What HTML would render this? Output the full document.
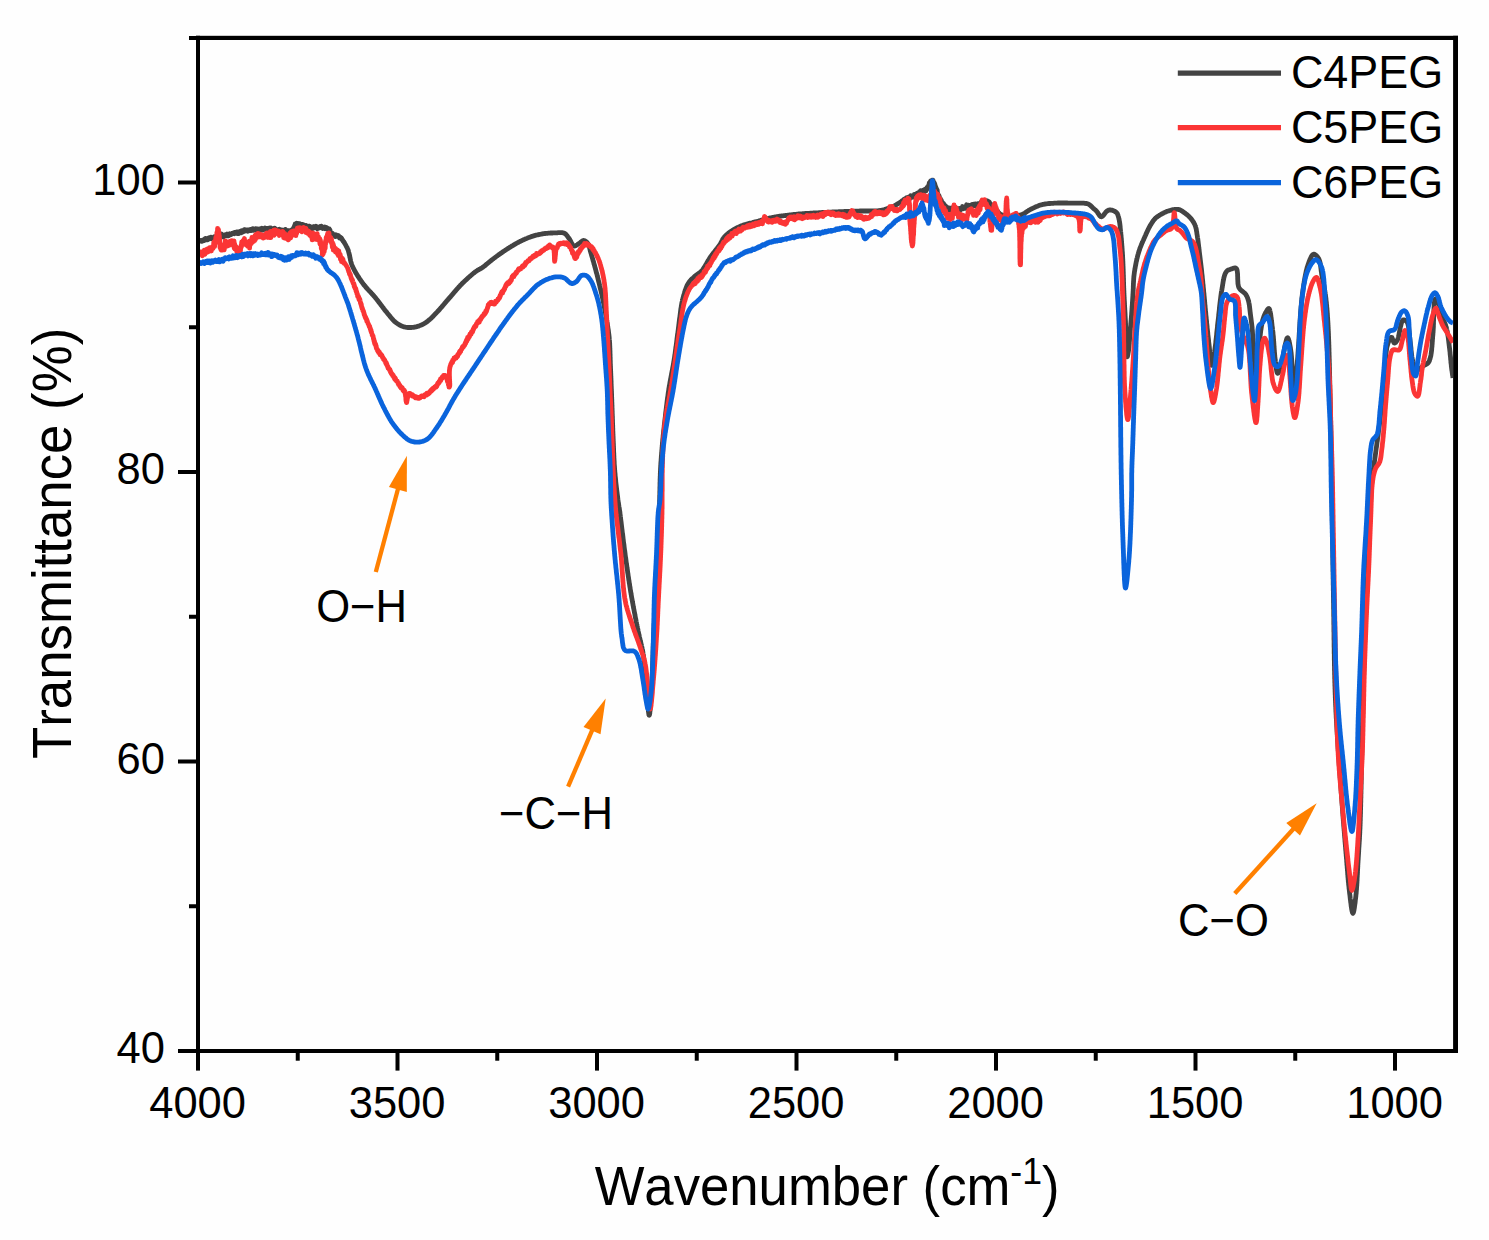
<!DOCTYPE html>
<html lang="en">
<head>
<meta charset="utf-8">
<title>FTIR spectra of C4PEG, C5PEG and C6PEG</title>
<style>
html,body{margin:0;padding:0;background:#fefefe;}
body{width:1489px;height:1240px;overflow:hidden;font-family:"Liberation Sans",sans-serif;}
svg{display:block;position:absolute;left:0;top:0;}
.t{font-family:"Liberation Sans",sans-serif;font-size:42.6px;fill:#000;font-kerning:none;}
</style>
</head>
<body>
<svg width="1489" height="1240" viewBox="0 0 1489 1240">
<rect x="0" y="0" width="1489" height="1240" fill="#fefefe"/>
<rect x="200.0" y="40.0" width="1253.1" height="1009.0" fill="#fefefe"/>
<g shape-rendering="auto">
<rect x="178.00" y="1049.00" width="19.00" height="4.00" fill="#000"/>
<rect x="178.00" y="759.50" width="19.00" height="4.00" fill="#000"/>
<rect x="178.00" y="470.00" width="19.00" height="4.00" fill="#000"/>
<rect x="178.00" y="180.50" width="19.00" height="4.00" fill="#000"/>
<rect x="189.00" y="904.25" width="8.00" height="4.00" fill="#000"/>
<rect x="189.00" y="614.75" width="8.00" height="4.00" fill="#000"/>
<rect x="189.00" y="325.25" width="8.00" height="4.00" fill="#000"/>
<rect x="189.00" y="36.00" width="8.00" height="4.00" fill="#000"/>
<rect x="196.00" y="1052.00" width="4.00" height="18.60" fill="#000"/>
<rect x="395.50" y="1052.00" width="4.00" height="18.60" fill="#000"/>
<rect x="595.00" y="1052.00" width="4.00" height="18.60" fill="#000"/>
<rect x="794.50" y="1052.00" width="4.00" height="18.60" fill="#000"/>
<rect x="994.00" y="1052.00" width="4.00" height="18.60" fill="#000"/>
<rect x="1193.50" y="1052.00" width="4.00" height="18.60" fill="#000"/>
<rect x="1393.00" y="1052.00" width="4.00" height="18.60" fill="#000"/>
<rect x="295.75" y="1052.00" width="4.00" height="8.70" fill="#000"/>
<rect x="495.25" y="1052.00" width="4.00" height="8.70" fill="#000"/>
<rect x="694.75" y="1052.00" width="4.00" height="8.70" fill="#000"/>
<rect x="894.25" y="1052.00" width="4.00" height="8.70" fill="#000"/>
<rect x="1093.75" y="1052.00" width="4.00" height="8.70" fill="#000"/>
<rect x="1293.25" y="1052.00" width="4.00" height="8.70" fill="#000"/>
</g>
<clipPath id="pc"><rect x="200.0" y="40.0" width="1253.1" height="1009.0"/></clipPath>
<g clip-path="url(#pc)">
<path d="M198.0 241.4L198.8 241.1L199.1 241.0L199.4 240.9L199.6 241.0L199.9 241.0L200.2 240.8L200.4 240.6L200.7 240.9L201.0 240.9L201.2 241.1L201.5 240.5L201.8 240.5L202.0 240.8L202.3 241.2L202.6 240.5L202.8 240.4L203.1 240.0L203.4 240.1L203.7 240.7L203.9 240.5L204.2 240.6L204.5 239.1L204.7 240.2L205.0 239.2L205.3 239.9L205.5 238.3L205.8 239.4L206.1 238.9L206.3 239.9L206.6 239.2L206.9 239.7L207.2 238.8L207.4 239.9L207.7 238.6L208.0 239.7L208.2 238.4L208.5 238.1L208.8 239.0L209.0 238.4L209.3 238.5L209.6 237.8L209.8 238.3L210.1 238.5L210.4 238.1L210.7 238.6L210.9 237.2L211.2 238.7L211.5 238.0L211.7 238.9L212.0 238.0L212.3 237.8L212.5 237.8L212.8 238.1L213.1 238.2L213.3 237.7L213.6 237.5L213.9 238.0L214.1 238.2L214.4 236.8L214.7 237.1L214.9 237.3L215.2 238.4L215.5 238.2L215.7 237.9L216.0 237.6L216.3 236.7L216.5 237.7L216.8 236.8L217.1 236.5L217.3 237.7L217.6 235.9L217.9 237.2L218.1 236.5L218.4 235.8L218.7 236.3L218.9 235.7L219.2 236.2L219.5 235.7L219.7 235.4L220.0 237.3L220.3 235.6L220.5 236.3L220.8 235.7L221.1 236.1L221.3 235.1L221.6 235.2L221.8 234.0L222.1 236.2L222.4 235.9L222.6 235.1L222.9 236.1L223.2 236.0L223.4 237.1L223.7 235.7L223.9 236.0L224.2 235.8L224.5 235.8L224.7 235.3L225.0 235.1L225.2 235.6L225.5 235.8L225.8 234.5L226.1 234.5L226.3 235.0L226.6 235.9L226.9 234.8L227.2 234.1L227.5 235.3L227.7 235.2L228.0 235.8L228.3 234.9L228.6 235.7L228.8 234.3L229.1 235.0L229.4 234.6L229.7 233.8L229.9 234.2L230.2 234.9L230.5 234.8L230.8 233.9L231.0 234.6L231.3 234.4L231.6 234.3L231.9 233.9L232.1 233.8L232.4 233.2L232.7 233.5L233.0 233.5L233.3 232.9L233.5 233.1L233.8 233.2L234.1 233.2L234.4 233.6L234.6 232.4L234.9 232.7L235.2 233.0L235.4 232.6L235.7 232.9L236.0 232.4L236.3 233.2L236.5 232.6L236.8 232.1L237.1 233.1L237.4 233.6L237.6 231.8L237.9 232.7L238.2 232.8L238.4 233.3L238.7 233.5L239.0 232.5L239.3 231.7L239.5 232.7L239.8 232.7L240.1 232.3L240.3 232.0L240.6 231.4L240.9 232.9L241.1 231.0L241.4 230.8L241.7 231.9L241.9 231.5L242.2 231.7L242.5 231.4L242.7 232.0L243.0 231.9L243.3 230.8L243.5 231.5L243.8 230.4L244.0 230.0L244.3 231.4L244.6 230.6L244.8 229.6L245.1 230.7L245.3 230.3L245.6 230.8L245.9 230.5L246.1 230.1L246.4 230.1L246.6 230.8L246.9 229.9L247.2 230.5L247.4 229.9L247.7 230.6L247.9 231.3L248.2 230.7L248.4 230.9L248.7 230.6L248.9 229.9L249.2 230.2L249.4 230.3L249.7 230.5L250.0 229.9L250.3 230.5L250.6 229.8L250.9 230.1L251.2 230.1L251.4 229.4L251.7 230.5L252.0 230.0L252.3 229.9L252.6 229.8L252.8 228.7L253.1 229.0L253.4 229.3L253.7 230.2L253.9 229.3L254.2 229.9L254.5 229.1L254.8 229.1L255.0 229.3L255.3 230.1L255.6 228.7L255.8 229.4L256.1 229.7L256.4 229.5L256.6 229.5L256.9 229.8L257.2 229.6L257.4 228.9L257.7 229.7L258.0 229.0L258.2 229.2L258.5 230.1L258.8 230.6L259.0 230.1L259.3 229.6L259.6 229.0L259.8 229.0L260.1 230.2L260.4 229.5L260.6 228.6L260.9 230.1L261.2 229.6L261.4 230.0L261.7 229.5L262.0 228.3L262.2 229.0L262.5 229.3L262.8 229.3L263.1 230.1L263.3 229.0L263.6 229.3L263.9 229.3L264.2 229.3L264.4 228.8L264.7 228.7L265.0 228.0L265.3 229.4L265.6 229.1L265.8 229.3L266.1 228.6L266.4 229.1L266.7 228.6L267.0 228.6L267.3 229.2L267.6 229.3L267.8 229.2L268.1 228.9L268.3 228.6L268.6 229.5L268.9 229.4L269.1 228.4L269.4 228.1L269.7 228.9L270.0 228.9L270.2 228.4L270.5 230.1L270.8 228.0L271.1 228.7L271.4 229.3L271.7 229.8L272.0 228.5L272.3 229.2L272.6 230.2L272.9 230.1L273.2 229.3L273.5 229.4L273.8 228.9L274.1 229.5L274.4 228.8L274.7 228.2L275.0 228.5L275.3 229.4L275.6 228.8L275.9 230.1L276.2 230.3L276.5 230.2L276.8 230.1L277.2 230.4L277.5 230.0L277.8 230.3L278.1 230.2L278.4 230.3L278.7 229.4L279.0 229.6L279.3 229.4L279.6 230.3L280.0 230.2L280.3 229.6L280.6 229.6L280.9 229.9L281.2 230.7L281.5 230.3L281.8 230.3L282.1 230.2L282.4 230.5L282.7 231.4L283.0 230.3L283.3 230.5L283.6 231.5L283.8 231.0L284.1 230.1L284.4 231.2L284.7 230.0L285.0 230.9L285.3 229.4L285.5 230.2L285.8 231.2L286.1 230.5L286.3 230.5L286.6 230.9L286.9 230.9L287.1 230.7L287.4 230.6L287.6 231.9L287.8 231.8L288.1 231.3L288.3 230.6L288.6 231.0L288.8 231.2L289.0 231.6L289.2 232.2L289.4 231.2L289.7 231.6L289.9 231.3L290.1 231.6L290.3 231.2L290.4 231.6L290.6 231.9L290.8 231.0L291.0 231.0L291.1 231.1L291.3 230.2L291.5 231.7L291.6 230.0L291.8 230.4L292.0 229.8L292.3 230.8L292.5 229.5L292.7 229.3L292.9 230.3L293.1 229.0L293.2 228.5L293.3 228.6L293.5 228.5L293.6 227.8L293.7 227.8L293.8 227.6L293.9 227.7L294.0 227.4L294.2 227.1L294.3 226.3L294.4 226.5L294.5 225.7L294.6 226.1L294.8 225.4L294.9 224.8L295.1 225.4L295.2 223.9L295.4 224.0L295.6 224.0L295.9 224.3L296.1 223.6L296.3 223.6L296.6 223.2L296.8 224.2L297.1 223.7L297.4 225.2L297.6 224.5L297.9 223.5L298.2 224.8L298.5 224.2L298.7 224.7L299.0 223.6L299.3 224.8L299.6 224.8L299.9 224.1L300.2 223.9L300.5 224.2L300.7 224.5L300.9 225.6L301.2 225.3L301.4 225.2L301.6 224.4L301.9 224.4L302.1 224.8L302.4 224.5L302.6 224.5L302.9 224.7L303.1 225.4L303.4 225.0L303.6 225.3L303.9 225.1L304.1 225.3L304.4 225.3L304.7 226.2L304.9 225.9L305.2 226.6L305.5 225.8L305.8 226.6L306.0 225.4L306.3 226.0L306.6 226.3L306.9 226.1L307.2 226.5L307.5 226.1L307.8 226.6L308.1 226.4L308.4 226.8L308.7 226.7L309.0 226.4L309.3 226.7L309.6 226.9L309.9 226.3L310.2 227.1L310.4 227.7L310.6 227.1L310.9 227.5L311.1 227.6L311.4 227.0L311.7 228.1L311.9 228.8L312.2 227.1L312.5 228.7L312.8 227.2L313.1 228.3L313.4 226.6L313.6 228.1L313.9 227.5L314.2 226.8L314.5 227.0L314.8 226.8L315.2 226.9L315.5 227.6L315.8 227.4L316.1 226.3L316.4 227.5L316.7 227.9L317.0 227.8L317.3 228.7L317.7 227.0L318.0 228.0L318.3 227.8L318.6 228.1L318.9 226.9L319.2 226.9L319.6 227.4L319.9 227.4L320.2 226.4L320.5 227.5L320.8 227.3L321.1 227.7L321.4 226.1L321.7 227.7L322.0 227.0L322.3 227.3L322.6 227.9L322.9 228.4L323.2 227.7L323.5 227.5L323.8 228.2L324.0 227.1L324.3 227.5L324.6 227.3L324.8 227.1L325.1 227.7L325.3 228.7L325.6 227.8L325.8 228.0L326.1 227.8L326.3 228.4L326.5 228.0L326.7 227.6L327.0 228.2L327.2 228.9L327.3 228.2L327.5 229.0L327.7 228.4L327.9 229.6L328.1 228.8L328.3 229.1L328.5 228.8L328.8 229.5L328.9 229.1L329.1 228.7L329.3 229.7L329.4 229.2L329.6 230.7L329.7 230.6L329.8 230.5L329.9 231.2L330.0 229.8L330.1 232.2L330.2 231.4L330.3 232.4L330.5 233.6L330.6 231.8L330.7 232.7L330.8 233.3L331.0 233.5L331.1 232.6L331.3 233.2L331.5 234.5L331.7 233.7L331.9 234.3L332.1 233.5L332.3 233.8L332.6 233.4L332.8 234.6L333.1 235.2L333.4 234.7L333.6 234.7L333.9 235.0L334.2 235.2L334.4 234.9L334.7 235.4L335.0 236.2L335.3 236.4L335.6 235.1L335.9 234.7L336.2 236.4L336.5 236.0L336.8 236.1L337.0 235.9L337.3 235.5L337.6 236.2L337.9 236.4L338.2 236.5L338.4 235.5L338.7 236.8L338.9 236.2L339.1 236.3L339.3 236.8L339.5 236.6L339.6 238.1L339.8 237.3L340.0 237.3L340.2 237.2L340.3 237.6L340.5 237.5L340.7 238.1L340.9 238.3L341.0 238.5L341.2 237.8L341.4 238.4L341.5 238.7L341.7 238.5L341.9 239.3L342.1 239.4L342.2 239.7L342.4 240.0L342.6 240.0L342.7 240.7L342.9 240.8L343.1 240.7L343.2 241.2L343.4 241.4L343.5 241.4L343.7 241.7L343.9 242.1L344.0 242.0L344.2 242.4L344.3 242.8L344.5 243.0L344.6 243.2L344.8 243.5L344.9 243.7L345.4 244.5L345.8 245.3L346.2 246.1L346.7 246.8L347.0 247.6L347.4 248.4L347.7 249.1L348.0 249.8L348.3 250.5L348.5 251.3L348.7 252.1L348.9 252.8L349.1 253.6L349.3 254.4L349.5 255.2L349.7 256.0L349.8 256.9L350.0 257.7L350.2 258.5L350.3 259.3L350.5 260.1L350.7 261.0L350.9 261.8L351.1 262.6L351.4 263.4L351.6 264.2L351.9 265.0L352.2 265.7L352.6 266.5L352.9 267.2L353.2 267.9L353.6 268.6L354.0 269.4L354.3 270.1L354.7 270.8L355.1 271.5L355.5 272.2L355.9 273.0L356.4 273.7L356.8 274.4L357.2 275.1L357.7 275.8L358.1 276.5L358.6 277.2L359.0 277.9L359.5 278.6L359.9 279.3L360.4 279.9L360.9 280.6L361.3 281.3L361.8 281.9L362.3 282.6L362.7 283.2L363.2 283.9L363.7 284.6L364.2 285.2L364.8 285.8L365.3 286.4L365.8 287.1L366.3 287.7L366.9 288.3L367.4 288.9L367.9 289.5L368.5 290.0L369.0 290.6L369.6 291.2L370.1 291.8L370.7 292.4L371.2 293.0L371.8 293.6L372.3 294.2L372.9 294.8L373.4 295.4L373.9 296.0L374.5 296.6L375.0 297.2L375.5 297.9L376.0 298.5L376.6 299.2L377.1 299.8L377.6 300.5L378.1 301.2L378.6 301.9L379.2 302.6L379.7 303.2L380.2 303.9L380.7 304.6L381.2 305.3L381.8 306.0L382.3 306.7L382.8 307.3L383.3 308.0L383.8 308.7L384.3 309.3L384.8 310.0L385.3 310.6L385.8 311.2L386.3 311.8L386.8 312.4L387.2 313.0L387.8 313.7L388.4 314.4L388.9 315.0L389.5 315.7L390.0 316.4L390.5 317.0L391.1 317.7L391.6 318.3L392.1 318.9L392.7 319.5L393.2 320.1L393.7 320.6L394.3 321.2L394.8 321.7L395.4 322.2L396.0 322.6L396.7 323.1L397.4 323.6L398.1 324.1L398.8 324.5L399.5 324.9L400.2 325.3L400.9 325.7L401.7 326.0L402.4 326.3L403.2 326.6L404.0 326.8L404.7 327.0L405.5 327.2L406.3 327.3L407.1 327.4L407.9 327.5L408.7 327.5L409.5 327.5L410.3 327.5L411.2 327.5L412.0 327.4L412.8 327.4L413.6 327.3L414.4 327.1L415.2 327.0L416.0 326.8L416.8 326.6L417.5 326.4L418.3 326.2L419.1 325.9L419.8 325.6L420.6 325.3L421.3 325.0L422.1 324.7L422.8 324.3L423.6 323.9L424.3 323.5L425.0 323.1L425.7 322.6L426.4 322.2L427.0 321.7L427.7 321.2L428.3 320.7L428.9 320.2L429.5 319.7L430.1 319.1L430.8 318.6L431.4 318.0L432.0 317.4L432.6 316.8L433.2 316.2L433.8 315.5L434.4 314.9L435.0 314.3L435.6 313.6L436.2 313.0L436.8 312.4L437.3 311.9L437.8 311.3L438.3 310.8L438.9 310.2L439.4 309.6L439.9 309.0L440.4 308.4L441.0 307.8L441.5 307.2L442.0 306.6L442.6 305.9L443.1 305.3L443.6 304.7L444.2 304.0L444.7 303.4L445.2 302.8L445.8 302.1L446.3 301.5L446.8 300.9L447.4 300.3L447.9 299.6L448.5 299.0L449.0 298.4L449.5 297.8L450.1 297.2L450.6 296.6L451.1 296.0L451.6 295.4L452.2 294.7L452.7 294.1L453.2 293.5L453.8 292.9L454.3 292.2L454.8 291.6L455.4 291.0L455.9 290.4L456.4 289.8L457.0 289.1L457.5 288.5L458.1 287.9L458.6 287.3L459.2 286.7L459.7 286.1L460.3 285.5L460.8 284.9L461.4 284.4L461.9 283.8L462.5 283.2L463.1 282.7L463.7 282.1L464.3 281.5L464.9 280.9L465.6 280.3L466.2 279.7L466.9 279.1L467.5 278.5L468.2 277.9L468.8 277.3L469.5 276.7L470.1 276.2L470.7 275.6L471.4 275.1L472.0 274.5L472.6 274.0L473.2 273.5L473.8 273.1L474.4 272.6L474.9 272.2L475.5 271.7L476.0 271.4L476.5 271.0L477.3 270.5L478.0 270.0L478.7 269.7L479.3 269.3L480.0 269.0L480.6 268.7L481.3 268.2L482.1 267.7L482.6 267.4L483.2 267.0L483.8 266.5L484.4 266.1L485.0 265.6L485.6 265.1L486.2 264.5L486.9 264.0L487.5 263.5L488.2 262.9L488.9 262.4L489.5 261.8L490.2 261.2L490.9 260.7L491.6 260.1L492.2 259.6L492.9 259.1L493.5 258.6L494.2 258.1L494.9 257.6L495.5 257.1L496.2 256.6L496.9 256.1L497.5 255.6L498.2 255.1L498.9 254.7L499.5 254.2L500.2 253.7L500.9 253.2L501.6 252.8L502.2 252.3L502.9 251.8L503.6 251.4L504.3 250.9L504.9 250.5L505.6 250.0L506.3 249.6L507.0 249.1L507.7 248.7L508.4 248.2L509.1 247.8L509.8 247.3L510.5 246.9L511.2 246.5L511.9 246.0L512.7 245.6L513.4 245.2L514.1 244.7L514.8 244.3L515.5 243.9L516.2 243.5L516.9 243.1L517.7 242.7L518.4 242.3L519.1 241.9L519.9 241.6L520.6 241.2L521.4 240.8L522.1 240.4L522.9 240.1L523.6 239.7L524.4 239.4L525.1 239.0L525.9 238.7L526.7 238.4L527.4 238.1L528.2 237.7L528.9 237.5L529.7 237.2L530.5 236.9L531.3 236.6L532.1 236.4L532.9 236.1L533.7 235.9L534.5 235.6L535.3 235.4L536.1 235.2L536.9 235.0L537.7 234.8L538.5 234.6L539.3 234.5L540.1 234.3L541.0 234.2L541.8 234.0L542.6 233.9L543.4 233.7L544.2 233.6L545.0 233.5L545.8 233.4L546.6 233.3L547.5 233.3L548.3 233.2L549.1 233.1L549.9 233.1L550.7 233.0L551.5 233.0L552.3 233.0L553.1 232.9L553.9 232.9L554.7 232.9L555.5 232.9L556.4 232.8L557.3 232.8L558.1 232.7L559.0 232.7L559.9 232.6L560.7 232.6L561.5 232.6L562.3 232.7L563.0 232.8L563.7 233.0L564.4 233.3L565.0 233.7L565.7 234.1L566.2 234.7L566.7 235.3L567.2 235.9L567.7 236.6L568.2 237.3L568.7 238.0L569.2 238.7L569.7 239.4L570.2 240.3L570.6 241.1L571.1 242.1L571.5 243.0L572.0 243.8L572.5 244.6L573.0 245.2L573.5 245.7L574.0 246.0L574.8 246.0L575.6 245.7L576.4 245.2L577.2 244.7L578.1 244.1L578.9 243.5L579.6 243.1L580.3 242.5L581.0 242.0L581.7 241.4L582.4 240.9L583.0 240.6L583.7 240.5L584.5 240.7L585.2 241.0L586.0 241.5L586.7 242.1L587.3 242.8L587.9 243.5L588.3 244.1L588.6 244.8L588.9 245.5L589.2 246.2L589.4 247.0L589.6 247.8L589.8 248.7L590.0 249.6L590.2 250.5L590.5 251.4L590.7 252.3L591.0 253.2L591.2 253.9L591.4 254.6L591.6 255.3L591.8 256.0L592.0 256.7L592.2 257.5L592.5 258.3L592.7 259.0L592.9 259.8L593.1 260.6L593.4 261.4L593.6 262.2L593.8 263.0L594.0 263.8L594.3 264.6L594.5 265.4L594.7 266.2L594.9 267.0L595.2 267.8L595.4 268.6L595.6 269.4L595.8 270.2L596.0 271.0L596.2 271.8L596.4 272.6L596.7 273.4L596.9 274.2L597.1 275.0L597.3 275.9L597.5 276.7L597.7 277.5L597.9 278.3L598.1 279.2L598.3 280.0L598.5 280.8L598.7 281.6L598.9 282.4L599.1 283.2L599.3 284.0L599.5 284.8L599.7 285.6L599.9 286.3L600.0 287.1L600.2 287.9L600.4 288.7L600.6 289.5L600.8 290.2L601.0 291.0L601.1 291.7L601.3 292.5L601.5 293.2L601.7 294.0L601.8 294.7L602.0 295.5L602.2 296.2L602.3 297.0L602.5 297.8L602.7 298.7L602.9 299.5L603.1 300.4L603.2 301.1L603.3 301.8L603.5 302.5L603.6 303.2L603.8 304.0L603.9 304.8L604.1 305.6L604.2 306.4L604.4 307.2L604.5 308.0L604.7 308.8L604.9 309.6L605.0 310.5L605.2 311.3L605.3 312.2L605.5 313.0L605.6 313.9L605.8 314.7L605.9 315.6L606.1 316.4L606.2 317.2L606.4 318.1L606.5 318.9L606.6 319.7L606.8 320.5L606.9 321.3L607.0 322.1L607.2 322.8L607.3 323.6L607.4 324.3L607.5 325.0L607.6 325.9L607.8 326.8L607.9 327.7L608.0 328.5L608.2 329.3L608.3 330.1L608.4 330.9L608.5 331.7L608.6 332.5L608.7 333.3L608.8 334.1L608.9 334.8L609.0 335.7L609.1 336.5L609.2 337.3L609.2 338.2L609.3 339.1L609.4 340.0L609.5 340.7L609.5 341.4L609.6 342.2L609.6 342.9L609.7 343.7L609.7 344.4L609.7 345.2L609.8 346.0L609.8 346.8L609.8 347.6L609.9 348.4L609.9 349.2L609.9 350.0L610.0 350.9L610.0 351.7L610.0 352.5L610.0 353.4L610.1 354.2L610.1 355.0L610.1 355.9L610.1 356.7L610.2 357.5L610.2 358.4L610.2 359.2L610.2 360.1L610.3 360.9L610.3 361.7L610.3 362.6L610.3 363.4L610.4 364.2L610.4 365.0L610.4 365.8L610.5 366.6L610.5 367.4L610.5 368.2L610.6 369.0L610.6 369.8L610.6 370.6L610.7 371.5L610.7 372.3L610.7 373.1L610.8 373.9L610.8 374.7L610.8 375.5L610.9 376.3L610.9 377.1L610.9 377.9L611.0 378.7L611.0 379.5L611.0 380.3L611.1 381.1L611.1 381.9L611.1 382.7L611.1 383.5L611.2 384.4L611.2 385.2L611.2 386.0L611.3 386.8L611.3 387.6L611.3 388.4L611.4 389.2L611.4 390.0L611.4 390.8L611.5 391.6L611.5 392.4L611.5 393.2L611.6 394.0L611.6 394.8L611.6 395.6L611.6 396.5L611.7 397.3L611.7 398.1L611.7 398.9L611.8 399.7L611.8 400.5L611.8 401.3L611.8 402.1L611.9 402.9L611.9 403.7L611.9 404.5L612.0 405.3L612.0 406.1L612.0 406.9L612.0 407.7L612.1 408.5L612.1 409.4L612.1 410.2L612.2 411.0L612.2 411.8L612.2 412.6L612.2 413.4L612.3 414.2L612.3 415.0L612.3 415.8L612.4 416.6L612.4 417.4L612.4 418.2L612.4 419.0L612.5 419.8L612.5 420.6L612.5 421.4L612.5 422.2L612.6 423.0L612.6 423.8L612.6 424.6L612.7 425.4L612.7 426.2L612.7 427.0L612.7 427.8L612.8 428.6L612.8 429.4L612.8 430.2L612.8 431.0L612.9 431.8L612.9 432.6L612.9 433.4L613.0 434.2L613.0 435.0L613.0 435.8L613.1 436.7L613.1 437.5L613.1 438.3L613.2 439.2L613.2 440.0L613.2 440.8L613.3 441.6L613.3 442.3L613.3 443.1L613.4 443.9L613.4 444.7L613.4 445.5L613.5 446.3L613.5 447.1L613.5 447.9L613.6 448.7L613.6 449.5L613.6 450.3L613.6 451.2L613.7 452.0L613.7 452.8L613.8 453.6L613.8 454.4L613.8 455.2L613.9 456.1L613.9 456.9L613.9 457.7L614.0 458.5L614.0 459.4L614.1 460.2L614.1 461.0L614.2 461.8L614.2 462.6L614.2 463.5L614.3 464.3L614.3 465.1L614.4 465.9L614.5 466.7L614.5 467.6L614.6 468.4L614.6 469.2L614.7 470.0L614.8 470.8L614.8 471.6L614.9 472.5L615.0 473.3L615.1 474.2L615.1 475.0L615.2 475.9L615.3 476.7L615.4 477.6L615.5 478.5L615.6 479.3L615.7 480.2L615.7 481.1L615.8 482.0L615.9 482.8L616.0 483.7L616.1 484.6L616.2 485.4L616.3 486.3L616.4 487.1L616.5 488.0L616.6 488.8L616.7 489.7L616.8 490.5L616.9 491.3L617.0 492.1L617.1 492.9L617.2 493.7L617.3 494.4L617.4 495.2L617.5 495.9L617.6 496.6L617.7 497.3L617.7 498.0L617.8 498.7L617.9 499.4L618.0 500.0L618.1 500.9L618.2 501.8L618.4 502.6L618.5 503.4L618.6 504.1L618.7 504.8L618.8 505.5L618.9 506.2L619.0 506.9L619.2 507.6L619.3 508.3L619.4 509.1L619.5 510.0L619.7 510.9L619.8 511.9L619.9 512.5L620.0 513.1L620.0 513.7L620.1 514.3L620.2 514.9L620.3 515.6L620.4 516.3L620.5 516.9L620.6 517.7L620.6 518.4L620.7 519.1L620.8 519.8L620.9 520.6L621.0 521.4L621.1 522.1L621.2 522.9L621.3 523.7L621.4 524.5L621.5 525.4L621.6 526.2L621.7 527.0L621.8 527.9L621.9 528.7L622.0 529.6L622.1 530.4L622.2 531.3L622.3 532.2L622.4 533.1L622.6 533.9L622.7 534.8L622.8 535.7L622.9 536.6L623.0 537.5L623.1 538.4L623.2 539.3L623.3 540.1L623.4 541.0L623.5 541.9L623.6 542.8L623.8 543.7L623.9 544.6L624.0 545.4L624.1 546.3L624.2 547.2L624.3 548.1L624.4 548.9L624.5 549.8L624.7 550.6L624.8 551.4L624.9 552.3L625.0 553.1L625.1 553.9L625.2 554.7L625.3 555.5L625.4 556.3L625.5 557.1L625.7 557.9L625.8 558.8L625.9 559.6L626.0 560.4L626.1 561.2L626.2 562.0L626.3 562.8L626.5 563.6L626.6 564.4L626.7 565.3L626.8 566.1L626.9 566.9L627.0 567.7L627.2 568.5L627.3 569.3L627.4 570.1L627.5 570.9L627.6 571.8L627.7 572.6L627.9 573.4L628.0 574.2L628.1 575.0L628.2 575.8L628.3 576.6L628.5 577.4L628.6 578.2L628.7 579.0L628.8 579.9L629.0 580.7L629.1 581.5L629.2 582.3L629.3 583.1L629.5 583.9L629.6 584.7L629.7 585.5L629.8 586.3L630.0 587.1L630.1 587.9L630.2 588.7L630.3 589.5L630.5 590.3L630.6 591.1L630.7 591.9L630.9 592.7L631.0 593.4L631.1 594.2L631.3 595.0L631.4 595.8L631.5 596.6L631.7 597.4L631.8 598.2L632.0 599.1L632.1 599.9L632.3 600.7L632.4 601.5L632.6 602.4L632.7 603.2L632.9 604.0L633.0 604.9L633.2 605.7L633.3 606.5L633.5 607.4L633.6 608.2L633.8 609.0L634.0 609.9L634.1 610.7L634.3 611.5L634.4 612.4L634.6 613.2L634.8 614.0L634.9 614.8L635.1 615.7L635.2 616.5L635.4 617.3L635.5 618.1L635.7 618.9L635.9 619.7L636.0 620.5L636.2 621.3L636.3 622.1L636.5 622.8L636.6 623.6L636.8 624.4L637.0 625.1L637.1 625.9L637.3 626.6L637.4 627.4L637.6 628.1L637.7 628.8L637.9 629.5L638.0 630.2L638.1 630.9L638.3 631.6L638.4 632.3L638.6 632.9L638.7 633.6L638.9 634.5L639.1 635.4L639.3 636.2L639.5 637.1L639.7 637.9L639.8 638.7L640.0 639.5L640.2 640.2L640.4 641.0L640.6 641.7L640.8 642.4L640.9 643.2L641.1 643.9L641.3 644.6L641.5 645.4L641.6 646.1L641.8 646.8L642.0 647.6L642.1 648.4L642.3 649.1L642.5 649.9L642.6 650.7L642.8 651.6L642.9 652.4L643.0 653.1L643.1 653.9L643.3 654.6L643.4 655.3L643.5 656.1L643.6 656.9L643.7 657.6L643.8 658.4L643.9 659.2L644.0 659.9L644.1 660.7L644.2 661.5L644.2 662.3L644.3 663.1L644.4 663.9L644.5 664.7L644.6 665.5L644.7 666.3L644.8 667.1L644.8 667.9L644.9 668.8L645.0 669.6L645.1 670.4L645.2 671.2L645.3 672.1L645.3 672.9L645.4 673.8L645.5 674.6L645.6 675.4L645.7 676.3L645.7 677.1L645.8 678.0L645.9 678.8L646.0 679.7L646.1 680.5L646.2 681.3L646.2 682.1L646.3 683.0L646.4 683.9L646.5 684.9L646.5 685.9L646.6 686.8L646.7 687.9L646.8 688.9L646.8 689.9L646.9 691.0L647.0 692.1L647.1 693.1L647.1 694.2L647.2 695.3L647.3 696.4L647.4 697.4L647.4 698.5L647.5 699.6L647.6 700.6L647.7 701.7L647.7 702.7L647.8 703.7L647.9 704.6L647.9 705.6L648.0 706.5L648.1 707.4L648.2 708.3L648.2 709.1L648.3 709.9L648.4 710.6L648.4 711.3L648.5 711.9L648.6 712.5L648.7 713.1L648.7 713.6L648.8 714.0L648.9 714.4L648.9 714.7L649.0 715.0L649.1 715.2L649.1 715.3L649.2 715.3L649.3 715.3L649.4 715.1L649.4 714.9L649.5 714.6L649.6 714.2L649.7 713.7L649.8 713.2L649.8 712.6L649.9 711.9L650.0 711.2L650.1 710.4L650.2 709.6L650.2 708.7L650.3 707.8L650.4 706.8L650.5 705.9L650.5 704.8L650.6 703.8L650.7 702.7L650.8 701.7L650.8 700.6L650.9 699.5L651.0 698.4L651.0 697.3L651.1 696.2L651.2 695.1L651.2 694.1L651.3 693.0L651.4 692.0L651.4 691.0L651.5 690.0L651.5 689.3L651.6 688.6L651.6 687.9L651.7 687.2L651.7 686.5L651.7 685.8L651.8 685.1L651.8 684.4L651.9 683.6L651.9 682.9L651.9 682.1L652.0 681.3L652.0 680.6L652.0 679.8L652.1 679.0L652.1 678.2L652.1 677.4L652.2 676.6L652.2 675.8L652.2 675.0L652.3 674.2L652.3 673.4L652.3 672.6L652.4 671.7L652.4 670.9L652.4 670.1L652.5 669.2L652.5 668.4L652.5 667.5L652.6 666.7L652.6 665.9L652.6 665.0L652.6 664.2L652.7 663.3L652.7 662.5L652.7 661.6L652.8 660.8L652.8 659.9L652.8 659.0L652.8 658.2L652.9 657.3L652.9 656.5L652.9 655.6L653.0 654.8L653.0 653.9L653.0 653.1L653.0 652.2L653.1 651.4L653.1 650.6L653.1 649.7L653.2 648.9L653.2 648.1L653.2 647.2L653.2 646.4L653.3 645.6L653.3 644.8L653.3 644.0L653.4 643.2L653.4 642.4L653.4 641.6L653.5 640.8L653.5 640.0L653.5 639.2L653.6 638.4L653.6 637.5L653.6 636.7L653.7 635.9L653.7 635.1L653.7 634.3L653.8 633.4L653.8 632.6L653.9 631.8L653.9 631.0L653.9 630.2L654.0 629.4L654.0 628.6L654.0 627.8L654.1 627.0L654.1 626.2L654.1 625.4L654.2 624.6L654.2 623.7L654.3 622.9L654.3 622.1L654.3 621.3L654.4 620.5L654.4 619.8L654.4 619.0L654.5 618.2L654.5 617.4L654.5 616.6L654.6 615.8L654.6 615.0L654.7 614.2L654.7 613.4L654.7 612.6L654.8 611.8L654.8 611.0L654.8 610.2L654.9 609.4L654.9 608.6L654.9 607.8L655.0 607.1L655.0 606.3L655.1 605.5L655.1 604.7L655.1 603.9L655.2 603.1L655.2 602.3L655.2 601.5L655.3 600.7L655.3 600.0L655.4 599.2L655.4 598.4L655.4 597.6L655.5 596.8L655.5 596.0L655.5 595.2L655.6 594.4L655.6 593.6L655.7 592.7L655.7 591.9L655.7 591.1L655.8 590.3L655.8 589.5L655.8 588.7L655.9 587.9L655.9 587.1L656.0 586.2L656.0 585.4L656.0 584.6L656.1 583.8L656.1 583.0L656.2 582.2L656.2 581.4L656.2 580.6L656.3 579.8L656.3 579.0L656.4 578.2L656.4 577.4L656.4 576.6L656.5 575.7L656.5 574.9L656.5 574.1L656.6 573.3L656.6 572.5L656.7 571.7L656.7 570.9L656.7 570.1L656.8 569.3L656.8 568.5L656.9 567.7L656.9 566.9L656.9 566.1L657.0 565.3L657.0 564.5L657.1 563.7L657.1 562.9L657.1 562.1L657.2 561.3L657.2 560.5L657.2 559.6L657.3 558.8L657.3 558.0L657.4 557.2L657.4 556.4L657.4 555.6L657.5 554.8L657.5 554.0L657.5 553.2L657.6 552.4L657.6 551.6L657.6 550.8L657.7 550.0L657.7 549.2L657.8 548.3L657.8 547.5L657.8 546.7L657.9 545.9L657.9 545.1L657.9 544.3L658.0 543.5L658.0 542.7L658.1 541.9L658.1 541.1L658.1 540.3L658.2 539.5L658.2 538.7L658.2 537.8L658.3 537.0L658.3 536.2L658.3 535.4L658.4 534.6L658.4 533.8L658.4 533.0L658.5 532.2L658.5 531.4L658.6 530.6L658.6 529.8L658.6 529.0L658.7 528.2L658.7 527.3L658.7 526.5L658.8 525.7L658.8 524.9L658.8 524.1L658.9 523.3L658.9 522.5L658.9 521.7L659.0 520.9L659.0 520.1L659.0 519.3L659.1 518.5L659.1 517.7L659.1 516.8L659.2 516.0L659.2 515.2L659.2 514.4L659.2 513.6L659.3 512.8L659.3 512.0L659.3 511.2L659.4 510.4L659.4 509.6L659.4 508.7L659.4 507.9L659.5 507.1L659.5 506.3L659.5 505.4L659.5 504.6L659.5 503.8L659.6 502.9L659.6 502.1L659.6 501.2L659.6 500.4L659.7 499.6L659.7 498.7L659.7 497.9L659.7 497.0L659.7 496.2L659.7 495.4L659.8 494.5L659.8 493.7L659.8 492.8L659.8 492.0L659.8 491.2L659.9 490.3L659.9 489.5L659.9 488.7L659.9 487.8L659.9 487.0L660.0 486.2L660.0 485.4L660.0 484.5L660.0 483.7L660.0 482.9L660.1 482.1L660.1 481.3L660.1 480.5L660.1 479.7L660.1 479.0L660.2 478.2L660.2 477.4L660.2 476.6L660.3 475.9L660.3 475.1L660.3 474.4L660.3 473.6L660.4 472.9L660.4 472.1L660.4 471.4L660.5 470.7L660.5 470.0L660.5 469.1L660.6 468.2L660.6 467.3L660.7 466.5L660.7 465.6L660.8 464.8L660.8 463.9L660.9 463.1L660.9 462.3L661.0 461.5L661.1 460.6L661.1 459.8L661.2 459.1L661.2 458.3L661.3 457.5L661.3 456.7L661.4 455.9L661.5 455.2L661.5 454.4L661.6 453.6L661.6 452.8L661.7 452.1L661.8 451.3L661.8 450.5L661.9 449.7L662.0 449.0L662.0 448.2L662.1 447.4L662.2 446.6L662.2 445.8L662.3 445.0L662.4 444.2L662.4 443.4L662.5 442.6L662.6 441.8L662.7 441.0L662.7 440.2L662.8 439.4L662.9 438.6L663.0 437.8L663.1 437.0L663.1 436.2L663.2 435.4L663.3 434.6L663.4 433.8L663.5 433.0L663.5 432.2L663.6 431.4L663.7 430.6L663.8 429.8L663.9 429.0L664.0 428.2L664.1 427.4L664.2 426.6L664.2 425.8L664.3 425.0L664.4 424.2L664.5 423.3L664.6 422.5L664.7 421.7L664.8 420.8L664.9 420.0L665.0 419.2L665.1 418.4L665.2 417.7L665.3 416.9L665.4 416.1L665.4 415.3L665.5 414.5L665.6 413.7L665.7 412.9L665.8 412.1L665.9 411.3L666.0 410.5L666.1 409.7L666.2 408.8L666.3 408.0L666.4 407.2L666.5 406.4L666.6 405.6L666.7 404.8L666.8 403.9L666.9 403.1L667.0 402.3L667.1 401.5L667.2 400.6L667.3 399.8L667.4 399.0L667.5 398.2L667.6 397.3L667.8 396.5L667.9 395.7L668.0 394.9L668.1 394.1L668.2 393.3L668.3 392.4L668.5 391.6L668.6 390.8L668.7 390.0L668.8 389.2L668.9 388.4L669.1 387.6L669.2 386.8L669.3 386.0L669.5 385.3L669.6 384.5L669.8 383.7L669.9 382.9L670.0 382.1L670.2 381.3L670.3 380.5L670.5 379.7L670.6 378.9L670.8 378.2L670.9 377.4L671.1 376.6L671.2 375.8L671.4 375.0L671.5 374.2L671.7 373.4L671.8 372.6L672.0 371.8L672.1 371.1L672.3 370.3L672.4 369.5L672.6 368.7L672.7 367.9L672.9 367.1L673.0 366.3L673.2 365.5L673.3 364.7L673.4 364.0L673.6 363.2L673.7 362.4L673.8 361.6L674.0 360.8L674.1 360.0L674.2 359.2L674.4 358.4L674.5 357.6L674.6 356.8L674.7 356.0L674.8 355.1L675.0 354.3L675.1 353.5L675.2 352.7L675.3 351.9L675.4 351.1L675.5 350.3L675.6 349.5L675.7 348.7L675.8 347.9L675.9 347.0L676.1 346.2L676.2 345.4L676.3 344.6L676.4 343.8L676.5 343.0L676.6 342.2L676.7 341.4L676.8 340.6L676.9 339.7L677.0 338.9L677.1 338.1L677.2 337.3L677.3 336.5L677.4 335.7L677.5 334.9L677.6 334.1L677.8 333.2L677.9 332.4L678.0 331.6L678.1 330.8L678.2 330.0L678.3 329.2L678.4 328.4L678.5 327.6L678.6 326.8L678.7 325.9L678.8 325.1L678.9 324.3L679.0 323.5L679.1 322.6L679.2 321.8L679.3 320.9L679.4 320.1L679.5 319.3L679.6 318.4L679.8 317.6L679.9 316.7L680.0 315.9L680.1 315.1L680.2 314.2L680.3 313.4L680.4 312.6L680.5 311.8L680.6 311.0L680.7 310.1L680.8 309.3L680.9 308.5L681.1 307.8L681.2 307.0L681.3 306.2L681.4 305.4L681.6 304.7L681.7 303.9L681.8 303.2L682.0 302.5L682.1 301.8L682.3 301.1L682.4 300.4L682.6 299.7L682.8 298.8L683.0 297.9L683.3 297.0L683.5 296.1L683.7 295.3L684.0 294.4L684.2 293.6L684.5 292.7L684.7 291.9L685.0 291.1L685.2 290.3L685.5 289.6L685.8 288.8L686.0 288.1L686.3 287.4L686.6 286.7L686.9 286.0L687.2 285.3L687.5 284.7L687.9 284.1L688.2 283.5L688.7 282.7L689.2 281.9L689.8 281.3L690.3 280.6L690.9 280.0L691.4 279.4L692.0 278.9L692.6 278.3L693.3 277.7L693.9 277.1L694.5 276.6L695.1 276.0L695.8 275.5L696.5 275.0L697.2 274.5L697.9 274.0L698.6 273.5L699.3 273.0L699.9 272.5L700.6 271.9L701.3 271.3L701.9 270.6L702.4 270.1L702.8 269.5L703.3 268.9L703.7 268.2L704.1 267.6L704.5 266.9L705.0 266.2L705.4 265.5L705.8 264.8L706.2 264.1L706.6 263.4L707.0 262.7L707.4 261.9L707.8 261.2L708.2 260.5L708.7 259.8L709.1 259.1L709.5 258.4L710.0 257.7L710.5 257.0L710.9 256.4L711.4 255.7L711.9 255.1L712.4 254.4L712.9 253.7L713.4 253.0L714.0 252.4L714.5 251.7L715.0 251.1L715.5 250.4L716.0 249.7L716.5 249.1L717.0 248.5L717.5 247.8L718.0 247.2L718.4 246.6L718.9 246.0L719.3 245.4L719.7 244.8L720.2 244.0L720.7 243.2L721.1 242.5L721.5 241.7L721.9 241.0L722.3 240.2L722.6 239.5L723.0 238.8L723.5 238.1L724.0 237.5L724.5 236.8L725.1 236.2L725.7 235.6L726.3 235.0L726.9 234.4L727.6 233.9L728.3 233.3L729.0 232.8L729.7 232.3L730.4 231.8L731.1 231.3L731.9 230.8L732.6 230.3L733.3 229.9L734.0 229.4L734.7 229.0L735.4 228.6L736.1 228.3L736.8 227.9L737.6 227.5L738.3 227.2L739.1 226.8L739.9 226.5L740.7 226.1L741.5 225.8L742.3 225.5L743.0 225.2L743.8 225.0L744.5 224.7L745.3 224.5L746.1 224.3L746.9 224.0L747.7 223.8L748.5 223.6L749.3 223.4L750.1 223.2L750.9 223.0L751.8 222.8L752.6 222.6L753.5 222.3L754.3 222.1L755.1 221.9L756.0 221.7L756.8 221.5L757.6 221.3L758.4 221.1L759.1 220.9L759.9 220.7L760.7 220.4L761.5 220.2L762.2 220.0L763.0 219.8L763.8 219.6L764.6 219.4L765.4 219.1L766.2 218.9L767.0 218.7L767.8 218.5L768.6 218.3L769.4 218.1L770.3 217.9L771.1 217.8L772.0 217.6L772.9 217.4L773.6 217.3L774.4 217.1L775.1 217.0L775.9 216.9L776.6 216.7L777.4 216.6L778.2 216.5L779.0 216.4L779.8 216.2L780.6 216.1L781.4 216.0L782.2 215.9L783.0 215.8L783.8 215.7L784.7 215.6L785.5 215.5L786.3 215.4L787.2 215.3L788.0 215.2L788.8 215.1L789.7 215.0L790.5 214.9L791.3 214.8L792.2 214.7L793.0 214.6L793.8 214.5L794.7 214.4L795.5 214.4L796.3 214.3L797.1 214.2L797.9 214.1L798.7 214.0L799.5 214.0L800.4 213.9L801.2 213.8L802.0 213.8L802.8 213.7L803.7 213.6L804.5 213.6L805.3 213.5L806.2 213.5L807.0 213.4L807.8 213.4L808.7 213.3L809.5 213.3L810.3 213.2L811.2 213.2L812.0 213.1L812.8 213.1L813.6 213.0L814.4 213.0L815.2 212.9L816.0 212.9L816.8 212.9L817.5 212.8L818.3 212.8L819.1 212.7L819.8 212.7L820.6 212.6L821.3 212.6L822.2 212.5L823.0 212.5L823.9 212.5L824.7 212.4L825.5 212.4L826.3 212.3L827.0 212.3L827.8 212.2L828.6 212.2L829.3 212.2L830.1 212.1L830.9 212.1L831.7 212.1L832.4 212.0L833.2 212.0L834.0 211.9L834.8 211.9L835.7 211.9L836.5 211.8L837.4 211.8L838.1 211.8L838.9 211.7L839.6 211.7L840.4 211.7L841.2 211.7L842.0 211.6L842.8 211.6L843.6 211.6L844.4 211.5L845.2 211.5L846.1 211.5L846.9 211.5L847.7 211.4L848.6 211.4L849.4 211.4L850.2 211.3L851.1 211.3L851.9 211.3L852.8 211.3L853.6 211.2L854.4 211.2L855.3 211.2L856.1 211.2L856.9 211.1L857.7 211.1L858.5 211.1L859.3 211.1L860.1 211.0L860.8 211.0L861.6 211.0L862.5 211.0L863.3 211.0L864.2 211.0L865.0 211.0L865.8 211.0L866.7 211.0L867.5 211.0L868.3 211.0L869.2 211.0L870.0 211.0L870.8 211.0L871.6 211.0L872.4 211.0L873.2 211.0L874.0 211.0L874.7 211.0L875.5 210.9L876.3 210.9L877.0 210.9L877.8 210.8L878.5 210.7L879.3 210.6L880.0 210.5L880.9 210.3L881.7 210.2L882.6 210.0L883.4 209.8L884.3 209.6L885.1 209.4L885.9 209.1L886.7 208.9L887.5 208.6L888.3 208.3L889.1 208.1L889.8 207.8L890.6 207.5L891.4 207.1L892.1 206.8L892.9 206.5L893.6 206.2L894.4 205.8L895.1 205.4L895.8 205.0L896.5 204.6L897.2 204.2L897.9 203.7L898.6 203.3L899.3 202.9L900.0 202.4L900.7 201.9L900.9 201.9L901.2 201.9L901.4 201.5L901.6 201.3L901.8 201.2L902.1 200.8L902.3 201.1L902.5 200.9L902.8 200.9L903.0 201.1L903.3 200.5L903.5 200.4L903.7 200.4L904.0 201.0L904.2 199.2L904.4 199.8L904.7 199.3L904.9 199.6L905.2 199.9L905.4 199.3L905.7 199.6L905.9 199.1L906.2 198.4L906.4 198.4L906.7 197.8L906.9 198.7L907.2 198.2L907.5 198.9L907.7 198.8L908.0 197.6L908.2 197.4L908.5 198.3L908.7 197.4L909.0 197.9L909.2 198.1L909.5 197.5L909.7 198.7L910.0 197.1L910.2 197.7L910.5 197.2L910.7 195.6L911.0 197.2L911.2 197.1L911.5 197.4L911.7 196.9L912.0 196.4L912.2 196.5L912.5 196.5L912.8 197.0L913.0 196.3L913.3 197.1L913.5 196.7L913.8 195.6L914.0 196.5L914.3 194.4L914.5 195.6L914.8 194.8L915.0 195.2L915.3 195.8L915.5 195.0L915.7 194.7L916.0 195.4L916.2 194.1L916.5 193.9L916.7 194.8L917.0 194.4L917.2 193.1L917.5 193.9L917.7 194.1L918.0 193.4L918.2 193.1L918.5 193.3L918.7 193.2L919.0 192.5L919.2 193.3L919.5 191.7L919.7 192.4L920.0 193.6L920.2 191.5L920.5 192.1L920.7 190.6L921.0 191.4L921.2 191.2L921.5 191.8L921.7 191.4L922.0 192.8L922.2 191.0L922.5 191.5L922.7 191.6L923.0 191.7L923.2 191.8L923.4 190.2L923.7 192.4L923.9 190.8L924.1 190.5L924.3 189.8L924.6 190.5L924.8 189.5L925.0 190.5L925.2 189.9L925.4 190.2L925.6 189.4L925.8 189.7L926.0 190.8L926.2 190.0L926.4 189.2L926.6 188.3L926.8 189.6L927.0 187.4L927.2 187.3L927.4 188.6L927.6 187.1L927.8 188.0L928.0 187.2L928.1 187.7L928.3 187.1L928.5 186.1L928.6 185.2L928.8 185.7L929.0 185.9L929.1 184.9L929.3 182.8L929.4 184.1L929.6 183.8L929.7 183.8L929.9 183.3L930.0 184.0L930.1 182.3L930.3 183.1L930.4 181.4L930.6 181.1L930.7 181.6L930.8 181.6L931.0 181.3L931.1 181.3L931.3 181.9L931.4 181.8L931.5 181.3L931.7 181.3L931.8 180.7L932.0 180.5L932.1 180.2L932.3 180.8L932.4 180.4L932.5 180.9L932.6 181.6L932.7 181.5L932.8 182.1L932.9 180.8L933.0 180.1L933.1 180.8L933.2 182.8L933.3 182.1L933.4 181.6L933.5 182.8L933.6 181.9L933.7 183.3L933.8 182.2L933.9 182.3L934.0 183.2L934.1 182.3L934.2 183.1L934.3 184.5L934.4 183.8L934.5 183.1L934.6 183.9L934.7 184.2L934.8 184.0L934.9 185.0L935.0 185.7L935.1 185.2L935.2 186.0L935.2 185.9L935.3 186.1L935.4 185.9L935.5 187.2L935.6 187.7L935.7 187.0L935.8 187.0L935.9 188.1L936.0 188.2L936.1 189.0L936.2 188.9L936.3 188.8L936.4 188.4L936.5 189.8L936.6 189.8L936.7 189.3L936.8 189.5L936.9 189.7L937.0 191.5L937.1 191.2L937.2 189.8L937.3 191.6L937.4 192.1L937.5 192.8L937.6 193.2L937.7 193.3L937.8 194.2L937.9 194.7L938.0 194.3L938.1 195.7L938.2 194.9L938.3 194.8L938.4 195.7L938.5 195.0L938.7 195.9L938.8 195.7L938.9 196.3L939.0 196.9L939.1 195.6L939.2 197.5L939.3 197.7L939.5 197.7L939.6 198.5L939.7 198.5L939.9 198.3L940.0 198.2L940.2 199.6L940.3 199.9L940.5 198.8L940.6 199.5L940.8 199.5L941.0 201.0L941.1 200.4L941.3 200.2L941.5 202.1L941.6 201.7L941.8 201.8L941.9 202.0L942.1 202.1L942.3 202.4L942.4 203.2L942.6 203.2L942.8 203.0L943.0 203.5L943.1 204.9L943.3 203.7L943.5 203.5L943.6 204.6L943.8 204.1L944.0 206.6L944.2 205.6L944.4 205.9L944.5 206.0L944.7 207.2L944.9 205.6L945.1 206.4L945.3 205.6L945.5 207.5L945.7 206.9L945.9 208.2L946.1 207.1L946.3 206.8L946.5 207.1L946.7 208.2L946.9 207.3L947.1 208.1L947.3 207.6L947.5 207.7L947.7 208.0L947.9 209.4L948.2 207.9L948.4 208.8L948.7 209.2L948.9 208.4L949.2 208.0L949.4 209.9L949.7 210.1L950.0 209.0L950.2 208.5L950.5 209.8L950.8 209.3L951.0 208.8L951.3 209.2L951.6 208.0L951.9 209.0L952.1 208.7L952.4 208.7L952.7 209.8L953.0 209.6L953.2 210.5L953.5 207.8L953.8 209.0L954.1 208.9L954.4 210.1L954.6 210.0L954.9 209.5L955.2 209.5L955.5 209.0L955.8 209.2L956.0 209.3L956.3 208.1L956.6 210.8L956.9 210.1L957.1 210.9L957.4 210.4L957.7 210.0L957.9 210.2L958.2 208.6L958.5 209.0L958.8 210.1L959.0 209.3L959.3 208.5L959.6 209.4L959.8 208.6L960.1 209.2L960.4 210.0L960.6 208.2L960.9 208.5L961.2 208.9L961.4 208.4L961.7 208.4L962.0 207.6L962.3 207.8L962.5 206.5L962.8 207.8L963.1 208.7L963.3 207.2L963.6 207.7L963.9 208.2L964.1 208.5L964.4 208.4L964.7 207.1L964.9 207.2L965.2 208.4L965.5 206.9L965.7 207.2L966.0 206.4L966.3 206.4L966.6 204.8L966.8 206.2L967.1 205.1L967.4 205.7L967.6 205.7L967.9 207.1L968.2 206.7L968.4 206.5L968.7 205.9L969.0 205.3L969.2 206.4L969.5 205.6L969.8 206.0L970.1 206.6L970.3 205.8L970.6 205.8L970.9 205.2L971.1 206.4L971.4 206.0L971.7 206.0L972.0 206.5L972.2 204.5L972.5 205.4L972.8 205.7L973.0 205.5L973.3 205.4L973.6 205.4L973.8 204.1L974.1 205.0L974.4 205.6L974.7 204.8L974.9 204.8L975.2 205.5L975.5 203.9L975.7 205.3L976.0 206.0L976.3 205.0L976.5 204.7L976.8 205.6L977.1 205.0L977.3 204.7L977.6 205.1L977.9 203.8L978.2 205.0L978.5 203.6L978.7 203.8L979.0 204.3L979.3 203.6L979.6 203.6L979.9 204.2L980.1 204.2L980.4 204.5L980.7 202.8L981.0 203.7L981.3 202.0L981.5 203.5L981.8 203.7L982.1 202.4L982.4 202.9L982.7 203.0L982.9 202.2L983.2 201.8L983.5 202.9L983.7 201.1L984.0 201.9L984.3 202.2L984.5 201.7L984.8 202.5L985.0 202.4L985.3 201.8L985.5 202.6L985.8 202.0L986.0 200.8L986.3 201.4L986.5 201.8L986.7 201.8L987.0 200.8L987.2 203.2L987.5 200.9L987.7 201.3L987.9 202.3L988.1 202.3L988.3 203.2L988.6 202.5L988.8 202.7L989.0 203.0L989.2 202.3L989.4 202.1L989.6 202.8L989.8 203.9L990.0 203.3L990.2 204.4L990.4 203.5L990.6 204.6L990.8 204.3L991.0 205.0L991.2 204.8L991.4 205.1L991.6 205.0L991.8 206.3L992.0 205.7L992.3 206.3L992.5 206.7L992.7 206.0L992.9 206.2L993.1 206.9L993.3 207.9L993.5 206.7L993.6 206.9L993.8 207.2L994.0 207.8L994.2 207.6L994.4 208.0L994.5 209.0L994.7 208.3L994.9 209.1L995.1 208.5L995.3 209.2L995.4 209.8L995.6 208.5L995.8 209.8L996.0 210.0L996.2 210.0L996.4 210.3L996.5 210.5L996.7 210.1L996.9 210.8L997.1 211.3L997.3 211.7L997.5 211.1L997.7 211.6L997.9 211.6L998.0 212.2L998.2 212.2L998.4 212.4L998.6 212.9L998.8 213.3L999.0 212.9L999.3 213.5L999.5 213.5L999.7 213.7L1000.3 214.1L1001.0 214.5L1001.7 214.8L1002.5 215.1L1003.2 215.3L1004.0 215.5L1004.8 215.7L1005.7 215.8L1006.5 215.9L1007.4 216.0L1008.2 216.0L1009.0 216.1L1009.9 216.1L1010.7 216.1L1011.5 216.1L1012.3 216.1L1013.1 216.1L1014.0 216.0L1014.8 216.0L1015.6 215.9L1016.4 215.8L1017.2 215.7L1018.0 215.6L1018.8 215.4L1019.6 215.2L1020.4 215.0L1021.2 214.8L1021.9 214.5L1022.7 214.2L1023.4 213.8L1024.2 213.4L1024.9 213.0L1025.6 212.5L1026.3 212.0L1027.0 211.5L1027.7 211.1L1028.4 210.6L1029.2 210.1L1030.0 209.7L1030.7 209.3L1031.4 209.0L1032.1 208.6L1032.8 208.3L1033.6 207.9L1034.3 207.5L1035.1 207.2L1035.8 206.8L1036.6 206.5L1037.4 206.2L1038.1 205.9L1038.9 205.6L1039.7 205.3L1040.5 205.0L1041.3 204.8L1042.1 204.6L1042.8 204.4L1043.6 204.3L1044.4 204.1L1045.1 204.0L1045.9 203.9L1046.7 203.8L1047.5 203.7L1048.3 203.6L1049.1 203.5L1049.9 203.5L1050.8 203.4L1051.6 203.4L1052.5 203.3L1053.3 203.3L1054.2 203.2L1054.9 203.2L1055.7 203.1L1056.4 203.1L1057.2 203.1L1058.0 203.0L1058.8 203.0L1059.6 203.0L1060.4 203.0L1061.3 203.0L1062.1 203.0L1062.9 203.0L1063.8 203.0L1064.6 203.0L1065.5 203.0L1066.3 203.0L1067.1 203.0L1067.9 203.1L1068.8 203.1L1069.6 203.1L1070.4 203.1L1071.2 203.1L1072.0 203.2L1072.7 203.2L1073.5 203.2L1074.4 203.2L1075.3 203.2L1076.2 203.2L1077.0 203.2L1077.9 203.2L1078.8 203.2L1079.7 203.2L1080.6 203.2L1081.5 203.2L1082.3 203.2L1083.1 203.2L1083.9 203.2L1084.7 203.3L1085.5 203.4L1086.2 203.5L1086.9 203.6L1087.5 203.8L1088.1 204.0L1089.0 204.4L1089.8 205.0L1090.5 205.5L1091.2 206.2L1091.8 206.8L1092.4 207.4L1093.0 208.0L1093.7 208.6L1094.4 209.2L1095.1 209.8L1095.8 210.4L1096.5 211.1L1097.0 211.7L1097.5 212.4L1098.0 213.3L1098.6 214.1L1099.1 214.9L1099.6 215.6L1100.2 216.2L1100.7 216.6L1101.3 216.8L1101.9 216.7L1102.5 216.2L1103.1 215.6L1103.8 214.8L1104.4 214.0L1105.1 213.1L1105.7 212.3L1106.3 211.6L1106.9 211.1L1107.7 210.6L1108.5 210.2L1109.3 210.0L1110.2 209.9L1110.9 210.0L1111.8 210.1L1112.6 210.4L1113.5 210.7L1114.4 211.1L1115.2 211.6L1116.0 212.1L1116.6 212.7L1117.1 213.3L1117.5 214.0L1117.8 214.8L1118.1 215.6L1118.3 216.4L1118.6 217.3L1118.8 218.3L1119.0 219.2L1119.2 219.9L1119.3 220.6L1119.4 221.3L1119.6 222.1L1119.7 222.8L1119.8 223.6L1119.9 224.4L1120.0 225.2L1120.1 226.0L1120.2 226.9L1120.2 227.7L1120.3 228.6L1120.4 229.5L1120.5 230.4L1120.6 231.3L1120.7 232.0L1120.8 232.7L1120.8 233.5L1120.9 234.3L1121.0 235.0L1121.1 235.8L1121.1 236.6L1121.2 237.5L1121.3 238.3L1121.4 239.1L1121.4 240.0L1121.5 240.8L1121.6 241.6L1121.6 242.5L1121.7 243.3L1121.8 244.2L1121.8 245.0L1121.9 245.9L1122.0 246.7L1122.0 247.5L1122.1 248.3L1122.1 249.1L1122.2 249.9L1122.2 250.7L1122.3 251.5L1122.4 252.3L1122.4 253.2L1122.5 254.0L1122.5 254.8L1122.6 255.6L1122.6 256.4L1122.6 257.1L1122.7 257.9L1122.7 258.7L1122.8 259.5L1122.8 260.2L1122.8 261.0L1122.9 261.8L1122.9 262.6L1122.9 263.4L1123.0 264.2L1123.0 265.0L1123.0 265.9L1123.1 266.7L1123.1 267.6L1123.1 268.3L1123.2 269.1L1123.2 269.8L1123.2 270.6L1123.2 271.3L1123.3 272.1L1123.3 272.9L1123.3 273.7L1123.3 274.5L1123.4 275.3L1123.4 276.1L1123.4 276.9L1123.4 277.7L1123.5 278.5L1123.5 279.3L1123.5 280.1L1123.5 281.0L1123.5 281.8L1123.6 282.6L1123.6 283.5L1123.6 284.3L1123.6 285.2L1123.7 286.0L1123.7 286.9L1123.7 287.7L1123.8 288.6L1123.8 289.4L1123.8 290.3L1123.9 291.1L1123.9 292.0L1123.9 292.8L1124.0 293.6L1124.0 294.3L1124.0 295.1L1124.1 295.9L1124.1 296.7L1124.2 297.5L1124.2 298.3L1124.2 299.1L1124.3 299.9L1124.3 300.7L1124.4 301.5L1124.4 302.3L1124.5 303.1L1124.5 304.0L1124.5 304.8L1124.6 305.6L1124.6 306.4L1124.7 307.2L1124.7 308.1L1124.8 308.9L1124.8 309.7L1124.9 310.5L1124.9 311.4L1125.0 312.2L1125.0 313.0L1125.1 313.9L1125.1 314.7L1125.1 315.6L1125.2 316.4L1125.2 317.2L1125.3 318.1L1125.3 318.9L1125.4 319.8L1125.4 320.6L1125.5 321.5L1125.5 322.3L1125.5 323.1L1125.6 323.9L1125.6 324.8L1125.6 325.7L1125.7 326.6L1125.7 327.6L1125.7 328.6L1125.8 329.6L1125.8 330.6L1125.8 331.6L1125.9 332.7L1125.9 333.7L1125.9 334.8L1125.9 335.8L1126.0 336.9L1126.0 338.0L1126.0 339.1L1126.1 340.1L1126.1 341.2L1126.1 342.2L1126.2 343.2L1126.2 344.3L1126.2 345.2L1126.2 346.2L1126.3 347.2L1126.3 348.1L1126.3 349.0L1126.4 349.8L1126.4 350.6L1126.5 351.4L1126.5 352.2L1126.5 352.9L1126.6 353.5L1126.6 354.1L1126.7 354.7L1126.7 355.2L1126.8 355.6L1126.8 356.0L1126.9 356.3L1126.9 356.6L1127.0 356.7L1127.0 356.9L1127.1 356.9L1127.3 356.7L1127.5 356.1L1127.7 355.3L1127.9 354.3L1128.1 353.1L1128.3 352.0L1128.4 351.5L1128.5 350.9L1128.6 350.3L1128.6 349.6L1128.7 348.9L1128.8 348.2L1128.9 347.5L1129.0 346.7L1129.0 345.9L1129.1 345.1L1129.2 344.2L1129.3 343.4L1129.3 342.5L1129.4 341.6L1129.5 340.7L1129.5 339.8L1129.6 338.9L1129.7 338.0L1129.8 337.1L1129.8 336.3L1129.9 335.4L1130.0 334.5L1130.0 333.6L1130.1 332.8L1130.2 331.9L1130.2 331.1L1130.3 330.3L1130.4 329.5L1130.4 328.7L1130.5 327.8L1130.6 327.0L1130.6 326.2L1130.7 325.4L1130.8 324.6L1130.8 323.7L1130.9 322.9L1131.0 322.1L1131.0 321.3L1131.1 320.5L1131.2 319.7L1131.2 318.9L1131.3 318.0L1131.4 317.2L1131.4 316.4L1131.5 315.6L1131.6 314.9L1131.6 314.1L1131.7 313.3L1131.7 312.5L1131.8 311.7L1131.8 311.0L1131.9 310.2L1132.0 309.4L1132.0 308.5L1132.1 307.7L1132.1 306.9L1132.2 306.1L1132.3 305.2L1132.3 304.4L1132.4 303.6L1132.4 302.8L1132.5 302.1L1132.5 301.3L1132.6 300.5L1132.6 299.7L1132.7 298.9L1132.7 298.1L1132.8 297.3L1132.8 296.5L1132.9 295.7L1132.9 294.8L1133.0 294.0L1133.0 293.2L1133.1 292.4L1133.1 291.6L1133.2 290.9L1133.2 290.1L1133.2 289.3L1133.3 288.4L1133.3 287.6L1133.3 286.8L1133.3 286.0L1133.4 285.2L1133.4 284.4L1133.4 283.6L1133.5 282.8L1133.5 281.9L1133.6 281.1L1133.6 280.3L1133.7 279.5L1133.7 278.7L1133.8 277.9L1133.8 277.2L1133.9 276.4L1134.0 275.6L1134.1 274.8L1134.2 273.9L1134.3 273.1L1134.4 272.3L1134.5 271.4L1134.7 270.6L1134.8 269.8L1134.9 268.9L1135.1 268.1L1135.2 267.3L1135.4 266.5L1135.5 265.7L1135.7 264.9L1135.8 264.1L1136.0 263.3L1136.1 262.5L1136.3 261.7L1136.5 261.0L1136.6 260.2L1136.8 259.5L1137.0 258.6L1137.2 257.8L1137.4 256.9L1137.6 256.1L1137.8 255.3L1138.0 254.5L1138.3 253.7L1138.5 252.9L1138.7 252.1L1139.0 251.3L1139.2 250.6L1139.5 249.8L1139.7 249.0L1140.0 248.2L1140.3 247.4L1140.6 246.7L1140.9 245.9L1141.2 245.2L1141.5 244.4L1141.8 243.6L1142.1 242.9L1142.5 242.1L1142.8 241.4L1143.1 240.6L1143.5 239.9L1143.8 239.1L1144.1 238.4L1144.5 237.6L1144.8 236.9L1145.1 236.1L1145.5 235.4L1145.8 234.6L1146.1 233.8L1146.5 233.1L1146.8 232.3L1147.2 231.6L1147.5 230.8L1147.9 230.1L1148.2 229.3L1148.6 228.6L1148.9 227.9L1149.3 227.2L1149.7 226.5L1150.1 225.8L1150.5 225.0L1151.0 224.3L1151.4 223.6L1151.9 222.9L1152.3 222.2L1152.8 221.5L1153.2 220.8L1153.7 220.2L1154.2 219.6L1154.8 219.0L1155.3 218.4L1155.9 217.8L1156.6 217.2L1157.3 216.7L1158.0 216.2L1158.8 215.7L1159.5 215.2L1160.3 214.8L1161.1 214.3L1161.8 213.9L1162.6 213.5L1163.4 213.1L1164.1 212.7L1164.9 212.3L1165.7 212.0L1166.5 211.6L1167.3 211.3L1168.2 211.0L1169.0 210.8L1169.8 210.5L1170.6 210.3L1171.4 210.1L1172.2 209.9L1173.1 209.7L1173.9 209.6L1174.7 209.5L1175.6 209.4L1176.4 209.3L1177.2 209.3L1178.0 209.4L1178.7 209.5L1179.5 209.7L1180.2 210.0L1180.9 210.4L1181.6 210.8L1182.3 211.2L1183.0 211.7L1183.7 212.2L1184.4 212.7L1185.1 213.2L1185.7 213.7L1186.4 214.2L1187.1 214.7L1187.7 215.3L1188.4 215.9L1189.0 216.5L1189.6 217.1L1190.2 217.8L1190.8 218.4L1191.3 219.0L1191.8 219.7L1192.3 220.4L1192.8 221.1L1193.3 221.8L1193.7 222.5L1194.1 223.2L1194.5 224.0L1194.9 224.8L1195.2 225.6L1195.5 226.3L1195.7 227.1L1195.9 227.8L1196.1 228.6L1196.3 229.4L1196.4 230.2L1196.5 231.0L1196.7 231.8L1196.8 232.7L1196.9 233.5L1197.0 234.3L1197.2 235.2L1197.3 236.0L1197.4 236.8L1197.5 237.6L1197.7 238.3L1197.8 239.1L1197.9 239.9L1198.0 240.7L1198.1 241.4L1198.2 242.2L1198.3 243.0L1198.4 243.9L1198.5 244.7L1198.6 245.6L1198.7 246.5L1198.8 247.4L1198.9 248.1L1199.0 248.8L1199.1 249.5L1199.2 250.2L1199.2 251.0L1199.3 251.7L1199.4 252.5L1199.5 253.2L1199.6 254.0L1199.7 254.8L1199.8 255.6L1199.9 256.4L1200.0 257.3L1200.1 258.1L1200.2 258.9L1200.3 259.7L1200.4 260.6L1200.5 261.4L1200.6 262.2L1200.7 263.1L1200.8 263.9L1200.9 264.8L1201.0 265.6L1201.1 266.4L1201.2 267.3L1201.3 268.1L1201.4 268.9L1201.5 269.7L1201.6 270.5L1201.7 271.3L1201.7 272.1L1201.8 272.9L1201.9 273.7L1202.0 274.5L1202.1 275.3L1202.2 276.1L1202.3 277.0L1202.3 277.8L1202.4 278.6L1202.5 279.4L1202.6 280.2L1202.7 281.0L1202.8 281.9L1202.8 282.7L1202.9 283.5L1203.0 284.3L1203.1 285.1L1203.2 286.0L1203.2 286.8L1203.3 287.6L1203.4 288.4L1203.5 289.2L1203.6 290.1L1203.6 290.9L1203.7 291.7L1203.8 292.5L1203.9 293.3L1204.0 294.1L1204.0 294.9L1204.1 295.7L1204.2 296.5L1204.3 297.3L1204.3 298.1L1204.4 298.9L1204.5 299.7L1204.6 300.5L1204.6 301.3L1204.7 302.1L1204.8 302.9L1204.8 303.7L1204.9 304.5L1205.0 305.3L1205.1 306.1L1205.1 306.9L1205.2 307.7L1205.3 308.5L1205.4 309.4L1205.4 310.2L1205.5 311.0L1205.6 311.8L1205.7 312.6L1205.8 313.5L1205.8 314.3L1205.9 315.2L1206.0 316.0L1206.1 316.8L1206.2 317.6L1206.2 318.3L1206.3 319.1L1206.4 319.9L1206.5 320.7L1206.6 321.6L1206.6 322.4L1206.7 323.2L1206.8 324.0L1206.9 324.8L1207.0 325.7L1207.1 326.5L1207.1 327.3L1207.2 328.2L1207.3 329.0L1207.4 329.8L1207.5 330.7L1207.6 331.5L1207.7 332.3L1207.8 333.2L1207.8 334.0L1207.9 334.8L1208.0 335.6L1208.1 336.4L1208.2 337.3L1208.3 338.1L1208.4 338.9L1208.5 339.7L1208.6 340.5L1208.6 341.2L1208.7 342.0L1208.8 342.8L1208.9 343.5L1209.0 344.3L1209.1 345.2L1209.2 346.1L1209.3 347.1L1209.4 348.1L1209.5 349.2L1209.6 350.2L1209.7 351.3L1209.8 352.4L1209.9 353.4L1210.0 354.5L1210.1 355.6L1210.2 356.6L1210.3 357.6L1210.4 358.6L1210.5 359.5L1210.6 360.4L1210.7 361.2L1210.8 362.0L1210.9 362.7L1211.0 363.4L1211.1 363.9L1211.2 364.4L1211.3 364.8L1211.5 365.1L1211.6 365.2L1211.7 365.3L1211.9 365.2L1212.0 365.0L1212.2 364.5L1212.4 364.0L1212.5 363.3L1212.7 362.5L1212.9 361.6L1213.1 360.7L1213.3 359.7L1213.5 358.6L1213.6 357.5L1213.8 356.4L1214.0 355.2L1214.2 354.1L1214.3 353.0L1214.5 352.0L1214.6 351.4L1214.7 350.7L1214.8 350.0L1214.9 349.3L1215.0 348.6L1215.1 347.9L1215.2 347.2L1215.3 346.4L1215.4 345.7L1215.5 344.9L1215.6 344.1L1215.7 343.3L1215.8 342.5L1215.8 341.7L1215.9 340.9L1216.0 340.1L1216.1 339.3L1216.2 338.4L1216.3 337.6L1216.4 336.7L1216.5 335.9L1216.6 335.0L1216.7 334.2L1216.7 333.3L1216.8 332.5L1216.9 331.6L1217.0 330.7L1217.1 329.9L1217.2 329.0L1217.3 328.2L1217.4 327.3L1217.5 326.5L1217.5 325.6L1217.6 324.8L1217.7 324.0L1217.8 323.1L1217.9 322.3L1218.0 321.5L1218.1 320.7L1218.2 319.9L1218.3 319.1L1218.4 318.2L1218.5 317.4L1218.6 316.6L1218.7 315.7L1218.7 314.9L1218.8 314.1L1218.9 313.2L1219.0 312.4L1219.1 311.5L1219.2 310.7L1219.3 309.8L1219.4 309.0L1219.4 308.1L1219.5 307.3L1219.6 306.4L1219.7 305.6L1219.8 304.8L1219.9 303.9L1220.0 303.1L1220.1 302.3L1220.2 301.4L1220.3 300.6L1220.4 299.8L1220.5 299.0L1220.6 298.2L1220.7 297.4L1220.8 296.6L1220.9 295.8L1221.0 295.1L1221.1 294.3L1221.2 293.5L1221.3 292.8L1221.4 292.1L1221.5 291.3L1221.7 290.6L1221.8 289.9L1222.0 289.0L1222.1 288.1L1222.3 287.2L1222.4 286.2L1222.6 285.3L1222.7 284.4L1222.9 283.4L1223.0 282.5L1223.2 281.6L1223.3 280.7L1223.5 279.9L1223.7 279.0L1223.8 278.2L1224.0 277.4L1224.2 276.6L1224.4 275.8L1224.7 275.1L1224.9 274.4L1225.1 273.8L1225.4 273.2L1225.7 272.7L1226.0 272.2L1226.3 271.7L1226.9 271.0L1227.6 270.4L1228.4 270.0L1229.2 269.7L1230.0 269.4L1230.7 269.1L1231.5 268.9L1232.5 268.6L1233.5 268.2L1234.5 268.0L1235.4 268.0L1236.2 268.4L1236.5 268.7L1236.7 269.1L1236.9 269.6L1237.1 270.2L1237.2 270.8L1237.3 271.6L1237.4 272.4L1237.5 273.2L1237.6 274.2L1237.6 275.1L1237.6 276.1L1237.7 277.1L1237.7 278.1L1237.7 279.1L1237.8 280.1L1237.8 281.1L1237.9 282.1L1237.9 283.0L1238.0 284.0L1238.2 284.8L1238.3 285.7L1238.5 286.4L1238.7 287.1L1239.0 287.7L1239.5 288.5L1240.0 289.2L1240.6 289.9L1241.3 290.5L1242.0 291.0L1242.7 291.5L1243.4 292.1L1244.0 292.6L1244.7 293.1L1245.2 293.7L1245.7 294.3L1246.1 295.0L1246.5 295.7L1246.9 296.4L1247.2 297.1L1247.5 297.8L1247.8 298.5L1248.0 299.3L1248.3 300.1L1248.5 301.0L1248.7 301.7L1248.8 302.4L1249.0 303.1L1249.1 303.9L1249.3 304.7L1249.4 305.5L1249.5 306.3L1249.6 307.1L1249.7 308.0L1249.8 308.8L1249.9 309.7L1250.0 310.5L1250.1 311.4L1250.2 312.3L1250.3 313.1L1250.4 314.0L1250.5 314.8L1250.6 315.5L1250.7 316.3L1250.8 317.1L1250.9 317.8L1251.0 318.6L1251.1 319.4L1251.2 320.2L1251.3 320.9L1251.4 321.7L1251.5 322.5L1251.6 323.3L1251.7 324.1L1251.8 325.0L1251.9 325.8L1252.0 326.6L1252.1 327.4L1252.1 328.3L1252.2 329.1L1252.3 330.0L1252.4 330.8L1252.4 331.5L1252.5 332.3L1252.5 333.1L1252.6 333.8L1252.6 334.6L1252.7 335.4L1252.7 336.2L1252.8 337.0L1252.8 337.8L1252.8 338.6L1252.9 339.4L1252.9 340.3L1252.9 341.1L1253.0 341.9L1253.0 342.7L1253.1 343.6L1253.1 344.4L1253.1 345.2L1253.2 346.1L1253.2 346.9L1253.3 347.8L1253.3 348.6L1253.3 349.5L1253.4 350.3L1253.4 351.2L1253.5 352.0L1253.6 352.8L1253.6 353.7L1253.7 354.6L1253.7 355.5L1253.8 356.5L1253.8 357.5L1253.9 358.5L1253.9 359.6L1254.0 360.6L1254.0 361.7L1254.1 362.8L1254.2 363.9L1254.2 365.0L1254.3 366.0L1254.4 367.1L1254.4 368.1L1254.5 369.1L1254.5 370.1L1254.6 371.1L1254.7 372.0L1254.7 372.8L1254.8 373.6L1254.9 374.4L1254.9 375.1L1255.0 375.7L1255.1 376.3L1255.1 376.8L1255.2 377.2L1255.3 377.6L1255.4 377.8L1255.4 377.9L1255.5 378.0L1255.6 377.9L1255.7 377.8L1255.7 377.5L1255.8 377.2L1255.9 376.7L1256.0 376.2L1256.1 375.6L1256.1 374.9L1256.2 374.2L1256.3 373.4L1256.4 372.5L1256.5 371.6L1256.6 370.7L1256.6 369.7L1256.7 368.6L1256.8 367.6L1256.9 366.5L1257.0 365.4L1257.1 364.3L1257.2 363.2L1257.3 362.1L1257.4 361.1L1257.5 360.0L1257.6 358.9L1257.7 357.9L1257.8 356.9L1257.9 355.9L1258.0 355.0L1258.1 354.3L1258.2 353.5L1258.3 352.8L1258.4 352.0L1258.4 351.2L1258.5 350.4L1258.6 349.6L1258.7 348.7L1258.8 347.9L1258.9 347.0L1259.0 346.2L1259.1 345.3L1259.2 344.4L1259.3 343.5L1259.4 342.6L1259.5 341.8L1259.6 340.9L1259.7 340.0L1259.8 339.1L1259.9 338.2L1260.0 337.3L1260.1 336.4L1260.2 335.5L1260.3 334.7L1260.4 333.8L1260.5 332.9L1260.6 332.1L1260.7 331.3L1260.8 330.4L1260.9 329.6L1261.1 328.8L1261.2 328.0L1261.3 327.3L1261.4 326.5L1261.5 325.8L1261.7 325.1L1261.8 324.4L1261.9 323.7L1262.1 323.1L1262.2 322.4L1262.3 321.8L1262.5 321.2L1262.6 320.7L1262.9 319.7L1263.1 318.8L1263.4 317.9L1263.7 317.0L1264.0 316.2L1264.3 315.5L1264.6 314.8L1264.9 314.1L1265.2 313.5L1265.6 312.8L1265.9 312.3L1266.2 311.7L1266.7 310.8L1267.3 309.9L1267.8 309.1L1268.3 308.6L1268.8 308.5L1269.0 308.6L1269.2 308.8L1269.4 309.1L1269.5 309.5L1269.7 309.9L1269.9 310.5L1270.0 311.1L1270.2 311.8L1270.3 312.5L1270.5 313.3L1270.6 314.1L1270.8 315.0L1270.9 315.9L1271.0 316.9L1271.2 317.9L1271.3 318.9L1271.4 319.9L1271.5 320.9L1271.7 322.0L1271.8 323.0L1271.9 324.0L1272.0 325.0L1272.1 326.1L1272.3 327.0L1272.4 328.0L1272.5 328.9L1272.6 329.8L1272.7 330.5L1272.8 331.3L1272.9 332.1L1273.0 332.9L1273.0 333.7L1273.1 334.5L1273.2 335.3L1273.3 336.1L1273.4 337.0L1273.4 337.8L1273.5 338.7L1273.6 339.6L1273.6 340.4L1273.7 341.3L1273.8 342.2L1273.8 343.1L1273.9 343.9L1273.9 344.8L1274.0 345.7L1274.1 346.6L1274.1 347.4L1274.2 348.3L1274.2 349.1L1274.3 350.0L1274.4 350.8L1274.4 351.7L1274.5 352.5L1274.6 353.3L1274.6 354.1L1274.7 354.9L1274.8 355.7L1274.8 356.4L1274.9 357.2L1275.0 357.9L1275.1 358.6L1275.1 359.3L1275.2 360.0L1275.3 360.6L1275.4 361.6L1275.6 362.6L1275.7 363.7L1275.8 364.8L1275.9 365.8L1276.1 366.9L1276.2 367.9L1276.3 368.8L1276.5 369.8L1276.6 370.6L1276.8 371.3L1276.9 372.0L1277.1 372.5L1277.3 372.9L1277.5 373.2L1277.7 373.3L1278.0 373.2L1278.3 372.9L1278.6 372.5L1278.9 371.8L1279.3 371.1L1279.6 370.2L1280.0 369.3L1280.3 368.3L1280.7 367.3L1281.0 366.2L1281.3 365.2L1281.6 364.3L1281.8 363.6L1282.0 362.9L1282.1 362.2L1282.3 361.5L1282.5 360.7L1282.6 359.8L1282.8 359.0L1282.9 358.1L1283.1 357.3L1283.2 356.4L1283.4 355.5L1283.5 354.6L1283.6 353.7L1283.8 352.8L1283.9 351.9L1284.0 351.0L1284.2 350.2L1284.3 349.3L1284.4 348.5L1284.6 347.7L1284.7 347.0L1284.9 346.2L1285.0 345.6L1285.1 344.9L1285.3 344.3L1285.6 343.2L1285.9 342.1L1286.2 341.0L1286.4 339.9L1286.7 339.0L1287.0 338.3L1287.3 337.9L1287.6 337.7L1287.8 337.8L1288.0 338.1L1288.2 338.5L1288.5 339.1L1288.7 339.8L1288.9 340.6L1289.1 341.5L1289.4 342.5L1289.6 343.5L1289.8 344.6L1290.0 345.7L1290.2 346.7L1290.4 347.8L1290.5 348.8L1290.7 349.8L1290.8 350.5L1290.9 351.2L1291.0 352.0L1291.1 352.7L1291.2 353.5L1291.3 354.3L1291.3 355.1L1291.4 355.9L1291.5 356.7L1291.5 357.6L1291.6 358.4L1291.7 359.3L1291.7 360.1L1291.8 361.0L1291.8 361.8L1291.9 362.7L1291.9 363.6L1292.0 364.4L1292.0 365.3L1292.1 366.2L1292.1 367.0L1292.2 367.9L1292.2 368.7L1292.3 369.5L1292.4 370.4L1292.4 371.2L1292.5 372.0L1292.6 372.9L1292.6 373.8L1292.7 374.7L1292.8 375.7L1292.9 376.7L1293.0 377.7L1293.0 378.8L1293.1 379.9L1293.2 380.9L1293.3 382.0L1293.3 383.0L1293.4 384.1L1293.5 385.1L1293.6 386.0L1293.7 386.9L1293.7 387.8L1293.8 388.6L1293.9 389.3L1294.0 390.0L1294.1 390.6L1294.2 391.1L1294.2 391.5L1294.3 391.8L1294.4 391.9L1294.5 392.0L1294.6 392.0L1294.6 391.9L1294.7 391.7L1294.8 391.4L1294.8 391.1L1294.9 390.8L1295.0 390.4L1295.1 389.9L1295.1 389.4L1295.2 388.8L1295.3 388.1L1295.3 387.5L1295.4 386.8L1295.5 386.0L1295.6 385.2L1295.6 384.4L1295.7 383.5L1295.8 382.6L1295.9 381.7L1295.9 380.7L1296.0 379.7L1296.1 378.8L1296.2 377.7L1296.2 376.7L1296.3 375.7L1296.4 374.6L1296.5 373.5L1296.6 372.5L1296.6 371.4L1296.7 370.3L1296.8 369.2L1296.9 368.2L1296.9 367.1L1297.0 366.0L1297.1 365.0L1297.2 364.0L1297.3 362.9L1297.3 361.9L1297.4 361.0L1297.5 360.0L1297.6 359.3L1297.6 358.7L1297.7 358.0L1297.7 357.3L1297.8 356.6L1297.8 355.9L1297.9 355.2L1297.9 354.4L1298.0 353.7L1298.0 352.9L1298.1 352.2L1298.1 351.4L1298.2 350.6L1298.2 349.9L1298.3 349.1L1298.3 348.3L1298.4 347.5L1298.5 346.7L1298.5 345.9L1298.6 345.1L1298.6 344.2L1298.7 343.4L1298.7 342.6L1298.8 341.7L1298.8 340.9L1298.9 340.0L1298.9 339.2L1299.0 338.3L1299.0 337.5L1299.1 336.6L1299.1 335.7L1299.2 334.9L1299.2 334.0L1299.3 333.1L1299.3 332.3L1299.4 331.4L1299.4 330.5L1299.5 329.6L1299.5 328.8L1299.6 327.9L1299.7 327.0L1299.7 326.1L1299.8 325.3L1299.8 324.4L1299.9 323.5L1299.9 322.6L1300.0 321.7L1300.0 320.9L1300.1 320.0L1300.2 319.1L1300.2 318.3L1300.3 317.4L1300.3 316.6L1300.4 315.7L1300.5 314.8L1300.5 314.0L1300.6 313.1L1300.6 312.3L1300.7 311.5L1300.8 310.6L1300.8 309.8L1300.9 309.0L1301.0 308.2L1301.0 307.4L1301.1 306.6L1301.2 305.8L1301.3 305.0L1301.3 304.2L1301.4 303.4L1301.5 302.7L1301.5 301.9L1301.6 301.2L1301.7 300.4L1301.8 299.7L1301.8 298.9L1301.9 298.2L1302.0 297.5L1302.1 296.8L1302.2 296.1L1302.2 295.5L1302.3 294.8L1302.4 294.1L1302.5 293.5L1302.6 292.5L1302.8 291.6L1302.9 290.6L1303.0 289.7L1303.2 288.8L1303.3 287.8L1303.4 286.9L1303.6 286.0L1303.7 285.1L1303.8 284.2L1304.0 283.3L1304.1 282.4L1304.2 281.6L1304.4 280.7L1304.5 279.9L1304.7 279.0L1304.8 278.2L1305.0 277.4L1305.1 276.5L1305.3 275.7L1305.4 275.0L1305.6 274.2L1305.8 273.4L1305.9 272.6L1306.1 271.9L1306.2 271.2L1306.4 270.4L1306.6 269.7L1306.8 269.0L1306.9 268.4L1307.1 267.7L1307.3 267.0L1307.5 266.4L1307.7 265.8L1307.9 265.2L1308.1 264.6L1308.3 264.0L1308.7 263.0L1309.0 262.0L1309.4 261.0L1309.8 260.0L1310.2 259.0L1310.6 258.1L1311.0 257.2L1311.4 256.4L1311.8 255.7L1312.3 255.1L1312.7 254.7L1313.1 254.4L1313.6 254.2L1314.2 254.2L1314.8 254.5L1315.5 254.9L1316.2 255.4L1316.9 256.1L1317.5 256.9L1318.1 257.8L1318.6 258.6L1318.9 259.1L1319.1 259.7L1319.4 260.3L1319.6 261.0L1319.8 261.7L1320.0 262.4L1320.1 263.2L1320.3 264.0L1320.4 264.8L1320.6 265.6L1320.7 266.5L1320.8 267.4L1320.9 268.2L1321.0 269.1L1321.1 270.0L1321.2 270.9L1321.4 271.8L1321.5 272.6L1321.6 273.5L1321.7 274.4L1321.9 275.2L1322.0 276.0L1322.2 276.8L1322.3 277.6L1322.5 278.4L1322.6 279.2L1322.8 280.0L1322.9 280.8L1323.1 281.6L1323.3 282.4L1323.4 283.2L1323.6 284.0L1323.7 284.8L1323.9 285.6L1324.0 286.4L1324.2 287.2L1324.3 288.0L1324.5 288.8L1324.6 289.7L1324.8 290.5L1324.9 291.4L1325.0 292.2L1325.2 293.1L1325.3 294.0L1325.4 294.7L1325.5 295.4L1325.6 296.2L1325.7 296.9L1325.8 297.6L1325.9 298.3L1326.0 299.1L1326.0 299.8L1326.1 300.5L1326.2 301.2L1326.3 302.0L1326.4 302.7L1326.4 303.5L1326.5 304.2L1326.6 305.0L1326.7 305.7L1326.7 306.5L1326.8 307.3L1326.9 308.1L1327.0 308.9L1327.0 309.7L1327.1 310.5L1327.2 311.4L1327.2 312.2L1327.3 313.1L1327.4 314.0L1327.4 314.9L1327.5 315.8L1327.5 316.8L1327.6 317.7L1327.7 318.7L1327.7 319.7L1327.8 320.7L1327.8 321.3L1327.9 321.9L1327.9 322.5L1327.9 323.1L1328.0 323.7L1328.0 324.4L1328.0 325.0L1328.1 325.6L1328.1 326.3L1328.1 326.9L1328.2 327.6L1328.2 328.3L1328.2 329.0L1328.3 329.6L1328.3 330.3L1328.3 331.0L1328.4 331.7L1328.4 332.4L1328.4 333.1L1328.5 333.9L1328.5 334.6L1328.5 335.3L1328.5 336.0L1328.6 336.8L1328.6 337.5L1328.6 338.3L1328.6 339.0L1328.7 339.8L1328.7 340.6L1328.7 341.3L1328.8 342.1L1328.8 342.9L1328.8 343.7L1328.8 344.5L1328.9 345.2L1328.9 346.0L1328.9 346.8L1328.9 347.6L1329.0 348.5L1329.0 349.3L1329.0 350.1L1329.0 350.9L1329.0 351.7L1329.1 352.5L1329.1 353.4L1329.1 354.2L1329.1 355.0L1329.2 355.9L1329.2 356.7L1329.2 357.6L1329.2 358.4L1329.3 359.3L1329.3 360.1L1329.3 361.0L1329.3 361.8L1329.3 362.7L1329.4 363.5L1329.4 364.4L1329.4 365.2L1329.4 366.1L1329.4 367.0L1329.5 367.8L1329.5 368.7L1329.5 369.6L1329.5 370.5L1329.5 371.3L1329.6 372.2L1329.6 373.1L1329.6 373.9L1329.6 374.8L1329.6 375.7L1329.7 376.6L1329.7 377.4L1329.7 378.3L1329.7 379.2L1329.7 380.1L1329.8 380.9L1329.8 381.8L1329.8 382.7L1329.8 383.6L1329.8 384.5L1329.9 385.3L1329.9 386.2L1329.9 387.1L1329.9 387.9L1329.9 388.8L1330.0 389.7L1330.0 390.6L1330.0 391.4L1330.0 392.3L1330.0 393.2L1330.1 394.0L1330.1 394.9L1330.1 395.7L1330.1 396.6L1330.1 397.4L1330.2 398.3L1330.2 399.2L1330.2 400.0L1330.2 400.8L1330.2 401.5L1330.3 402.3L1330.3 403.0L1330.3 403.8L1330.3 404.5L1330.3 405.3L1330.3 406.1L1330.4 406.8L1330.4 407.6L1330.4 408.4L1330.4 409.1L1330.4 409.9L1330.4 410.7L1330.5 411.5L1330.5 412.2L1330.5 413.0L1330.5 413.8L1330.5 414.6L1330.5 415.3L1330.6 416.1L1330.6 416.9L1330.6 417.7L1330.6 418.5L1330.6 419.3L1330.6 420.0L1330.7 420.8L1330.7 421.6L1330.7 422.4L1330.7 423.2L1330.7 424.0L1330.7 424.8L1330.8 425.6L1330.8 426.4L1330.8 427.2L1330.8 428.0L1330.8 428.7L1330.8 429.5L1330.8 430.3L1330.9 431.1L1330.9 431.9L1330.9 432.7L1330.9 433.5L1330.9 434.3L1330.9 435.1L1330.9 435.9L1331.0 436.8L1331.0 437.6L1331.0 438.4L1331.0 439.2L1331.0 440.0L1331.0 440.8L1331.0 441.6L1331.1 442.4L1331.1 443.2L1331.1 444.0L1331.1 444.8L1331.1 445.6L1331.1 446.4L1331.1 447.2L1331.2 448.1L1331.2 448.9L1331.2 449.7L1331.2 450.5L1331.2 451.3L1331.2 452.1L1331.2 452.9L1331.3 453.7L1331.3 454.6L1331.3 455.4L1331.3 456.2L1331.3 457.0L1331.3 457.8L1331.3 458.6L1331.3 459.4L1331.4 460.3L1331.4 461.1L1331.4 461.9L1331.4 462.7L1331.4 463.5L1331.4 464.3L1331.4 465.1L1331.5 466.0L1331.5 466.8L1331.5 467.6L1331.5 468.4L1331.5 469.2L1331.5 470.0L1331.5 470.9L1331.5 471.7L1331.6 472.5L1331.6 473.3L1331.6 474.1L1331.6 474.9L1331.6 475.7L1331.6 476.6L1331.6 477.4L1331.6 478.2L1331.7 479.0L1331.7 479.8L1331.7 480.6L1331.7 481.4L1331.7 482.3L1331.7 483.1L1331.7 483.9L1331.8 484.7L1331.8 485.5L1331.8 486.3L1331.8 487.1L1331.8 487.9L1331.8 488.7L1331.8 489.5L1331.8 490.4L1331.9 491.2L1331.9 492.0L1331.9 492.8L1331.9 493.6L1331.9 494.4L1331.9 495.2L1331.9 496.0L1331.9 496.8L1332.0 497.6L1332.0 498.4L1332.0 499.2L1332.0 500.0L1332.0 500.8L1332.0 501.6L1332.0 502.4L1332.1 503.2L1332.1 504.0L1332.1 504.8L1332.1 505.6L1332.1 506.4L1332.1 507.2L1332.1 508.0L1332.1 508.8L1332.2 509.6L1332.2 510.4L1332.2 511.2L1332.2 512.0L1332.2 512.8L1332.2 513.6L1332.2 514.4L1332.2 515.2L1332.3 516.0L1332.3 516.8L1332.3 517.6L1332.3 518.4L1332.3 519.2L1332.3 520.0L1332.3 520.8L1332.3 521.6L1332.3 522.4L1332.4 523.2L1332.4 524.0L1332.4 524.8L1332.4 525.6L1332.4 526.4L1332.4 527.2L1332.4 528.0L1332.4 528.8L1332.5 529.6L1332.5 530.4L1332.5 531.2L1332.5 532.0L1332.5 532.8L1332.5 533.6L1332.5 534.4L1332.5 535.2L1332.5 536.0L1332.6 536.8L1332.6 537.6L1332.6 538.4L1332.6 539.2L1332.6 540.0L1332.6 540.8L1332.6 541.6L1332.6 542.4L1332.6 543.2L1332.7 544.0L1332.7 544.8L1332.7 545.6L1332.7 546.4L1332.7 547.2L1332.7 548.0L1332.7 548.8L1332.7 549.6L1332.7 550.4L1332.8 551.2L1332.8 552.0L1332.8 552.8L1332.8 553.6L1332.8 554.3L1332.8 555.1L1332.8 555.9L1332.8 556.7L1332.8 557.5L1332.9 558.3L1332.9 559.1L1332.9 559.9L1332.9 560.7L1332.9 561.5L1332.9 562.3L1332.9 563.1L1332.9 563.9L1332.9 564.7L1333.0 565.5L1333.0 566.3L1333.0 567.1L1333.0 567.9L1333.0 568.7L1333.0 569.5L1333.0 570.3L1333.0 571.1L1333.1 571.9L1333.1 572.7L1333.1 573.5L1333.1 574.3L1333.1 575.1L1333.1 575.9L1333.1 576.7L1333.1 577.6L1333.1 578.4L1333.2 579.2L1333.2 580.0L1333.2 580.8L1333.2 581.6L1333.2 582.4L1333.2 583.2L1333.2 584.0L1333.2 584.8L1333.3 585.6L1333.3 586.4L1333.3 587.2L1333.3 588.0L1333.3 588.8L1333.3 589.6L1333.3 590.4L1333.4 591.2L1333.4 592.0L1333.4 592.8L1333.4 593.6L1333.4 594.4L1333.4 595.2L1333.4 596.0L1333.4 596.8L1333.5 597.6L1333.5 598.4L1333.5 599.2L1333.5 600.0L1333.5 600.8L1333.5 601.6L1333.5 602.4L1333.6 603.2L1333.6 604.0L1333.6 604.8L1333.6 605.6L1333.6 606.4L1333.6 607.2L1333.6 608.0L1333.6 608.8L1333.7 609.7L1333.7 610.5L1333.7 611.3L1333.7 612.1L1333.7 612.9L1333.7 613.7L1333.7 614.5L1333.7 615.3L1333.7 616.1L1333.8 616.9L1333.8 617.7L1333.8 618.5L1333.8 619.3L1333.8 620.2L1333.8 621.0L1333.8 621.8L1333.8 622.6L1333.8 623.4L1333.8 624.2L1333.9 625.0L1333.9 625.8L1333.9 626.6L1333.9 627.4L1333.9 628.2L1333.9 629.1L1333.9 629.9L1333.9 630.7L1333.9 631.5L1334.0 632.3L1334.0 633.1L1334.0 633.9L1334.0 634.7L1334.0 635.5L1334.0 636.4L1334.0 637.2L1334.0 638.0L1334.0 638.8L1334.0 639.6L1334.1 640.4L1334.1 641.2L1334.1 642.0L1334.1 642.8L1334.1 643.6L1334.1 644.5L1334.1 645.3L1334.1 646.1L1334.1 646.9L1334.2 647.7L1334.2 648.5L1334.2 649.3L1334.2 650.1L1334.2 650.9L1334.2 651.8L1334.2 652.6L1334.2 653.4L1334.3 654.2L1334.3 655.0L1334.3 655.8L1334.3 656.6L1334.3 657.4L1334.3 658.2L1334.3 659.0L1334.3 659.8L1334.4 660.7L1334.4 661.5L1334.4 662.3L1334.4 663.1L1334.4 663.9L1334.4 664.7L1334.4 665.5L1334.5 666.3L1334.5 667.1L1334.5 667.9L1334.5 668.7L1334.5 669.5L1334.5 670.3L1334.6 671.1L1334.6 672.0L1334.6 672.8L1334.6 673.6L1334.6 674.4L1334.7 675.2L1334.7 676.0L1334.7 676.8L1334.7 677.6L1334.7 678.4L1334.8 679.2L1334.8 680.0L1334.8 680.8L1334.8 681.6L1334.8 682.4L1334.9 683.2L1334.9 684.0L1334.9 684.8L1334.9 685.6L1335.0 686.4L1335.0 687.2L1335.0 688.0L1335.0 688.8L1335.1 689.6L1335.1 690.4L1335.1 691.2L1335.1 692.0L1335.2 692.8L1335.2 693.6L1335.2 694.4L1335.3 695.2L1335.3 696.0L1335.3 696.7L1335.3 697.5L1335.4 698.3L1335.4 699.1L1335.4 699.9L1335.5 700.7L1335.5 701.5L1335.5 702.3L1335.6 703.1L1335.6 703.9L1335.6 704.8L1335.7 705.6L1335.7 706.4L1335.8 707.2L1335.8 708.0L1335.8 708.9L1335.9 709.7L1335.9 710.5L1335.9 711.3L1336.0 712.1L1336.0 713.0L1336.1 713.8L1336.1 714.6L1336.2 715.4L1336.2 716.3L1336.2 717.1L1336.3 717.9L1336.3 718.7L1336.4 719.6L1336.4 720.4L1336.5 721.2L1336.5 722.1L1336.6 722.9L1336.6 723.7L1336.6 724.5L1336.7 725.4L1336.7 726.2L1336.8 727.0L1336.8 727.8L1336.9 728.7L1336.9 729.5L1337.0 730.3L1337.0 731.1L1337.1 732.0L1337.1 732.8L1337.2 733.6L1337.2 734.5L1337.3 735.3L1337.3 736.1L1337.4 736.9L1337.4 737.8L1337.5 738.6L1337.5 739.4L1337.6 740.2L1337.6 741.0L1337.7 741.9L1337.8 742.7L1337.8 743.5L1337.9 744.3L1337.9 745.2L1338.0 746.0L1338.0 746.8L1338.1 747.6L1338.1 748.4L1338.2 749.2L1338.2 750.1L1338.3 750.9L1338.4 751.7L1338.4 752.5L1338.5 753.3L1338.5 754.1L1338.6 754.9L1338.6 755.8L1338.7 756.6L1338.7 757.4L1338.8 758.2L1338.9 759.0L1338.9 759.8L1339.0 760.6L1339.0 761.4L1339.1 762.2L1339.1 763.0L1339.2 763.8L1339.2 764.6L1339.3 765.4L1339.4 766.2L1339.4 767.0L1339.5 767.8L1339.5 768.6L1339.6 769.3L1339.6 770.1L1339.7 770.9L1339.8 771.7L1339.8 772.5L1339.9 773.3L1339.9 774.0L1340.0 774.8L1340.0 775.6L1340.1 776.4L1340.1 777.1L1340.2 777.9L1340.3 778.7L1340.3 779.4L1340.4 780.2L1340.4 781.0L1340.5 781.7L1340.5 782.5L1340.6 783.3L1340.6 784.0L1340.7 784.8L1340.8 785.5L1340.8 786.3L1340.9 787.0L1340.9 787.8L1341.0 788.5L1341.0 789.2L1341.1 790.0L1341.1 790.7L1341.2 791.4L1341.2 792.2L1341.3 792.9L1341.3 793.6L1341.4 794.4L1341.4 795.1L1341.5 795.8L1341.6 796.7L1341.6 797.6L1341.7 798.5L1341.8 799.3L1341.8 800.2L1341.9 801.1L1341.9 802.0L1342.0 802.9L1342.1 803.8L1342.1 804.6L1342.2 805.5L1342.3 806.4L1342.3 807.3L1342.4 808.1L1342.5 809.0L1342.5 809.9L1342.6 810.8L1342.7 811.6L1342.7 812.5L1342.8 813.4L1342.9 814.2L1342.9 815.1L1343.0 815.9L1343.1 816.8L1343.1 817.7L1343.2 818.5L1343.3 819.4L1343.3 820.2L1343.4 821.1L1343.5 821.9L1343.5 822.7L1343.6 823.6L1343.7 824.4L1343.7 825.3L1343.8 826.1L1343.9 826.9L1343.9 827.7L1344.0 828.6L1344.1 829.4L1344.1 830.2L1344.2 831.0L1344.3 831.8L1344.3 832.7L1344.4 833.5L1344.5 834.3L1344.5 835.1L1344.6 835.9L1344.7 836.7L1344.7 837.4L1344.8 838.2L1344.9 839.0L1344.9 839.8L1345.0 840.6L1345.0 841.4L1345.1 842.1L1345.2 842.9L1345.2 843.7L1345.3 844.4L1345.4 845.2L1345.4 845.9L1345.5 846.7L1345.6 847.4L1345.6 848.1L1345.7 848.9L1345.7 849.6L1345.8 850.3L1345.9 851.1L1345.9 851.8L1346.0 852.5L1346.0 853.2L1346.1 853.9L1346.2 854.6L1346.2 855.3L1346.3 856.0L1346.3 856.7L1346.4 857.4L1346.4 858.0L1346.5 858.7L1346.6 859.6L1346.7 860.6L1346.7 861.5L1346.8 862.4L1346.9 863.3L1346.9 864.2L1347.0 865.1L1347.1 865.9L1347.2 866.8L1347.2 867.7L1347.3 868.5L1347.4 869.4L1347.4 870.2L1347.5 871.0L1347.6 871.8L1347.6 872.6L1347.7 873.5L1347.7 874.3L1347.8 875.0L1347.9 875.8L1347.9 876.6L1348.0 877.4L1348.1 878.2L1348.1 878.9L1348.2 879.7L1348.3 880.5L1348.3 881.2L1348.4 882.0L1348.5 882.7L1348.6 883.5L1348.6 884.2L1348.7 885.0L1348.8 885.7L1348.9 886.5L1349.0 887.2L1349.0 888.0L1349.1 888.7L1349.2 889.5L1349.3 890.2L1349.4 891.1L1349.5 892.0L1349.6 893.0L1349.7 893.9L1349.9 895.0L1350.0 896.0L1350.1 897.0L1350.2 898.1L1350.3 899.1L1350.5 900.2L1350.6 901.2L1350.7 902.3L1350.9 903.3L1351.0 904.3L1351.1 905.3L1351.2 906.2L1351.4 907.1L1351.5 908.0L1351.6 908.8L1351.8 909.6L1351.9 910.3L1352.0 910.9L1352.2 911.5L1352.3 912.0L1352.4 912.4L1352.5 912.7L1352.7 913.0L1352.8 913.1L1352.9 913.2L1353.0 913.1L1353.2 912.9L1353.3 912.6L1353.5 912.2L1353.6 911.7L1353.8 911.1L1353.9 910.4L1354.1 909.6L1354.2 908.7L1354.4 907.8L1354.5 906.9L1354.6 905.9L1354.8 904.9L1354.9 903.8L1355.1 902.7L1355.2 901.7L1355.3 900.6L1355.4 899.5L1355.6 898.5L1355.7 897.5L1355.8 896.5L1355.9 895.9L1355.9 895.2L1356.0 894.5L1356.1 893.8L1356.2 893.1L1356.2 892.4L1356.3 891.7L1356.3 890.9L1356.4 890.2L1356.5 889.4L1356.5 888.6L1356.6 887.9L1356.6 887.1L1356.7 886.3L1356.8 885.5L1356.8 884.6L1356.9 883.8L1356.9 883.0L1357.0 882.2L1357.0 881.3L1357.1 880.5L1357.1 879.6L1357.1 878.8L1357.2 877.9L1357.2 877.1L1357.3 876.2L1357.3 875.3L1357.4 874.5L1357.4 873.6L1357.5 872.8L1357.5 871.9L1357.5 871.0L1357.6 870.2L1357.6 869.3L1357.7 868.5L1357.7 867.6L1357.8 866.8L1357.8 865.9L1357.8 865.1L1357.9 864.3L1357.9 863.5L1358.0 862.7L1358.0 861.8L1358.1 861.0L1358.1 860.3L1358.2 859.5L1358.2 858.7L1358.3 857.9L1358.3 857.0L1358.4 856.2L1358.4 855.4L1358.5 854.6L1358.5 853.8L1358.6 853.1L1358.6 852.3L1358.7 851.5L1358.7 850.8L1358.7 850.0L1358.8 849.3L1358.8 848.5L1358.9 847.8L1358.9 847.0L1359.0 846.3L1359.0 845.5L1359.1 844.8L1359.1 844.0L1359.2 843.3L1359.2 842.5L1359.3 841.7L1359.3 841.0L1359.4 840.2L1359.4 839.4L1359.5 838.6L1359.5 837.8L1359.5 837.0L1359.6 836.2L1359.6 835.4L1359.7 834.5L1359.7 833.7L1359.8 832.8L1359.8 831.9L1359.8 831.1L1359.9 830.1L1359.9 829.2L1360.0 828.3L1360.0 827.3L1360.0 826.7L1360.1 826.0L1360.1 825.3L1360.1 824.7L1360.1 824.0L1360.2 823.3L1360.2 822.6L1360.2 821.9L1360.2 821.2L1360.3 820.5L1360.3 819.7L1360.3 819.0L1360.3 818.2L1360.3 817.5L1360.4 816.7L1360.4 816.0L1360.4 815.2L1360.4 814.4L1360.5 813.6L1360.5 812.8L1360.5 812.0L1360.5 811.2L1360.5 810.4L1360.6 809.6L1360.6 808.8L1360.6 808.0L1360.6 807.1L1360.7 806.3L1360.7 805.5L1360.7 804.6L1360.7 803.8L1360.7 802.9L1360.8 802.1L1360.8 801.2L1360.8 800.4L1360.8 799.5L1360.8 798.7L1360.9 797.8L1360.9 796.9L1360.9 796.1L1360.9 795.2L1360.9 794.3L1361.0 793.4L1361.0 792.6L1361.0 791.7L1361.0 790.8L1361.0 789.9L1361.1 789.0L1361.1 788.2L1361.1 787.3L1361.1 786.4L1361.1 785.5L1361.1 784.7L1361.2 783.8L1361.2 782.9L1361.2 782.0L1361.2 781.2L1361.2 780.3L1361.3 779.4L1361.3 778.6L1361.3 777.7L1361.3 776.8L1361.3 776.0L1361.3 775.1L1361.4 774.3L1361.4 773.4L1361.4 772.6L1361.4 771.7L1361.4 770.9L1361.4 770.1L1361.5 769.2L1361.5 768.4L1361.5 767.6L1361.5 766.8L1361.5 766.0L1361.5 765.2L1361.6 764.4L1361.6 763.6L1361.6 762.8L1361.6 762.0L1361.6 761.2L1361.6 760.5L1361.7 759.7L1361.7 759.0L1361.7 758.2L1361.7 757.5L1361.7 756.7L1361.7 756.0L1361.8 755.3L1361.8 754.6L1361.8 753.9L1361.8 753.0L1361.8 752.1L1361.9 751.2L1361.9 750.3L1361.9 749.4L1361.9 748.5L1362.0 747.7L1362.0 746.8L1362.0 746.0L1362.0 745.1L1362.0 744.3L1362.1 743.4L1362.1 742.6L1362.1 741.8L1362.1 741.0L1362.1 740.1L1362.1 739.3L1362.2 738.5L1362.2 737.7L1362.2 736.9L1362.2 736.1L1362.2 735.4L1362.3 734.6L1362.3 733.8L1362.3 733.0L1362.3 732.2L1362.3 731.4L1362.4 730.7L1362.4 729.9L1362.4 729.1L1362.4 728.4L1362.4 727.6L1362.4 726.8L1362.5 726.1L1362.5 725.3L1362.5 724.5L1362.5 723.7L1362.5 723.0L1362.6 722.2L1362.6 721.4L1362.6 720.7L1362.6 719.9L1362.6 719.1L1362.6 718.3L1362.7 717.6L1362.7 716.8L1362.7 716.0L1362.7 715.2L1362.7 714.4L1362.8 713.6L1362.8 712.8L1362.8 712.0L1362.8 711.2L1362.8 710.4L1362.9 709.6L1362.9 708.8L1362.9 708.0L1362.9 707.2L1362.9 706.4L1362.9 705.6L1363.0 704.8L1363.0 704.0L1363.0 703.2L1363.0 702.5L1363.0 701.7L1363.1 700.9L1363.1 700.1L1363.1 699.3L1363.1 698.5L1363.1 697.7L1363.1 697.0L1363.2 696.2L1363.2 695.4L1363.2 694.6L1363.2 693.8L1363.2 693.0L1363.2 692.2L1363.3 691.4L1363.3 690.6L1363.3 689.9L1363.3 689.1L1363.3 688.3L1363.4 687.5L1363.4 686.7L1363.4 685.9L1363.4 685.1L1363.4 684.2L1363.4 683.4L1363.5 682.6L1363.5 681.8L1363.5 681.0L1363.5 680.2L1363.5 679.3L1363.6 678.5L1363.6 677.7L1363.6 676.8L1363.6 676.0L1363.7 675.2L1363.7 674.3L1363.7 673.5L1363.7 672.6L1363.8 671.7L1363.8 670.9L1363.8 670.0L1363.8 669.3L1363.8 668.5L1363.9 667.8L1363.9 667.0L1363.9 666.3L1363.9 665.5L1364.0 664.7L1364.0 664.0L1364.0 663.2L1364.0 662.4L1364.0 661.6L1364.1 660.8L1364.1 660.0L1364.1 659.2L1364.1 658.4L1364.2 657.6L1364.2 656.8L1364.2 656.0L1364.2 655.2L1364.3 654.4L1364.3 653.6L1364.3 652.7L1364.3 651.9L1364.4 651.1L1364.4 650.3L1364.4 649.4L1364.5 648.6L1364.5 647.8L1364.5 646.9L1364.5 646.1L1364.6 645.3L1364.6 644.4L1364.6 643.6L1364.6 642.8L1364.7 641.9L1364.7 641.1L1364.7 640.3L1364.8 639.4L1364.8 638.6L1364.8 637.8L1364.8 636.9L1364.9 636.1L1364.9 635.3L1364.9 634.4L1365.0 633.6L1365.0 632.8L1365.0 631.9L1365.0 631.1L1365.1 630.3L1365.1 629.5L1365.1 628.6L1365.2 627.8L1365.2 627.0L1365.2 626.2L1365.3 625.4L1365.3 624.6L1365.3 623.8L1365.3 623.0L1365.4 622.2L1365.4 621.4L1365.4 620.6L1365.5 619.8L1365.5 619.0L1365.5 618.3L1365.6 617.5L1365.6 616.7L1365.6 616.0L1365.6 615.2L1365.7 614.5L1365.7 613.7L1365.7 613.0L1365.8 612.2L1365.8 611.5L1365.8 610.6L1365.9 609.7L1365.9 608.9L1366.0 608.0L1366.0 607.2L1366.0 606.3L1366.1 605.5L1366.1 604.6L1366.1 603.8L1366.2 603.0L1366.2 602.2L1366.3 601.4L1366.3 600.6L1366.3 599.7L1366.4 598.9L1366.4 598.1L1366.5 597.3L1366.5 596.6L1366.5 595.8L1366.6 595.0L1366.6 594.2L1366.7 593.4L1366.7 592.6L1366.8 591.8L1366.8 591.1L1366.8 590.3L1366.9 589.5L1366.9 588.7L1367.0 587.9L1367.0 587.2L1367.0 586.4L1367.1 585.6L1367.1 584.8L1367.2 584.0L1367.2 583.2L1367.2 582.4L1367.3 581.7L1367.3 580.9L1367.4 580.1L1367.4 579.3L1367.4 578.5L1367.5 577.6L1367.5 576.8L1367.6 576.0L1367.6 575.2L1367.6 574.4L1367.7 573.5L1367.7 572.7L1367.8 571.9L1367.8 571.0L1367.8 570.2L1367.9 569.5L1367.9 568.7L1367.9 567.9L1368.0 567.1L1368.0 566.3L1368.0 565.5L1368.1 564.7L1368.1 563.9L1368.1 563.1L1368.2 562.3L1368.2 561.5L1368.2 560.7L1368.3 559.9L1368.3 559.1L1368.3 558.3L1368.4 557.4L1368.4 556.6L1368.4 555.8L1368.4 555.0L1368.5 554.2L1368.5 553.3L1368.5 552.5L1368.6 551.7L1368.6 550.8L1368.6 550.0L1368.7 549.2L1368.7 548.3L1368.7 547.5L1368.8 546.7L1368.8 545.8L1368.8 545.0L1368.8 544.2L1368.9 543.3L1368.9 542.5L1368.9 541.7L1369.0 540.8L1369.0 540.0L1369.0 539.2L1369.1 538.4L1369.1 537.5L1369.1 536.7L1369.2 535.9L1369.2 535.1L1369.2 534.2L1369.3 533.4L1369.3 532.6L1369.3 531.8L1369.4 531.0L1369.4 530.2L1369.4 529.4L1369.5 528.6L1369.5 527.8L1369.5 527.0L1369.6 526.2L1369.6 525.4L1369.6 524.6L1369.7 523.8L1369.7 523.0L1369.7 522.2L1369.8 521.5L1369.8 520.7L1369.8 519.8L1369.9 519.0L1369.9 518.1L1370.0 517.3L1370.0 516.4L1370.0 515.6L1370.1 514.7L1370.1 513.8L1370.2 513.0L1370.2 512.1L1370.2 511.3L1370.3 510.4L1370.3 509.5L1370.3 508.7L1370.4 507.8L1370.4 507.0L1370.5 506.1L1370.5 505.3L1370.5 504.4L1370.6 503.6L1370.6 502.7L1370.7 501.9L1370.7 501.0L1370.7 500.2L1370.8 499.4L1370.8 498.5L1370.9 497.7L1370.9 496.9L1370.9 496.1L1371.0 495.2L1371.0 494.4L1371.1 493.6L1371.1 492.8L1371.2 492.1L1371.2 491.3L1371.3 490.5L1371.3 489.7L1371.3 489.0L1371.4 488.2L1371.4 487.5L1371.5 486.7L1371.6 486.0L1371.6 485.2L1371.7 484.5L1371.7 483.8L1371.8 483.1L1371.8 482.4L1371.9 481.7L1371.9 481.1L1372.0 480.4L1372.1 479.5L1372.2 478.6L1372.3 477.7L1372.4 476.8L1372.5 476.0L1372.5 475.2L1372.6 474.4L1372.7 473.7L1372.8 472.9L1372.9 472.2L1373.0 471.4L1373.1 470.7L1373.2 470.0L1373.3 469.2L1373.5 468.5L1373.6 467.7L1373.7 467.0L1373.8 466.2L1373.9 465.4L1374.0 464.6L1374.1 463.7L1374.3 462.8L1374.4 461.9L1374.5 461.0L1374.6 460.3L1374.7 459.7L1374.8 459.0L1374.9 458.3L1375.0 457.6L1375.1 456.9L1375.2 456.1L1375.3 455.4L1375.4 454.7L1375.5 453.9L1375.6 453.2L1375.7 452.4L1375.8 451.6L1375.9 450.8L1376.0 450.0L1376.1 449.2L1376.2 448.4L1376.3 447.6L1376.5 446.8L1376.6 446.0L1376.7 445.2L1376.8 444.3L1376.9 443.5L1377.0 442.7L1377.1 441.8L1377.3 441.0L1377.4 440.2L1377.5 439.3L1377.6 438.5L1377.7 437.6L1377.8 436.8L1378.0 435.9L1378.1 435.0L1378.2 434.2L1378.3 433.3L1378.4 432.5L1378.5 431.6L1378.6 430.8L1378.8 429.9L1378.9 429.1L1379.0 428.2L1379.1 427.4L1379.2 426.6L1379.3 425.7L1379.4 424.9L1379.5 424.1L1379.6 423.2L1379.7 422.4L1379.8 421.6L1379.9 420.8L1380.0 420.0L1380.1 419.2L1380.2 418.4L1380.3 417.6L1380.4 416.8L1380.5 416.0L1380.5 415.2L1380.6 414.4L1380.7 413.5L1380.8 412.7L1380.9 411.9L1381.0 411.1L1381.1 410.3L1381.1 409.5L1381.2 408.7L1381.3 407.9L1381.4 407.1L1381.5 406.3L1381.6 405.5L1381.6 404.7L1381.7 403.8L1381.8 403.0L1381.9 402.2L1381.9 401.4L1382.0 400.6L1382.1 399.8L1382.2 399.0L1382.3 398.2L1382.3 397.4L1382.4 396.6L1382.5 395.8L1382.6 395.0L1382.6 394.2L1382.7 393.4L1382.8 392.6L1382.9 391.8L1382.9 391.0L1383.0 390.2L1383.1 389.4L1383.2 388.6L1383.2 387.8L1383.3 387.0L1383.4 386.2L1383.5 385.5L1383.5 384.7L1383.6 383.9L1383.7 383.1L1383.8 382.3L1383.8 381.6L1383.9 380.8L1384.0 380.0L1384.1 379.2L1384.2 378.3L1384.2 377.4L1384.3 376.6L1384.4 375.7L1384.4 374.8L1384.5 373.9L1384.6 373.0L1384.6 372.1L1384.7 371.2L1384.8 370.2L1384.8 369.3L1384.9 368.4L1384.9 367.5L1385.0 366.6L1385.1 365.7L1385.1 364.8L1385.2 363.9L1385.2 363.0L1385.3 362.1L1385.4 361.2L1385.4 360.3L1385.5 359.4L1385.5 358.5L1385.6 357.7L1385.7 356.8L1385.8 356.0L1385.8 355.2L1385.9 354.4L1386.0 353.6L1386.1 352.8L1386.2 352.1L1386.3 351.3L1386.4 350.6L1386.5 349.9L1386.6 349.2L1386.7 348.5L1386.8 347.9L1386.9 347.2L1387.1 346.7L1387.2 346.1L1387.4 345.5L1387.5 345.0L1387.8 343.9L1388.2 342.8L1388.6 341.7L1389.0 340.7L1389.4 339.8L1389.9 339.0L1390.3 338.3L1390.7 337.7L1391.1 337.4L1391.5 337.3L1391.9 337.5L1392.2 338.2L1392.6 339.1L1392.9 340.1L1393.3 341.2L1393.6 342.1L1394.0 342.8L1394.4 343.1L1394.9 343.0L1395.5 342.6L1396.1 341.9L1396.7 341.1L1397.3 340.2L1397.5 339.7L1397.8 339.2L1398.0 338.5L1398.2 337.8L1398.4 337.0L1398.6 336.1L1398.8 335.2L1399.0 334.3L1399.2 333.3L1399.4 332.3L1399.6 331.2L1399.8 330.2L1400.0 329.2L1400.2 328.1L1400.4 327.1L1400.6 326.2L1400.9 325.2L1401.1 324.3L1401.3 323.5L1401.5 322.7L1401.8 322.1L1402.0 321.4L1402.3 320.9L1402.5 320.5L1402.8 320.2L1403.1 320.0L1403.9 319.9L1404.7 320.1L1405.5 320.5L1406.3 321.2L1407.0 322.0L1407.3 322.4L1407.5 322.9L1407.7 323.5L1408.0 324.1L1408.1 324.8L1408.3 325.5L1408.5 326.3L1408.6 327.1L1408.7 327.9L1408.8 328.8L1408.9 329.7L1409.0 330.6L1409.1 331.6L1409.2 332.5L1409.3 333.5L1409.4 334.5L1409.5 335.4L1409.6 336.4L1409.7 337.3L1409.8 338.2L1409.9 339.1L1410.0 340.0L1410.1 340.8L1410.2 341.6L1410.3 342.4L1410.4 343.2L1410.5 344.1L1410.6 345.0L1410.7 345.8L1410.8 346.7L1410.9 347.6L1411.0 348.5L1411.0 349.4L1411.1 350.3L1411.2 351.1L1411.3 352.0L1411.4 352.9L1411.5 353.7L1411.6 354.6L1411.7 355.4L1411.8 356.3L1411.9 357.1L1412.1 357.8L1412.2 358.6L1412.3 359.3L1412.5 360.0L1412.7 360.7L1412.8 361.4L1413.0 362.0L1413.3 363.0L1413.6 363.9L1413.9 364.9L1414.2 365.8L1414.5 366.7L1414.9 367.5L1415.3 368.3L1415.7 368.9L1416.1 369.4L1416.5 369.8L1417.0 370.0L1417.6 370.0L1418.2 369.8L1418.8 369.4L1419.5 368.9L1420.2 368.3L1420.9 367.7L1421.7 367.0L1422.3 366.5L1423.0 366.0L1423.8 365.6L1424.5 365.2L1425.3 364.8L1426.1 364.4L1426.8 364.0L1427.4 363.6L1428.0 363.0L1428.5 362.4L1428.8 361.8L1429.2 361.2L1429.5 360.5L1429.7 359.7L1430.0 358.9L1430.2 358.0L1430.5 357.0L1430.6 356.5L1430.8 355.9L1430.9 355.3L1431.0 354.7L1431.1 354.0L1431.2 353.3L1431.3 352.6L1431.4 351.9L1431.5 351.1L1431.6 350.4L1431.7 349.6L1431.7 348.8L1431.8 348.0L1431.9 347.1L1432.0 346.3L1432.0 345.4L1432.1 344.6L1432.2 343.7L1432.2 342.8L1432.3 341.9L1432.4 341.0L1432.4 340.1L1432.5 339.2L1432.6 338.3L1432.6 337.4L1432.7 336.5L1432.8 335.6L1432.9 334.8L1432.9 333.9L1433.0 333.0L1433.1 332.2L1433.1 331.4L1433.2 330.6L1433.2 329.7L1433.3 328.8L1433.3 327.9L1433.4 326.9L1433.4 326.0L1433.4 324.9L1433.5 323.9L1433.5 322.9L1433.5 321.8L1433.6 320.8L1433.6 319.7L1433.6 318.7L1433.6 317.6L1433.7 316.5L1433.7 315.5L1433.7 314.4L1433.8 313.4L1433.8 312.4L1433.8 311.3L1433.9 310.4L1433.9 309.4L1434.0 308.4L1434.0 307.5L1434.1 306.6L1434.1 305.8L1434.2 305.0L1434.2 304.2L1434.3 303.5L1434.4 302.8L1434.5 302.1L1434.5 301.6L1434.6 301.0L1434.7 300.5L1434.8 300.1L1435.0 299.8L1435.1 299.5L1435.2 299.2L1435.4 299.1L1435.5 299.0L1435.9 299.1L1436.4 299.5L1437.0 300.2L1437.5 301.1L1438.0 302.1L1438.5 303.0L1438.8 303.6L1439.0 304.2L1439.2 304.9L1439.5 305.7L1439.7 306.5L1439.9 307.3L1440.1 308.2L1440.3 309.0L1440.5 309.9L1440.7 310.8L1440.9 311.7L1441.1 312.6L1441.3 313.5L1441.5 314.3L1441.8 315.2L1442.0 316.0L1442.3 316.8L1442.5 317.6L1442.8 318.3L1443.1 319.1L1443.4 319.9L1443.7 320.6L1444.0 321.4L1444.4 322.1L1444.7 322.9L1445.0 323.7L1445.3 324.4L1445.6 325.2L1445.8 326.1L1446.1 326.9L1446.4 327.7L1446.6 328.6L1446.8 329.3L1446.9 330.1L1447.1 330.8L1447.3 331.6L1447.4 332.3L1447.5 333.1L1447.7 333.9L1447.8 334.7L1447.9 335.5L1448.1 336.3L1448.2 337.1L1448.3 338.0L1448.4 338.8L1448.5 339.6L1448.6 340.5L1448.7 341.3L1448.8 342.1L1448.9 343.0L1449.0 343.8L1449.1 344.6L1449.2 345.5L1449.3 346.3L1449.4 347.1L1449.5 347.9L1449.6 348.7L1449.7 349.5L1449.8 350.4L1449.9 351.2L1450.0 352.0L1450.1 352.9L1450.1 353.7L1450.2 354.6L1450.3 355.4L1450.4 356.3L1450.5 357.1L1450.6 358.0L1450.6 358.8L1450.7 359.6L1450.8 360.4L1450.9 361.3L1450.9 362.1L1451.0 362.9L1451.1 363.6L1451.2 364.4L1451.3 365.1L1451.3 365.9L1451.4 366.6L1451.5 367.3L1451.6 368.2L1451.7 369.1L1451.8 370.0L1452.0 370.8L1452.1 371.6L1452.2 372.5L1452.3 373.2L1452.4 374.0L1452.5 374.8L1452.7 375.6L1452.8 376.4L1452.9 377.2L1453.0 378.0" fill="none" stroke="#434343" stroke-width="4.8" stroke-linejoin="round" stroke-linecap="butt"/>
<path d="M198.0 253.8L198.8 253.5L199.1 253.5L199.4 253.2L199.7 253.2L199.9 253.0L200.2 253.8L200.5 251.8L200.8 252.0L201.1 253.7L201.4 253.8L201.7 253.5L202.0 252.9L202.3 255.8L202.5 252.9L202.8 253.0L203.1 254.4L203.4 251.2L203.7 252.1L204.0 252.0L204.3 250.1L204.6 253.0L204.9 254.4L205.1 253.1L205.4 251.2L205.7 251.3L206.0 250.1L206.3 251.3L206.5 251.9L206.8 249.5L207.1 252.4L207.3 248.9L207.6 249.9L207.8 250.7L208.1 251.9L208.3 250.5L208.6 248.5L208.8 248.3L209.0 250.4L209.3 250.6L209.5 250.6L209.7 247.6L209.9 250.5L210.1 250.7L210.3 248.2L210.5 248.1L210.7 250.2L210.9 247.7L211.1 249.8L211.3 251.0L211.5 247.5L211.7 248.9L211.8 248.8L212.0 248.7L212.2 248.3L212.3 248.1L212.5 246.6L212.6 247.0L212.8 247.8L212.9 248.6L213.0 247.4L213.1 248.4L213.3 247.2L213.4 245.9L213.5 246.6L213.6 246.7L213.7 242.6L213.8 245.0L214.0 242.0L214.1 245.4L214.2 245.9L214.3 244.6L214.4 244.8L214.5 243.9L214.5 244.0L214.6 242.3L214.7 246.5L214.8 244.0L214.9 244.2L215.0 242.2L215.1 243.0L215.2 243.2L215.3 241.6L215.4 240.3L215.5 242.5L215.6 239.3L215.7 240.7L215.7 240.3L215.8 237.3L215.9 240.5L216.0 239.2L216.1 237.6L216.2 239.4L216.3 236.3L216.3 239.2L216.4 237.6L216.5 236.5L216.5 238.5L216.6 236.4L216.7 235.1L216.7 235.9L216.8 235.3L216.9 232.3L216.9 233.7L217.0 233.6L217.1 235.8L217.1 234.3L217.2 231.6L217.2 232.7L217.3 232.3L217.3 233.8L217.4 233.1L217.5 231.5L217.5 231.0L217.6 228.9L217.6 228.3L217.7 229.6L217.7 234.0L217.8 230.6L217.9 229.4L217.9 231.3L218.0 232.8L218.0 230.2L218.1 230.6L218.1 232.5L218.2 230.6L218.2 230.1L218.3 229.8L218.3 231.9L218.4 230.2L218.4 231.0L218.4 232.3L218.5 230.0L218.5 229.6L218.6 232.2L218.6 231.6L218.7 231.4L218.7 231.6L218.7 234.6L218.8 234.1L218.8 233.5L218.9 234.0L218.9 234.2L218.9 234.0L219.0 232.9L219.0 234.8L219.1 236.9L219.1 239.1L219.1 236.1L219.2 236.1L219.2 235.4L219.3 238.5L219.3 235.2L219.3 236.9L219.4 236.8L219.4 238.1L219.4 240.0L219.5 239.7L219.5 238.9L219.6 240.8L219.6 242.5L219.6 241.0L219.7 239.0L219.7 241.9L219.8 244.4L219.8 242.4L219.9 243.8L219.9 243.5L219.9 244.0L220.0 244.3L220.0 247.8L220.1 245.4L220.1 242.9L220.2 246.4L220.2 245.3L220.3 246.6L220.3 246.4L220.4 245.9L220.4 246.5L220.5 246.1L220.6 245.3L220.7 247.5L220.8 245.7L220.9 246.9L221.0 249.9L221.2 250.0L221.4 248.3L221.6 249.1L221.7 249.0L221.9 248.3L222.0 246.5L222.2 247.0L222.3 250.2L222.5 246.8L222.7 246.5L222.9 248.1L223.1 245.9L223.3 246.9L223.5 245.5L223.7 248.3L224.0 247.0L224.2 249.8L224.5 247.8L224.7 244.5L225.0 244.9L225.2 240.8L225.5 243.8L225.7 245.2L226.0 243.2L226.3 242.4L226.5 243.3L226.8 244.3L227.1 246.2L227.4 243.8L227.6 243.5L227.9 243.2L228.2 242.0L228.4 244.8L228.7 244.5L229.0 242.7L229.2 245.3L229.5 244.4L229.7 244.1L230.0 241.4L230.2 242.4L230.4 241.3L230.7 242.1L230.9 243.0L231.1 244.4L231.3 243.8L231.5 243.1L231.7 240.7L231.9 240.8L232.0 242.1L232.2 243.0L232.4 242.4L232.6 243.3L232.8 244.2L233.0 245.3L233.1 243.6L233.3 243.7L233.5 243.1L233.7 245.4L233.8 242.3L234.0 240.9L234.2 248.1L234.3 247.7L234.5 245.3L234.7 243.9L234.8 249.0L235.0 248.2L235.2 246.2L235.3 245.6L235.5 248.8L235.6 247.2L235.8 248.4L235.9 247.7L236.1 249.8L236.3 247.0L236.4 249.3L236.6 251.3L236.7 248.8L236.9 248.5L237.0 250.8L237.1 251.1L237.3 248.8L237.4 249.8L237.6 251.9L237.7 251.2L237.9 249.4L238.0 251.1L238.1 252.4L238.3 251.9L238.4 252.1L238.5 251.3L238.7 249.1L238.8 251.4L239.0 251.5L239.1 250.9L239.2 252.3L239.3 253.0L239.5 252.3L239.6 252.6L239.7 248.5L239.8 250.9L239.9 249.2L240.0 249.9L240.1 248.5L240.2 247.9L240.4 250.9L240.5 250.3L240.6 248.1L240.7 246.6L240.8 248.2L240.9 246.3L241.0 246.8L241.1 247.2L241.2 245.0L241.3 245.7L241.4 247.0L241.5 246.0L241.6 243.4L241.7 241.9L241.8 242.4L241.9 244.6L242.0 241.9L242.1 241.9L242.2 241.9L242.4 244.0L242.5 244.7L242.6 241.4L242.7 243.0L242.8 241.2L243.0 241.6L243.1 240.7L243.2 242.3L243.4 240.8L243.6 244.0L243.8 239.9L244.0 243.9L244.2 239.3L244.4 238.5L244.6 241.1L244.9 241.7L245.1 242.2L245.3 242.6L245.5 242.8L245.8 243.1L246.0 243.1L246.2 245.0L246.5 243.0L246.7 243.0L247.0 241.9L247.2 245.4L247.5 246.1L247.7 245.7L248.0 244.6L248.2 244.6L248.4 244.7L248.6 242.6L248.7 243.4L248.9 243.6L249.1 245.4L249.2 245.8L249.4 242.6L249.6 248.1L249.7 244.8L249.9 240.9L250.1 244.3L250.3 244.9L250.4 242.9L250.6 243.8L250.8 241.2L251.0 243.2L251.2 242.5L251.3 243.4L251.5 243.4L251.7 242.3L251.9 237.5L252.1 242.0L252.3 241.2L252.5 240.0L252.7 240.7L252.9 241.5L253.1 240.3L253.2 239.8L253.4 241.7L253.6 238.0L253.8 238.4L254.0 240.4L254.2 240.1L254.4 239.5L254.6 240.7L254.8 239.7L255.0 235.4L255.2 237.9L255.4 239.6L255.6 235.7L255.8 237.2L256.0 234.3L256.2 234.8L256.5 237.2L256.7 235.8L256.9 234.4L257.1 237.5L257.3 234.8L257.5 236.2L257.7 235.0L257.9 233.5L258.2 235.3L258.4 234.6L258.7 236.9L258.9 233.7L259.2 235.1L259.4 234.9L259.7 236.8L260.0 234.2L260.2 235.8L260.5 236.7L260.8 235.8L261.0 235.0L261.3 234.8L261.6 236.2L261.9 235.2L262.1 236.1L262.4 236.2L262.7 236.3L263.0 235.1L263.2 238.1L263.5 236.9L263.8 236.2L264.1 237.5L264.3 235.1L264.6 235.7L264.9 237.4L265.2 235.2L265.4 234.7L265.7 234.5L266.0 233.7L266.2 235.2L266.5 235.5L266.8 236.5L267.0 232.9L267.3 236.2L267.6 233.7L267.8 235.5L268.1 237.5L268.3 233.6L268.6 237.4L268.8 234.4L269.1 234.4L269.3 233.7L269.6 235.2L269.9 237.7L270.1 232.6L270.4 231.4L270.6 234.7L270.9 237.6L271.1 234.8L271.3 236.4L271.6 231.4L271.8 234.8L272.1 232.7L272.3 232.7L272.6 233.7L272.8 232.4L273.1 233.0L273.3 231.1L273.6 233.0L273.8 230.1L274.1 234.9L274.3 235.1L274.6 232.7L274.8 229.8L275.0 234.1L275.3 231.7L275.5 232.2L275.8 230.1L276.0 233.2L276.3 230.9L276.5 231.1L276.8 231.3L277.0 230.8L277.3 231.9L277.5 233.3L277.7 231.8L278.0 232.4L278.2 232.2L278.4 233.0L278.6 232.0L278.9 231.2L279.1 234.6L279.3 235.5L279.6 233.4L279.8 232.4L280.0 233.1L280.2 234.2L280.5 234.1L280.7 232.6L280.9 232.2L281.1 233.6L281.4 234.4L281.6 233.8L281.8 233.1L282.0 232.8L282.3 234.8L282.5 231.3L282.7 233.1L282.9 235.6L283.2 232.0L283.4 234.8L283.6 237.5L283.9 234.6L284.1 233.8L284.3 233.3L284.6 238.1L284.8 233.7L285.0 237.2L285.3 234.8L285.5 237.6L285.7 237.5L286.0 238.4L286.2 235.5L286.4 237.1L286.7 234.8L286.9 237.6L287.2 238.7L287.4 236.5L287.6 239.0L287.8 238.3L288.1 239.0L288.3 239.8L288.5 237.2L288.7 239.5L289.0 237.0L289.2 235.5L289.4 238.0L289.7 235.8L289.9 233.2L290.1 237.1L290.4 236.9L290.6 237.9L290.9 236.6L291.1 235.5L291.3 231.6L291.6 234.8L291.8 236.0L292.0 232.1L292.3 235.1L292.5 235.2L292.8 233.6L293.0 234.3L293.2 233.4L293.5 230.8L293.7 231.6L294.0 234.1L294.2 232.4L294.4 234.0L294.7 234.7L294.9 233.5L295.2 231.9L295.4 230.7L295.7 230.5L295.9 235.6L296.1 231.5L296.4 232.6L296.6 233.6L296.9 231.8L297.1 230.3L297.3 228.2L297.6 229.1L297.8 230.2L298.1 230.4L298.3 231.0L298.5 227.8L298.8 229.4L299.0 228.2L299.3 229.0L299.6 230.2L299.9 227.6L300.1 230.4L300.4 230.5L300.7 230.9L301.0 230.9L301.3 228.8L301.6 229.9L301.9 231.8L302.1 229.3L302.4 228.0L302.7 230.8L303.0 229.0L303.3 228.8L303.6 227.4L303.9 229.2L304.2 229.1L304.4 231.0L304.7 228.6L305.0 228.2L305.3 230.8L305.6 229.6L305.9 228.4L306.1 232.7L306.4 231.3L306.7 231.3L307.0 232.4L307.3 232.0L307.5 232.6L307.8 233.3L308.1 231.4L308.3 232.8L308.6 231.0L308.9 232.1L309.1 233.0L309.4 234.2L309.7 235.2L309.9 233.7L310.2 234.6L310.4 234.5L310.7 234.1L311.0 232.9L311.2 236.7L311.5 233.6L311.7 236.6L312.0 235.7L312.2 239.8L312.5 233.4L312.8 235.8L313.0 232.9L313.3 236.9L313.5 233.4L313.8 233.7L314.0 235.4L314.3 235.5L314.5 235.0L314.7 234.6L315.0 235.5L315.2 236.3L315.5 236.5L315.7 235.3L315.9 239.4L316.1 236.6L316.4 237.8L316.6 234.9L316.8 236.5L317.0 237.8L317.2 233.7L317.4 237.7L317.6 237.3L317.8 237.0L318.0 239.2L318.2 240.0L318.4 237.1L318.5 236.8L318.7 240.1L318.8 239.2L318.9 238.6L319.0 239.5L319.2 238.9L319.3 239.6L319.4 239.4L319.5 240.3L319.6 238.8L319.7 241.3L319.8 238.6L319.9 243.9L320.0 241.7L320.1 242.6L320.2 244.0L320.3 242.6L320.4 240.2L320.5 242.2L320.6 242.1L320.6 242.2L320.7 243.3L320.8 242.8L320.9 242.4L321.0 243.4L321.0 244.9L321.1 246.0L321.2 244.8L321.3 248.8L321.3 247.3L321.4 246.4L321.5 245.5L321.5 247.3L321.6 246.0L321.7 248.3L321.7 245.0L321.8 245.1L321.9 248.0L321.9 247.3L322.0 249.8L322.1 247.9L322.1 248.2L322.2 246.6L322.3 247.4L322.3 255.1L322.4 248.5L322.5 247.7L322.5 250.6L322.6 252.9L322.7 252.3L322.8 252.1L322.8 250.8L322.9 247.8L323.0 251.3L323.1 253.6L323.1 249.2L323.2 253.9L323.3 250.2L323.4 251.4L323.4 250.8L323.5 248.6L323.6 250.9L323.7 252.3L323.7 248.4L323.8 250.5L323.9 248.8L324.0 250.6L324.0 251.2L324.1 250.1L324.2 248.6L324.2 251.7L324.3 250.5L324.4 247.3L324.4 248.0L324.5 247.7L324.6 248.7L324.6 249.9L324.7 247.7L324.8 245.6L324.8 246.2L324.9 247.6L325.0 246.3L325.0 243.9L325.1 248.3L325.2 248.3L325.3 245.7L325.3 243.3L325.4 243.4L325.5 243.9L325.5 240.9L325.6 243.7L325.7 243.1L325.7 243.8L325.8 241.4L325.9 242.9L325.9 240.1L326.0 241.4L326.1 240.2L326.2 237.4L326.2 239.8L326.3 238.4L326.4 241.7L326.4 240.0L326.5 240.1L326.6 240.7L326.7 238.3L326.7 237.5L326.8 239.7L326.9 238.6L327.0 237.8L327.1 236.0L327.1 236.3L327.2 235.7L327.3 238.3L327.4 234.2L327.5 235.2L327.5 238.1L327.6 236.3L327.7 233.5L327.8 235.6L327.9 238.4L328.0 235.8L328.1 236.9L328.2 235.6L328.3 234.2L328.4 235.7L328.5 236.1L328.6 235.9L328.7 235.6L328.8 234.6L329.0 232.9L329.1 237.2L329.2 235.0L329.3 238.6L329.4 237.0L329.6 237.1L329.7 236.2L329.8 237.1L329.9 238.2L330.1 239.0L330.2 237.7L330.3 238.1L330.4 238.4L330.6 239.9L330.7 237.7L330.8 240.7L330.9 237.6L331.1 241.8L331.2 242.4L331.3 239.8L331.5 239.1L331.6 243.4L331.7 242.2L331.9 244.1L332.0 244.1L332.1 243.6L332.3 247.0L332.4 242.8L332.5 242.6L332.6 245.0L332.8 244.0L332.9 246.0L333.0 244.9L333.2 244.0L333.3 250.2L333.4 245.7L333.6 246.2L333.7 245.7L333.8 250.3L334.0 248.7L334.1 249.3L334.2 247.2L334.4 247.8L334.5 249.2L334.7 248.9L334.8 247.9L334.9 247.9L335.1 248.9L335.2 250.3L335.4 252.1L335.5 251.0L335.6 248.4L335.8 249.1L335.9 250.7L336.1 250.8L336.2 250.8L336.3 250.5L336.5 251.4L336.6 250.9L336.8 252.2L336.9 250.5L337.1 249.9L337.2 253.0L337.3 252.2L337.5 254.0L337.6 250.4L337.8 254.6L337.9 251.7L338.1 254.1L338.2 250.6L338.4 255.7L338.5 254.3L338.7 255.7L338.8 251.0L339.0 252.9L339.1 253.1L339.3 253.3L339.4 256.2L339.6 254.1L339.7 256.5L339.9 257.0L340.0 254.2L340.2 254.4L340.3 257.6L340.4 259.2L340.6 257.9L340.7 256.4L340.9 257.9L341.1 258.9L341.2 258.3L341.4 258.9L341.5 261.6L341.7 259.1L341.8 258.6L342.0 259.4L342.2 258.1L342.3 259.7L342.5 260.0L342.7 260.5L342.8 261.6L343.0 259.1L343.2 262.3L343.3 261.0L343.5 262.3L343.6 262.0L343.8 262.3L344.0 263.1L344.1 262.9L344.3 262.6L344.5 263.2L344.6 263.2L344.8 263.5L344.9 263.7L345.4 264.4L345.9 265.0L346.0 265.3L346.1 265.3L346.3 265.6L346.4 265.7L346.6 266.1L346.7 266.3L346.8 266.4L346.9 266.7L347.1 267.0L347.2 267.2L347.3 267.2L347.4 267.5L347.5 267.7L347.7 268.1L347.8 268.3L347.9 268.6L348.0 269.3L348.1 268.9L348.2 269.6L348.3 270.5L348.4 270.2L348.5 270.3L348.6 270.4L348.7 271.0L348.7 271.6L348.8 272.0L348.9 272.0L349.0 272.1L349.1 272.2L349.1 272.0L349.2 272.6L349.3 272.7L349.4 273.2L349.4 273.9L349.5 273.1L349.6 273.9L349.7 273.8L349.8 273.4L349.9 274.0L350.0 273.9L350.1 273.9L350.2 274.4L350.3 275.1L350.4 274.5L350.5 276.1L350.6 275.5L350.6 276.1L350.7 276.1L350.8 276.7L350.9 277.1L351.0 277.7L351.0 278.1L351.1 277.1L351.2 278.7L351.3 277.7L351.4 278.2L351.5 278.5L351.5 279.4L351.6 278.3L351.7 279.3L351.8 279.4L351.9 279.4L352.0 280.5L352.1 279.9L352.2 280.5L352.3 280.7L352.4 280.7L352.5 281.4L352.6 280.2L352.7 281.2L352.8 282.0L352.9 282.4L353.0 282.6L353.1 282.5L353.2 282.4L353.3 283.4L353.4 283.6L353.5 283.4L353.6 283.2L353.7 283.6L353.8 283.5L353.9 283.8L354.0 284.8L354.1 285.0L354.2 286.5L354.3 285.1L354.4 285.5L354.5 286.8L354.6 286.2L354.7 287.2L354.8 287.3L354.9 287.6L355.0 287.8L355.2 288.6L355.3 288.7L355.4 288.3L355.5 288.5L355.6 289.3L355.7 289.3L355.8 288.5L355.9 290.0L356.0 291.0L356.1 290.1L356.2 290.5L356.3 290.5L356.4 291.5L356.5 291.5L356.6 291.5L356.7 292.4L356.8 293.6L356.9 292.3L357.0 294.0L357.1 293.3L357.2 294.0L357.3 294.6L357.4 294.5L357.5 294.9L357.6 296.3L357.7 295.6L357.8 295.5L357.9 296.4L358.0 296.4L358.1 296.2L358.2 296.4L358.3 296.2L358.4 296.7L358.5 296.4L358.6 297.6L358.7 296.9L358.8 297.7L358.9 299.4L358.9 298.3L359.0 298.6L359.1 299.2L359.2 298.2L359.3 298.6L359.4 299.2L359.5 299.7L359.6 300.3L359.7 300.4L359.8 299.2L359.9 299.8L360.0 301.1L360.1 300.2L360.2 301.1L360.3 301.7L360.3 302.0L360.4 302.0L360.5 303.2L360.6 302.4L360.7 303.6L360.8 304.0L360.9 303.6L361.0 304.4L361.0 303.9L361.1 304.9L361.2 304.5L361.3 304.1L361.4 305.6L361.5 305.9L361.5 306.4L361.6 306.6L361.7 306.6L361.8 307.6L361.9 307.0L362.0 308.2L362.0 307.3L362.1 307.6L362.2 308.2L362.3 308.5L362.4 308.3L362.5 309.4L362.5 309.6L362.6 309.1L362.7 310.3L362.8 309.8L362.9 310.6L363.0 310.1L363.0 310.6L363.1 310.9L363.2 311.0L363.3 311.1L363.4 311.9L363.5 311.2L363.6 311.8L363.7 312.7L363.7 312.8L363.8 312.8L363.9 312.6L364.0 313.6L364.1 313.8L364.2 314.6L364.3 314.7L364.4 314.7L364.5 314.6L364.6 315.3L364.7 315.5L364.8 316.1L364.9 316.2L365.0 316.2L365.1 316.6L365.2 317.5L365.3 316.5L365.4 317.9L365.5 317.6L365.6 317.2L365.7 317.2L365.8 317.7L365.9 318.2L366.0 318.4L366.1 318.2L366.2 318.7L366.3 319.2L366.4 319.3L366.5 319.8L366.6 319.7L366.7 320.1L366.8 321.2L366.9 319.9L367.0 320.9L367.1 321.5L367.2 320.9L367.3 321.1L367.4 321.9L367.5 322.1L367.6 322.3L367.7 322.5L367.8 323.2L368.0 323.3L368.1 323.9L368.2 323.6L368.3 324.2L368.4 323.9L368.5 324.3L368.6 324.4L368.7 324.4L368.8 325.3L368.9 325.0L369.0 325.8L369.1 326.5L369.2 326.1L369.3 326.2L369.4 325.9L369.5 326.6L369.6 326.6L369.7 326.5L369.8 327.1L370.0 327.8L370.1 328.1L370.2 328.6L370.3 328.9L370.4 329.2L370.5 328.9L370.6 329.2L370.7 330.0L370.7 330.5L370.8 330.7L370.9 330.1L371.0 330.2L371.1 330.4L371.2 332.1L371.3 331.6L371.4 332.3L371.5 332.8L371.6 332.8L371.7 333.2L371.8 333.3L371.9 333.6L372.0 333.6L372.1 334.5L372.1 334.4L372.2 335.2L372.3 334.9L372.4 335.1L372.5 335.2L372.6 335.6L372.7 336.2L372.7 336.1L372.8 336.3L372.9 335.8L373.0 335.9L373.1 336.5L373.1 337.2L373.2 337.2L373.3 337.6L373.4 338.4L373.5 338.5L373.5 339.2L373.6 338.9L373.7 339.7L373.8 338.8L373.8 339.9L373.9 340.1L374.0 341.0L374.1 341.1L374.1 340.6L374.2 341.9L374.3 341.2L374.4 341.0L374.5 342.1L374.5 342.2L374.6 343.5L374.7 343.3L374.8 343.0L374.9 342.6L375.0 344.3L375.0 344.0L375.1 343.8L375.2 343.7L375.3 344.4L375.4 344.5L375.5 344.3L375.6 345.6L375.7 344.1L375.8 345.8L375.9 345.7L376.0 346.8L376.1 345.9L376.2 346.1L376.3 348.0L376.4 347.2L376.5 348.1L376.6 348.9L376.7 348.9L376.8 349.1L377.0 349.4L377.1 349.5L377.2 350.2L377.4 349.4L377.5 350.0L377.7 350.1L377.8 351.2L378.0 350.5L378.1 350.9L378.3 350.8L378.4 351.5L378.6 352.5L378.7 351.6L378.9 352.1L379.0 352.8L379.2 352.4L379.4 351.9L379.5 352.4L379.7 353.7L379.9 354.0L380.0 354.8L380.2 354.1L380.3 354.9L380.5 354.6L380.7 354.5L380.8 354.7L381.0 354.7L381.2 354.3L381.3 354.7L381.5 355.3L381.7 355.8L381.8 356.1L382.0 355.6L382.1 356.3L382.3 356.5L382.5 357.4L382.6 357.3L382.8 357.9L382.9 357.5L383.1 357.7L383.2 358.9L383.4 358.2L383.5 358.5L383.7 358.7L383.8 359.3L384.0 359.6L384.1 359.5L384.2 359.7L384.3 359.8L384.5 360.2L384.6 360.6L384.7 359.9L384.8 360.7L385.0 361.0L385.1 361.4L385.2 361.2L385.3 361.6L385.4 362.5L385.6 362.1L385.7 362.0L385.8 363.0L385.9 363.2L386.0 363.7L386.1 363.0L386.3 362.7L386.4 364.3L386.5 364.1L386.6 364.1L386.7 363.5L386.8 364.6L387.0 364.9L387.1 365.1L387.2 365.8L387.3 365.6L387.4 366.5L387.5 366.1L387.7 366.6L387.8 366.6L387.9 366.9L388.0 367.9L388.1 367.0L388.3 368.0L388.4 368.2L388.5 368.1L388.6 368.2L388.7 368.9L388.9 368.5L389.0 369.0L389.1 369.4L389.2 369.3L389.4 369.0L389.5 369.8L389.6 369.8L389.8 370.1L389.9 370.3L390.0 369.7L390.2 370.8L390.3 371.8L390.4 370.9L390.6 371.7L390.7 371.6L390.8 371.9L391.0 373.0L391.1 372.5L391.3 372.9L391.5 373.4L391.6 374.0L391.8 373.6L391.9 374.4L392.1 374.4L392.2 373.8L392.4 375.5L392.6 375.0L392.7 374.7L392.9 375.9L393.1 375.4L393.2 375.0L393.4 376.6L393.6 376.1L393.7 376.3L393.9 377.0L394.1 377.0L394.3 377.2L394.4 378.5L394.6 378.8L394.8 377.8L394.9 377.5L395.1 378.3L395.3 379.8L395.5 378.4L395.6 379.6L395.8 380.1L396.0 380.0L396.2 380.8L396.3 381.0L396.5 380.6L396.7 381.2L396.8 381.0L397.0 381.7L397.2 381.7L397.3 381.1L397.5 382.1L397.7 382.5L397.8 382.7L398.0 383.2L398.1 383.6L398.3 383.6L398.5 384.4L398.6 383.1L398.8 384.2L398.9 384.3L399.1 384.8L399.2 384.4L399.4 385.6L399.5 385.3L399.7 385.0L399.9 385.4L400.1 386.8L400.3 386.8L400.5 386.8L400.7 386.6L400.9 386.8L401.1 388.0L401.3 387.8L401.5 388.1L401.6 387.6L401.8 388.2L402.0 387.6L402.2 387.7L402.4 389.2L402.6 388.5L402.7 389.6L402.9 390.2L403.1 389.3L403.3 389.7L403.4 389.5L403.6 389.6L403.7 391.0L403.9 390.2L404.0 390.6L404.2 390.2L404.3 391.2L404.4 391.2L404.6 391.5L404.7 391.0L404.8 391.1L404.9 391.9L405.0 391.9L405.0 392.2L405.1 392.8L405.2 394.2L405.3 394.0L405.3 394.8L405.4 394.2L405.4 394.7L405.5 395.0L405.5 396.2L405.6 395.6L405.6 395.3L405.6 395.5L405.7 395.9L405.7 396.0L405.7 396.7L405.8 396.8L405.8 397.7L405.8 398.3L405.9 398.0L405.9 399.0L405.9 400.1L405.9 399.7L406.0 400.1L406.0 399.9L406.0 400.8L406.1 401.0L406.1 401.6L406.1 401.2L406.2 400.8L406.2 401.3L406.3 401.9L406.3 401.8L406.3 401.7L406.4 402.6L406.4 402.0L406.5 402.1L406.6 401.6L406.6 401.2L406.7 402.5L406.7 402.0L406.8 401.9L406.8 401.2L406.9 400.5L406.9 401.1L407.0 400.9L407.1 400.4L407.1 399.7L407.2 400.1L407.2 398.8L407.3 398.1L407.3 399.0L407.4 397.9L407.4 398.5L407.5 398.1L407.6 397.4L407.7 397.2L407.7 397.0L407.8 396.5L407.9 395.6L408.0 395.0L408.1 395.4L408.2 394.5L408.3 395.0L408.4 394.0L408.5 394.7L408.7 394.3L408.8 393.8L409.0 394.0L409.1 393.3L409.3 394.4L409.4 393.3L409.6 394.7L409.8 394.3L410.0 394.1L410.2 393.6L410.4 395.2L410.6 394.5L410.8 394.5L411.1 394.5L411.3 394.9L411.5 394.8L411.8 395.4L412.0 394.6L412.3 396.1L412.5 394.6L412.8 395.2L413.0 395.5L413.3 395.8L413.5 396.0L413.8 396.0L414.1 396.6L414.3 397.0L414.6 396.4L414.9 397.2L415.1 397.0L415.4 397.7L415.7 397.4L415.9 397.1L416.2 396.7L416.5 397.4L416.7 397.5L417.0 397.6L417.2 397.9L417.5 397.4L417.7 397.4L417.9 398.0L418.2 397.5L418.4 398.3L418.7 397.6L418.9 398.4L419.2 397.5L419.4 397.5L419.7 397.9L419.9 397.3L420.2 397.9L420.4 397.3L420.7 396.8L421.0 396.9L421.2 396.2L421.5 396.4L421.7 395.9L422.0 395.9L422.3 396.0L422.5 396.1L422.8 396.3L423.0 396.3L423.3 396.5L423.6 396.7L423.8 396.6L424.1 396.7L424.3 395.7L424.6 394.9L424.8 394.7L425.1 395.2L425.3 394.7L425.6 395.0L425.8 394.3L426.1 394.7L426.3 394.4L426.6 393.5L426.8 395.1L427.0 393.1L427.3 393.7L427.5 394.2L427.7 393.4L428.0 393.6L428.2 393.4L428.4 393.1L428.6 392.9L428.8 393.8L429.1 393.2L429.3 392.5L429.5 393.0L429.7 391.9L429.9 392.4L430.1 391.5L430.3 391.7L430.6 390.7L430.8 390.2L431.0 390.2L431.2 391.0L431.4 391.1L431.6 390.5L431.8 390.3L432.0 389.3L432.2 389.9L432.4 390.1L432.6 389.1L432.8 388.5L433.0 388.4L433.2 388.7L433.4 388.3L433.6 389.2L433.8 388.5L434.0 388.0L434.2 387.9L434.4 387.4L434.6 386.9L434.8 387.1L435.0 387.0L435.2 386.8L435.4 387.1L435.6 386.8L435.8 386.5L436.0 387.2L436.2 386.3L436.4 386.3L436.6 385.5L436.8 386.3L437.0 384.9L437.2 385.4L437.3 384.2L437.5 384.2L437.7 383.2L437.9 383.2L438.1 382.9L438.3 383.0L438.5 383.0L438.7 383.2L438.9 381.8L439.1 382.6L439.3 382.3L439.5 381.0L439.7 381.0L439.9 380.6L440.1 380.6L440.3 380.2L440.5 379.0L440.7 380.6L440.9 379.8L441.1 378.8L441.3 379.0L441.5 378.7L441.7 378.7L441.8 378.4L442.0 377.3L442.2 377.8L442.4 377.6L442.6 377.8L442.8 376.8L442.9 377.3L443.1 376.1L443.3 376.8L443.4 377.0L443.6 375.5L443.8 376.0L443.9 375.7L444.1 375.5L444.3 376.0L444.4 375.6L444.6 376.2L444.7 375.6L444.9 375.8L445.0 375.8L445.1 375.7L445.3 375.5L445.4 375.8L445.6 376.4L445.7 376.7L445.9 375.8L446.0 376.6L446.1 377.3L446.2 377.9L446.4 377.2L446.5 377.9L446.6 378.3L446.7 378.5L446.9 378.7L447.0 379.1L447.1 379.3L447.2 380.7L447.3 380.4L447.4 381.4L447.5 380.4L447.6 381.5L447.7 381.9L447.8 381.0L447.9 381.6L448.0 383.2L448.1 382.8L448.2 383.3L448.3 383.7L448.4 384.3L448.5 385.1L448.6 385.0L448.7 385.1L448.7 384.9L448.8 385.4L448.9 385.8L449.0 386.4L449.0 387.2L449.1 386.6L449.2 387.2L449.3 386.0L449.3 386.4L449.4 386.8L449.4 385.7L449.5 386.5L449.5 386.4L449.6 386.0L449.6 385.9L449.6 385.6L449.7 386.1L449.7 386.4L449.7 385.9L449.7 385.5L449.7 385.6L449.7 385.7L449.8 385.6L449.8 384.9L449.8 384.8L449.8 385.1L449.8 385.0L449.8 384.5L449.8 383.9L449.8 384.0L449.8 383.4L449.8 384.0L449.8 383.7L449.7 383.0L449.7 382.1L449.7 383.1L449.7 383.0L449.7 381.5L449.7 381.2L449.7 381.0L449.7 381.1L449.6 380.8L449.6 380.1L449.6 378.9L449.6 379.9L449.6 380.1L449.6 379.5L449.5 379.4L449.5 378.6L449.5 379.2L449.5 378.6L449.5 378.5L449.5 376.8L449.5 377.0L449.4 375.8L449.4 376.0L449.4 375.4L449.4 375.3L449.4 373.9L449.4 374.1L449.4 374.5L449.4 373.8L449.4 373.3L449.4 372.3L449.4 372.0L449.4 372.5L449.4 371.7L449.4 372.0L449.4 371.6L449.4 371.1L449.4 370.5L449.5 371.2L449.5 370.2L449.5 370.6L449.5 369.4L449.6 369.4L449.6 368.9L449.6 369.0L449.7 368.7L449.7 367.8L449.8 368.0L449.8 367.8L449.9 367.5L449.9 366.9L450.0 367.1L450.1 366.3L450.1 366.4L450.2 366.2L450.3 365.7L450.4 365.5L450.5 365.6L450.6 365.0L450.7 364.8L450.8 364.2L451.0 363.9L451.1 363.4L451.2 363.7L451.4 363.6L451.5 363.6L451.7 362.1L451.8 363.2L451.9 362.4L452.1 362.7L452.3 361.9L452.4 361.4L452.6 362.3L452.7 360.2L452.9 361.0L453.1 360.2L453.2 360.7L453.4 359.8L453.6 359.8L453.8 359.5L453.9 359.5L454.1 357.8L454.3 359.3L454.5 358.6L454.7 357.7L454.8 358.1L455.0 357.9L455.2 357.7L455.4 357.5L455.6 356.9L455.8 358.2L456.0 357.3L456.1 358.2L456.3 356.9L456.5 356.6L456.7 356.7L456.9 357.1L457.1 356.3L457.3 355.5L457.4 355.7L457.6 356.5L457.8 354.5L458.0 355.0L458.1 354.6L458.3 354.3L458.5 354.4L458.7 354.0L458.8 353.7L459.0 353.2L459.1 353.6L459.3 352.7L459.4 351.9L459.6 353.0L459.7 352.9L459.8 351.5L460.0 351.0L460.1 351.6L460.3 351.5L460.4 351.3L460.5 351.1L460.7 351.4L460.8 350.5L461.0 350.2L461.1 349.8L461.2 350.1L461.4 349.2L461.5 349.5L461.7 348.7L461.8 348.8L462.0 348.9L462.1 347.6L462.2 347.8L462.4 347.5L462.5 346.9L462.7 347.4L462.8 346.4L463.0 346.3L463.1 346.5L463.2 346.4L463.4 347.0L463.5 346.7L463.7 346.0L463.8 345.9L464.0 345.9L464.1 345.8L464.2 345.3L464.4 345.7L464.5 345.0L464.7 345.3L464.8 344.8L465.0 343.8L465.1 343.4L465.2 344.3L465.4 343.2L465.5 342.4L465.7 343.2L465.8 341.9L465.9 342.7L466.1 341.6L466.2 341.6L466.4 341.0L466.5 340.1L466.7 339.8L466.8 339.6L466.9 341.1L467.1 339.8L467.2 338.8L467.3 339.8L467.5 338.6L467.6 337.4L467.8 339.3L467.9 338.9L468.0 338.1L468.2 338.8L468.3 338.1L468.4 337.7L468.6 337.3L468.7 337.7L468.8 337.4L469.0 337.1L469.1 336.4L469.2 335.9L469.4 336.8L469.5 335.2L469.7 336.4L469.8 335.3L470.0 335.3L470.1 333.9L470.3 335.1L470.4 334.6L470.6 334.2L470.7 334.3L470.8 334.1L471.0 333.3L471.1 334.2L471.3 332.2L471.4 332.8L471.6 332.1L471.7 332.9L471.9 332.2L472.0 331.5L472.1 331.5L472.3 331.8L472.4 331.9L472.6 331.9L472.7 331.2L472.8 330.6L473.0 330.5L473.1 329.3L473.3 329.5L473.4 329.0L473.5 329.4L473.7 328.6L473.8 328.0L474.0 328.3L474.1 327.5L474.2 327.6L474.4 327.7L474.5 327.4L474.7 326.5L474.8 326.1L475.0 326.0L475.1 326.0L475.2 326.6L475.4 326.0L475.5 326.1L475.7 326.6L475.8 325.3L476.0 325.9L476.1 325.0L476.3 324.4L476.4 324.1L476.5 323.7L476.7 323.8L476.8 323.3L477.0 323.2L477.1 323.2L477.3 323.4L477.5 322.8L477.6 321.7L477.8 322.7L477.9 322.2L478.1 321.8L478.3 321.2L478.4 321.5L478.6 320.8L478.8 320.9L479.0 320.9L479.1 321.5L479.3 322.2L479.5 320.9L479.7 320.8L479.8 319.9L480.0 320.4L480.2 319.3L480.4 319.7L480.6 319.7L480.7 318.7L480.9 318.2L481.1 318.8L481.3 317.7L481.5 317.2L481.6 317.2L481.8 317.0L482.0 316.5L482.2 316.3L482.3 316.8L482.5 316.0L482.7 316.1L482.8 316.4L483.0 315.7L483.2 315.6L483.4 315.6L483.5 315.6L483.7 315.2L483.8 314.8L484.0 313.8L484.2 314.0L484.3 313.6L484.5 314.1L484.6 314.1L484.8 314.0L484.9 313.5L485.0 312.9L485.2 313.6L485.3 313.0L485.4 312.9L485.6 312.6L485.7 311.2L485.8 312.5L486.0 311.8L486.1 311.7L486.3 311.8L486.4 310.6L486.5 310.1L486.6 310.4L486.7 310.1L486.8 310.6L486.9 309.1L487.0 309.3L487.1 309.2L487.2 309.0L487.3 308.2L487.3 308.7L487.4 308.2L487.5 307.6L487.6 307.4L487.7 307.9L487.8 307.3L487.9 306.5L488.0 306.8L488.1 306.0L488.2 304.9L488.3 305.6L488.4 305.3L488.5 305.5L488.7 304.5L488.8 304.4L488.9 304.2L489.1 304.3L489.2 303.6L489.4 303.8L489.6 304.1L489.9 303.8L490.1 303.3L490.4 302.6L490.7 303.1L490.9 303.3L491.2 303.0L491.5 302.3L491.8 302.6L492.1 303.6L492.4 303.4L492.7 303.2L493.0 303.8L493.3 303.6L493.6 303.0L493.9 304.1L494.2 303.1L494.5 303.6L494.8 303.9L495.1 302.6L495.4 303.0L495.6 301.1L495.7 302.9L495.9 302.4L496.0 301.5L496.2 302.2L496.4 301.8L496.5 301.8L496.7 301.3L496.8 300.9L497.0 300.7L497.1 300.6L497.3 300.5L497.4 300.1L497.6 299.9L497.7 300.0L497.9 300.3L498.0 299.0L498.2 299.5L498.3 299.0L498.5 298.9L498.6 299.2L498.8 298.8L498.9 298.2L499.1 298.3L499.2 297.6L499.4 297.6L499.5 297.6L499.7 297.5L499.8 297.5L499.9 296.0L500.1 296.3L500.2 296.3L500.4 295.8L500.5 295.1L500.7 294.8L500.8 294.3L501.0 293.7L501.1 293.5L501.2 293.8L501.4 292.8L501.5 292.6L501.7 292.9L501.8 291.8L502.0 292.2L502.1 291.6L502.3 291.7L502.4 291.6L502.6 293.1L502.7 291.2L502.9 291.6L503.0 290.9L503.2 291.6L503.3 291.3L503.4 291.0L503.6 290.5L503.7 289.7L503.9 290.3L504.1 290.1L504.2 289.0L504.4 288.6L504.5 289.3L504.7 288.9L504.8 287.7L505.0 287.8L505.1 286.9L505.3 286.9L505.5 286.7L505.6 286.2L505.8 285.1L505.9 286.3L506.1 285.5L506.2 285.6L506.4 285.1L506.6 284.5L506.7 283.7L506.9 284.3L507.0 284.2L507.2 284.5L507.4 283.5L507.5 283.5L507.7 283.1L507.8 282.6L508.0 282.8L508.1 282.6L508.3 283.1L508.5 283.4L508.6 283.1L508.8 282.7L508.9 283.5L509.1 282.1L509.2 283.2L509.4 282.3L509.6 281.3L509.7 282.2L509.9 281.1L510.0 282.0L510.2 281.7L510.3 281.9L510.5 281.1L510.6 280.5L510.8 280.0L510.9 280.3L511.1 280.1L511.3 279.4L511.4 280.1L511.6 278.5L511.7 278.3L511.9 278.3L512.0 277.0L512.2 277.3L512.3 276.8L512.5 277.0L512.7 276.9L512.9 275.7L513.1 276.4L513.2 275.6L513.4 275.9L513.6 275.6L513.8 276.6L514.0 274.9L514.2 275.7L514.4 274.7L514.5 274.4L514.7 274.3L514.9 274.7L515.1 274.6L515.3 274.1L515.4 273.5L515.6 273.2L515.8 273.3L516.0 273.4L516.2 272.3L516.3 272.5L516.5 272.9L516.7 272.5L516.9 272.0L517.1 271.4L517.3 271.5L517.5 270.9L517.6 270.8L517.8 270.7L518.0 270.7L518.2 269.6L518.4 269.3L518.6 269.1L518.8 268.7L519.0 268.6L519.3 268.9L519.5 268.9L519.7 269.5L519.9 268.7L520.1 268.6L520.3 268.8L520.6 268.4L520.8 268.8L521.0 268.5L521.2 268.0L521.4 267.6L521.7 267.7L521.9 267.7L522.1 267.3L522.3 266.3L522.6 266.0L522.8 265.8L523.0 267.2L523.2 266.6L523.5 266.5L523.7 266.4L523.9 266.2L524.2 265.0L524.4 264.6L524.6 265.4L524.8 265.4L525.0 264.8L525.2 264.3L525.3 264.5L525.5 263.7L525.7 262.4L525.9 263.6L526.1 263.3L526.3 262.7L526.5 262.6L526.7 262.2L526.9 262.0L527.1 262.1L527.3 261.3L527.5 261.3L527.7 261.4L527.9 260.7L528.1 261.2L528.3 261.3L528.5 260.7L528.7 260.8L528.9 260.8L529.1 260.8L529.3 260.0L529.5 259.5L529.7 259.5L529.9 258.6L530.1 259.5L530.3 258.9L530.5 259.3L530.8 258.3L531.0 258.7L531.2 258.2L531.4 258.6L531.6 257.8L531.8 257.7L532.0 257.4L532.2 257.3L532.5 256.7L532.7 257.1L532.9 256.7L533.1 257.3L533.3 255.9L533.6 256.3L533.8 256.6L534.0 256.3L534.2 255.9L534.4 256.4L534.7 255.1L534.9 255.4L535.1 255.7L535.4 254.9L535.6 254.8L535.8 256.0L536.1 255.2L536.3 255.0L536.5 253.5L536.8 253.8L537.0 253.8L537.2 254.5L537.5 253.6L537.7 254.4L537.9 253.5L538.2 253.5L538.4 253.7L538.6 253.3L538.9 253.2L539.1 253.1L539.4 253.1L539.6 253.5L539.8 253.1L540.1 253.2L540.3 253.1L540.5 251.6L540.8 252.4L541.0 252.4L541.2 252.2L541.5 251.3L541.7 250.8L541.9 251.3L542.1 250.6L542.4 250.8L542.6 250.3L542.8 251.0L543.1 250.3L543.3 249.6L543.6 249.6L543.8 249.5L544.1 249.6L544.3 249.8L544.6 249.2L544.9 248.5L545.1 248.8L545.4 248.7L545.6 248.8L545.9 248.1L546.1 247.8L546.4 248.5L546.7 247.8L546.9 248.1L547.2 247.5L547.4 247.6L547.7 246.8L547.9 247.8L548.1 247.4L548.4 245.9L548.6 246.2L548.8 246.3L549.1 247.3L549.3 246.4L549.5 246.3L549.7 244.9L549.9 245.6L550.1 246.3L550.3 246.4L550.5 245.8L550.7 246.4L550.8 246.4L551.0 246.2L551.3 247.1L551.5 246.8L551.8 246.7L552.0 247.1L552.2 247.1L552.4 248.1L552.6 247.0L552.8 247.4L553.0 248.1L553.2 247.1L553.3 247.6L553.5 248.4L553.6 248.0L553.6 247.9L553.7 249.2L553.8 249.0L553.8 249.3L553.9 249.5L553.9 249.8L554.0 249.8L554.0 250.6L554.1 250.8L554.1 251.4L554.1 251.8L554.2 252.1L554.2 253.0L554.2 252.6L554.2 253.1L554.3 253.2L554.3 254.3L554.3 253.3L554.3 255.1L554.3 255.4L554.3 255.1L554.4 255.7L554.4 256.2L554.4 255.3L554.4 256.4L554.4 257.2L554.4 257.5L554.4 257.9L554.4 257.7L554.4 259.1L554.4 259.4L554.5 259.0L554.5 259.8L554.5 258.4L554.5 260.0L554.5 260.2L554.5 260.0L554.5 260.6L554.6 261.2L554.6 260.0L554.6 261.4L554.6 260.6L554.7 259.7L554.7 260.8L554.7 260.6L554.8 260.0L554.8 260.6L554.8 260.7L554.9 259.5L554.9 260.3L554.9 259.5L554.9 259.1L555.0 259.2L555.0 259.3L555.0 258.6L555.0 259.0L555.1 258.4L555.1 258.7L555.1 257.3L555.2 257.0L555.2 257.2L555.2 256.8L555.2 256.7L555.3 255.6L555.3 256.4L555.3 255.3L555.4 255.0L555.4 254.5L555.4 254.7L555.5 254.4L555.5 253.7L555.5 253.7L555.6 252.7L555.6 252.3L555.7 251.7L555.7 251.8L555.8 250.8L555.8 250.9L555.9 251.1L555.9 250.4L556.0 250.0L556.0 250.2L556.1 248.2L556.1 249.1L556.2 248.8L556.3 248.0L556.4 248.7L556.4 248.8L556.5 248.1L556.6 248.0L556.8 248.2L556.9 247.9L557.0 247.4L557.2 247.5L557.3 247.8L557.4 247.2L557.6 246.8L557.7 245.6L557.9 245.4L558.1 245.2L558.2 245.3L558.4 244.3L558.6 245.0L558.8 244.8L559.0 244.8L559.3 244.6L559.5 243.4L559.7 244.0L559.9 243.6L560.1 244.4L560.4 244.0L560.6 243.3L560.9 243.4L561.2 243.5L561.4 243.5L561.7 243.3L562.0 243.2L562.3 243.1L562.6 243.5L562.9 243.4L563.2 242.9L563.5 242.8L563.8 243.3L564.1 243.4L564.4 243.2L564.7 243.9L564.9 243.0L565.2 243.0L565.5 242.9L565.8 242.9L566.1 243.2L566.3 243.0L566.6 244.1L566.8 244.4L567.0 242.8L567.2 243.7L567.4 243.3L567.5 243.9L567.7 244.5L567.9 244.5L568.1 243.7L568.3 244.1L568.4 244.7L568.6 245.1L568.8 244.8L568.9 244.9L569.1 246.2L569.3 245.6L569.4 246.8L569.6 245.8L569.8 247.0L569.9 246.9L570.1 247.2L570.2 247.4L570.4 247.7L570.5 247.3L570.7 247.6L570.8 248.2L571.0 248.5L571.1 249.1L571.2 249.7L571.4 250.2L571.5 249.8L571.6 249.9L571.8 250.3L571.9 250.3L572.0 251.0L572.2 250.8L572.3 251.4L572.4 253.0L572.6 251.4L572.7 251.9L572.8 252.5L573.0 252.5L573.1 252.9L573.3 252.3L573.4 252.4L573.5 253.9L573.7 255.0L573.8 254.1L573.9 254.5L574.0 255.1L574.2 255.9L574.3 256.5L574.4 256.2L574.5 257.5L574.6 256.4L574.7 257.2L574.9 257.7L575.0 257.3L575.1 258.1L575.2 258.6L575.3 257.1L575.4 257.9L575.6 257.8L575.7 258.5L575.8 258.2L575.9 257.5L576.0 257.6L576.2 257.5L576.3 257.5L576.4 256.9L576.5 257.2L576.6 257.3L576.8 257.0L576.9 256.7L577.0 255.3L577.1 255.7L577.2 254.2L577.4 254.6L577.5 254.8L577.6 254.1L577.7 254.4L577.9 253.4L578.0 254.1L578.1 253.5L578.3 251.6L578.4 252.6L578.6 252.6L578.7 252.8L578.9 251.7L579.0 252.0L579.2 250.9L579.3 251.6L579.5 251.5L579.7 250.8L579.8 250.4L580.0 249.7L580.1 249.1L580.3 250.4L580.5 249.6L580.7 249.6L580.8 248.7L581.0 248.8L581.2 248.7L581.4 247.8L581.6 247.6L581.7 247.9L581.9 247.8L582.1 247.8L582.3 246.9L582.5 246.0L582.7 246.8L582.9 246.5L583.1 245.9L583.3 246.0L583.5 245.4L583.7 245.9L583.9 245.0L584.1 245.4L584.3 244.5L584.5 243.5L584.7 244.6L584.9 244.8L585.1 244.6L585.4 244.6L585.6 244.9L585.9 244.4L586.1 243.9L586.4 243.4L586.6 244.2L586.9 245.1L587.2 245.2L587.4 244.3L587.7 244.0L588.0 244.2L588.2 244.8L588.5 245.2L588.8 244.8L589.0 245.0L589.3 245.3L589.5 245.2L589.8 245.8L590.0 245.9L590.3 246.9L590.5 247.0L590.8 246.5L591.0 246.4L591.2 247.3L591.4 246.6L591.6 246.8L591.8 247.2L591.9 247.3L592.1 248.0L592.3 248.4L592.5 247.7L592.7 249.4L592.8 248.9L593.0 248.4L593.2 248.8L593.4 250.2L593.5 250.5L593.7 250.4L593.9 251.0L594.1 250.3L594.2 251.3L594.4 251.0L594.6 252.2L594.7 251.7L594.9 252.3L595.0 252.7L595.2 252.8L595.4 252.5L595.5 253.5L595.7 253.2L595.8 253.9L596.0 254.0L596.1 253.8L596.3 254.6L596.4 255.0L596.6 255.0L596.7 255.2L596.9 255.7L597.0 256.4L597.1 255.7L597.2 256.4L597.3 256.6L597.4 256.9L597.5 256.8L597.6 257.6L597.7 257.5L597.8 257.4L597.9 257.7L598.0 258.4L598.1 258.0L598.2 258.6L598.3 258.6L598.4 258.9L598.5 259.2L598.6 259.3L598.7 259.6L598.8 259.8L598.9 260.0L599.0 260.3L599.1 260.6L599.2 260.8L599.3 261.2L599.4 261.4L599.4 261.6L599.5 261.9L599.6 262.1L599.9 262.9L600.1 263.7L600.4 264.5L600.6 265.3L600.8 266.1L601.0 267.0L601.3 267.8L601.5 268.6L601.7 269.4L601.9 270.2L602.1 271.0L602.3 271.7L602.5 272.5L602.6 273.3L602.8 274.1L603.0 274.9L603.1 275.6L603.3 276.4L603.4 277.2L603.6 278.0L603.7 278.8L603.9 279.6L604.0 280.4L604.1 281.2L604.2 282.1L604.4 282.9L604.5 283.7L604.6 284.6L604.7 285.4L604.8 286.2L604.9 287.1L605.0 287.9L605.1 288.6L605.1 289.4L605.2 290.2L605.3 291.0L605.3 291.8L605.4 292.6L605.5 293.4L605.5 294.2L605.6 295.0L605.6 295.8L605.6 296.6L605.7 297.4L605.7 298.3L605.8 299.1L605.8 299.9L605.8 300.7L605.9 301.6L605.9 302.4L605.9 303.2L606.0 304.0L606.0 304.8L606.0 305.7L606.1 306.5L606.1 307.3L606.2 308.1L606.2 308.9L606.2 309.7L606.3 310.5L606.3 311.3L606.4 312.1L606.4 312.9L606.4 313.7L606.5 314.5L606.5 315.2L606.6 316.0L606.6 316.8L606.6 317.6L606.7 318.4L606.7 319.1L606.7 319.9L606.8 320.7L606.8 321.5L606.8 322.3L606.9 323.1L606.9 323.9L607.0 324.8L607.0 325.6L607.0 326.5L607.1 327.3L607.1 328.2L607.2 329.1L607.2 330.0L607.2 330.7L607.3 331.4L607.3 332.2L607.3 332.9L607.4 333.7L607.4 334.5L607.5 335.3L607.5 336.1L607.6 336.9L607.6 337.7L607.6 338.5L607.7 339.3L607.7 340.1L607.8 341.0L607.8 341.8L607.9 342.6L607.9 343.5L607.9 344.3L608.0 345.2L608.0 346.0L608.1 346.9L608.1 347.7L608.2 348.6L608.2 349.5L608.3 350.3L608.3 351.2L608.4 352.0L608.4 352.9L608.4 353.7L608.5 354.6L608.5 355.4L608.6 356.2L608.6 357.1L608.7 357.9L608.7 358.7L608.7 359.5L608.8 360.3L608.8 361.1L608.9 361.9L608.9 362.7L608.9 363.5L609.0 364.2L609.0 365.0L609.0 365.9L609.1 366.7L609.1 367.6L609.2 368.4L609.2 369.3L609.2 370.1L609.3 370.9L609.3 371.7L609.3 372.6L609.4 373.4L609.4 374.2L609.4 375.0L609.4 375.8L609.5 376.6L609.5 377.4L609.5 378.2L609.6 378.9L609.6 379.7L609.6 380.5L609.6 381.3L609.7 382.1L609.7 382.9L609.7 383.7L609.8 384.4L609.8 385.2L609.8 386.0L609.9 386.8L609.9 387.6L609.9 388.4L610.0 389.2L610.0 390.0L610.0 390.8L610.1 391.6L610.1 392.4L610.1 393.2L610.2 394.0L610.2 394.8L610.3 395.6L610.3 396.5L610.3 397.3L610.4 398.1L610.4 398.9L610.5 399.7L610.5 400.5L610.5 401.3L610.6 402.1L610.6 402.9L610.7 403.7L610.7 404.5L610.7 405.3L610.8 406.1L610.8 406.9L610.9 407.7L610.9 408.5L610.9 409.4L611.0 410.2L611.0 411.0L611.1 411.8L611.1 412.6L611.1 413.4L611.2 414.2L611.2 415.0L611.2 415.8L611.3 416.6L611.3 417.4L611.3 418.2L611.4 419.0L611.4 419.8L611.4 420.6L611.5 421.4L611.5 422.2L611.5 423.0L611.5 423.8L611.6 424.6L611.6 425.4L611.6 426.2L611.6 427.0L611.7 427.8L611.7 428.6L611.7 429.4L611.8 430.2L611.8 431.0L611.8 431.8L611.8 432.6L611.9 433.4L611.9 434.2L611.9 435.0L612.0 435.8L612.0 436.7L612.0 437.5L612.0 438.3L612.1 439.2L612.1 440.0L612.1 440.8L612.2 441.6L612.2 442.3L612.2 443.1L612.2 443.9L612.3 444.7L612.3 445.5L612.3 446.3L612.3 447.1L612.4 447.9L612.4 448.7L612.4 449.5L612.5 450.3L612.5 451.2L612.5 452.0L612.5 452.8L612.6 453.6L612.6 454.4L612.6 455.2L612.6 456.1L612.7 456.9L612.7 457.7L612.7 458.5L612.8 459.4L612.8 460.2L612.8 461.0L612.9 461.8L612.9 462.6L612.9 463.5L613.0 464.3L613.0 465.1L613.0 465.9L613.1 466.7L613.1 467.6L613.1 468.4L613.2 469.2L613.2 470.0L613.2 470.8L613.3 471.6L613.3 472.5L613.4 473.3L613.4 474.1L613.4 475.0L613.5 475.8L613.5 476.7L613.6 477.5L613.6 478.4L613.7 479.2L613.7 480.1L613.7 481.0L613.8 481.8L613.8 482.7L613.9 483.5L613.9 484.4L614.0 485.2L614.0 486.1L614.1 486.9L614.1 487.7L614.2 488.6L614.2 489.4L614.3 490.2L614.3 491.0L614.4 491.8L614.4 492.6L614.5 493.4L614.5 494.2L614.6 495.0L614.6 495.7L614.7 496.5L614.7 497.2L614.8 497.9L614.8 498.6L614.9 499.3L614.9 500.0L615.0 501.0L615.0 501.9L615.1 502.7L615.2 503.5L615.2 504.3L615.3 505.1L615.3 505.9L615.4 506.6L615.5 507.4L615.5 508.1L615.6 508.9L615.7 509.7L615.7 510.5L615.8 511.3L615.9 512.2L616.0 513.1L616.1 514.0L616.2 515.0L616.3 515.6L616.3 516.3L616.4 516.9L616.5 517.6L616.6 518.3L616.6 519.0L616.7 519.7L616.8 520.4L616.9 521.1L617.0 521.9L617.1 522.6L617.2 523.4L617.3 524.1L617.4 524.9L617.5 525.7L617.6 526.5L617.7 527.3L617.8 528.1L617.9 528.9L618.0 529.8L618.1 530.6L618.2 531.4L618.3 532.3L618.4 533.1L618.5 534.0L618.6 534.8L618.7 535.7L618.8 536.5L618.9 537.4L619.1 538.3L619.2 539.1L619.3 540.0L619.4 540.9L619.5 541.8L619.6 542.6L619.7 543.5L619.8 544.4L619.9 545.3L620.0 546.1L620.1 547.0L620.2 547.9L620.3 548.8L620.4 549.6L620.5 550.5L620.6 551.3L620.7 552.2L620.8 553.1L620.9 553.9L621.0 554.7L621.1 555.5L621.1 556.3L621.2 557.0L621.3 557.8L621.4 558.7L621.4 559.5L621.5 560.3L621.6 561.1L621.6 561.9L621.7 562.8L621.7 563.6L621.8 564.4L621.9 565.3L621.9 566.1L622.0 567.0L622.0 567.8L622.1 568.7L622.1 569.5L622.2 570.4L622.2 571.2L622.3 572.1L622.4 572.9L622.4 573.8L622.5 574.6L622.5 575.5L622.6 576.3L622.6 577.2L622.7 578.0L622.8 578.9L622.8 579.7L622.9 580.6L622.9 581.4L623.0 582.2L623.1 583.1L623.1 583.9L623.2 584.7L623.3 585.6L623.3 586.4L623.4 587.2L623.5 588.0L623.6 588.8L623.7 589.6L623.7 590.4L623.8 591.2L623.9 591.9L624.0 592.7L624.1 593.5L624.2 594.2L624.3 595.0L624.4 595.7L624.5 596.5L624.6 597.2L624.7 597.9L624.9 598.6L625.0 599.3L625.1 600.0L625.3 600.9L625.5 601.8L625.6 602.7L625.8 603.6L626.0 604.4L626.2 605.3L626.4 606.1L626.7 606.9L626.9 607.8L627.1 608.6L627.3 609.4L627.5 610.2L627.8 610.9L628.0 611.7L628.2 612.5L628.5 613.3L628.7 614.0L629.0 614.8L629.2 615.5L629.4 616.3L629.7 617.0L629.9 617.8L630.2 618.5L630.4 619.3L630.7 620.0L630.9 620.8L631.2 621.5L631.4 622.2L631.7 623.0L631.9 623.7L632.2 624.5L632.4 625.2L632.7 626.0L632.9 626.8L633.2 627.6L633.5 628.4L633.8 629.2L634.0 630.0L634.3 630.8L634.6 631.6L634.9 632.4L635.2 633.2L635.4 634.0L635.7 634.8L636.0 635.5L636.3 636.3L636.6 637.1L636.9 637.8L637.2 638.6L637.4 639.4L637.7 640.1L638.0 640.9L638.3 641.6L638.5 642.4L638.8 643.1L639.0 643.9L639.3 644.6L639.6 645.4L639.8 646.1L640.1 646.9L640.4 647.7L640.6 648.6L640.9 649.3L641.2 650.1L641.5 650.9L641.7 651.7L642.0 652.4L642.2 653.2L642.5 653.9L642.8 654.7L643.0 655.5L643.3 656.2L643.5 657.0L643.7 657.8L644.0 658.6L644.2 659.4L644.4 660.3L644.6 661.1L644.8 662.0L645.0 662.9L645.1 663.6L645.3 664.3L645.4 665.1L645.5 665.8L645.7 666.6L645.8 667.4L645.9 668.2L646.0 668.9L646.1 669.8L646.2 670.6L646.3 671.4L646.4 672.2L646.5 673.1L646.6 673.9L646.7 674.7L646.7 675.6L646.8 676.4L646.9 677.3L647.0 678.1L647.1 679.0L647.1 679.8L647.2 680.7L647.3 681.5L647.3 682.3L647.4 683.2L647.5 684.0L647.6 684.8L647.6 685.6L647.7 686.4L647.8 687.2L647.9 688.0L647.9 688.7L648.0 689.5L648.1 690.2L648.2 691.1L648.3 692.1L648.4 693.1L648.5 694.1L648.6 695.2L648.7 696.3L648.8 697.4L648.8 698.5L648.9 699.6L649.0 700.6L649.1 701.7L649.2 702.7L649.3 703.6L649.4 704.5L649.5 705.4L649.5 706.2L649.6 706.9L649.7 707.5L649.8 708.0L649.9 708.4L650.0 708.7L650.1 708.9L650.2 709.0L650.3 709.0L650.4 708.8L650.4 708.6L650.5 708.3L650.6 708.0L650.7 707.6L650.8 707.1L650.9 706.5L651.0 705.9L651.1 705.3L651.1 704.5L651.2 703.8L651.3 703.0L651.4 702.1L651.5 701.2L651.6 700.3L651.7 699.3L651.8 698.3L651.9 697.3L652.0 696.3L652.1 695.2L652.2 694.2L652.3 693.1L652.4 692.0L652.4 690.9L652.5 689.9L652.6 688.8L652.7 687.7L652.8 686.6L652.9 685.6L653.0 684.5L653.1 683.5L653.2 682.5L653.2 681.5L653.3 680.6L653.4 679.7L653.5 679.0L653.5 678.2L653.6 677.5L653.7 676.7L653.7 676.0L653.8 675.2L653.9 674.4L653.9 673.7L654.0 672.9L654.1 672.1L654.1 671.3L654.2 670.5L654.3 669.8L654.3 669.0L654.4 668.2L654.4 667.4L654.5 666.6L654.6 665.8L654.6 664.9L654.7 664.1L654.8 663.3L654.8 662.5L654.9 661.7L654.9 660.9L655.0 660.0L655.1 659.2L655.1 658.4L655.2 657.6L655.2 656.7L655.3 655.9L655.4 655.1L655.4 654.3L655.5 653.4L655.5 652.6L655.6 651.8L655.6 650.9L655.7 650.1L655.8 649.3L655.8 648.5L655.9 647.6L655.9 646.8L656.0 646.0L656.0 645.1L656.1 644.3L656.1 643.5L656.2 642.7L656.2 641.9L656.3 641.0L656.3 640.2L656.4 639.4L656.4 638.6L656.5 637.8L656.5 637.0L656.6 636.2L656.6 635.4L656.7 634.6L656.7 633.8L656.8 633.0L656.8 632.1L656.9 631.3L656.9 630.5L657.0 629.7L657.0 628.9L657.1 628.1L657.1 627.3L657.1 626.5L657.2 625.7L657.2 624.9L657.3 624.1L657.3 623.3L657.3 622.5L657.4 621.6L657.4 620.8L657.5 620.0L657.5 619.2L657.5 618.4L657.6 617.6L657.6 616.8L657.7 616.0L657.7 615.2L657.7 614.4L657.8 613.6L657.8 612.8L657.8 612.0L657.9 611.1L657.9 610.3L657.9 609.5L658.0 608.7L658.0 607.9L658.1 607.1L658.1 606.3L658.1 605.5L658.2 604.7L658.2 603.9L658.2 603.1L658.3 602.3L658.3 601.5L658.4 600.6L658.4 599.8L658.4 599.0L658.5 598.2L658.5 597.4L658.6 596.6L658.6 595.8L658.6 595.0L658.7 594.2L658.7 593.4L658.8 592.6L658.8 591.8L658.8 591.0L658.9 590.2L658.9 589.4L659.0 588.5L659.0 587.7L659.1 586.9L659.1 586.1L659.1 585.3L659.2 584.5L659.2 583.7L659.3 582.9L659.3 582.1L659.4 581.3L659.4 580.5L659.4 579.7L659.5 578.9L659.5 578.1L659.6 577.3L659.6 576.5L659.7 575.7L659.7 574.9L659.7 574.0L659.8 573.2L659.8 572.4L659.9 571.6L659.9 570.8L660.0 570.0L660.0 569.2L660.0 568.4L660.1 567.6L660.1 566.8L660.2 566.0L660.2 565.2L660.2 564.4L660.3 563.6L660.3 562.8L660.3 562.0L660.4 561.2L660.4 560.3L660.5 559.5L660.5 558.7L660.5 557.9L660.6 557.1L660.6 556.3L660.6 555.5L660.7 554.7L660.7 553.9L660.7 553.1L660.8 552.3L660.8 551.5L660.8 550.7L660.9 549.9L660.9 549.1L660.9 548.2L661.0 547.4L661.0 546.6L661.0 545.8L661.0 545.0L661.1 544.2L661.1 543.4L661.1 542.6L661.2 541.8L661.2 541.0L661.2 540.2L661.2 539.4L661.3 538.6L661.3 537.7L661.3 536.9L661.4 536.1L661.4 535.3L661.4 534.5L661.4 533.7L661.5 532.9L661.5 532.1L661.5 531.3L661.5 530.5L661.6 529.7L661.6 528.9L661.6 528.1L661.6 527.2L661.7 526.4L661.7 525.6L661.7 524.8L661.7 524.0L661.7 523.2L661.8 522.4L661.8 521.6L661.8 520.8L661.8 520.0L661.8 519.2L661.9 518.4L661.9 517.6L661.9 516.7L661.9 515.9L661.9 515.1L662.0 514.3L662.0 513.5L662.0 512.7L662.0 511.9L662.0 511.1L662.0 510.3L662.0 509.5L662.1 508.6L662.1 507.8L662.1 507.0L662.1 506.2L662.1 505.3L662.1 504.5L662.1 503.7L662.1 502.8L662.1 502.0L662.1 501.2L662.1 500.3L662.1 499.5L662.1 498.7L662.1 497.8L662.1 497.0L662.1 496.1L662.1 495.3L662.1 494.5L662.1 493.6L662.1 492.8L662.1 491.9L662.2 491.1L662.2 490.3L662.2 489.4L662.2 488.6L662.2 487.8L662.2 487.0L662.2 486.1L662.2 485.3L662.2 484.5L662.2 483.7L662.2 482.9L662.2 482.1L662.2 481.3L662.2 480.5L662.2 479.7L662.2 478.9L662.2 478.2L662.2 477.4L662.2 476.6L662.2 475.9L662.2 475.1L662.2 474.3L662.2 473.6L662.2 472.9L662.3 472.1L662.3 471.4L662.3 470.7L662.3 470.0L662.3 469.1L662.3 468.2L662.4 467.3L662.4 466.5L662.4 465.6L662.4 464.8L662.4 463.9L662.5 463.1L662.5 462.3L662.5 461.5L662.5 460.7L662.6 459.9L662.6 459.1L662.6 458.3L662.6 457.5L662.7 456.7L662.7 455.9L662.7 455.2L662.7 454.4L662.8 453.6L662.8 452.8L662.8 452.1L662.9 451.3L662.9 450.5L662.9 449.7L663.0 449.0L663.0 448.2L663.1 447.4L663.1 446.6L663.2 445.8L663.2 445.0L663.2 444.2L663.3 443.4L663.3 442.6L663.4 441.8L663.4 441.0L663.5 440.2L663.5 439.4L663.6 438.6L663.6 437.8L663.7 437.0L663.7 436.2L663.8 435.4L663.9 434.6L663.9 433.8L664.0 433.0L664.0 432.2L664.1 431.4L664.2 430.6L664.2 429.8L664.3 429.0L664.4 428.2L664.5 427.4L664.5 426.6L664.6 425.8L664.7 425.0L664.8 424.2L664.9 423.3L665.0 422.5L665.1 421.7L665.2 420.8L665.3 420.0L665.4 419.2L665.5 418.5L665.6 417.7L665.7 417.0L665.9 416.2L666.0 415.4L666.1 414.6L666.2 413.9L666.4 413.1L666.5 412.3L666.7 411.5L666.8 410.7L666.9 409.9L667.1 409.1L667.2 408.3L667.4 407.6L667.5 406.8L667.7 406.0L667.8 405.2L668.0 404.4L668.2 403.6L668.3 402.8L668.5 402.0L668.6 401.2L668.8 400.4L668.9 399.6L669.1 398.8L669.3 398.0L669.4 397.2L669.6 396.4L669.7 395.6L669.9 394.8L670.0 394.0L670.1 393.2L670.3 392.4L670.4 391.6L670.6 390.8L670.7 390.0L670.8 389.2L671.0 388.4L671.1 387.6L671.2 386.8L671.4 385.9L671.5 385.1L671.6 384.3L671.8 383.5L671.9 382.7L672.0 381.9L672.1 381.1L672.3 380.3L672.4 379.5L672.5 378.7L672.6 377.8L672.8 377.0L672.9 376.2L673.0 375.4L673.1 374.6L673.2 373.8L673.4 373.0L673.5 372.2L673.6 371.4L673.7 370.5L673.9 369.7L674.0 368.9L674.1 368.1L674.2 367.3L674.3 366.5L674.5 365.7L674.6 364.9L674.7 364.1L674.8 363.2L674.9 362.4L675.1 361.6L675.2 360.8L675.3 360.0L675.4 359.2L675.5 358.4L675.7 357.6L675.8 356.7L675.9 355.9L676.0 355.1L676.1 354.3L676.3 353.5L676.4 352.7L676.5 351.9L676.6 351.0L676.7 350.2L676.8 349.4L677.0 348.6L677.1 347.8L677.2 346.9L677.3 346.1L677.4 345.3L677.5 344.5L677.7 343.7L677.8 342.9L677.9 342.1L678.0 341.2L678.1 340.4L678.3 339.6L678.4 338.8L678.5 338.0L678.6 337.2L678.7 336.4L678.8 335.6L679.0 334.8L679.1 334.0L679.2 333.2L679.3 332.4L679.5 331.6L679.6 330.8L679.7 330.0L679.8 329.2L680.0 328.4L680.1 327.5L680.2 326.7L680.3 325.9L680.4 325.0L680.6 324.2L680.7 323.3L680.8 322.5L680.9 321.7L681.0 320.8L681.1 320.0L681.2 319.1L681.4 318.3L681.5 317.5L681.6 316.6L681.7 315.8L681.8 315.0L682.0 314.2L682.1 313.4L682.2 312.5L682.4 311.7L682.5 311.0L682.6 310.2L682.8 309.4L682.9 308.6L683.1 307.9L683.2 307.1L683.4 306.4L683.5 305.7L683.7 305.0L683.8 304.3L684.0 303.6L684.2 302.9L684.4 302.0L684.7 301.1L685.0 300.3L685.2 299.4L685.5 298.6L685.7 297.7L686.0 296.9L686.3 296.1L686.6 295.3L686.9 294.5L687.2 293.8L687.5 293.0L687.8 292.3L688.1 291.6L688.4 290.9L688.8 290.3L689.1 289.6L689.4 289.0L689.8 288.4L690.3 287.6L690.8 287.1L691.0 286.7L691.2 286.4L691.4 286.5L691.6 286.1L691.7 286.0L691.9 285.6L692.1 285.6L692.3 285.2L692.5 284.6L692.7 284.9L692.9 284.8L693.1 283.8L693.3 284.0L693.5 284.3L693.7 282.9L693.9 283.8L694.1 283.7L694.3 284.0L694.5 283.2L694.7 283.3L694.9 282.1L695.1 282.6L695.3 283.6L695.5 281.6L695.7 281.1L695.9 280.8L696.0 281.3L696.2 281.5L696.4 281.4L696.6 280.6L696.8 280.4L696.9 280.8L697.1 280.4L697.3 279.7L697.5 281.3L697.7 278.5L697.9 280.3L698.1 279.7L698.3 279.5L698.5 279.1L698.7 279.7L698.9 278.7L699.1 279.0L699.3 278.6L699.5 276.7L699.7 277.5L699.9 277.0L700.1 277.9L700.3 277.6L700.5 277.2L700.6 276.9L700.8 276.3L701.0 276.2L701.2 276.9L701.4 277.5L701.6 275.5L701.8 276.2L702.0 276.7L702.2 274.7L702.4 276.2L702.6 275.7L702.8 275.7L703.0 274.5L703.1 274.1L703.3 274.6L703.5 274.1L703.7 273.6L703.8 273.8L704.0 271.7L704.1 272.3L704.3 272.2L704.4 272.1L704.5 272.0L704.7 272.5L704.8 271.1L705.0 270.8L705.1 271.5L705.3 270.5L705.4 272.4L705.6 271.5L705.7 270.9L705.8 271.3L706.0 270.2L706.1 270.0L706.3 269.3L706.4 268.7L706.5 269.2L706.7 269.6L706.8 268.4L707.0 269.1L707.1 268.8L707.2 267.9L707.4 268.3L707.5 266.1L707.6 267.7L707.8 267.1L707.9 268.1L708.1 265.8L708.2 267.2L708.3 266.9L708.5 266.8L708.6 266.7L708.7 265.4L708.9 265.9L709.0 265.1L709.2 265.5L709.3 264.3L709.4 264.3L709.6 265.3L709.7 265.2L709.9 265.6L710.0 264.6L710.1 263.4L710.3 263.8L710.4 263.7L710.6 263.8L710.7 263.1L710.9 263.1L711.0 262.7L711.2 262.5L711.3 261.7L711.5 262.3L711.6 261.2L711.7 260.8L711.9 261.3L712.0 260.4L712.2 260.1L712.3 260.2L712.5 259.4L712.6 260.1L712.8 258.7L712.9 259.8L713.1 257.8L713.3 258.1L713.4 259.0L713.6 258.2L713.7 258.1L713.9 258.4L714.0 256.5L714.2 258.0L714.3 256.1L714.5 257.6L714.7 256.3L714.8 257.0L715.0 256.6L715.1 255.7L715.3 254.2L715.4 256.2L715.6 254.9L715.8 254.3L715.9 254.0L716.1 253.2L716.2 253.8L716.4 253.6L716.6 252.4L716.7 253.9L716.9 252.8L717.0 253.2L717.2 252.7L717.4 252.5L717.5 251.0L717.7 251.0L717.8 251.8L718.0 251.0L718.1 251.1L718.3 250.8L718.5 250.2L718.6 251.0L718.8 249.7L718.9 248.8L719.1 248.2L719.2 250.8L719.4 248.5L719.5 248.2L719.7 248.9L719.8 248.1L720.0 249.4L720.1 248.3L720.3 247.5L720.4 246.7L720.6 247.5L720.7 247.7L720.9 246.8L721.0 248.2L721.2 246.9L721.3 246.6L721.5 246.6L721.7 245.7L721.9 246.0L722.0 246.5L722.2 245.0L722.4 244.6L722.6 244.9L722.8 244.1L722.9 243.5L723.1 242.8L723.3 243.4L723.4 242.9L723.6 243.6L723.8 241.9L723.9 242.9L724.1 242.5L724.3 242.9L724.5 241.9L724.6 241.9L724.8 241.7L725.0 241.2L725.1 241.5L725.3 241.4L725.5 240.9L725.7 241.2L725.8 240.9L726.0 240.6L726.2 239.2L726.4 240.6L726.5 240.4L726.7 239.8L726.9 239.0L727.1 238.0L727.3 239.2L727.5 238.6L727.7 239.7L727.9 237.7L728.1 237.0L728.3 237.0L728.5 237.1L728.7 236.4L728.9 236.2L729.1 237.5L729.4 236.9L729.6 237.6L729.8 238.3L730.0 236.1L730.2 235.9L730.4 237.1L730.7 236.3L730.9 235.4L731.1 236.0L731.3 235.5L731.6 235.2L731.8 233.5L732.0 235.4L732.2 236.1L732.5 233.9L732.7 233.9L732.9 233.6L733.2 232.9L733.4 233.2L733.6 232.7L733.9 232.4L734.1 233.8L734.4 232.5L734.6 232.0L734.8 232.1L735.1 231.1L735.3 232.4L735.6 231.5L735.8 233.2L736.0 231.1L736.3 233.7L736.5 232.1L736.7 230.7L737.0 231.0L737.2 230.8L737.4 230.5L737.7 230.5L737.9 230.9L738.2 231.8L738.4 230.5L738.6 230.2L738.9 229.0L739.1 229.2L739.4 229.1L739.6 231.2L739.9 229.2L740.1 230.2L740.4 230.0L740.6 231.1L740.9 229.9L741.1 230.4L741.4 229.7L741.6 229.2L741.9 229.2L742.1 229.2L742.4 229.5L742.6 227.8L742.9 227.4L743.2 228.5L743.4 227.4L743.7 227.3L743.9 228.0L744.2 227.6L744.5 228.2L744.7 228.2L745.0 227.8L745.2 227.6L745.5 227.6L745.8 227.5L746.0 227.1L746.3 226.4L746.5 226.6L746.8 226.3L747.1 226.7L747.4 226.6L747.6 225.6L747.9 227.2L748.2 226.0L748.5 227.1L748.7 226.7L749.0 226.7L749.3 226.1L749.6 226.5L749.9 224.9L750.2 225.7L750.4 226.3L750.7 226.8L751.0 225.2L751.3 226.0L751.6 226.3L751.9 225.5L752.1 225.0L752.4 225.0L752.7 224.6L753.0 225.2L753.2 224.0L753.5 225.5L753.8 224.9L754.1 225.8L754.3 224.7L754.6 223.7L754.8 225.0L755.1 224.4L755.4 223.8L755.6 223.1L755.9 223.8L756.1 223.8L756.3 223.6L756.6 224.7L756.8 223.1L757.1 223.3L757.4 224.6L757.6 223.1L757.9 223.6L758.2 223.6L758.5 223.9L758.7 224.3L759.0 222.4L759.3 222.8L759.5 223.1L759.8 223.7L760.1 222.3L760.3 222.6L760.6 222.7L760.8 222.7L761.0 222.2L761.3 221.8L761.5 223.0L761.7 221.5L761.9 221.4L762.1 222.6L762.3 220.8L762.5 223.8L762.7 220.9L762.9 221.6L763.0 221.4L763.2 221.4L763.4 219.7L763.6 219.8L763.7 219.1L763.9 218.1L764.0 218.0L764.1 218.0L764.2 217.6L764.3 217.7L764.4 216.7L764.5 217.3L764.7 216.8L764.8 216.6L764.9 217.5L765.1 217.7L765.2 217.2L765.4 217.9L765.5 218.8L765.7 218.3L765.8 219.3L766.0 218.4L766.2 218.6L766.4 220.0L766.5 219.3L766.7 219.2L766.9 220.1L767.2 220.3L767.4 221.2L767.6 221.6L767.9 220.7L768.1 221.4L768.3 220.9L768.5 222.1L768.7 221.7L769.0 220.4L769.2 221.0L769.4 221.0L769.7 221.9L769.9 221.8L770.2 221.3L770.4 221.8L770.7 221.8L771.0 221.7L771.2 221.8L771.5 221.2L771.8 221.3L772.1 222.4L772.4 220.4L772.6 221.1L772.9 220.5L773.2 221.2L773.5 221.4L773.8 220.8L774.1 220.2L774.4 220.7L774.7 220.2L775.0 220.3L775.3 221.4L775.5 220.6L775.8 220.1L776.1 220.0L776.4 220.1L776.6 219.9L776.9 220.7L777.2 219.0L777.5 221.1L777.7 220.4L778.0 219.5L778.3 220.5L778.6 220.9L778.9 220.4L779.2 220.7L779.5 220.3L779.8 220.9L780.1 222.7L780.4 222.1L780.7 221.1L781.0 222.5L781.3 221.6L781.6 222.9L781.9 222.2L782.2 222.1L782.4 223.4L782.7 222.9L783.0 222.7L783.3 223.5L783.5 222.4L783.8 223.5L784.0 223.3L784.3 222.7L784.5 222.9L784.8 223.0L785.0 223.3L785.2 221.8L785.4 224.3L785.6 223.6L785.8 223.7L786.0 222.5L786.2 222.8L786.5 223.4L786.6 221.3L786.8 221.3L786.9 221.9L787.1 221.7L787.2 221.3L787.3 221.2L787.5 220.5L787.6 220.5L787.7 220.6L787.9 219.7L788.1 219.9L788.3 219.6L788.5 219.3L788.8 218.0L789.0 218.4L789.2 219.1L789.3 217.9L789.5 218.2L789.7 218.3L789.9 218.5L790.1 218.2L790.3 217.0L790.5 217.4L790.7 218.2L790.9 217.9L791.2 217.6L791.4 217.1L791.6 217.9L791.9 217.3L792.1 218.3L792.4 217.7L792.6 219.0L792.9 217.8L793.1 218.4L793.4 219.0L793.7 219.1L794.0 216.6L794.2 218.8L794.5 219.9L794.8 218.6L795.1 219.0L795.4 217.9L795.7 218.5L796.0 217.3L796.3 218.6L796.6 216.7L796.9 216.8L797.2 217.2L797.5 217.0L797.8 215.6L798.1 217.6L798.4 217.8L798.7 216.6L799.0 217.1L799.3 217.7L799.6 216.7L799.9 215.9L800.2 218.0L800.5 216.1L800.8 217.6L801.1 216.3L801.4 217.0L801.7 216.8L802.0 217.0L802.3 218.7L802.6 218.3L802.9 217.2L803.2 217.9L803.5 217.9L803.8 217.0L804.1 217.2L804.4 217.8L804.6 217.2L804.9 217.0L805.2 216.8L805.5 216.7L805.7 216.9L806.0 216.9L806.3 216.2L806.6 216.4L806.9 215.5L807.2 215.6L807.4 216.0L807.7 217.6L808.0 216.6L808.3 215.7L808.6 215.9L808.9 215.8L809.2 216.0L809.5 216.3L809.8 216.6L810.1 215.8L810.4 217.2L810.7 216.8L811.0 216.9L811.3 215.7L811.7 217.2L812.0 216.4L812.3 216.7L812.6 216.1L812.9 215.4L813.2 215.2L813.5 215.6L813.8 216.3L814.1 217.1L814.3 215.8L814.6 215.9L814.9 216.1L815.2 215.7L815.5 217.0L815.8 217.4L816.1 216.4L816.3 216.0L816.6 216.9L816.9 216.6L817.2 216.3L817.4 215.9L817.7 215.0L817.9 217.3L818.2 217.1L818.4 215.6L818.7 216.5L818.9 215.5L819.1 215.5L819.4 216.1L819.6 216.0L819.8 216.1L820.0 215.0L820.2 215.5L820.4 214.7L820.6 214.2L820.8 215.9L821.0 214.2L821.1 215.5L821.3 214.1L821.6 215.1L821.8 215.8L822.1 214.2L822.3 213.6L822.5 214.3L822.7 213.8L822.8 214.6L823.0 216.6L823.2 213.6L823.4 215.1L823.5 213.9L823.7 214.6L824.0 213.4L824.2 213.5L824.5 213.7L824.7 214.9L824.9 214.9L825.1 212.5L825.3 214.8L825.5 213.9L825.7 213.0L825.9 213.1L826.1 214.1L826.4 212.5L826.6 213.7L826.9 213.1L827.1 212.8L827.4 212.3L827.6 212.5L827.9 212.4L828.2 212.2L828.4 212.3L828.7 213.5L829.0 212.7L829.3 213.4L829.6 212.9L829.8 212.4L830.1 213.8L830.4 214.3L830.7 213.6L831.0 213.2L831.3 214.7L831.6 213.5L831.9 213.5L832.2 212.8L832.5 214.1L832.8 214.3L833.1 214.3L833.4 212.9L833.7 214.4L834.0 213.9L834.3 214.2L834.6 215.0L834.9 214.4L835.2 214.9L835.5 215.5L835.8 214.6L836.0 214.3L836.3 214.7L836.6 214.3L836.9 215.2L837.1 215.2L837.4 215.4L837.7 215.3L838.0 214.0L838.3 213.7L838.5 214.5L838.8 214.6L839.1 215.0L839.4 215.3L839.7 214.1L840.0 214.1L840.3 214.7L840.6 215.3L840.9 214.6L841.2 214.7L841.5 215.3L841.8 214.8L842.1 215.8L842.4 214.5L842.7 214.3L843.0 215.5L843.3 215.8L843.6 214.4L843.9 216.5L844.2 215.0L844.5 214.7L844.7 215.4L845.0 215.5L845.3 215.9L845.5 216.2L845.8 216.4L846.1 217.3L846.3 215.9L846.6 216.8L846.8 216.3L847.0 216.5L847.3 217.2L847.5 215.9L847.7 217.2L847.9 216.8L848.1 216.1L848.3 216.8L848.5 216.9L848.7 216.2L848.9 216.0L849.1 217.0L849.4 216.1L849.5 214.7L849.7 215.0L849.9 215.1L850.0 214.3L850.2 213.2L850.3 213.9L850.5 214.0L850.6 213.5L850.7 212.9L850.8 212.7L851.0 213.0L851.1 211.7L851.2 211.4L851.3 212.2L851.5 211.4L851.6 210.9L851.8 210.4L851.9 210.8L852.1 211.2L852.2 210.9L852.4 210.9L852.5 211.8L852.7 211.6L852.8 210.8L853.0 212.2L853.1 213.7L853.3 212.9L853.5 212.6L853.6 212.7L853.8 213.0L854.0 213.9L854.2 214.4L854.4 214.8L854.7 215.2L854.9 215.2L855.2 215.7L855.4 215.4L855.6 215.8L855.7 216.7L855.9 214.9L856.2 215.9L856.4 216.5L856.6 216.2L856.8 215.6L857.1 215.9L857.3 215.7L857.6 217.7L857.8 216.5L858.1 215.8L858.4 215.4L858.7 216.7L859.0 216.1L859.2 216.7L859.5 216.6L859.8 217.0L860.1 216.1L860.4 217.6L860.7 215.7L861.1 217.3L861.4 217.3L861.7 216.3L862.0 216.8L862.3 217.6L862.6 217.2L862.9 218.2L863.2 219.0L863.6 217.8L863.9 219.4L864.2 217.8L864.5 217.9L864.8 218.7L865.1 218.7L865.4 217.2L865.7 217.6L866.0 218.8L866.3 217.5L866.6 218.1L866.9 218.4L867.1 217.8L867.4 218.5L867.7 217.7L867.9 217.7L868.2 217.8L868.4 217.5L868.6 217.6L868.9 217.8L869.1 218.1L869.3 217.1L869.5 218.0L869.7 217.6L870.0 216.8L870.2 216.7L870.5 216.7L870.7 216.4L870.9 215.6L871.1 215.9L871.3 214.5L871.5 215.5L871.6 216.7L871.8 215.0L872.0 215.8L872.1 215.0L872.3 215.4L872.5 215.0L872.6 215.4L872.8 213.4L873.0 214.5L873.2 213.7L873.4 213.5L873.6 214.1L873.8 212.7L874.0 212.6L874.3 211.7L874.5 212.9L874.7 212.5L874.9 211.9L875.1 211.6L875.4 212.9L875.6 213.0L875.9 211.5L876.1 212.6L876.4 213.9L876.6 212.8L876.9 212.7L877.2 213.5L877.5 213.7L877.8 212.6L878.1 212.6L878.4 212.8L878.7 213.5L879.0 213.3L879.3 212.0L879.6 213.1L879.9 212.3L880.2 212.9L880.5 213.6L880.8 213.1L881.1 212.7L881.4 212.7L881.7 212.7L882.0 214.1L882.3 212.7L882.5 214.0L882.8 214.0L883.1 214.4L883.4 214.7L883.7 213.1L883.9 212.9L884.2 213.9L884.4 214.2L884.7 214.0L884.9 214.5L885.2 214.3L885.4 213.2L885.6 212.9L885.8 213.1L886.0 214.0L886.3 213.2L886.5 211.7L886.7 213.3L886.9 212.2L887.1 210.8L887.3 211.2L887.5 210.9L887.7 211.7L887.8 210.9L888.0 211.6L888.1 211.0L888.3 210.2L888.5 210.7L888.6 209.6L888.8 209.3L888.9 210.1L889.1 209.1L889.2 209.3L889.4 207.8L889.5 208.2L889.7 206.7L889.9 208.4L890.0 207.4L890.2 207.8L890.4 206.6L890.6 208.8L890.9 207.6L891.1 207.0L891.4 207.5L891.6 207.4L891.9 206.5L892.2 206.5L892.5 208.2L892.7 208.9L893.0 208.3L893.3 208.6L893.6 209.6L893.9 209.3L894.1 209.4L894.4 210.5L894.7 210.0L895.0 209.8L895.2 209.7L895.5 210.0L895.8 210.0L896.2 210.1L896.5 209.6L896.8 210.8L897.1 209.4L897.4 210.8L897.7 210.3L898.1 209.9L898.4 210.0L898.7 209.8L899.1 209.8L899.4 209.6L899.6 209.5L899.7 209.5L899.9 209.4L900.4 209.1L900.6 208.5L900.8 208.5L901.0 208.4L901.2 208.2L901.4 207.7L901.6 207.9L901.8 206.4L902.0 206.0L902.2 206.3L902.4 205.4L902.6 206.0L902.8 205.1L903.0 205.6L903.3 206.1L903.5 202.7L903.7 202.5L903.9 204.3L904.1 205.1L904.3 203.2L904.5 201.9L904.7 200.7L904.9 202.0L905.1 199.8L905.3 202.0L905.5 202.3L905.7 201.9L905.9 201.4L906.1 202.7L906.2 201.7L906.4 201.1L906.6 201.3L906.8 201.0L906.9 200.8L907.1 202.1L907.3 200.3L907.4 201.8L907.5 202.4L907.7 202.1L907.8 198.9L908.0 199.8L908.1 198.2L908.2 200.3L908.3 198.6L908.4 201.1L908.5 200.6L908.5 199.9L908.6 201.0L908.7 200.3L908.7 202.7L908.8 202.3L908.9 199.3L908.9 201.3L909.0 201.5L909.0 202.2L909.1 199.0L909.1 201.3L909.2 204.4L909.2 201.8L909.3 204.3L909.3 202.8L909.3 202.5L909.4 206.0L909.4 203.2L909.4 205.5L909.4 203.9L909.5 204.9L909.5 205.7L909.5 205.1L909.5 203.6L909.5 204.5L909.5 209.8L909.6 205.0L909.6 206.1L909.6 205.7L909.6 206.7L909.6 206.3L909.6 207.6L909.6 208.8L909.6 208.1L909.6 205.8L909.6 209.5L909.6 211.0L909.6 206.5L909.6 209.7L909.6 211.9L909.6 211.5L909.6 211.4L909.6 211.7L909.6 211.0L909.6 214.3L909.6 213.0L909.6 212.8L909.6 213.5L909.6 212.9L909.6 213.5L909.6 213.4L909.6 215.7L909.6 215.2L909.6 215.2L909.6 216.4L909.6 216.9L909.6 215.8L909.6 217.4L909.6 218.2L909.6 216.9L909.7 215.6L909.7 217.8L909.7 219.5L909.7 217.0L909.7 218.3L909.7 218.1L909.8 220.3L909.8 217.8L909.8 219.4L909.8 219.2L909.8 220.1L909.9 220.1L909.9 220.9L909.9 221.7L909.9 219.2L910.0 221.1L910.0 222.4L910.0 223.4L910.0 220.5L910.1 221.5L910.1 220.1L910.1 222.1L910.1 224.6L910.2 221.1L910.2 222.6L910.2 223.3L910.2 225.3L910.3 223.3L910.3 224.7L910.3 223.4L910.3 225.9L910.4 224.8L910.4 225.6L910.4 224.6L910.4 226.6L910.5 227.2L910.5 227.9L910.5 226.1L910.5 228.8L910.6 228.9L910.6 229.9L910.6 230.2L910.6 231.1L910.7 229.8L910.7 228.9L910.7 230.5L910.8 230.8L910.8 231.6L910.8 234.0L910.8 232.7L910.9 232.6L910.9 232.9L910.9 233.9L910.9 232.7L911.0 233.6L911.0 234.8L911.0 235.5L911.1 234.4L911.1 237.5L911.1 237.0L911.1 238.1L911.2 236.8L911.2 239.4L911.2 237.2L911.2 236.1L911.3 237.3L911.3 238.1L911.3 239.1L911.4 238.7L911.4 240.0L911.4 241.2L911.4 236.6L911.5 241.0L911.5 238.9L911.5 241.3L911.5 241.2L911.6 242.5L911.6 241.6L911.6 240.7L911.7 241.8L911.7 240.6L911.7 241.0L911.7 240.4L911.8 242.0L911.8 243.4L911.8 242.7L911.8 242.4L911.9 242.5L911.9 242.4L911.9 242.2L911.9 244.1L912.0 244.0L912.0 241.9L912.0 242.0L912.0 244.4L912.1 245.1L912.1 242.8L912.1 243.0L912.2 245.1L912.2 242.7L912.2 245.3L912.2 245.1L912.3 245.0L912.3 246.0L912.3 243.9L912.3 243.9L912.3 243.8L912.4 245.5L912.4 243.5L912.4 245.2L912.4 243.6L912.5 243.4L912.5 241.7L912.5 242.1L912.5 245.7L912.5 244.6L912.6 244.8L912.6 241.0L912.6 243.0L912.6 243.1L912.6 245.5L912.7 243.2L912.7 242.8L912.7 243.7L912.7 242.5L912.7 244.4L912.8 242.6L912.8 242.7L912.8 242.6L912.8 243.6L912.8 242.8L912.9 243.9L912.9 241.4L912.9 241.3L912.9 241.0L912.9 243.0L913.0 239.8L913.0 242.7L913.0 238.7L913.0 239.4L913.0 238.3L913.1 240.8L913.1 240.2L913.1 238.4L913.1 239.7L913.1 237.7L913.2 238.7L913.2 234.2L913.2 236.0L913.2 236.5L913.2 235.8L913.3 235.8L913.3 237.0L913.3 236.7L913.3 235.4L913.3 234.3L913.4 235.3L913.4 233.8L913.4 235.9L913.4 233.3L913.4 234.0L913.5 235.3L913.5 232.8L913.5 232.0L913.5 230.0L913.5 231.9L913.6 235.0L913.6 234.6L913.6 231.5L913.6 230.8L913.6 228.9L913.7 230.0L913.7 230.1L913.7 232.3L913.7 228.7L913.7 228.9L913.8 226.8L913.8 226.3L913.8 226.7L913.8 226.4L913.8 226.4L913.9 227.2L913.9 226.5L913.9 224.9L913.9 226.1L913.9 226.9L914.0 224.5L914.0 224.7L914.0 223.1L914.0 224.4L914.0 222.8L914.1 222.3L914.1 222.2L914.1 221.4L914.1 221.7L914.2 222.1L914.2 223.9L914.2 221.2L914.2 219.5L914.2 220.1L914.3 219.9L914.3 220.9L914.3 220.6L914.3 218.8L914.4 217.9L914.4 217.4L914.4 217.6L914.4 220.0L914.5 215.5L914.5 216.0L914.5 217.2L914.5 217.2L914.5 216.5L914.6 214.9L914.6 215.4L914.6 217.6L914.6 216.0L914.7 215.7L914.7 216.1L914.7 215.3L914.8 216.1L914.8 214.1L914.8 215.5L914.8 211.6L914.9 211.0L914.9 211.6L914.9 213.4L914.9 210.5L915.0 210.6L915.0 209.9L915.0 211.8L915.0 211.1L915.0 209.6L915.0 211.1L915.1 210.7L915.1 209.0L915.1 207.1L915.1 207.4L915.1 207.3L915.1 208.4L915.1 208.0L915.2 206.9L915.2 204.3L915.2 207.6L915.2 206.8L915.2 205.5L915.2 206.1L915.3 206.3L915.3 206.5L915.3 206.3L915.3 203.4L915.4 206.5L915.4 205.2L915.4 203.9L915.4 202.8L915.5 206.6L915.5 203.4L915.5 204.6L915.6 203.4L915.6 201.2L915.7 204.1L915.7 202.1L915.8 200.4L915.8 201.0L915.9 202.0L916.0 200.2L916.0 198.9L916.1 200.1L916.2 198.0L916.2 198.9L916.3 198.8L916.4 200.1L916.5 200.0L916.6 200.9L916.7 197.8L916.8 199.3L916.9 198.6L917.0 196.8L917.1 199.6L917.3 198.3L917.5 198.4L917.7 195.8L918.0 196.5L918.2 196.3L918.5 198.1L918.7 196.4L919.0 194.9L919.3 197.6L919.5 197.0L919.8 196.7L920.1 196.3L920.4 194.7L920.7 195.2L921.0 196.3L921.3 197.1L921.6 194.8L921.9 197.2L922.2 198.1L922.4 196.7L922.7 196.3L923.0 200.4L923.2 197.3L923.5 195.2L923.8 197.0L924.1 198.5L924.4 195.5L924.7 196.7L924.9 196.7L925.2 200.0L925.5 195.9L925.8 197.5L926.1 197.2L926.3 196.3L926.6 198.1L926.9 200.0L927.1 199.8L927.4 198.6L927.6 197.9L927.9 197.6L928.1 200.8L928.4 197.3L928.6 196.7L928.8 198.2L928.9 197.5L929.1 198.9L929.3 198.1L929.5 195.6L929.6 195.8L929.8 198.2L929.9 195.1L930.1 197.6L930.3 198.0L930.4 196.5L930.6 196.3L930.7 197.3L930.9 194.9L931.0 197.2L931.2 193.2L931.3 195.0L931.5 194.7L931.6 195.0L931.8 191.5L932.0 194.5L932.1 192.5L932.3 192.9L932.4 190.6L932.6 191.2L932.7 193.0L932.9 190.9L933.0 190.2L933.2 194.5L933.4 192.5L933.5 192.6L933.7 191.6L933.8 192.5L934.0 192.1L934.2 193.3L934.3 191.8L934.5 193.1L934.7 193.9L934.8 191.2L935.0 193.0L935.2 193.1L935.3 194.7L935.5 194.0L935.6 194.4L935.8 194.6L936.0 193.1L936.1 196.9L936.3 196.0L936.5 194.1L936.6 195.2L936.8 198.7L937.0 196.3L937.1 196.4L937.3 198.3L937.4 196.1L937.6 197.7L937.8 194.2L937.9 199.6L938.1 199.8L938.2 199.1L938.3 197.4L938.5 197.0L938.6 197.3L938.7 200.1L938.8 197.5L938.9 198.5L939.0 198.4L939.2 199.1L939.3 200.9L939.4 202.3L939.5 200.4L939.6 201.9L939.7 201.2L939.8 202.0L939.9 198.6L940.1 201.6L940.2 202.4L940.3 202.4L940.4 203.8L940.5 202.4L940.6 205.0L940.7 205.3L940.8 203.3L941.0 205.4L941.1 204.5L941.2 204.8L941.3 207.1L941.4 204.2L941.5 207.1L941.6 205.1L941.8 207.8L941.9 206.2L942.0 208.4L942.1 205.9L942.2 207.4L942.3 207.6L942.5 209.8L942.6 208.8L942.7 209.3L942.8 211.1L942.9 210.1L943.1 209.7L943.2 207.7L943.3 209.6L943.4 210.9L943.6 207.5L943.7 211.1L943.8 208.7L944.0 208.6L944.1 209.8L944.2 208.2L944.4 210.6L944.5 213.1L944.7 211.2L944.9 210.8L945.1 212.1L945.3 211.6L945.5 210.5L945.7 211.5L945.9 212.7L946.1 214.9L946.3 215.0L946.5 214.2L946.7 215.0L946.9 217.0L947.1 216.0L947.3 216.9L947.6 218.4L947.8 217.7L948.0 216.1L948.2 215.6L948.4 216.4L948.6 214.9L948.8 214.5L949.0 215.6L949.2 218.0L949.4 214.3L949.6 215.7L949.8 215.3L950.0 215.5L950.2 214.6L950.4 219.6L950.5 217.9L950.7 215.6L950.8 216.2L951.0 214.7L951.1 216.5L951.3 216.8L951.4 217.0L951.5 214.9L951.6 215.7L951.7 217.7L951.8 215.0L951.9 218.2L952.0 213.9L952.1 214.6L952.2 215.9L952.3 215.0L952.4 214.9L952.4 218.3L952.5 215.3L952.6 213.9L952.6 214.8L952.7 214.0L952.8 215.2L952.9 214.1L952.9 211.8L953.0 214.3L953.1 211.2L953.1 211.1L953.2 211.6L953.3 209.4L953.4 210.9L953.4 209.9L953.5 211.9L953.6 207.1L953.7 211.0L953.8 208.7L953.9 209.4L954.0 204.9L954.1 210.8L954.2 210.5L954.3 208.5L954.4 209.8L954.6 207.0L954.7 207.4L954.8 210.4L954.9 208.9L955.1 206.6L955.2 209.7L955.3 206.8L955.4 209.8L955.6 208.1L955.7 210.2L955.8 211.4L956.0 210.4L956.1 207.8L956.2 208.5L956.4 208.3L956.5 212.8L956.7 211.5L956.8 210.0L957.0 211.0L957.1 214.2L957.3 212.7L957.4 214.1L957.6 213.1L957.8 212.7L957.9 213.8L958.1 214.9L958.3 215.4L958.4 217.4L958.6 215.9L958.8 215.6L959.0 215.4L959.2 215.1L959.5 217.0L959.7 215.8L960.0 217.6L960.2 216.6L960.5 214.2L960.8 218.0L961.1 216.5L961.4 218.6L961.7 215.3L961.9 216.7L962.2 216.7L962.5 219.7L962.8 215.1L963.1 218.7L963.4 217.3L963.7 216.8L964.0 217.5L964.2 219.1L964.5 216.2L964.8 216.5L965.0 217.9L965.3 217.2L965.5 217.9L965.7 216.3L965.9 216.0L966.1 217.7L966.3 218.2L966.5 216.3L966.7 218.7L966.9 219.6L967.0 216.9L967.2 217.3L967.3 216.3L967.5 215.3L967.7 215.1L967.8 215.0L968.0 211.9L968.1 214.4L968.3 212.8L968.5 212.0L968.6 210.3L968.8 212.1L968.9 212.4L969.1 209.9L969.3 210.2L969.5 212.2L969.7 211.2L969.9 210.4L970.1 209.7L970.3 209.1L970.5 210.4L970.8 209.1L971.0 209.4L971.3 208.7L971.6 209.2L971.8 211.0L972.1 210.2L972.4 210.6L972.7 211.6L972.9 210.8L973.2 211.8L973.5 215.3L973.8 213.5L974.1 213.0L974.4 211.3L974.7 212.2L975.0 213.7L975.2 214.8L975.5 210.6L975.8 213.5L976.0 214.6L976.3 215.4L976.5 213.3L976.8 212.4L977.0 212.7L977.1 212.0L977.3 212.5L977.4 211.6L977.6 209.9L977.7 209.6L977.9 208.5L978.0 211.8L978.2 209.5L978.3 213.3L978.5 211.1L978.6 208.3L978.8 208.5L978.9 208.7L979.0 208.5L979.2 209.2L979.3 206.1L979.4 208.7L979.6 208.5L979.7 206.1L979.8 209.9L980.0 207.4L980.1 207.5L980.2 209.5L980.3 204.7L980.5 206.6L980.6 205.4L980.7 205.9L980.8 204.0L981.0 203.4L981.1 203.2L981.2 205.3L981.3 204.4L981.4 203.1L981.6 204.1L981.7 202.0L981.8 202.7L981.9 200.7L982.1 200.0L982.2 202.6L982.3 203.8L982.4 200.3L982.6 203.1L982.7 202.2L982.8 201.8L982.9 200.9L983.1 202.8L983.2 201.4L983.4 204.2L983.5 200.6L983.7 200.8L983.9 201.6L984.1 204.3L984.2 201.4L984.4 204.5L984.6 199.7L984.8 202.5L984.9 203.1L985.1 203.4L985.3 202.5L985.5 203.2L985.6 203.5L985.8 204.3L986.0 205.2L986.1 204.5L986.3 205.7L986.5 203.7L986.6 204.8L986.8 205.5L987.0 207.5L987.1 208.4L987.3 205.9L987.4 206.6L987.6 206.5L987.7 207.5L987.8 207.9L988.0 206.9L988.1 208.4L988.2 207.8L988.3 208.9L988.3 209.3L988.4 209.8L988.5 210.0L988.5 209.9L988.6 210.1L988.7 207.6L988.7 208.8L988.8 208.2L988.9 209.4L988.9 208.8L989.0 212.1L989.0 208.6L989.1 211.2L989.1 213.3L989.2 214.1L989.2 212.0L989.3 215.4L989.3 211.8L989.4 214.6L989.4 213.4L989.5 214.7L989.5 213.2L989.6 213.9L989.6 216.2L989.6 217.2L989.7 215.8L989.7 215.9L989.8 216.6L989.8 217.8L989.8 218.0L989.9 219.4L989.9 217.3L989.9 222.4L990.0 220.1L990.0 219.9L990.0 218.3L990.1 218.7L990.1 220.3L990.1 221.3L990.2 221.8L990.2 220.3L990.2 222.4L990.3 222.0L990.3 221.8L990.3 224.8L990.3 223.3L990.4 224.5L990.4 223.8L990.4 225.2L990.5 224.4L990.5 225.8L990.5 224.4L990.5 226.4L990.6 226.9L990.6 227.4L990.6 226.2L990.7 226.7L990.7 227.3L990.7 228.3L990.7 225.3L990.8 228.0L990.8 225.7L990.8 227.9L990.9 226.6L990.9 228.0L990.9 230.3L991.0 226.9L991.0 228.1L991.0 229.0L991.1 229.7L991.1 228.9L991.1 226.6L991.2 228.9L991.2 226.2L991.3 229.6L991.3 229.3L991.3 229.3L991.4 229.5L991.4 230.3L991.5 229.8L991.5 227.8L991.5 229.7L991.6 228.6L991.6 227.5L991.6 225.9L991.7 230.4L991.7 228.2L991.7 229.4L991.8 227.0L991.8 227.5L991.8 228.6L991.9 227.4L991.9 226.2L991.9 226.1L992.0 225.9L992.0 224.5L992.0 224.5L992.0 225.2L992.1 224.9L992.1 223.4L992.1 224.7L992.2 224.4L992.2 225.4L992.2 222.4L992.3 225.1L992.3 220.9L992.3 221.8L992.3 222.0L992.4 223.2L992.4 219.1L992.4 219.8L992.5 218.5L992.5 220.2L992.5 220.6L992.6 216.2L992.6 218.1L992.6 217.1L992.7 215.6L992.7 219.0L992.7 217.6L992.8 216.2L992.8 218.3L992.8 216.5L992.9 216.4L992.9 214.4L992.9 215.1L993.0 216.7L993.0 214.0L993.0 212.6L993.1 213.2L993.1 210.8L993.1 210.5L993.2 213.4L993.2 210.3L993.3 209.8L993.3 210.5L993.3 208.6L993.4 210.0L993.4 209.9L993.5 207.8L993.5 209.0L993.6 209.6L993.6 207.3L993.6 209.6L993.7 208.7L993.7 208.1L993.8 206.2L993.8 207.7L993.9 206.4L993.9 205.9L994.0 205.0L994.0 205.7L994.1 209.0L994.1 207.7L994.2 205.0L994.3 208.6L994.3 206.1L994.4 207.0L994.4 205.6L994.5 205.4L994.6 207.0L994.7 204.5L994.8 203.5L994.8 206.1L994.9 208.4L995.0 205.5L995.1 206.8L995.2 206.3L995.3 208.1L995.4 205.5L995.5 206.7L995.6 207.1L995.7 206.9L995.8 207.8L995.9 210.8L996.0 209.3L996.1 209.5L996.2 209.2L996.3 211.6L996.4 208.2L996.5 213.0L996.6 209.8L996.7 210.5L996.8 210.0L996.9 212.6L997.0 213.5L997.2 212.9L997.3 210.6L997.4 214.0L997.5 211.7L997.6 212.1L997.7 215.0L997.9 212.4L998.0 213.0L998.1 214.5L998.2 215.4L998.4 216.0L998.5 218.7L998.6 215.4L998.7 217.2L998.9 215.8L999.0 215.3L999.1 219.6L999.3 216.2L999.4 219.6L999.6 218.4L999.8 218.0L1000.0 218.0L1000.3 217.5L1000.5 220.4L1000.8 216.4L1001.0 218.5L1001.3 218.8L1001.5 220.3L1001.8 220.6L1002.0 219.2L1002.3 221.9L1002.5 219.9L1002.7 224.8L1003.0 220.5L1003.2 221.6L1003.4 219.7L1003.6 222.0L1003.8 222.3L1004.0 221.5L1004.2 222.0L1004.3 220.0L1004.4 222.1L1004.4 221.7L1004.5 220.0L1004.6 219.7L1004.7 222.2L1004.7 220.0L1004.8 221.9L1004.9 220.6L1004.9 221.0L1005.0 220.2L1005.1 219.3L1005.1 219.1L1005.2 219.5L1005.2 216.3L1005.3 216.1L1005.3 215.0L1005.4 216.1L1005.4 217.4L1005.4 215.2L1005.5 218.4L1005.5 216.3L1005.5 214.7L1005.6 216.1L1005.6 215.6L1005.6 216.1L1005.7 215.7L1005.7 212.6L1005.7 215.3L1005.8 212.9L1005.8 213.9L1005.8 210.9L1005.8 211.3L1005.8 211.4L1005.9 211.0L1005.9 212.5L1005.9 210.0L1005.9 208.4L1005.9 208.9L1006.0 207.5L1006.0 211.0L1006.0 208.0L1006.0 208.8L1006.0 210.8L1006.0 205.6L1006.0 205.3L1006.1 208.3L1006.1 205.1L1006.1 204.2L1006.1 206.2L1006.1 207.0L1006.1 203.4L1006.1 204.2L1006.1 203.1L1006.1 203.2L1006.2 203.4L1006.2 203.7L1006.2 204.8L1006.2 203.8L1006.2 201.3L1006.2 201.9L1006.2 202.4L1006.3 201.7L1006.3 200.9L1006.3 201.2L1006.3 200.4L1006.3 202.0L1006.3 202.3L1006.4 204.7L1006.4 202.8L1006.4 201.5L1006.4 205.1L1006.5 199.3L1006.5 203.2L1006.5 198.7L1006.5 199.3L1006.6 199.3L1006.6 201.4L1006.6 199.3L1006.7 201.6L1006.7 201.6L1006.7 201.3L1006.7 198.0L1006.8 200.5L1006.8 201.3L1006.8 200.6L1006.8 201.7L1006.9 201.7L1006.9 202.7L1006.9 199.3L1006.9 200.0L1006.9 201.0L1006.9 200.7L1007.0 205.2L1007.0 202.4L1007.0 202.9L1007.0 203.5L1007.0 203.2L1007.0 203.5L1007.0 205.9L1007.0 205.5L1007.1 205.4L1007.1 207.0L1007.1 206.8L1007.1 208.6L1007.1 206.8L1007.1 208.3L1007.1 208.1L1007.2 207.8L1007.2 207.8L1007.2 209.5L1007.2 209.5L1007.2 210.7L1007.3 209.1L1007.3 210.2L1007.3 212.3L1007.3 209.1L1007.4 209.7L1007.4 211.8L1007.4 211.7L1007.5 211.1L1007.5 210.6L1007.5 211.9L1007.6 212.0L1007.6 213.3L1007.7 212.2L1007.7 215.9L1007.8 215.8L1007.8 215.2L1007.9 215.0L1007.9 217.8L1008.0 213.3L1008.0 217.5L1008.1 214.8L1008.2 214.6L1008.3 219.4L1008.3 218.7L1008.4 217.1L1008.5 216.5L1008.6 215.4L1008.7 217.5L1008.8 217.0L1008.9 217.3L1009.0 216.8L1009.2 217.0L1009.4 219.3L1009.6 218.2L1009.8 218.7L1010.0 219.9L1010.3 218.2L1010.5 216.7L1010.8 217.8L1011.0 217.1L1011.3 216.3L1011.5 217.6L1011.8 216.4L1012.1 216.7L1012.4 218.3L1012.6 217.1L1012.9 215.7L1013.2 214.7L1013.4 216.0L1013.7 215.9L1014.0 216.3L1014.2 217.8L1014.4 218.0L1014.7 215.9L1014.9 215.6L1015.1 215.9L1015.3 213.6L1015.5 216.3L1015.7 214.6L1015.8 213.4L1016.0 214.9L1016.1 213.6L1016.3 213.5L1016.4 214.8L1016.6 216.1L1016.7 214.9L1016.8 216.7L1016.9 215.4L1017.0 216.4L1017.2 217.1L1017.3 216.2L1017.4 219.2L1017.5 215.9L1017.5 217.1L1017.6 218.7L1017.7 218.5L1017.8 218.1L1017.9 219.4L1018.0 216.9L1018.1 217.1L1018.1 219.1L1018.2 217.9L1018.3 218.3L1018.4 220.2L1018.5 221.6L1018.5 220.8L1018.6 224.3L1018.7 221.2L1018.7 222.6L1018.8 223.4L1018.8 224.4L1018.8 223.3L1018.9 224.0L1018.9 220.9L1018.9 223.5L1019.0 224.5L1019.0 224.6L1019.0 223.6L1019.0 227.0L1019.1 226.6L1019.1 226.0L1019.1 227.7L1019.1 223.2L1019.2 225.7L1019.2 227.5L1019.2 224.8L1019.2 226.3L1019.3 228.9L1019.3 227.7L1019.3 227.6L1019.3 228.2L1019.3 229.7L1019.4 229.6L1019.4 226.0L1019.4 229.3L1019.4 228.9L1019.4 229.1L1019.5 229.2L1019.5 229.8L1019.5 230.7L1019.5 231.2L1019.5 232.2L1019.5 229.5L1019.5 233.0L1019.6 232.4L1019.6 231.3L1019.6 234.3L1019.6 234.8L1019.6 233.2L1019.6 231.3L1019.6 234.0L1019.6 237.0L1019.7 236.9L1019.7 234.5L1019.7 238.1L1019.7 235.7L1019.7 236.2L1019.7 236.7L1019.7 237.4L1019.7 240.5L1019.7 237.5L1019.7 240.0L1019.7 240.2L1019.7 237.9L1019.8 237.6L1019.8 239.1L1019.8 239.2L1019.8 240.5L1019.8 240.1L1019.8 240.5L1019.8 241.8L1019.8 240.3L1019.8 242.1L1019.8 240.6L1019.8 243.1L1019.8 243.9L1019.8 242.2L1019.8 244.3L1019.8 247.4L1019.8 242.7L1019.8 245.2L1019.8 245.9L1019.8 246.7L1019.8 246.6L1019.8 247.9L1019.8 246.9L1019.9 247.0L1019.9 248.1L1019.9 244.7L1019.9 248.9L1019.9 251.3L1019.9 250.7L1019.9 248.1L1019.9 251.2L1019.9 251.9L1019.9 249.0L1019.9 251.1L1019.9 251.2L1019.9 250.5L1019.9 252.9L1019.9 251.7L1019.9 250.6L1019.9 253.4L1019.9 252.0L1019.9 254.9L1019.9 253.9L1019.9 252.6L1019.9 253.3L1019.9 253.9L1019.9 258.2L1019.9 255.2L1019.9 255.3L1019.9 256.3L1019.9 256.6L1019.9 255.2L1019.9 256.6L1019.9 256.8L1019.9 256.6L1019.9 258.4L1019.9 257.1L1019.9 256.9L1020.0 260.2L1020.0 259.3L1020.0 258.2L1020.0 262.2L1020.0 258.3L1020.0 259.6L1020.0 259.2L1020.0 258.1L1020.0 258.6L1020.0 260.6L1020.0 261.3L1020.0 260.9L1020.0 261.2L1020.0 261.8L1020.0 260.3L1020.0 260.2L1020.1 262.3L1020.1 261.7L1020.1 264.4L1020.1 262.6L1020.1 261.4L1020.1 262.3L1020.1 262.8L1020.1 261.2L1020.1 262.4L1020.1 262.5L1020.2 261.3L1020.2 261.9L1020.2 262.3L1020.2 262.9L1020.2 260.8L1020.2 260.4L1020.2 263.7L1020.3 259.1L1020.3 262.0L1020.3 260.8L1020.3 262.5L1020.3 263.0L1020.3 264.0L1020.3 262.4L1020.4 262.6L1020.4 263.4L1020.4 264.5L1020.4 263.0L1020.4 259.0L1020.4 264.9L1020.4 264.4L1020.5 261.5L1020.5 262.3L1020.5 262.4L1020.5 264.9L1020.5 261.6L1020.5 261.0L1020.5 262.1L1020.5 259.4L1020.5 260.8L1020.5 261.2L1020.6 261.2L1020.6 263.6L1020.6 261.2L1020.6 259.7L1020.6 260.1L1020.6 260.1L1020.6 260.5L1020.6 260.5L1020.6 258.8L1020.6 256.8L1020.6 258.3L1020.6 259.5L1020.6 258.4L1020.6 254.9L1020.6 258.4L1020.6 258.3L1020.7 258.0L1020.7 258.5L1020.7 255.7L1020.7 254.5L1020.7 253.0L1020.7 258.6L1020.7 256.6L1020.7 257.6L1020.7 255.9L1020.7 254.5L1020.7 254.6L1020.7 255.9L1020.7 255.0L1020.7 252.6L1020.7 251.4L1020.7 251.5L1020.7 253.4L1020.8 252.3L1020.8 250.3L1020.8 251.1L1020.8 250.9L1020.8 250.5L1020.8 250.7L1020.8 249.8L1020.8 251.9L1020.8 252.0L1020.8 249.9L1020.8 251.6L1020.8 249.4L1020.8 250.7L1020.9 248.2L1020.9 248.9L1020.9 245.2L1020.9 248.3L1020.9 248.4L1020.9 249.0L1020.9 247.4L1020.9 245.8L1021.0 243.5L1021.0 244.0L1021.0 241.1L1021.0 243.6L1021.0 242.4L1021.0 240.8L1021.1 241.7L1021.1 241.6L1021.1 242.3L1021.1 242.2L1021.1 241.6L1021.1 241.3L1021.2 240.7L1021.2 238.7L1021.2 241.8L1021.2 238.8L1021.3 240.4L1021.3 239.7L1021.3 239.3L1021.3 238.0L1021.4 236.9L1021.4 236.8L1021.4 235.6L1021.5 236.7L1021.5 235.2L1021.5 233.5L1021.5 233.2L1021.6 233.6L1021.6 234.1L1021.6 233.7L1021.7 231.9L1021.7 233.1L1021.8 233.1L1021.8 233.8L1021.8 233.2L1021.9 231.2L1021.9 233.6L1022.0 233.0L1022.0 229.5L1022.1 231.4L1022.1 230.5L1022.1 231.4L1022.2 230.8L1022.2 230.0L1022.3 229.0L1022.3 230.7L1022.4 229.2L1022.5 230.2L1022.5 227.4L1022.6 226.9L1022.6 229.0L1022.7 225.8L1022.7 225.7L1022.8 228.2L1022.9 227.5L1022.9 225.7L1023.0 229.0L1023.1 226.0L1023.1 228.2L1023.2 225.1L1023.3 228.8L1023.4 227.9L1023.4 228.4L1023.5 225.7L1023.7 225.7L1023.8 226.2L1024.0 225.5L1024.2 225.2L1024.4 224.8L1024.6 224.7L1024.7 224.0L1024.9 222.4L1025.1 224.5L1025.3 221.6L1025.5 226.5L1025.7 222.4L1026.0 223.1L1026.2 221.7L1026.4 221.3L1026.6 222.6L1026.8 219.8L1027.1 221.8L1027.3 221.8L1027.5 220.6L1027.8 221.3L1028.0 220.6L1028.2 221.3L1028.5 221.2L1028.7 221.2L1029.0 220.8L1029.2 220.0L1029.5 222.7L1029.7 220.2L1030.0 222.2L1030.2 217.8L1030.5 218.6L1030.7 220.4L1030.9 222.9L1031.2 219.5L1031.4 219.6L1031.6 221.2L1031.9 220.1L1032.1 219.5L1032.4 220.3L1032.6 220.0L1032.9 219.7L1033.2 220.2L1033.4 219.9L1033.7 219.9L1033.9 221.5L1034.2 221.2L1034.5 220.0L1034.7 220.2L1035.0 222.2L1035.3 222.3L1035.6 218.5L1035.8 216.7L1036.1 220.5L1036.4 218.8L1036.7 218.0L1037.0 217.1L1037.2 217.8L1037.5 218.2L1037.8 217.1L1038.1 222.3L1038.4 218.8L1038.7 219.4L1039.0 219.8L1039.3 220.5L1039.5 216.9L1039.8 220.9L1040.1 219.7L1040.4 220.1L1040.7 217.7L1041.0 217.7L1041.3 216.7L1041.5 218.2L1041.8 217.4L1042.0 217.1L1042.2 217.4L1042.5 217.0L1042.7 217.6L1043.0 217.4L1043.2 216.7L1043.4 217.3L1043.7 217.0L1043.9 217.0L1044.2 216.9L1044.4 216.5L1044.7 216.7L1044.9 216.5L1045.7 216.2L1045.9 216.2L1046.2 216.0L1046.4 216.0L1046.7 216.0L1047.0 215.8L1047.2 215.5L1047.5 215.8L1047.7 215.3L1048.0 215.8L1048.2 215.9L1048.5 215.8L1048.8 215.4L1049.0 215.9L1049.3 215.8L1049.5 215.1L1049.8 214.9L1050.1 215.2L1050.3 215.5L1050.6 214.7L1050.9 214.7L1051.1 214.7L1051.4 213.9L1051.6 213.9L1051.9 214.1L1052.2 214.0L1052.4 213.7L1052.7 213.7L1053.0 214.4L1053.2 213.6L1053.5 213.5L1053.7 213.3L1054.0 212.3L1054.3 213.0L1054.5 212.1L1054.8 212.9L1055.1 212.9L1055.3 212.7L1055.6 213.3L1055.8 213.1L1056.1 213.4L1056.4 212.7L1056.6 212.9L1056.9 213.4L1057.1 213.4L1057.4 213.9L1057.7 212.6L1057.9 212.5L1058.2 213.4L1058.5 212.4L1058.8 212.5L1059.0 212.3L1059.3 213.2L1059.6 212.8L1059.9 212.7L1060.2 212.2L1060.5 212.7L1060.8 213.4L1061.1 212.5L1061.3 212.8L1061.6 212.7L1061.9 212.9L1062.2 212.9L1062.5 212.5L1062.8 212.3L1063.1 212.1L1063.4 212.9L1063.7 212.7L1064.0 212.6L1064.3 212.8L1064.6 212.6L1064.9 212.2L1065.2 212.3L1065.5 212.9L1065.8 213.3L1066.1 213.5L1066.3 213.3L1066.6 213.8L1066.9 213.1L1067.2 213.2L1067.5 214.6L1067.8 213.2L1068.0 213.3L1068.3 213.3L1068.6 212.7L1068.9 213.0L1069.1 214.1L1069.4 213.4L1069.6 213.8L1069.9 213.0L1070.2 213.2L1070.4 214.6L1070.7 213.4L1070.9 213.8L1071.1 214.3L1071.4 214.0L1071.6 214.1L1071.8 214.1L1072.1 214.1L1072.3 214.5L1072.5 214.0L1072.7 214.0L1072.9 214.5L1073.1 214.2L1073.3 214.1L1073.5 214.8L1073.8 214.4L1074.1 214.4L1074.4 214.4L1074.7 214.6L1075.0 215.0L1075.3 214.7L1075.5 214.5L1075.8 215.8L1076.0 215.1L1076.2 215.4L1076.5 215.5L1076.7 215.1L1076.9 216.2L1077.1 216.3L1077.3 216.2L1077.5 215.6L1077.7 217.0L1077.9 216.9L1078.1 217.3L1078.2 217.9L1078.4 217.8L1078.5 217.8L1078.6 218.9L1078.7 218.8L1078.8 218.7L1078.8 219.4L1078.9 218.9L1079.0 219.2L1079.0 218.9L1079.1 220.1L1079.2 220.4L1079.2 220.3L1079.3 221.7L1079.3 220.9L1079.3 221.4L1079.4 220.8L1079.4 222.5L1079.4 222.5L1079.5 222.4L1079.5 222.5L1079.5 223.1L1079.5 224.1L1079.6 224.4L1079.6 225.3L1079.6 224.9L1079.6 225.7L1079.6 226.0L1079.6 225.1L1079.6 226.9L1079.6 227.7L1079.7 227.6L1079.7 227.2L1079.7 229.0L1079.7 228.1L1079.7 228.5L1079.7 229.2L1079.7 228.3L1079.7 230.6L1079.7 230.4L1079.8 229.4L1079.8 230.3L1079.8 230.0L1079.8 230.7L1079.8 230.9L1079.9 231.1L1079.9 231.0L1079.9 231.0L1080.0 230.8L1080.0 230.4L1080.0 231.1L1080.1 230.6L1080.1 230.9L1080.1 230.4L1080.2 229.7L1080.2 229.9L1080.2 230.3L1080.2 229.9L1080.3 229.2L1080.3 229.7L1080.3 230.2L1080.3 228.7L1080.3 228.2L1080.3 228.8L1080.4 228.3L1080.4 228.8L1080.4 227.4L1080.4 227.3L1080.4 227.4L1080.4 226.4L1080.5 226.2L1080.5 225.9L1080.5 225.6L1080.5 225.2L1080.5 224.7L1080.6 224.5L1080.6 224.4L1080.6 223.6L1080.6 222.9L1080.7 222.6L1080.7 222.3L1080.7 222.0L1080.8 221.2L1080.8 221.3L1080.9 220.9L1080.9 220.5L1080.9 220.2L1081.0 219.1L1081.1 218.9L1081.1 219.1L1081.2 218.1L1081.2 218.7L1081.3 218.4L1081.4 218.3L1081.5 217.9L1081.6 217.4L1081.6 217.9L1081.7 217.3L1081.8 217.1L1081.9 217.0L1082.0 216.3L1082.2 216.6L1082.3 216.4L1082.4 217.0L1082.6 216.6L1082.8 216.4L1083.0 216.8L1083.3 216.3L1083.5 215.8L1083.7 215.8L1084.0 216.3L1084.3 215.5L1084.5 216.3L1084.8 215.9L1085.1 216.2L1085.4 215.6L1085.7 214.9L1086.0 216.9L1086.3 215.8L1086.6 215.5L1086.9 216.4L1087.2 216.4L1087.5 216.7L1087.8 215.9L1088.1 217.4L1088.4 216.4L1088.6 218.2L1088.9 217.3L1089.2 216.8L1089.4 217.0L1089.7 217.6L1089.9 218.1L1090.1 218.6L1090.3 217.9L1090.6 217.9L1090.8 218.7L1091.0 218.7L1091.2 218.7L1091.4 218.3L1091.6 219.3L1091.7 219.1L1091.9 219.9L1092.1 220.1L1092.3 220.1L1092.5 220.5L1092.7 220.6L1092.9 220.6L1093.1 220.9L1093.3 221.1L1093.4 221.3L1093.6 221.8L1093.8 221.9L1094.0 222.2L1094.2 222.5L1094.4 223.2L1094.6 222.8L1094.7 223.0L1094.9 223.1L1095.1 223.5L1095.3 224.4L1095.5 224.1L1095.7 224.4L1095.9 223.8L1096.1 224.3L1096.3 224.4L1096.5 224.9L1096.7 225.0L1096.9 225.0L1097.1 225.2L1097.4 225.4L1097.6 225.4L1097.8 225.9L1098.0 225.9L1098.2 226.2L1098.4 226.3L1098.6 226.6L1098.8 226.5L1099.0 227.0L1099.2 227.1L1099.5 227.3L1099.7 227.5L1099.9 227.7L1100.6 228.1L1101.2 228.5L1101.9 228.8L1102.6 229.0L1103.3 229.0L1104.1 228.9L1104.9 228.6L1105.6 228.3L1106.4 227.9L1107.2 227.5L1108.0 227.1L1108.8 226.8L1109.5 226.6L1110.2 226.5L1111.1 226.5L1112.0 226.7L1112.8 226.9L1113.6 227.2L1114.3 227.6L1115.0 228.1L1115.5 228.6L1116.0 229.3L1116.4 230.0L1116.7 230.8L1117.1 231.6L1117.4 232.5L1117.7 233.4L1117.9 234.4L1118.2 235.3L1118.4 236.0L1118.5 236.7L1118.7 237.5L1118.8 238.3L1118.9 239.1L1119.0 239.9L1119.1 240.7L1119.2 241.5L1119.3 242.4L1119.4 243.2L1119.5 244.1L1119.5 244.9L1119.6 245.8L1119.7 246.6L1119.8 247.4L1119.9 248.2L1120.0 249.0L1120.1 249.8L1120.2 250.6L1120.2 251.4L1120.3 252.2L1120.4 252.9L1120.5 253.7L1120.6 254.5L1120.6 255.3L1120.7 256.1L1120.8 257.0L1120.9 257.8L1120.9 258.6L1121.0 259.5L1121.1 260.3L1121.1 261.0L1121.2 261.8L1121.2 262.6L1121.3 263.4L1121.3 264.2L1121.4 265.0L1121.4 265.8L1121.5 266.6L1121.5 267.4L1121.5 268.2L1121.6 269.0L1121.6 269.9L1121.7 270.7L1121.7 271.5L1121.7 272.3L1121.8 273.2L1121.8 274.0L1121.9 274.8L1121.9 275.6L1121.9 276.4L1122.0 277.2L1122.0 278.0L1122.0 278.8L1122.1 279.6L1122.1 280.4L1122.1 281.1L1122.2 281.9L1122.2 282.7L1122.2 283.5L1122.2 284.3L1122.3 285.1L1122.3 285.9L1122.3 286.7L1122.3 287.5L1122.4 288.4L1122.4 289.3L1122.4 290.2L1122.5 291.1L1122.5 292.0L1122.5 292.7L1122.5 293.4L1122.6 294.1L1122.6 294.9L1122.6 295.6L1122.7 296.4L1122.7 297.1L1122.7 297.9L1122.7 298.7L1122.8 299.5L1122.8 300.3L1122.8 301.1L1122.9 301.9L1122.9 302.7L1122.9 303.6L1122.9 304.4L1123.0 305.2L1123.0 306.1L1123.0 306.9L1123.1 307.8L1123.1 308.6L1123.1 309.5L1123.2 310.4L1123.2 311.2L1123.2 312.1L1123.2 312.9L1123.3 313.8L1123.3 314.7L1123.3 315.5L1123.3 316.4L1123.4 317.2L1123.4 318.1L1123.4 318.9L1123.4 319.8L1123.5 320.6L1123.5 321.5L1123.5 322.3L1123.5 323.1L1123.5 323.9L1123.5 324.7L1123.6 325.5L1123.6 326.3L1123.6 327.1L1123.6 327.9L1123.6 328.7L1123.6 329.4L1123.6 330.2L1123.6 331.0L1123.7 331.8L1123.7 332.6L1123.7 333.4L1123.7 334.2L1123.7 335.0L1123.7 335.8L1123.7 336.6L1123.7 337.4L1123.7 338.2L1123.7 339.0L1123.7 339.8L1123.7 340.7L1123.7 341.5L1123.7 342.3L1123.8 343.1L1123.8 343.9L1123.8 344.7L1123.8 345.5L1123.8 346.3L1123.8 347.1L1123.8 347.9L1123.8 348.8L1123.8 349.6L1123.8 350.4L1123.8 351.2L1123.9 352.0L1123.9 352.9L1123.9 353.7L1123.9 354.5L1123.9 355.3L1123.9 356.1L1123.9 356.9L1124.0 357.7L1124.0 358.5L1124.0 359.3L1124.0 360.1L1124.0 360.9L1124.0 361.7L1124.0 362.5L1124.0 363.3L1124.0 364.1L1124.1 365.0L1124.1 365.8L1124.1 366.6L1124.1 367.4L1124.1 368.2L1124.1 369.1L1124.1 369.9L1124.1 370.7L1124.2 371.5L1124.2 372.3L1124.2 373.2L1124.2 374.0L1124.2 374.8L1124.2 375.6L1124.2 376.4L1124.3 377.3L1124.3 378.1L1124.3 378.9L1124.3 379.7L1124.4 380.5L1124.4 381.3L1124.4 382.1L1124.4 382.9L1124.5 383.7L1124.5 384.5L1124.5 385.3L1124.6 386.1L1124.6 386.9L1124.7 387.7L1124.7 388.5L1124.8 389.2L1124.8 390.0L1124.9 390.9L1124.9 391.8L1125.0 392.7L1125.0 393.6L1125.1 394.6L1125.2 395.6L1125.2 396.6L1125.3 397.7L1125.4 398.7L1125.5 399.8L1125.5 400.9L1125.6 401.9L1125.7 403.0L1125.8 404.1L1125.9 405.1L1125.9 406.2L1126.0 407.2L1126.1 408.2L1126.2 409.2L1126.3 410.2L1126.4 411.1L1126.5 412.0L1126.6 412.9L1126.6 413.8L1126.7 414.6L1126.8 415.3L1126.9 416.0L1127.0 416.7L1127.1 417.3L1127.2 417.8L1127.3 418.3L1127.4 418.7L1127.5 419.1L1127.5 419.3L1127.6 419.5L1127.7 419.7L1127.8 419.7L1127.9 419.7L1128.0 419.5L1128.1 419.3L1128.1 419.0L1128.2 418.6L1128.3 418.2L1128.4 417.7L1128.5 417.1L1128.6 416.5L1128.7 415.8L1128.8 415.0L1128.9 414.2L1129.0 413.4L1129.1 412.5L1129.2 411.6L1129.2 410.7L1129.3 409.7L1129.4 408.7L1129.5 407.7L1129.6 406.6L1129.7 405.6L1129.8 404.5L1129.9 403.4L1130.0 402.4L1130.1 401.3L1130.2 400.2L1130.2 399.2L1130.3 398.1L1130.4 397.1L1130.5 396.1L1130.6 395.1L1130.6 394.2L1130.7 393.3L1130.8 392.4L1130.9 391.5L1130.9 390.7L1131.0 390.0L1131.1 389.1L1131.2 388.2L1131.2 387.4L1131.3 386.6L1131.4 385.7L1131.4 384.9L1131.5 384.1L1131.6 383.3L1131.6 382.5L1131.7 381.7L1131.8 381.0L1131.8 380.2L1131.9 379.4L1131.9 378.6L1132.0 377.9L1132.0 377.1L1132.1 376.3L1132.2 375.5L1132.2 374.7L1132.3 373.9L1132.3 373.1L1132.4 372.3L1132.4 371.4L1132.5 370.6L1132.6 369.8L1132.6 369.1L1132.7 368.3L1132.7 367.5L1132.8 366.7L1132.8 365.9L1132.9 365.2L1132.9 364.4L1133.0 363.6L1133.0 362.8L1133.1 362.0L1133.1 361.2L1133.2 360.3L1133.2 359.5L1133.3 358.7L1133.3 357.9L1133.4 357.1L1133.4 356.3L1133.5 355.5L1133.5 354.6L1133.6 353.8L1133.6 353.0L1133.7 352.2L1133.7 351.4L1133.8 350.6L1133.8 349.7L1133.9 348.9L1133.9 348.1L1134.0 347.3L1134.0 346.5L1134.0 345.7L1134.1 344.9L1134.1 344.1L1134.2 343.3L1134.2 342.4L1134.3 341.6L1134.3 340.8L1134.4 340.0L1134.4 339.2L1134.5 338.4L1134.5 337.5L1134.6 336.7L1134.6 335.9L1134.7 335.1L1134.7 334.3L1134.7 333.5L1134.8 332.6L1134.8 331.8L1134.9 331.0L1134.9 330.2L1135.0 329.4L1135.0 328.6L1135.1 327.8L1135.1 327.0L1135.2 326.2L1135.2 325.4L1135.3 324.6L1135.3 323.8L1135.4 323.1L1135.4 322.3L1135.5 321.5L1135.5 320.6L1135.6 319.7L1135.6 318.9L1135.7 318.0L1135.7 317.2L1135.8 316.3L1135.8 315.5L1135.9 314.6L1135.9 313.8L1136.0 312.9L1136.0 312.1L1136.1 311.2L1136.1 310.4L1136.2 309.6L1136.3 308.8L1136.3 308.0L1136.4 307.2L1136.4 306.4L1136.5 305.7L1136.5 304.9L1136.6 304.2L1136.7 303.5L1136.7 302.8L1136.8 302.1L1136.9 301.1L1137.0 300.2L1137.1 299.3L1137.2 298.5L1137.3 297.7L1137.4 296.9L1137.5 296.1L1137.6 295.3L1137.7 294.5L1137.8 293.7L1138.0 292.9L1138.1 292.0L1138.2 291.2L1138.4 290.4L1138.5 289.6L1138.7 288.8L1138.9 288.0L1139.1 287.2L1139.2 286.4L1139.4 285.6L1139.6 284.7L1139.8 283.9L1140.0 283.1L1140.2 282.2L1140.4 281.4L1140.6 280.6L1140.8 279.7L1141.0 278.9L1141.1 278.1L1141.3 277.3L1141.5 276.5L1141.7 275.7L1141.8 274.9L1142.0 274.1L1142.2 273.3L1142.4 272.5L1142.6 271.7L1142.7 270.8L1142.9 270.0L1143.1 269.2L1143.3 268.4L1143.5 267.6L1143.8 266.8L1144.0 266.0L1144.2 265.2L1144.4 264.4L1144.7 263.6L1144.9 262.9L1145.2 262.1L1145.4 261.3L1145.7 260.5L1145.9 259.7L1146.2 259.0L1146.5 258.2L1146.8 257.4L1147.0 256.7L1147.3 255.9L1147.6 255.2L1147.9 254.4L1148.2 253.7L1148.5 252.9L1148.8 252.2L1149.1 251.5L1149.4 250.7L1149.8 249.9L1150.1 249.2L1150.4 248.4L1150.7 247.6L1151.1 246.8L1151.4 246.1L1151.8 245.3L1152.1 244.6L1152.5 243.9L1152.9 243.2L1153.2 242.5L1153.6 241.8L1154.1 241.2L1154.5 240.6L1155.1 239.9L1155.7 239.2L1156.3 238.6L1157.0 238.0L1157.7 237.4L1158.3 236.9L1159.0 236.4L1159.7 235.8L1160.4 235.3L1161.0 234.8L1161.7 234.2L1162.4 233.6L1163.1 233.0L1163.8 232.5L1164.5 231.9L1165.2 231.4L1165.9 230.9L1166.6 230.5L1167.5 230.1L1168.3 229.8L1169.2 229.6L1170.1 229.4L1170.9 229.0L1171.5 228.5L1171.9 227.9L1172.2 227.2L1172.5 226.4L1172.6 225.6L1172.8 224.7L1172.9 223.8L1173.0 222.9L1173.2 222.0L1173.3 221.2L1173.5 220.2L1173.6 219.1L1173.7 218.0L1173.8 216.8L1173.8 215.8L1173.9 214.8L1174.0 213.9L1174.1 213.3L1174.2 212.9L1174.3 212.7L1174.4 212.9L1174.5 213.3L1174.6 213.9L1174.7 214.8L1174.8 215.7L1174.9 216.8L1175.0 217.9L1175.1 219.1L1175.2 220.1L1175.4 221.1L1175.5 222.0L1175.6 223.0L1175.8 224.0L1175.9 225.0L1176.0 225.9L1176.2 226.8L1176.4 227.7L1176.6 228.4L1177.0 229.0L1177.6 229.5L1178.4 229.8L1179.2 230.1L1180.0 230.5L1180.6 231.0L1181.2 231.7L1181.8 232.3L1182.4 233.1L1182.9 233.8L1183.5 234.5L1184.0 235.2L1184.6 235.9L1185.1 236.6L1185.6 237.3L1186.2 238.0L1186.8 238.5L1187.7 239.0L1188.6 239.3L1189.6 239.6L1190.5 240.0L1191.1 240.4L1191.8 240.9L1192.4 241.4L1193.0 242.0L1193.5 242.7L1194.0 243.4L1194.4 244.0L1194.7 244.7L1194.9 245.5L1195.2 246.3L1195.4 247.1L1195.7 247.9L1195.9 248.8L1196.1 249.7L1196.3 250.6L1196.5 251.5L1196.7 252.2L1196.8 253.0L1197.0 253.7L1197.1 254.5L1197.3 255.3L1197.4 256.1L1197.6 256.9L1197.7 257.8L1197.8 258.6L1197.9 259.4L1198.1 260.2L1198.2 261.1L1198.3 261.9L1198.5 262.7L1198.6 263.5L1198.7 264.3L1198.9 265.1L1199.0 265.9L1199.2 266.7L1199.3 267.5L1199.4 268.3L1199.6 269.1L1199.7 269.9L1199.9 270.7L1200.0 271.5L1200.1 272.4L1200.3 273.2L1200.4 274.0L1200.5 274.8L1200.6 275.6L1200.7 276.4L1200.8 277.2L1200.9 278.1L1201.0 278.9L1201.1 279.7L1201.2 280.6L1201.2 281.4L1201.3 282.2L1201.4 283.0L1201.5 283.9L1201.5 284.7L1201.6 285.5L1201.7 286.4L1201.7 287.2L1201.8 288.0L1201.9 288.8L1201.9 289.6L1202.0 290.4L1202.0 291.2L1202.1 291.9L1202.1 292.7L1202.2 293.5L1202.2 294.3L1202.3 295.0L1202.3 295.8L1202.4 296.6L1202.4 297.4L1202.5 298.3L1202.5 299.1L1202.6 300.0L1202.7 300.7L1202.7 301.5L1202.8 302.3L1202.9 303.0L1203.0 303.8L1203.0 304.6L1203.1 305.4L1203.2 306.3L1203.3 307.1L1203.4 307.9L1203.5 308.7L1203.5 309.6L1203.6 310.4L1203.7 311.3L1203.8 312.1L1203.9 313.0L1204.0 313.8L1204.1 314.6L1204.2 315.5L1204.2 316.3L1204.3 317.2L1204.4 318.0L1204.5 318.8L1204.5 319.6L1204.6 320.4L1204.7 321.2L1204.8 322.0L1204.8 322.8L1204.9 323.6L1205.0 324.4L1205.0 325.2L1205.1 326.0L1205.2 326.8L1205.2 327.6L1205.3 328.5L1205.4 329.3L1205.5 330.1L1205.5 330.9L1205.6 331.8L1205.7 332.6L1205.7 333.5L1205.8 334.3L1205.9 335.2L1205.9 336.1L1206.0 337.0L1206.1 337.7L1206.1 338.5L1206.2 339.2L1206.2 340.0L1206.3 340.7L1206.3 341.5L1206.4 342.3L1206.4 343.1L1206.5 343.9L1206.5 344.7L1206.6 345.5L1206.7 346.3L1206.7 347.1L1206.8 347.9L1206.8 348.7L1206.9 349.5L1206.9 350.3L1207.0 351.2L1207.0 352.0L1207.1 352.8L1207.1 353.7L1207.2 354.5L1207.3 355.3L1207.3 356.1L1207.4 357.0L1207.4 357.8L1207.5 358.6L1207.6 359.4L1207.6 360.2L1207.7 361.0L1207.7 361.8L1207.8 362.6L1207.9 363.4L1207.9 364.2L1208.0 365.0L1208.1 365.8L1208.1 366.7L1208.2 367.5L1208.3 368.4L1208.4 369.2L1208.4 370.1L1208.5 370.9L1208.6 371.8L1208.6 372.6L1208.7 373.5L1208.8 374.3L1208.9 375.2L1208.9 376.0L1209.0 376.9L1209.1 377.7L1209.2 378.5L1209.2 379.4L1209.3 380.2L1209.4 381.0L1209.5 381.8L1209.6 382.6L1209.6 383.4L1209.7 384.2L1209.8 385.0L1209.9 385.7L1210.0 386.5L1210.1 387.2L1210.2 387.9L1210.3 388.6L1210.4 389.3L1210.5 390.0L1210.6 391.0L1210.8 392.0L1211.0 393.0L1211.1 394.1L1211.3 395.1L1211.4 396.2L1211.6 397.2L1211.8 398.1L1212.0 399.1L1212.1 399.9L1212.3 400.7L1212.5 401.3L1212.7 401.9L1212.8 402.3L1213.0 402.5L1213.2 402.6L1213.4 402.5L1213.6 402.3L1213.8 401.9L1214.0 401.3L1214.2 400.7L1214.4 399.9L1214.6 399.1L1214.8 398.1L1215.0 397.2L1215.2 396.1L1215.4 395.1L1215.6 394.0L1215.8 392.9L1215.9 391.8L1216.1 390.7L1216.3 389.7L1216.4 389.1L1216.5 388.4L1216.6 387.8L1216.7 387.1L1216.8 386.4L1216.9 385.7L1217.0 384.9L1217.1 384.2L1217.2 383.4L1217.3 382.6L1217.4 381.8L1217.5 381.0L1217.6 380.2L1217.6 379.4L1217.7 378.6L1217.8 377.7L1217.9 376.9L1218.0 376.0L1218.1 375.2L1218.1 374.3L1218.2 373.5L1218.3 372.6L1218.4 371.7L1218.5 370.9L1218.6 370.0L1218.6 369.1L1218.7 368.3L1218.8 367.4L1218.9 366.6L1219.0 365.7L1219.0 364.9L1219.1 364.0L1219.2 363.2L1219.3 362.4L1219.4 361.6L1219.5 360.8L1219.5 360.0L1219.6 359.2L1219.7 358.5L1219.8 357.7L1219.9 357.0L1220.0 356.1L1220.1 355.2L1220.2 354.3L1220.4 353.5L1220.5 352.6L1220.6 351.8L1220.7 350.9L1220.8 350.1L1221.0 349.2L1221.1 348.4L1221.2 347.6L1221.3 346.8L1221.4 346.0L1221.6 345.2L1221.7 344.4L1221.8 343.6L1221.9 342.8L1222.0 342.0L1222.2 341.2L1222.3 340.4L1222.4 339.6L1222.5 338.8L1222.6 338.0L1222.7 337.3L1222.8 336.5L1222.9 335.7L1223.0 334.9L1223.1 334.0L1223.2 333.2L1223.3 332.3L1223.4 331.5L1223.5 330.6L1223.6 329.8L1223.6 328.9L1223.7 328.1L1223.8 327.2L1223.9 326.4L1223.9 325.6L1224.0 324.7L1224.1 323.9L1224.2 323.1L1224.2 322.3L1224.3 321.5L1224.4 320.7L1224.5 319.9L1224.6 319.1L1224.6 318.3L1224.7 317.5L1224.8 316.8L1224.9 316.0L1225.0 315.1L1225.1 314.2L1225.2 313.3L1225.3 312.4L1225.3 311.5L1225.4 310.6L1225.5 309.7L1225.6 308.9L1225.7 308.0L1225.8 307.2L1225.9 306.4L1226.0 305.6L1226.2 304.9L1226.4 304.1L1226.6 303.4L1226.8 302.8L1227.2 301.9L1227.6 301.1L1228.0 300.3L1228.5 299.6L1229.0 298.9L1229.5 298.3L1230.1 297.7L1230.6 297.2L1231.3 296.6L1232.1 296.1L1232.8 295.7L1233.6 295.4L1234.3 295.3L1235.1 295.5L1235.9 295.9L1236.6 296.4L1237.2 297.2L1237.5 297.8L1237.8 298.4L1238.0 299.1L1238.2 300.0L1238.4 300.8L1238.5 301.8L1238.6 302.7L1238.8 303.7L1238.9 304.7L1239.0 305.6L1239.1 306.6L1239.2 307.4L1239.3 308.1L1239.3 309.0L1239.4 309.8L1239.5 310.6L1239.5 311.5L1239.5 312.4L1239.6 313.2L1239.6 314.1L1239.6 315.0L1239.7 315.8L1239.7 316.7L1239.8 317.6L1239.8 318.4L1239.9 319.2L1239.9 320.0L1240.0 320.8L1240.1 321.7L1240.2 322.6L1240.3 323.5L1240.4 324.4L1240.5 325.3L1240.6 326.1L1240.7 326.9L1240.8 327.8L1241.0 328.6L1241.1 329.4L1241.3 330.2L1241.5 331.0L1241.7 331.8L1242.0 332.7L1242.2 333.4L1242.5 334.2L1242.8 335.0L1243.1 335.8L1243.4 336.5L1243.8 337.3L1244.1 338.1L1244.4 338.9L1244.7 339.6L1245.0 340.3L1245.3 341.0L1245.6 341.6L1246.0 342.3L1246.3 342.9L1246.6 343.6L1246.9 344.4L1247.3 345.2L1247.6 346.0L1247.8 347.0L1248.1 348.0L1248.2 348.5L1248.3 349.0L1248.4 349.6L1248.5 350.2L1248.6 350.8L1248.7 351.4L1248.8 352.0L1248.9 352.7L1249.0 353.4L1249.1 354.1L1249.2 354.8L1249.2 355.6L1249.3 356.3L1249.4 357.1L1249.4 357.9L1249.5 358.7L1249.6 359.5L1249.6 360.3L1249.7 361.1L1249.7 362.0L1249.8 362.8L1249.9 363.7L1249.9 364.6L1250.0 365.5L1250.0 366.4L1250.1 367.3L1250.1 368.2L1250.2 369.1L1250.2 370.0L1250.2 370.9L1250.3 371.8L1250.3 372.7L1250.4 373.7L1250.4 374.6L1250.5 375.5L1250.5 376.4L1250.6 377.3L1250.6 378.2L1250.7 379.1L1250.7 380.1L1250.8 381.0L1250.8 381.8L1250.9 382.7L1250.9 383.6L1251.0 384.5L1251.0 385.3L1251.1 386.2L1251.1 387.0L1251.2 387.9L1251.3 388.7L1251.3 389.5L1251.4 390.3L1251.5 391.1L1251.5 391.8L1251.6 392.6L1251.7 393.3L1251.8 394.2L1251.9 395.1L1252.0 396.1L1252.1 397.1L1252.2 398.1L1252.3 399.1L1252.5 400.1L1252.6 401.2L1252.7 402.2L1252.8 403.3L1253.0 404.3L1253.1 405.4L1253.2 406.5L1253.3 407.5L1253.5 408.6L1253.6 409.6L1253.7 410.6L1253.8 411.6L1254.0 412.6L1254.1 413.5L1254.2 414.4L1254.3 415.3L1254.5 416.2L1254.6 417.0L1254.7 417.8L1254.8 418.5L1255.0 419.2L1255.1 419.8L1255.2 420.4L1255.3 420.9L1255.4 421.4L1255.5 421.8L1255.6 422.1L1255.7 422.4L1255.8 422.5L1255.9 422.7L1256.0 422.7L1256.1 422.6L1256.2 422.5L1256.3 422.2L1256.4 421.8L1256.5 421.3L1256.6 420.8L1256.7 420.1L1256.8 419.4L1256.8 418.6L1256.9 417.8L1257.0 416.9L1257.1 415.9L1257.2 415.0L1257.2 413.9L1257.3 412.9L1257.4 411.8L1257.4 410.7L1257.5 409.7L1257.6 408.6L1257.7 407.5L1257.7 406.4L1257.8 405.4L1257.9 404.3L1257.9 403.4L1258.0 402.4L1258.1 401.7L1258.1 401.0L1258.1 400.3L1258.2 399.5L1258.2 398.8L1258.3 398.0L1258.3 397.3L1258.4 396.5L1258.4 395.7L1258.5 394.9L1258.5 394.1L1258.5 393.3L1258.6 392.4L1258.6 391.6L1258.6 390.8L1258.7 389.9L1258.7 389.1L1258.7 388.3L1258.8 387.4L1258.8 386.6L1258.9 385.7L1258.9 384.8L1258.9 384.0L1259.0 383.1L1259.0 382.3L1259.0 381.4L1259.1 380.6L1259.1 379.7L1259.1 378.9L1259.2 378.0L1259.2 377.2L1259.3 376.3L1259.3 375.5L1259.3 374.7L1259.4 373.8L1259.4 373.0L1259.5 372.2L1259.5 371.4L1259.6 370.6L1259.6 369.8L1259.7 369.1L1259.7 368.3L1259.8 367.6L1259.8 366.8L1259.9 366.1L1260.0 365.2L1260.1 364.3L1260.1 363.4L1260.2 362.4L1260.3 361.5L1260.4 360.6L1260.4 359.6L1260.5 358.7L1260.6 357.8L1260.7 356.8L1260.8 355.9L1260.8 355.0L1260.9 354.1L1261.0 353.2L1261.1 352.4L1261.2 351.5L1261.3 350.7L1261.4 349.8L1261.5 349.0L1261.6 348.2L1261.7 347.5L1261.8 346.8L1261.9 346.1L1262.0 345.4L1262.1 344.7L1262.2 344.1L1262.3 343.5L1262.5 343.0L1262.6 342.5L1262.9 341.2L1263.3 340.1L1263.7 339.1L1264.1 338.4L1264.5 338.1L1265.0 338.4L1265.5 339.2L1266.0 340.3L1266.5 341.5L1266.7 342.0L1266.9 342.6L1267.1 343.3L1267.3 343.9L1267.4 344.6L1267.6 345.4L1267.8 346.2L1268.0 347.0L1268.2 347.8L1268.3 348.7L1268.5 349.6L1268.7 350.5L1268.8 351.4L1269.0 352.3L1269.1 353.2L1269.3 354.2L1269.5 355.1L1269.6 356.1L1269.8 357.0L1269.9 357.7L1270.0 358.4L1270.1 359.2L1270.2 360.0L1270.3 360.8L1270.4 361.6L1270.5 362.4L1270.6 363.3L1270.7 364.1L1270.8 365.0L1270.9 365.9L1271.0 366.8L1271.0 367.7L1271.1 368.5L1271.2 369.4L1271.3 370.3L1271.4 371.2L1271.5 372.1L1271.6 373.0L1271.7 373.9L1271.8 374.8L1271.9 375.6L1272.0 376.5L1272.1 377.3L1272.2 378.1L1272.3 378.9L1272.4 379.6L1272.6 380.4L1272.7 381.1L1272.8 381.8L1273.0 382.4L1273.2 383.1L1273.3 383.6L1273.5 384.2L1273.9 385.2L1274.3 386.3L1274.7 387.3L1275.1 388.3L1275.5 389.2L1276.0 390.0L1276.4 390.6L1276.9 391.1L1277.3 391.4L1277.7 391.5L1278.0 391.4L1278.2 391.2L1278.5 390.8L1278.7 390.4L1279.0 389.8L1279.2 389.2L1279.4 388.4L1279.7 387.6L1279.9 386.8L1280.1 385.8L1280.4 384.9L1280.6 383.9L1280.8 382.9L1281.0 381.9L1281.3 380.8L1281.5 379.8L1281.7 378.8L1281.9 377.9L1282.1 376.9L1282.3 376.0L1282.5 375.2L1282.7 374.4L1282.9 373.6L1283.0 372.7L1283.2 371.9L1283.4 371.0L1283.5 370.1L1283.7 369.1L1283.8 368.2L1284.0 367.3L1284.1 366.4L1284.3 365.5L1284.4 364.6L1284.6 363.7L1284.7 362.8L1284.9 362.0L1285.0 361.2L1285.2 360.4L1285.3 359.7L1285.5 359.1L1285.7 358.5L1285.8 357.9L1286.0 357.4L1286.2 357.0L1286.8 355.9L1287.4 355.2L1288.0 355.0L1288.2 355.1L1288.3 355.3L1288.4 355.6L1288.5 356.1L1288.7 356.6L1288.7 357.1L1288.8 357.8L1288.9 358.5L1289.0 359.3L1289.0 360.1L1289.1 361.0L1289.1 362.0L1289.2 362.9L1289.2 363.9L1289.3 365.0L1289.3 366.0L1289.4 367.1L1289.4 368.1L1289.4 369.2L1289.5 370.2L1289.5 371.3L1289.6 372.3L1289.7 373.3L1289.7 374.3L1289.8 375.2L1289.9 375.9L1289.9 376.7L1290.0 377.4L1290.0 378.2L1290.1 379.0L1290.2 379.9L1290.2 380.7L1290.3 381.5L1290.3 382.4L1290.4 383.3L1290.5 384.1L1290.5 385.0L1290.6 385.9L1290.6 386.8L1290.7 387.7L1290.8 388.6L1290.8 389.5L1290.9 390.4L1290.9 391.3L1291.0 392.2L1291.1 393.1L1291.1 394.0L1291.2 394.9L1291.3 395.8L1291.3 396.6L1291.4 397.5L1291.5 398.3L1291.5 399.2L1291.6 400.0L1291.7 400.8L1291.8 401.6L1291.8 402.4L1291.9 403.1L1292.0 403.9L1292.1 404.6L1292.2 405.3L1292.2 405.9L1292.3 406.6L1292.4 407.2L1292.5 407.8L1292.7 408.9L1292.8 410.0L1293.0 411.2L1293.2 412.3L1293.4 413.4L1293.6 414.4L1293.8 415.3L1294.0 416.1L1294.2 416.8L1294.4 417.3L1294.6 417.6L1294.8 417.7L1295.0 417.6L1295.1 417.4L1295.3 417.1L1295.5 416.6L1295.6 416.0L1295.8 415.4L1296.0 414.6L1296.2 413.8L1296.4 412.9L1296.5 411.9L1296.7 410.9L1296.9 409.8L1297.1 408.8L1297.2 407.7L1297.4 406.6L1297.6 405.5L1297.7 404.4L1297.9 403.4L1298.0 402.4L1298.1 401.8L1298.2 401.1L1298.3 400.4L1298.3 399.8L1298.4 399.1L1298.5 398.4L1298.6 397.7L1298.6 396.9L1298.7 396.2L1298.8 395.5L1298.8 394.7L1298.9 393.9L1299.0 393.2L1299.0 392.4L1299.1 391.6L1299.1 390.8L1299.2 390.0L1299.2 389.2L1299.3 388.4L1299.4 387.6L1299.4 386.7L1299.5 385.9L1299.5 385.1L1299.6 384.2L1299.6 383.4L1299.7 382.5L1299.7 381.7L1299.8 380.8L1299.8 379.9L1299.9 379.1L1299.9 378.2L1300.0 377.3L1300.0 376.5L1300.1 375.6L1300.1 374.7L1300.2 373.9L1300.2 373.0L1300.3 372.1L1300.3 371.3L1300.4 370.4L1300.5 369.5L1300.5 368.7L1300.6 367.8L1300.6 367.0L1300.7 366.1L1300.8 365.3L1300.8 364.6L1300.9 363.8L1300.9 363.0L1301.0 362.2L1301.0 361.4L1301.1 360.6L1301.2 359.8L1301.2 359.0L1301.3 358.1L1301.3 357.3L1301.4 356.5L1301.4 355.7L1301.5 354.8L1301.6 354.0L1301.6 353.2L1301.7 352.3L1301.7 351.5L1301.8 350.6L1301.8 349.8L1301.9 348.9L1301.9 348.1L1302.0 347.2L1302.1 346.4L1302.1 345.5L1302.2 344.7L1302.2 343.8L1302.3 343.0L1302.4 342.1L1302.4 341.3L1302.5 340.4L1302.5 339.6L1302.6 338.8L1302.7 337.9L1302.7 337.1L1302.8 336.3L1302.9 335.4L1302.9 334.6L1303.0 333.8L1303.1 333.0L1303.1 332.1L1303.2 331.3L1303.3 330.5L1303.3 329.7L1303.4 329.0L1303.5 328.2L1303.6 327.4L1303.6 326.6L1303.7 325.8L1303.8 325.1L1303.9 324.3L1304.0 323.6L1304.0 322.9L1304.1 322.1L1304.2 321.4L1304.3 320.7L1304.4 319.8L1304.5 318.9L1304.6 318.0L1304.8 317.1L1304.9 316.2L1305.0 315.3L1305.1 314.5L1305.2 313.6L1305.3 312.7L1305.5 311.9L1305.6 311.0L1305.7 310.1L1305.8 309.3L1306.0 308.5L1306.1 307.6L1306.2 306.8L1306.4 306.0L1306.5 305.2L1306.6 304.4L1306.8 303.6L1306.9 302.8L1307.1 302.0L1307.2 301.3L1307.3 300.5L1307.5 299.8L1307.6 299.0L1307.8 298.3L1307.9 297.6L1308.1 296.9L1308.3 296.2L1308.4 295.5L1308.6 294.8L1308.7 294.1L1308.9 293.5L1309.2 292.5L1309.4 291.6L1309.7 290.7L1309.9 289.8L1310.2 288.9L1310.5 288.0L1310.7 287.1L1311.0 286.3L1311.3 285.5L1311.6 284.7L1311.9 284.0L1312.2 283.2L1312.5 282.6L1312.8 281.9L1313.1 281.3L1313.4 280.8L1314.0 279.8L1314.6 278.8L1315.2 278.0L1315.8 277.5L1316.4 277.4L1316.7 277.5L1317.0 277.8L1317.3 278.2L1317.6 278.8L1317.8 279.4L1318.1 280.1L1318.4 280.9L1318.7 281.8L1318.9 282.8L1319.2 283.8L1319.4 284.8L1319.7 285.8L1319.9 286.9L1320.2 287.9L1320.4 288.9L1320.6 289.9L1320.7 290.5L1320.9 291.2L1321.0 291.9L1321.1 292.6L1321.3 293.3L1321.4 294.0L1321.5 294.7L1321.6 295.5L1321.7 296.3L1321.8 297.0L1321.9 297.8L1322.0 298.6L1322.1 299.5L1322.2 300.3L1322.3 301.1L1322.4 302.0L1322.5 302.8L1322.6 303.7L1322.7 304.5L1322.8 305.4L1322.9 306.3L1323.0 307.1L1323.1 308.0L1323.1 308.9L1323.2 309.8L1323.3 310.6L1323.4 311.5L1323.5 312.4L1323.6 313.2L1323.6 314.1L1323.7 314.9L1323.8 315.8L1323.9 316.6L1324.0 317.5L1324.0 318.3L1324.1 319.1L1324.2 319.9L1324.3 320.7L1324.4 321.5L1324.5 322.3L1324.6 323.2L1324.7 324.0L1324.7 324.8L1324.8 325.6L1324.9 326.4L1325.0 327.2L1325.1 328.0L1325.2 328.8L1325.2 329.5L1325.3 330.3L1325.4 331.1L1325.5 331.9L1325.6 332.7L1325.6 333.5L1325.7 334.3L1325.8 335.0L1325.9 335.8L1326.0 336.6L1326.0 337.4L1326.1 338.2L1326.2 339.0L1326.3 339.8L1326.3 340.6L1326.4 341.4L1326.5 342.2L1326.6 343.0L1326.6 343.8L1326.7 344.6L1326.8 345.4L1326.9 346.2L1326.9 347.1L1327.0 347.9L1327.1 348.7L1327.1 349.4L1327.2 350.2L1327.3 351.0L1327.3 351.7L1327.4 352.5L1327.5 353.3L1327.5 354.0L1327.6 354.8L1327.7 355.6L1327.8 356.3L1327.8 357.1L1327.9 357.9L1328.0 358.7L1328.0 359.4L1328.1 360.2L1328.2 361.0L1328.2 361.8L1328.3 362.5L1328.4 363.3L1328.4 364.1L1328.5 364.9L1328.5 365.7L1328.6 366.5L1328.7 367.3L1328.7 368.1L1328.8 368.9L1328.8 369.8L1328.9 370.6L1329.0 371.4L1329.0 372.2L1329.1 373.1L1329.1 373.9L1329.2 374.8L1329.2 375.6L1329.3 376.5L1329.4 377.4L1329.4 378.2L1329.5 379.1L1329.5 380.0L1329.5 380.7L1329.6 381.4L1329.6 382.2L1329.6 382.9L1329.7 383.7L1329.7 384.4L1329.7 385.2L1329.8 385.9L1329.8 386.7L1329.8 387.5L1329.9 388.3L1329.9 389.1L1329.9 389.9L1330.0 390.7L1330.0 391.4L1330.0 392.3L1330.0 393.1L1330.1 393.9L1330.1 394.7L1330.1 395.5L1330.1 396.3L1330.2 397.1L1330.2 398.0L1330.2 398.8L1330.2 399.6L1330.3 400.5L1330.3 401.3L1330.3 402.1L1330.3 403.0L1330.4 403.8L1330.4 404.7L1330.4 405.5L1330.4 406.3L1330.4 407.2L1330.5 408.0L1330.5 408.9L1330.5 409.7L1330.5 410.5L1330.5 411.4L1330.6 412.2L1330.6 413.1L1330.6 413.9L1330.6 414.7L1330.6 415.6L1330.6 416.4L1330.7 417.2L1330.7 418.0L1330.7 418.9L1330.7 419.7L1330.7 420.5L1330.8 421.3L1330.8 422.1L1330.8 422.9L1330.8 423.7L1330.8 424.5L1330.9 425.3L1330.9 426.1L1330.9 426.9L1330.9 427.7L1331.0 428.5L1331.0 429.2L1331.0 430.0L1331.0 430.8L1331.1 431.7L1331.1 432.5L1331.1 433.3L1331.1 434.1L1331.2 435.0L1331.2 435.8L1331.2 436.6L1331.2 437.4L1331.3 438.2L1331.3 438.9L1331.3 439.7L1331.3 440.5L1331.4 441.3L1331.4 442.1L1331.4 442.8L1331.4 443.6L1331.5 444.4L1331.5 445.2L1331.5 445.9L1331.5 446.7L1331.6 447.5L1331.6 448.2L1331.6 449.0L1331.6 449.8L1331.6 450.5L1331.7 451.3L1331.7 452.1L1331.7 452.9L1331.7 453.6L1331.8 454.4L1331.8 455.2L1331.8 456.0L1331.8 456.8L1331.9 457.5L1331.9 458.3L1331.9 459.1L1331.9 459.9L1332.0 460.7L1332.0 461.6L1332.0 462.4L1332.0 463.2L1332.0 464.0L1332.1 464.9L1332.1 465.7L1332.1 466.5L1332.1 467.4L1332.2 468.3L1332.2 469.1L1332.2 470.0L1332.2 470.7L1332.2 471.4L1332.3 472.2L1332.3 472.9L1332.3 473.6L1332.3 474.4L1332.3 475.1L1332.3 475.9L1332.4 476.6L1332.4 477.4L1332.4 478.2L1332.4 478.9L1332.4 479.7L1332.4 480.5L1332.4 481.2L1332.5 482.0L1332.5 482.8L1332.5 483.6L1332.5 484.3L1332.5 485.1L1332.5 485.9L1332.6 486.7L1332.6 487.5L1332.6 488.3L1332.6 489.1L1332.6 489.9L1332.6 490.7L1332.6 491.5L1332.7 492.3L1332.7 493.1L1332.7 493.9L1332.7 494.7L1332.7 495.6L1332.7 496.4L1332.7 497.2L1332.8 498.0L1332.8 498.8L1332.8 499.7L1332.8 500.5L1332.8 501.3L1332.8 502.1L1332.8 502.9L1332.9 503.8L1332.9 504.6L1332.9 505.4L1332.9 506.2L1332.9 507.1L1332.9 507.9L1332.9 508.7L1333.0 509.6L1333.0 510.4L1333.0 511.2L1333.0 512.0L1333.0 512.9L1333.0 513.7L1333.0 514.5L1333.1 515.3L1333.1 516.2L1333.1 517.0L1333.1 517.8L1333.1 518.6L1333.1 519.4L1333.1 520.3L1333.1 521.1L1333.2 521.9L1333.2 522.7L1333.2 523.5L1333.2 524.4L1333.2 525.2L1333.2 526.0L1333.2 526.8L1333.3 527.6L1333.3 528.4L1333.3 529.2L1333.3 530.0L1333.3 530.8L1333.3 531.6L1333.3 532.4L1333.4 533.2L1333.4 534.0L1333.4 534.8L1333.4 535.6L1333.4 536.4L1333.4 537.2L1333.4 538.0L1333.5 538.9L1333.5 539.7L1333.5 540.5L1333.5 541.3L1333.5 542.1L1333.5 542.9L1333.5 543.7L1333.5 544.5L1333.6 545.3L1333.6 546.1L1333.6 547.0L1333.6 547.8L1333.6 548.6L1333.6 549.4L1333.6 550.2L1333.7 551.0L1333.7 551.8L1333.7 552.6L1333.7 553.5L1333.7 554.3L1333.7 555.1L1333.7 555.9L1333.7 556.7L1333.8 557.5L1333.8 558.3L1333.8 559.1L1333.8 559.9L1333.8 560.7L1333.8 561.6L1333.8 562.4L1333.9 563.2L1333.9 564.0L1333.9 564.8L1333.9 565.6L1333.9 566.4L1333.9 567.2L1333.9 568.0L1333.9 568.8L1334.0 569.6L1334.0 570.4L1334.0 571.2L1334.0 572.0L1334.0 572.8L1334.0 573.6L1334.0 574.4L1334.1 575.2L1334.1 576.0L1334.1 576.8L1334.1 577.6L1334.1 578.3L1334.1 579.1L1334.1 579.9L1334.1 580.7L1334.2 581.5L1334.2 582.3L1334.2 583.1L1334.2 583.8L1334.2 584.6L1334.2 585.4L1334.2 586.2L1334.2 586.9L1334.3 587.7L1334.3 588.5L1334.3 589.2L1334.3 590.0L1334.3 590.8L1334.3 591.7L1334.3 592.5L1334.4 593.4L1334.4 594.2L1334.4 595.0L1334.4 595.8L1334.4 596.7L1334.4 597.5L1334.4 598.3L1334.5 599.1L1334.5 600.0L1334.5 600.8L1334.5 601.6L1334.5 602.4L1334.5 603.2L1334.5 604.0L1334.6 604.8L1334.6 605.6L1334.6 606.4L1334.6 607.3L1334.6 608.1L1334.6 608.9L1334.6 609.7L1334.7 610.5L1334.7 611.3L1334.7 612.1L1334.7 612.9L1334.7 613.7L1334.7 614.5L1334.7 615.3L1334.8 616.0L1334.8 616.8L1334.8 617.6L1334.8 618.4L1334.8 619.2L1334.8 620.0L1334.8 620.8L1334.9 621.6L1334.9 622.4L1334.9 623.2L1334.9 624.0L1334.9 624.8L1334.9 625.6L1334.9 626.4L1335.0 627.2L1335.0 628.0L1335.0 628.8L1335.0 629.6L1335.0 630.4L1335.0 631.2L1335.0 632.0L1335.1 632.8L1335.1 633.6L1335.1 634.4L1335.1 635.2L1335.1 636.0L1335.1 636.8L1335.2 637.6L1335.2 638.4L1335.2 639.2L1335.2 640.0L1335.2 640.8L1335.2 641.6L1335.2 642.4L1335.3 643.2L1335.3 644.0L1335.3 644.8L1335.3 645.6L1335.3 646.4L1335.3 647.2L1335.3 648.0L1335.4 648.8L1335.4 649.6L1335.4 650.4L1335.4 651.2L1335.4 652.0L1335.4 652.8L1335.4 653.6L1335.5 654.4L1335.5 655.2L1335.5 656.0L1335.5 656.8L1335.5 657.6L1335.5 658.4L1335.5 659.2L1335.6 659.9L1335.6 660.7L1335.6 661.5L1335.6 662.3L1335.6 663.1L1335.6 663.9L1335.6 664.7L1335.7 665.5L1335.7 666.3L1335.7 667.1L1335.7 667.9L1335.7 668.7L1335.7 669.5L1335.7 670.4L1335.8 671.2L1335.8 672.0L1335.8 672.8L1335.8 673.6L1335.8 674.4L1335.8 675.2L1335.9 676.0L1335.9 676.8L1335.9 677.7L1335.9 678.5L1335.9 679.3L1335.9 680.1L1336.0 680.9L1336.0 681.8L1336.0 682.6L1336.0 683.4L1336.0 684.3L1336.1 685.1L1336.1 685.9L1336.1 686.8L1336.1 687.6L1336.1 688.5L1336.2 689.3L1336.2 690.1L1336.2 691.0L1336.2 691.8L1336.2 692.5L1336.3 693.3L1336.3 694.1L1336.3 694.9L1336.3 695.6L1336.3 696.4L1336.4 697.2L1336.4 698.0L1336.4 698.8L1336.4 699.6L1336.4 700.4L1336.4 701.2L1336.5 702.0L1336.5 702.8L1336.5 703.6L1336.5 704.4L1336.5 705.2L1336.6 706.0L1336.6 706.8L1336.6 707.6L1336.6 708.4L1336.6 709.2L1336.7 710.1L1336.7 710.9L1336.7 711.7L1336.7 712.5L1336.7 713.3L1336.8 714.2L1336.8 715.0L1336.8 715.8L1336.8 716.6L1336.8 717.4L1336.9 718.3L1336.9 719.1L1336.9 719.9L1336.9 720.7L1336.9 721.6L1337.0 722.4L1337.0 723.2L1337.0 724.1L1337.0 724.9L1337.1 725.7L1337.1 726.5L1337.1 727.4L1337.1 728.2L1337.2 729.0L1337.2 729.8L1337.2 730.7L1337.2 731.5L1337.3 732.3L1337.3 733.1L1337.3 733.9L1337.4 734.8L1337.4 735.6L1337.4 736.4L1337.4 737.2L1337.5 738.0L1337.5 738.8L1337.5 739.6L1337.6 740.5L1337.6 741.3L1337.6 742.1L1337.7 742.9L1337.7 743.7L1337.7 744.5L1337.8 745.3L1337.8 746.1L1337.8 746.9L1337.9 747.7L1337.9 748.4L1338.0 749.2L1338.0 750.0L1338.0 750.8L1338.1 751.6L1338.1 752.4L1338.2 753.1L1338.2 753.9L1338.2 754.7L1338.3 755.6L1338.3 756.4L1338.4 757.3L1338.4 758.1L1338.5 758.9L1338.6 759.8L1338.6 760.6L1338.7 761.5L1338.7 762.3L1338.8 763.1L1338.8 764.0L1338.9 764.8L1338.9 765.6L1339.0 766.4L1339.1 767.3L1339.1 768.1L1339.2 768.9L1339.2 769.8L1339.3 770.6L1339.4 771.4L1339.4 772.2L1339.5 773.0L1339.6 773.9L1339.6 774.7L1339.7 775.5L1339.8 776.3L1339.8 777.1L1339.9 777.9L1340.0 778.7L1340.0 779.6L1340.1 780.4L1340.2 781.2L1340.2 782.0L1340.3 782.8L1340.4 783.6L1340.4 784.4L1340.5 785.2L1340.6 786.0L1340.6 786.8L1340.7 787.6L1340.8 788.4L1340.9 789.2L1340.9 790.0L1341.0 790.8L1341.1 791.6L1341.1 792.4L1341.2 793.1L1341.3 793.9L1341.3 794.7L1341.4 795.5L1341.5 796.3L1341.6 797.1L1341.6 797.8L1341.7 798.6L1341.8 799.4L1341.8 800.2L1341.9 800.9L1342.0 801.7L1342.1 802.5L1342.1 803.2L1342.2 804.0L1342.3 804.8L1342.3 805.5L1342.4 806.3L1342.5 807.2L1342.6 808.0L1342.6 808.9L1342.7 809.7L1342.8 810.6L1342.9 811.4L1342.9 812.2L1343.0 813.1L1343.1 813.9L1343.2 814.8L1343.3 815.6L1343.3 816.5L1343.4 817.3L1343.5 818.2L1343.6 819.0L1343.7 819.8L1343.8 820.7L1343.8 821.5L1343.9 822.3L1344.0 823.2L1344.1 824.0L1344.2 824.8L1344.2 825.6L1344.3 826.5L1344.4 827.3L1344.5 828.1L1344.6 828.9L1344.7 829.7L1344.7 830.5L1344.8 831.3L1344.9 832.2L1345.0 833.0L1345.1 833.8L1345.1 834.5L1345.2 835.3L1345.3 836.1L1345.4 836.9L1345.5 837.7L1345.6 838.5L1345.6 839.2L1345.7 840.0L1345.8 840.8L1345.9 841.5L1346.0 842.3L1346.0 843.0L1346.1 843.8L1346.2 844.5L1346.3 845.3L1346.4 846.0L1346.4 846.8L1346.5 847.5L1346.6 848.2L1346.7 849.1L1346.8 850.0L1346.9 850.9L1347.0 851.7L1347.1 852.6L1347.2 853.5L1347.3 854.3L1347.4 855.2L1347.5 856.1L1347.6 856.9L1347.7 857.8L1347.8 858.6L1347.9 859.4L1347.9 860.3L1348.0 861.1L1348.1 861.9L1348.2 862.7L1348.3 863.6L1348.4 864.4L1348.5 865.2L1348.6 865.9L1348.7 866.7L1348.8 867.5L1348.9 868.3L1349.0 869.0L1349.1 869.8L1349.2 870.5L1349.3 871.3L1349.4 872.0L1349.4 872.7L1349.5 873.4L1349.6 874.1L1349.7 874.8L1349.8 875.5L1349.9 876.5L1350.0 877.5L1350.2 878.6L1350.3 879.6L1350.4 880.7L1350.5 881.8L1350.6 882.9L1350.7 883.9L1350.8 885.0L1350.9 885.9L1351.0 886.8L1351.1 887.6L1351.3 888.4L1351.4 889.0L1351.5 889.5L1351.6 889.9L1351.8 890.1L1351.9 890.2L1352.0 890.1L1352.2 889.9L1352.4 889.5L1352.5 889.1L1352.7 888.5L1352.9 887.7L1353.1 887.0L1353.3 886.1L1353.4 885.1L1353.6 884.1L1353.8 883.1L1354.0 882.0L1354.2 880.9L1354.4 879.8L1354.5 878.7L1354.7 877.6L1354.8 876.5L1355.0 875.5L1355.1 874.9L1355.2 874.2L1355.3 873.6L1355.3 872.9L1355.4 872.2L1355.5 871.6L1355.6 870.9L1355.7 870.1L1355.7 869.4L1355.8 868.7L1355.9 867.9L1356.0 867.2L1356.0 866.4L1356.1 865.6L1356.2 864.8L1356.3 864.1L1356.3 863.2L1356.4 862.4L1356.5 861.6L1356.5 860.8L1356.6 860.0L1356.7 859.1L1356.7 858.3L1356.8 857.5L1356.9 856.6L1356.9 855.8L1357.0 854.9L1357.0 854.0L1357.1 853.2L1357.2 852.3L1357.2 851.5L1357.3 850.6L1357.3 849.7L1357.4 848.9L1357.4 848.0L1357.5 847.1L1357.6 846.3L1357.6 845.4L1357.7 844.6L1357.7 843.7L1357.8 842.8L1357.8 842.0L1357.9 841.1L1357.9 840.3L1358.0 839.5L1358.0 838.6L1358.1 837.8L1358.2 837.0L1358.2 836.2L1358.3 835.4L1358.3 834.6L1358.3 833.9L1358.4 833.1L1358.4 832.3L1358.5 831.5L1358.5 830.7L1358.6 829.9L1358.6 829.1L1358.7 828.3L1358.7 827.5L1358.8 826.7L1358.8 825.9L1358.8 825.0L1358.9 824.2L1358.9 823.4L1359.0 822.6L1359.0 821.8L1359.0 821.0L1359.1 820.2L1359.1 819.4L1359.1 818.6L1359.2 817.8L1359.2 816.9L1359.3 816.1L1359.3 815.3L1359.3 814.5L1359.4 813.7L1359.4 812.9L1359.4 812.1L1359.5 811.2L1359.5 810.4L1359.6 809.6L1359.6 808.8L1359.6 808.0L1359.7 807.2L1359.7 806.4L1359.7 805.5L1359.8 804.7L1359.8 803.9L1359.9 803.1L1359.9 802.3L1359.9 801.5L1360.0 800.7L1360.0 799.8L1360.0 799.0L1360.1 798.2L1360.1 797.4L1360.2 796.6L1360.2 795.8L1360.2 795.0L1360.3 794.2L1360.3 793.4L1360.4 792.6L1360.4 791.8L1360.4 791.0L1360.5 790.2L1360.5 789.4L1360.6 788.5L1360.6 787.7L1360.7 786.9L1360.7 786.1L1360.7 785.3L1360.8 784.5L1360.8 783.7L1360.9 782.9L1360.9 782.1L1361.0 781.3L1361.0 780.5L1361.1 779.7L1361.1 778.9L1361.1 778.1L1361.2 777.3L1361.2 776.5L1361.3 775.7L1361.3 774.8L1361.4 774.0L1361.4 773.2L1361.4 772.4L1361.5 771.6L1361.5 770.8L1361.6 770.0L1361.6 769.2L1361.6 768.4L1361.7 767.6L1361.7 766.8L1361.8 766.0L1361.8 765.2L1361.8 764.4L1361.9 763.6L1361.9 762.8L1362.0 762.0L1362.0 761.2L1362.0 760.3L1362.1 759.5L1362.1 758.7L1362.1 757.9L1362.2 757.1L1362.2 756.3L1362.2 755.5L1362.3 754.7L1362.3 753.9L1362.3 753.1L1362.4 752.3L1362.4 751.5L1362.4 750.7L1362.4 749.9L1362.5 749.1L1362.5 748.3L1362.5 747.5L1362.6 746.6L1362.6 745.8L1362.6 745.0L1362.6 744.2L1362.6 743.4L1362.7 742.6L1362.7 741.8L1362.7 741.0L1362.7 740.2L1362.8 739.4L1362.8 738.6L1362.8 737.8L1362.8 737.0L1362.8 736.2L1362.9 735.4L1362.9 734.6L1362.9 733.8L1362.9 733.0L1362.9 732.1L1363.0 731.3L1363.0 730.5L1363.0 729.7L1363.0 728.9L1363.0 728.1L1363.0 727.3L1363.1 726.5L1363.1 725.7L1363.1 724.9L1363.1 724.1L1363.1 723.3L1363.2 722.5L1363.2 721.7L1363.2 720.9L1363.2 720.1L1363.2 719.3L1363.2 718.4L1363.3 717.6L1363.3 716.8L1363.3 716.0L1363.3 715.2L1363.3 714.4L1363.4 713.6L1363.4 712.8L1363.4 712.0L1363.4 711.2L1363.4 710.4L1363.5 709.6L1363.5 708.8L1363.5 708.0L1363.5 707.2L1363.5 706.4L1363.6 705.6L1363.6 704.8L1363.6 704.0L1363.6 703.2L1363.6 702.5L1363.6 701.7L1363.7 700.9L1363.7 700.1L1363.7 699.3L1363.7 698.5L1363.7 697.7L1363.7 697.0L1363.8 696.2L1363.8 695.4L1363.8 694.6L1363.8 693.8L1363.8 693.0L1363.8 692.2L1363.9 691.4L1363.9 690.6L1363.9 689.9L1363.9 689.1L1363.9 688.3L1363.9 687.5L1364.0 686.7L1364.0 685.9L1364.0 685.1L1364.0 684.2L1364.0 683.4L1364.1 682.6L1364.1 681.8L1364.1 681.0L1364.1 680.2L1364.1 679.3L1364.2 678.5L1364.2 677.7L1364.2 676.8L1364.2 676.0L1364.2 675.2L1364.3 674.3L1364.3 673.5L1364.3 672.6L1364.3 671.7L1364.4 670.9L1364.4 670.0L1364.4 669.3L1364.4 668.5L1364.5 667.8L1364.5 667.0L1364.5 666.3L1364.5 665.5L1364.6 664.7L1364.6 664.0L1364.6 663.2L1364.6 662.4L1364.7 661.6L1364.7 660.8L1364.7 660.0L1364.7 659.2L1364.8 658.4L1364.8 657.6L1364.8 656.8L1364.9 656.0L1364.9 655.2L1364.9 654.4L1364.9 653.6L1365.0 652.7L1365.0 651.9L1365.0 651.1L1365.1 650.3L1365.1 649.4L1365.1 648.6L1365.2 647.8L1365.2 646.9L1365.2 646.1L1365.2 645.3L1365.3 644.4L1365.3 643.6L1365.3 642.8L1365.4 641.9L1365.4 641.1L1365.4 640.3L1365.5 639.4L1365.5 638.6L1365.5 637.8L1365.6 636.9L1365.6 636.1L1365.6 635.3L1365.7 634.4L1365.7 633.6L1365.7 632.8L1365.8 631.9L1365.8 631.1L1365.8 630.3L1365.9 629.5L1365.9 628.6L1365.9 627.8L1366.0 627.0L1366.0 626.2L1366.0 625.4L1366.0 624.6L1366.1 623.8L1366.1 623.0L1366.1 622.2L1366.2 621.4L1366.2 620.6L1366.2 619.8L1366.3 619.0L1366.3 618.3L1366.3 617.5L1366.4 616.7L1366.4 616.0L1366.4 615.2L1366.5 614.5L1366.5 613.7L1366.5 613.0L1366.6 612.2L1366.6 611.5L1366.6 610.6L1366.7 609.7L1366.7 608.9L1366.8 608.0L1366.8 607.2L1366.8 606.3L1366.9 605.5L1366.9 604.6L1367.0 603.8L1367.0 603.0L1367.0 602.2L1367.1 601.4L1367.1 600.6L1367.2 599.7L1367.2 598.9L1367.2 598.1L1367.3 597.3L1367.3 596.6L1367.4 595.8L1367.4 595.0L1367.4 594.2L1367.5 593.4L1367.5 592.6L1367.6 591.8L1367.6 591.1L1367.6 590.3L1367.7 589.5L1367.7 588.7L1367.8 587.9L1367.8 587.2L1367.8 586.4L1367.9 585.6L1367.9 584.8L1368.0 584.0L1368.0 583.2L1368.0 582.4L1368.1 581.7L1368.1 580.9L1368.2 580.1L1368.2 579.3L1368.2 578.5L1368.3 577.6L1368.3 576.8L1368.4 576.0L1368.4 575.2L1368.4 574.4L1368.5 573.5L1368.5 572.7L1368.6 571.9L1368.6 571.0L1368.6 570.2L1368.7 569.5L1368.7 568.7L1368.7 567.9L1368.8 567.1L1368.8 566.3L1368.8 565.5L1368.9 564.7L1368.9 563.9L1368.9 563.1L1369.0 562.3L1369.0 561.5L1369.0 560.7L1369.1 559.9L1369.1 559.1L1369.1 558.3L1369.2 557.4L1369.2 556.6L1369.2 555.8L1369.3 555.0L1369.3 554.2L1369.3 553.3L1369.3 552.5L1369.4 551.7L1369.4 550.8L1369.4 550.0L1369.5 549.2L1369.5 548.3L1369.5 547.5L1369.6 546.7L1369.6 545.8L1369.6 545.0L1369.7 544.2L1369.7 543.3L1369.7 542.5L1369.7 541.7L1369.8 540.8L1369.8 540.0L1369.8 539.2L1369.9 538.4L1369.9 537.5L1369.9 536.7L1370.0 535.9L1370.0 535.1L1370.0 534.2L1370.1 533.4L1370.1 532.6L1370.1 531.8L1370.2 531.0L1370.2 530.2L1370.2 529.4L1370.3 528.6L1370.3 527.8L1370.3 527.0L1370.4 526.2L1370.4 525.4L1370.4 524.6L1370.5 523.8L1370.5 523.0L1370.5 522.2L1370.6 521.5L1370.6 520.7L1370.6 519.8L1370.7 519.0L1370.7 518.1L1370.7 517.3L1370.8 516.4L1370.8 515.5L1370.8 514.6L1370.9 513.7L1370.9 512.9L1370.9 512.0L1371.0 511.1L1371.0 510.2L1371.0 509.3L1371.0 508.4L1371.1 507.5L1371.1 506.6L1371.1 505.8L1371.2 504.9L1371.2 504.0L1371.2 503.1L1371.2 502.2L1371.3 501.4L1371.3 500.5L1371.3 499.6L1371.4 498.8L1371.4 497.9L1371.4 497.1L1371.5 496.2L1371.5 495.4L1371.5 494.6L1371.6 493.8L1371.6 493.0L1371.7 492.2L1371.7 491.4L1371.7 490.6L1371.8 489.8L1371.8 489.1L1371.9 488.3L1371.9 487.6L1372.0 486.9L1372.1 486.2L1372.1 485.5L1372.2 484.8L1372.2 484.1L1372.3 483.4L1372.4 482.8L1372.5 482.2L1372.5 481.6L1372.6 481.0L1372.7 480.4L1372.9 479.4L1373.0 478.4L1373.2 477.4L1373.3 476.5L1373.5 475.7L1373.7 474.8L1373.9 474.0L1374.1 473.2L1374.3 472.5L1374.5 471.7L1374.7 471.0L1374.9 470.3L1375.2 469.6L1375.4 469.0L1375.7 468.3L1376.1 467.5L1376.5 466.8L1377.0 466.1L1377.5 465.5L1378.0 464.8L1378.5 464.2L1378.9 463.5L1379.3 462.8L1379.7 462.0L1379.9 461.3L1380.1 460.6L1380.3 459.9L1380.5 459.2L1380.6 458.4L1380.8 457.7L1380.9 456.9L1381.0 456.1L1381.1 455.2L1381.2 454.4L1381.3 453.5L1381.4 452.7L1381.5 451.8L1381.6 450.9L1381.7 450.0L1381.8 449.3L1381.9 448.6L1382.0 447.9L1382.1 447.1L1382.2 446.4L1382.3 445.6L1382.3 444.8L1382.4 444.1L1382.5 443.3L1382.6 442.5L1382.7 441.7L1382.8 440.9L1382.9 440.1L1382.9 439.2L1383.0 438.4L1383.1 437.6L1383.2 436.7L1383.3 435.9L1383.3 435.1L1383.4 434.2L1383.5 433.4L1383.6 432.5L1383.6 431.7L1383.7 430.8L1383.8 430.0L1383.9 429.2L1383.9 428.5L1384.0 427.7L1384.1 426.9L1384.1 426.1L1384.2 425.3L1384.2 424.5L1384.3 423.7L1384.4 422.9L1384.4 422.1L1384.5 421.3L1384.5 420.5L1384.6 419.7L1384.6 418.8L1384.7 418.0L1384.7 417.2L1384.8 416.4L1384.9 415.6L1384.9 414.7L1385.0 413.9L1385.0 413.1L1385.1 412.3L1385.1 411.5L1385.2 410.6L1385.2 409.8L1385.3 409.0L1385.4 408.2L1385.4 407.4L1385.5 406.6L1385.5 405.8L1385.6 405.0L1385.7 404.2L1385.7 403.4L1385.8 402.6L1385.9 401.8L1385.9 401.0L1386.0 400.2L1386.1 399.3L1386.1 398.5L1386.2 397.8L1386.3 397.0L1386.3 396.2L1386.4 395.4L1386.5 394.6L1386.5 393.8L1386.6 393.0L1386.7 392.2L1386.7 391.4L1386.8 390.6L1386.9 389.8L1386.9 389.0L1387.0 388.2L1387.1 387.4L1387.2 386.6L1387.2 385.8L1387.3 385.0L1387.4 384.2L1387.5 383.4L1387.5 382.6L1387.6 381.8L1387.7 381.0L1387.7 380.2L1387.8 379.3L1387.9 378.5L1387.9 377.6L1388.0 376.8L1388.1 375.9L1388.1 375.0L1388.2 374.1L1388.3 373.3L1388.3 372.4L1388.4 371.5L1388.4 370.6L1388.5 369.7L1388.6 368.9L1388.6 368.0L1388.7 367.1L1388.8 366.3L1388.9 365.5L1388.9 364.7L1389.0 363.9L1389.1 363.1L1389.2 362.3L1389.3 361.6L1389.4 360.8L1389.5 360.1L1389.6 359.5L1389.7 358.8L1389.9 358.2L1390.0 357.6L1390.2 356.6L1390.4 355.6L1390.6 354.7L1390.9 353.8L1391.1 352.9L1391.4 352.2L1391.7 351.5L1392.0 350.8L1392.4 350.3L1392.9 349.9L1393.6 349.6L1394.5 349.6L1395.5 349.8L1396.6 350.0L1397.6 350.2L1398.5 350.2L1399.2 349.9L1399.7 349.5L1400.0 348.9L1400.4 348.2L1400.6 347.4L1400.9 346.6L1401.1 345.7L1401.3 344.8L1401.5 343.8L1401.7 342.9L1401.9 342.0L1402.1 341.1L1402.3 340.3L1402.6 339.3L1402.8 338.3L1403.0 337.2L1403.2 336.2L1403.4 335.1L1403.6 334.1L1403.9 333.1L1404.1 332.3L1404.3 331.6L1404.5 331.0L1404.8 330.6L1405.0 330.5L1405.3 330.7L1405.7 331.1L1406.1 331.8L1406.5 332.7L1406.8 333.8L1407.2 334.9L1407.5 336.0L1407.6 336.5L1407.8 337.1L1407.9 337.7L1408.0 338.3L1408.1 339.0L1408.2 339.7L1408.3 340.4L1408.4 341.2L1408.5 342.0L1408.6 342.8L1408.7 343.6L1408.7 344.4L1408.8 345.3L1408.9 346.1L1409.0 347.0L1409.0 347.9L1409.1 348.8L1409.2 349.7L1409.2 350.5L1409.3 351.4L1409.4 352.3L1409.4 353.2L1409.5 354.1L1409.6 355.0L1409.6 355.9L1409.7 356.7L1409.8 357.6L1409.8 358.4L1409.9 359.2L1410.0 360.0L1410.1 360.8L1410.2 361.7L1410.3 362.5L1410.3 363.4L1410.4 364.2L1410.5 365.0L1410.6 365.9L1410.7 366.8L1410.7 367.6L1410.8 368.5L1410.9 369.3L1411.0 370.1L1411.0 371.0L1411.1 371.8L1411.2 372.6L1411.3 373.5L1411.4 374.3L1411.5 375.1L1411.5 375.9L1411.6 376.7L1411.7 377.4L1411.8 378.2L1411.9 379.0L1412.0 379.7L1412.1 380.4L1412.2 381.1L1412.3 381.8L1412.4 382.8L1412.6 383.7L1412.7 384.7L1412.8 385.6L1413.0 386.6L1413.1 387.5L1413.3 388.4L1413.4 389.2L1413.6 390.0L1413.8 390.8L1414.0 391.5L1414.2 392.2L1414.4 392.8L1414.7 393.4L1415.2 394.3L1415.8 395.1L1416.5 395.8L1417.1 396.2L1417.6 396.3L1417.8 396.1L1418.1 395.8L1418.3 395.4L1418.5 394.8L1418.7 394.2L1418.9 393.4L1419.0 392.6L1419.2 391.7L1419.3 390.7L1419.5 389.7L1419.6 388.7L1419.7 387.6L1419.9 386.6L1420.0 385.5L1420.1 384.5L1420.2 383.6L1420.4 382.6L1420.5 381.8L1420.6 381.0L1420.7 380.2L1420.9 379.4L1421.0 378.6L1421.1 377.8L1421.2 377.0L1421.3 376.2L1421.4 375.4L1421.5 374.6L1421.5 373.7L1421.6 372.9L1421.7 372.1L1421.8 371.3L1421.9 370.5L1422.0 369.7L1422.2 368.9L1422.3 368.1L1422.4 367.3L1422.5 366.5L1422.7 365.7L1422.8 364.9L1423.0 364.1L1423.1 363.3L1423.3 362.6L1423.4 361.8L1423.6 361.0L1423.8 360.2L1423.9 359.4L1424.1 358.6L1424.3 357.8L1424.4 357.0L1424.6 356.2L1424.8 355.4L1425.0 354.5L1425.1 353.7L1425.3 352.8L1425.4 352.1L1425.6 351.3L1425.7 350.6L1425.9 349.8L1426.0 349.1L1426.1 348.3L1426.3 347.5L1426.4 346.7L1426.6 345.9L1426.7 345.1L1426.8 344.3L1427.0 343.5L1427.1 342.7L1427.3 341.9L1427.4 341.0L1427.6 340.2L1427.7 339.4L1427.9 338.6L1428.0 337.8L1428.1 337.0L1428.3 336.2L1428.4 335.4L1428.6 334.6L1428.7 333.8L1428.9 333.0L1429.0 332.3L1429.2 331.5L1429.4 330.7L1429.5 329.8L1429.7 328.9L1429.9 328.1L1430.0 327.2L1430.2 326.3L1430.4 325.5L1430.5 324.6L1430.7 323.7L1430.9 322.9L1431.1 322.0L1431.2 321.2L1431.4 320.4L1431.6 319.6L1431.8 318.8L1431.9 318.0L1432.1 317.3L1432.3 316.6L1432.5 315.9L1432.7 315.2L1432.9 314.6L1433.1 314.0L1433.4 313.0L1433.8 312.0L1434.2 311.0L1434.5 310.1L1434.9 309.3L1435.3 308.7L1435.6 308.3L1436.0 308.2L1436.3 308.4L1436.6 308.8L1436.9 309.4L1437.2 310.2L1437.4 311.1L1437.7 312.1L1438.0 313.1L1438.3 314.1L1438.6 315.1L1438.9 316.0L1439.2 316.7L1439.4 317.5L1439.7 318.2L1440.0 319.0L1440.3 319.7L1440.6 320.5L1440.9 321.3L1441.2 322.0L1441.5 322.8L1441.8 323.5L1442.1 324.3L1442.5 325.0L1442.8 325.7L1443.2 326.4L1443.6 327.2L1444.0 327.9L1444.5 328.6L1444.9 329.2L1445.3 329.9L1445.8 330.6L1446.2 331.3L1446.7 332.0L1447.2 332.7L1447.6 333.4L1448.0 334.1L1448.4 334.8L1448.8 335.4L1449.2 336.1L1449.7 336.8L1450.1 337.5L1450.5 338.3L1450.9 339.0L1451.3 339.7L1451.7 340.4L1452.2 341.1L1452.6 341.8L1453.0 342.5" fill="none" stroke="#fb3535" stroke-width="4.8" stroke-linejoin="round" stroke-linecap="butt"/>
<path d="M198.0 263.1L198.8 263.1L199.1 262.9L199.4 263.0L199.7 262.7L199.9 262.9L200.2 262.9L200.5 262.6L200.8 263.0L201.0 263.5L201.3 263.1L201.6 262.8L201.9 262.7L202.2 262.8L202.4 262.4L202.7 262.6L203.0 262.2L203.3 261.8L203.6 262.1L203.8 263.0L204.1 262.0L204.4 263.6L204.7 262.9L205.0 262.4L205.2 261.6L205.5 263.0L205.8 261.5L206.1 261.7L206.4 261.8L206.6 261.6L206.9 262.5L207.2 260.9L207.5 261.1L207.8 262.3L208.0 262.4L208.3 261.8L208.6 261.0L208.9 261.9L209.1 261.8L209.4 262.8L209.7 260.9L210.0 260.9L210.3 262.4L210.5 262.9L210.8 262.2L211.1 262.2L211.4 261.6L211.6 261.5L211.9 261.3L212.2 260.7L212.4 261.8L212.7 260.9L213.0 262.4L213.3 261.4L213.5 261.1L213.8 260.8L214.1 260.6L214.3 260.5L214.6 260.7L214.9 260.7L215.1 260.5L215.4 260.8L215.6 260.0L215.9 261.6L216.2 261.6L216.4 261.4L216.7 260.7L216.9 261.0L217.2 261.5L217.4 261.5L217.7 260.8L218.0 260.9L218.2 261.3L218.5 261.4L218.7 259.7L218.9 259.5L219.2 261.9L219.5 260.4L219.8 261.8L220.1 259.9L220.4 260.7L220.6 260.2L220.9 260.5L221.2 259.7L221.5 260.0L221.7 259.8L222.0 259.5L222.3 259.1L222.6 259.2L222.8 259.7L223.1 261.3L223.3 258.9L223.6 259.3L223.9 259.2L224.1 259.5L224.4 259.0L224.6 258.5L224.9 259.2L225.2 257.7L225.4 258.5L225.7 258.4L225.9 257.7L226.2 258.4L226.4 258.2L226.7 258.7L226.9 258.5L227.2 258.6L227.5 258.3L227.7 258.2L228.0 258.1L228.2 258.5L228.5 257.6L228.7 259.0L229.0 256.8L229.3 258.1L229.5 257.0L229.8 258.2L230.1 257.0L230.3 257.2L230.6 257.9L230.9 257.7L231.1 258.2L231.4 258.0L231.7 257.9L232.0 256.8L232.3 258.2L232.5 257.1L232.8 256.4L233.1 255.8L233.4 257.3L233.7 257.9L234.0 256.8L234.2 257.2L234.4 257.6L234.7 255.9L234.9 256.3L235.2 256.8L235.4 257.7L235.7 257.0L235.9 256.4L236.2 255.4L236.4 257.3L236.7 256.4L237.0 256.1L237.2 256.0L237.5 257.7L237.7 256.1L238.0 256.0L238.3 256.6L238.5 257.0L238.8 256.3L239.1 256.6L239.3 256.7L239.6 256.6L239.9 255.5L240.1 255.7L240.4 256.3L240.7 256.4L240.9 255.8L241.2 255.2L241.5 256.1L241.8 255.7L242.0 257.0L242.3 255.1L242.6 254.1L242.9 255.8L243.1 255.0L243.4 256.6L243.7 254.8L244.0 256.0L244.2 255.0L244.5 254.2L244.8 255.6L245.1 254.1L245.4 254.6L245.6 255.3L245.9 254.7L246.2 254.2L246.5 254.5L246.8 254.8L247.0 255.1L247.3 254.3L247.6 253.6L247.9 255.5L248.1 255.9L248.4 253.9L248.7 254.8L249.0 253.9L249.3 253.6L249.5 254.3L249.8 255.3L250.1 255.4L250.4 255.0L250.6 255.7L250.9 253.5L251.2 255.0L251.5 254.7L251.7 253.7L252.0 254.0L252.3 254.0L252.5 255.8L252.8 255.9L253.1 254.9L253.4 253.7L253.6 254.3L253.9 254.3L254.2 253.7L254.4 254.0L254.7 255.4L255.0 253.7L255.2 254.1L255.5 253.8L255.8 254.3L256.0 254.7L256.3 254.9L256.6 254.7L256.9 254.6L257.2 254.3L257.4 254.6L257.7 255.4L258.0 254.0L258.3 255.5L258.6 254.8L258.8 254.7L259.1 254.5L259.4 255.1L259.7 255.0L260.0 254.7L260.3 255.0L260.5 253.8L260.8 253.9L261.1 254.7L261.4 254.0L261.7 252.8L261.9 254.6L262.2 253.4L262.5 253.7L262.8 253.7L263.1 254.0L263.4 254.6L263.6 253.6L263.9 253.9L264.2 254.4L264.5 253.5L264.8 253.5L265.0 253.9L265.3 254.5L265.6 254.8L265.9 253.3L266.1 253.6L266.4 254.2L266.7 253.8L267.0 253.7L267.2 254.8L267.5 254.2L267.8 253.0L268.1 252.4L268.3 255.0L268.6 254.1L268.9 255.0L269.1 255.0L269.4 254.3L269.7 254.5L269.9 254.1L270.2 254.9L270.4 254.9L270.7 254.1L270.9 255.6L271.2 254.6L271.5 254.0L271.7 256.7L272.0 255.2L272.2 255.4L272.5 255.3L272.7 255.5L272.9 254.2L273.2 255.7L273.4 255.1L273.7 254.9L273.9 255.1L274.1 254.4L274.4 255.0L274.6 254.9L274.8 254.7L275.1 255.5L275.4 255.1L275.7 255.1L276.0 255.0L276.3 255.1L276.6 255.6L276.8 255.9L277.1 255.1L277.4 256.1L277.6 256.2L277.9 256.9L278.1 257.2L278.4 257.0L278.6 257.0L278.9 256.7L279.1 256.5L279.4 257.8L279.6 257.1L279.9 257.2L280.1 257.6L280.4 257.7L280.6 257.4L280.9 256.3L281.1 257.4L281.3 258.3L281.6 258.2L281.8 256.9L282.1 256.8L282.3 258.4L282.6 258.6L282.8 258.6L283.1 257.0L283.3 259.5L283.6 259.1L283.8 259.9L284.1 257.9L284.4 260.3L284.6 258.3L284.9 257.9L285.2 257.8L285.4 257.9L285.7 258.2L286.0 257.7L286.2 259.0L286.4 259.3L286.7 260.0L286.9 259.0L287.2 258.2L287.4 257.6L287.7 257.4L287.9 258.2L288.2 258.2L288.4 256.7L288.7 257.5L288.9 258.4L289.2 259.5L289.5 257.7L289.7 258.0L290.0 257.1L290.2 257.9L290.5 257.9L290.8 257.6L291.0 256.9L291.3 255.6L291.6 257.5L291.8 257.5L292.1 255.6L292.4 256.3L292.6 255.4L292.9 256.1L293.2 256.2L293.4 255.8L293.7 256.0L294.0 255.7L294.2 255.5L294.5 256.0L294.8 255.3L295.1 254.9L295.3 255.0L295.6 255.8L295.9 254.4L296.1 255.2L296.4 254.4L296.7 255.1L296.9 252.6L297.2 254.2L297.5 253.4L297.8 254.2L298.0 254.7L298.3 254.2L298.6 253.8L298.8 253.8L299.1 253.2L299.4 254.3L299.6 253.4L299.9 254.0L300.1 253.8L300.4 254.3L300.7 253.4L300.9 252.8L301.2 254.1L301.4 253.5L301.7 252.6L302.0 252.5L302.3 252.7L302.6 253.8L302.8 253.5L303.1 253.8L303.4 253.8L303.7 253.8L304.0 254.0L304.3 253.3L304.5 253.3L304.8 253.3L305.1 253.6L305.4 254.0L305.7 253.0L306.0 253.6L306.3 254.2L306.6 253.7L306.9 253.7L307.1 253.5L307.4 253.6L307.7 253.7L308.0 254.3L308.3 253.1L308.6 254.1L308.9 254.9L309.1 255.0L309.4 254.5L309.7 254.9L310.0 255.1L310.3 254.2L310.5 255.0L310.8 255.2L311.1 255.4L311.4 255.5L311.6 255.5L311.9 255.9L312.2 256.2L312.4 256.0L312.7 255.0L312.9 255.5L313.2 254.6L313.4 255.7L313.7 256.5L313.9 255.7L314.2 256.6L314.4 256.5L314.6 255.6L314.9 256.6L315.1 256.7L315.3 257.4L315.5 257.4L315.7 258.2L316.0 256.3L316.3 256.6L316.6 256.8L316.9 257.3L317.1 257.0L317.4 256.8L317.7 257.0L318.0 258.3L318.2 257.0L318.5 258.2L318.7 258.6L319.0 258.1L319.2 257.7L319.5 259.4L319.7 259.2L320.0 258.6L320.2 259.0L320.4 258.3L320.7 259.5L320.9 260.1L321.1 259.9L321.3 259.0L321.6 260.5L321.8 261.2L322.0 259.8L322.2 260.3L322.3 261.2L322.5 261.4L322.7 260.9L322.8 261.8L323.0 260.7L323.1 261.8L323.3 261.3L323.4 261.4L323.5 263.6L323.7 263.4L323.8 261.5L323.9 263.1L324.1 263.3L324.2 263.9L324.3 262.8L324.5 262.6L324.6 263.8L324.7 265.0L324.9 264.5L325.0 265.2L325.1 264.7L325.3 265.0L325.4 266.3L325.5 266.1L325.7 267.2L325.8 266.1L325.9 267.4L326.1 267.4L326.2 266.7L326.3 267.9L326.5 267.4L326.6 268.3L326.8 268.5L326.9 268.3L327.1 268.8L327.2 269.6L327.4 269.7L327.6 269.9L327.7 269.5L327.9 269.9L328.1 270.2L328.3 270.3L328.4 270.7L328.6 270.5L328.8 270.9L329.0 271.1L329.2 271.2L329.5 271.6L329.7 271.7L329.9 271.9L330.5 272.4L331.2 272.8L331.9 273.3L332.6 273.8L333.3 274.3L334.0 274.8L334.6 275.4L335.3 276.0L335.9 276.7L336.5 277.4L336.9 278.0L337.3 278.5L337.7 279.2L338.1 279.8L338.5 280.5L338.9 281.3L339.2 282.0L339.6 282.8L340.0 283.6L340.4 284.4L340.7 285.2L341.1 286.1L341.5 286.9L341.8 287.8L342.2 288.7L342.5 289.5L342.8 290.4L343.2 291.2L343.5 292.1L343.8 292.9L344.1 293.7L344.4 294.5L344.7 295.3L345.0 296.0L345.2 296.7L345.5 297.4L345.7 298.0L346.0 298.6L346.2 299.2L346.6 300.1L346.9 300.9L347.1 301.6L347.4 302.2L347.6 302.8L347.9 303.5L348.1 304.2L348.4 305.0L348.7 306.0L348.9 306.5L349.0 307.1L349.2 307.6L349.4 308.2L349.6 308.8L349.8 309.5L350.0 310.2L350.2 310.8L350.5 311.5L350.7 312.3L350.9 313.0L351.1 313.8L351.4 314.5L351.6 315.3L351.8 316.1L352.1 316.9L352.3 317.7L352.6 318.6L352.8 319.4L353.1 320.3L353.3 321.1L353.6 322.0L353.8 322.9L354.1 323.7L354.3 324.6L354.6 325.5L354.8 326.3L355.1 327.2L355.3 328.1L355.6 329.0L355.8 329.8L356.1 330.7L356.3 331.5L356.6 332.4L356.8 333.2L357.0 334.1L357.3 334.9L357.5 335.7L357.7 336.5L357.9 337.2L358.1 338.0L358.3 338.8L358.5 339.5L358.7 340.3L358.9 341.1L359.1 341.9L359.3 342.7L359.5 343.5L359.7 344.3L359.9 345.1L360.1 345.9L360.3 346.7L360.5 347.6L360.7 348.4L360.8 349.2L361.0 350.0L361.2 350.8L361.4 351.6L361.6 352.4L361.8 353.2L362.0 354.0L362.2 354.9L362.4 355.7L362.6 356.5L362.8 357.2L363.0 358.0L363.2 358.8L363.4 359.6L363.6 360.4L363.8 361.1L364.0 361.9L364.2 362.6L364.4 363.4L364.6 364.1L364.8 364.8L365.1 365.6L365.3 366.3L365.5 367.0L365.7 367.7L366.0 368.3L366.2 369.0L366.5 369.8L366.8 370.7L367.1 371.5L367.5 372.3L367.8 373.1L368.1 373.8L368.4 374.6L368.8 375.4L369.1 376.1L369.5 376.8L369.8 377.5L370.2 378.3L370.5 379.0L370.8 379.7L371.2 380.4L371.5 381.1L371.9 381.8L372.2 382.5L372.6 383.2L372.9 383.9L373.3 384.6L373.6 385.3L374.0 386.0L374.3 386.7L374.7 387.5L375.0 388.2L375.3 388.9L375.7 389.7L376.0 390.4L376.3 391.2L376.7 391.9L377.0 392.7L377.3 393.5L377.7 394.2L378.0 395.0L378.3 395.7L378.6 396.5L379.0 397.2L379.3 398.0L379.6 398.7L380.0 399.5L380.3 400.2L380.6 401.0L381.0 401.7L381.3 402.5L381.6 403.2L382.0 403.9L382.3 404.7L382.7 405.4L383.0 406.1L383.3 406.8L383.7 407.5L384.1 408.3L384.5 409.0L384.9 409.8L385.2 410.5L385.6 411.3L386.0 412.0L386.4 412.8L386.8 413.5L387.2 414.3L387.6 415.0L388.0 415.7L388.4 416.4L388.8 417.2L389.2 417.9L389.6 418.6L390.0 419.3L390.4 419.9L390.8 420.6L391.2 421.3L391.6 421.9L392.1 422.6L392.5 423.2L393.0 423.9L393.5 424.6L394.0 425.3L394.5 425.9L395.0 426.6L395.5 427.2L396.0 427.9L396.5 428.5L397.0 429.1L397.5 429.7L398.0 430.3L398.5 430.9L399.1 431.5L399.6 432.1L400.1 432.6L400.7 433.2L401.2 433.7L401.8 434.3L402.4 434.9L403.0 435.5L403.6 436.0L404.2 436.6L404.9 437.2L405.5 437.7L406.1 438.2L406.7 438.7L407.4 439.2L408.0 439.6L408.7 440.0L409.3 440.4L410.0 440.7L410.8 441.0L411.5 441.3L412.3 441.5L413.1 441.7L413.9 441.9L414.7 442.0L415.5 442.1L416.3 442.2L417.1 442.2L417.9 442.2L418.7 442.1L419.5 442.0L420.3 441.9L421.2 441.7L422.0 441.5L422.8 441.3L423.6 441.0L424.4 440.7L425.2 440.3L426.0 439.9L426.8 439.5L427.5 439.0L428.1 438.6L428.6 438.1L429.2 437.6L429.7 437.1L430.2 436.5L430.8 435.9L431.3 435.3L431.8 434.7L432.3 434.0L432.8 433.3L433.3 432.7L433.8 432.0L434.2 431.3L434.7 430.6L435.2 429.9L435.7 429.2L436.2 428.5L436.7 427.9L437.1 427.2L437.6 426.5L438.0 425.9L438.5 425.2L438.9 424.5L439.4 423.8L439.8 423.1L440.2 422.4L440.7 421.7L441.1 421.0L441.6 420.3L442.0 419.6L442.4 418.9L442.9 418.1L443.3 417.4L443.7 416.7L444.1 416.0L444.6 415.2L445.0 414.5L445.4 413.8L445.8 413.1L446.2 412.4L446.6 411.7L447.0 411.0L447.4 410.2L447.8 409.5L448.2 408.8L448.6 408.1L449.0 407.3L449.4 406.6L449.7 405.9L450.1 405.1L450.5 404.4L450.9 403.7L451.3 403.0L451.7 402.2L452.1 401.5L452.5 400.8L452.9 400.1L453.3 399.4L453.7 398.7L454.1 398.0L454.6 397.3L455.0 396.5L455.4 395.8L455.8 395.1L456.3 394.4L456.7 393.7L457.1 393.1L457.6 392.4L458.0 391.7L458.4 391.0L458.9 390.3L459.3 389.6L459.8 388.9L460.2 388.2L460.7 387.5L461.1 386.8L461.6 386.1L462.0 385.4L462.5 384.7L462.9 384.0L463.4 383.4L463.8 382.7L464.3 382.0L464.7 381.3L465.2 380.7L465.6 380.0L466.1 379.3L466.5 378.6L467.0 377.9L467.4 377.2L467.9 376.6L468.4 375.9L468.8 375.2L469.3 374.5L469.8 373.8L470.2 373.1L470.7 372.4L471.2 371.7L471.6 371.1L472.1 370.4L472.5 369.7L473.0 369.0L473.5 368.3L473.9 367.6L474.4 366.9L474.8 366.3L475.3 365.6L475.7 364.9L476.2 364.2L476.7 363.5L477.1 362.8L477.6 362.1L478.0 361.4L478.5 360.8L478.9 360.1L479.4 359.4L479.8 358.7L480.3 358.0L480.8 357.3L481.2 356.6L481.7 355.9L482.1 355.3L482.6 354.6L483.0 353.9L483.5 353.2L484.0 352.5L484.4 351.8L484.9 351.2L485.3 350.5L485.8 349.8L486.2 349.1L486.7 348.4L487.1 347.8L487.6 347.1L488.0 346.4L488.5 345.7L488.9 345.1L489.4 344.4L489.8 343.7L490.3 343.0L490.7 342.3L491.2 341.6L491.7 341.0L492.1 340.3L492.6 339.6L493.1 338.9L493.5 338.2L494.0 337.5L494.4 336.8L494.9 336.2L495.4 335.5L495.8 334.8L496.3 334.2L496.7 333.5L497.2 332.8L497.7 332.1L498.1 331.5L498.6 330.8L499.1 330.1L499.5 329.4L500.0 328.7L500.5 328.0L500.9 327.4L501.4 326.7L501.9 326.0L502.4 325.3L502.9 324.6L503.3 324.0L503.8 323.3L504.3 322.6L504.8 322.0L505.2 321.3L505.7 320.7L506.2 320.0L506.7 319.3L507.2 318.7L507.7 318.0L508.1 317.4L508.6 316.7L509.1 316.0L509.6 315.4L510.1 314.7L510.6 314.0L511.1 313.4L511.6 312.7L512.1 312.1L512.6 311.4L513.1 310.8L513.6 310.2L514.1 309.5L514.6 308.9L515.1 308.3L515.6 307.7L516.1 307.1L516.6 306.5L517.1 305.9L517.5 305.3L518.0 304.8L518.5 304.2L519.1 303.5L519.7 302.9L520.2 302.3L520.8 301.7L521.4 301.1L521.9 300.5L522.5 299.9L523.1 299.4L523.6 298.8L524.2 298.3L524.7 297.7L525.3 297.2L525.9 296.6L526.4 296.1L527.0 295.5L527.5 295.0L528.1 294.4L528.7 293.8L529.2 293.2L529.8 292.6L530.3 292.0L530.9 291.4L531.4 290.8L532.0 290.2L532.5 289.6L533.1 289.0L533.7 288.4L534.2 287.8L534.8 287.3L535.4 286.7L535.9 286.2L536.5 285.7L537.1 285.2L537.7 284.7L538.4 284.2L539.1 283.7L539.9 283.2L540.6 282.7L541.3 282.2L542.1 281.8L542.8 281.4L543.6 281.0L544.3 280.6L545.1 280.2L545.9 279.8L546.6 279.5L547.4 279.2L548.2 278.9L549.0 278.6L549.8 278.3L550.6 278.0L551.5 277.8L552.3 277.6L553.1 277.4L553.9 277.2L554.8 277.0L555.6 276.9L556.3 276.8L557.1 276.8L558.0 276.8L558.8 276.8L559.6 276.8L560.5 276.9L561.3 277.1L562.1 277.2L562.8 277.4L563.6 277.7L564.4 278.0L565.1 278.4L565.8 278.9L566.5 279.4L567.1 280.1L567.8 280.7L568.4 281.4L569.1 282.0L569.7 282.5L570.4 283.0L571.0 283.3L571.6 283.5L572.4 283.5L573.3 283.4L574.1 283.0L574.9 282.6L575.6 282.1L576.4 281.6L577.0 281.1L577.5 280.4L578.1 279.7L578.6 278.8L579.1 278.0L579.6 277.3L580.1 276.6L580.7 276.0L581.3 275.6L582.1 275.3L582.9 275.1L583.7 275.1L584.5 275.2L585.3 275.3L586.1 275.6L586.7 275.9L587.3 276.3L587.9 276.8L588.4 277.4L589.0 278.1L589.5 278.7L590.0 279.5L590.5 280.2L591.0 281.0L591.4 281.6L591.7 282.2L592.0 282.9L592.4 283.6L592.7 284.3L593.0 285.1L593.3 285.9L593.6 286.6L593.9 287.4L594.2 288.3L594.5 289.1L594.7 289.9L595.0 290.7L595.3 291.5L595.5 292.3L595.8 293.1L596.0 293.9L596.3 294.6L596.5 295.4L596.8 296.2L597.0 296.9L597.2 297.7L597.4 298.5L597.7 299.3L597.9 300.0L598.1 300.8L598.3 301.6L598.5 302.4L598.7 303.2L598.9 304.0L599.0 304.8L599.2 305.6L599.4 306.4L599.6 307.2L599.7 308.0L599.9 308.8L600.1 309.6L600.2 310.4L600.4 311.2L600.5 312.0L600.6 312.8L600.8 313.6L600.9 314.4L601.1 315.2L601.2 316.0L601.3 316.9L601.4 317.7L601.6 318.5L601.7 319.3L601.8 320.2L601.9 321.0L602.0 321.8L602.1 322.5L602.2 323.3L602.3 324.1L602.4 324.8L602.5 325.6L602.5 326.4L602.6 327.1L602.7 327.9L602.8 328.7L602.8 329.5L602.9 330.2L603.0 331.0L603.1 331.8L603.1 332.7L603.2 333.5L603.3 334.3L603.3 335.2L603.4 336.1L603.5 337.0L603.6 337.7L603.6 338.4L603.7 339.1L603.7 339.9L603.8 340.6L603.9 341.4L603.9 342.1L604.0 342.9L604.0 343.7L604.1 344.5L604.1 345.3L604.2 346.1L604.3 346.9L604.3 347.7L604.4 348.5L604.4 349.4L604.5 350.2L604.5 351.0L604.6 351.9L604.7 352.7L604.7 353.5L604.8 354.4L604.8 355.2L604.9 356.1L604.9 356.9L605.0 357.7L605.1 358.6L605.1 359.4L605.2 360.2L605.2 361.0L605.3 361.8L605.3 362.6L605.4 363.4L605.4 364.2L605.5 365.0L605.6 365.8L605.6 366.7L605.7 367.5L605.7 368.3L605.8 369.1L605.9 369.9L605.9 370.7L606.0 371.6L606.0 372.4L606.1 373.2L606.2 374.0L606.2 374.8L606.3 375.6L606.3 376.4L606.4 377.2L606.5 378.0L606.5 378.8L606.6 379.6L606.6 380.4L606.7 381.2L606.7 382.0L606.8 382.8L606.8 383.6L606.9 384.4L606.9 385.2L607.0 386.0L607.0 386.8L607.1 387.6L607.1 388.4L607.2 389.2L607.2 390.0L607.2 390.8L607.3 391.6L607.3 392.4L607.3 393.2L607.4 394.0L607.4 394.8L607.4 395.6L607.4 396.5L607.5 397.3L607.5 398.1L607.5 398.9L607.5 399.7L607.5 400.5L607.6 401.3L607.6 402.1L607.6 402.9L607.6 403.7L607.6 404.5L607.7 405.3L607.7 406.1L607.7 406.9L607.7 407.7L607.7 408.5L607.7 409.4L607.8 410.2L607.8 411.0L607.8 411.8L607.8 412.6L607.8 413.4L607.9 414.2L607.9 415.0L607.9 415.8L608.0 416.6L608.0 417.4L608.0 418.2L608.0 419.0L608.1 419.8L608.1 420.6L608.1 421.4L608.2 422.2L608.2 423.0L608.2 423.8L608.3 424.6L608.3 425.4L608.3 426.2L608.3 427.0L608.4 427.8L608.4 428.6L608.4 429.4L608.5 430.2L608.5 431.0L608.5 431.8L608.6 432.6L608.6 433.4L608.7 434.2L608.7 435.0L608.7 435.8L608.8 436.7L608.8 437.5L608.8 438.3L608.9 439.2L608.9 440.0L608.9 440.8L609.0 441.6L609.0 442.3L609.0 443.1L609.1 443.9L609.1 444.7L609.2 445.5L609.2 446.3L609.2 447.1L609.3 447.9L609.3 448.7L609.4 449.5L609.4 450.3L609.4 451.2L609.5 452.0L609.5 452.8L609.6 453.6L609.6 454.4L609.7 455.2L609.7 456.1L609.7 456.9L609.8 457.7L609.8 458.5L609.9 459.3L609.9 460.2L609.9 461.0L610.0 461.8L610.0 462.6L610.0 463.5L610.1 464.3L610.1 465.1L610.1 465.9L610.2 466.7L610.2 467.6L610.2 468.4L610.3 469.2L610.3 470.0L610.3 470.8L610.4 471.6L610.4 472.5L610.4 473.3L610.4 474.1L610.4 475.0L610.5 475.8L610.5 476.7L610.5 477.5L610.5 478.4L610.5 479.2L610.5 480.1L610.5 481.0L610.6 481.8L610.6 482.7L610.6 483.5L610.6 484.4L610.6 485.2L610.6 486.1L610.6 486.9L610.6 487.7L610.7 488.6L610.7 489.4L610.7 490.2L610.7 491.0L610.7 491.8L610.7 492.6L610.7 493.4L610.7 494.2L610.8 495.0L610.8 495.7L610.8 496.5L610.8 497.2L610.8 497.9L610.9 498.6L610.9 499.3L610.9 500.0L610.9 501.0L611.0 501.9L611.0 502.7L611.0 503.5L611.1 504.3L611.1 505.1L611.2 505.9L611.2 506.6L611.2 507.4L611.3 508.1L611.3 508.9L611.4 509.7L611.4 510.5L611.5 511.3L611.5 512.2L611.6 513.1L611.6 514.0L611.7 515.0L611.7 515.6L611.8 516.3L611.8 516.9L611.9 517.6L611.9 518.3L612.0 519.0L612.0 519.7L612.1 520.4L612.1 521.1L612.2 521.9L612.2 522.6L612.3 523.4L612.3 524.2L612.4 525.0L612.4 525.8L612.5 526.6L612.5 527.4L612.6 528.2L612.7 529.0L612.7 529.8L612.8 530.7L612.8 531.5L612.9 532.4L613.0 533.2L613.0 534.1L613.1 534.9L613.1 535.8L613.2 536.7L613.3 537.5L613.3 538.4L613.4 539.3L613.5 540.2L613.5 541.0L613.6 541.9L613.7 542.8L613.7 543.7L613.8 544.5L613.9 545.4L614.0 546.3L614.0 547.1L614.1 548.0L614.2 548.8L614.2 549.7L614.3 550.6L614.4 551.4L614.5 552.2L614.5 553.1L614.6 553.9L614.7 554.7L614.7 555.5L614.8 556.3L614.9 557.1L615.0 557.9L615.0 558.7L615.1 559.5L615.2 560.3L615.3 561.1L615.3 561.9L615.4 562.7L615.5 563.5L615.6 564.3L615.7 565.1L615.8 565.9L615.8 566.7L615.9 567.5L616.0 568.3L616.1 569.1L616.2 569.9L616.3 570.7L616.3 571.5L616.4 572.3L616.5 573.1L616.6 573.9L616.7 574.7L616.8 575.6L616.9 576.4L617.0 577.2L617.0 578.0L617.1 578.8L617.2 579.6L617.3 580.4L617.4 581.2L617.5 582.0L617.5 582.9L617.6 583.7L617.7 584.5L617.8 585.3L617.9 586.1L618.0 586.9L618.0 587.7L618.1 588.5L618.2 589.3L618.3 590.1L618.4 591.0L618.4 591.8L618.5 592.6L618.6 593.4L618.7 594.2L618.7 595.0L618.8 595.8L618.9 596.6L618.9 597.4L619.0 598.3L619.1 599.1L619.1 599.9L619.2 600.8L619.2 601.6L619.3 602.5L619.4 603.4L619.4 604.2L619.5 605.1L619.5 606.0L619.6 606.9L619.6 607.8L619.7 608.6L619.7 609.5L619.8 610.4L619.8 611.3L619.9 612.2L619.9 613.1L620.0 614.0L620.0 614.9L620.1 615.7L620.1 616.6L620.2 617.5L620.2 618.4L620.3 619.2L620.3 620.1L620.4 620.9L620.4 621.8L620.5 622.6L620.5 623.5L620.6 624.3L620.6 625.1L620.7 625.9L620.7 626.7L620.8 627.5L620.8 628.3L620.9 629.1L621.0 629.8L621.0 630.6L621.1 631.3L621.2 632.0L621.2 632.7L621.3 633.4L621.4 634.1L621.5 634.7L621.6 635.4L621.6 636.0L621.7 636.6L621.8 637.2L621.9 637.8L622.1 638.8L622.2 639.8L622.3 640.8L622.4 641.7L622.5 642.7L622.7 643.6L622.8 644.4L622.9 645.3L623.1 646.1L623.2 646.8L623.4 647.5L623.7 648.2L624.0 648.8L624.3 649.4L624.7 649.9L625.1 650.3L625.7 650.7L626.5 650.9L627.4 651.1L628.3 651.1L629.2 651.0L630.2 650.9L631.2 650.9L632.1 650.8L633.0 650.9L633.8 651.1L634.5 651.4L635.1 651.9L635.6 652.4L636.1 653.0L636.6 653.7L637.0 654.4L637.3 655.2L637.7 656.0L638.0 656.9L638.3 657.8L638.7 658.7L638.9 659.3L639.1 659.9L639.3 660.6L639.5 661.3L639.7 662.0L639.9 662.8L640.1 663.5L640.3 664.3L640.4 665.1L640.6 665.9L640.7 666.8L640.9 667.6L641.1 668.5L641.2 669.3L641.4 670.2L641.5 671.1L641.6 672.0L641.8 672.9L641.9 673.7L642.1 674.6L642.2 675.5L642.3 676.3L642.5 677.2L642.6 678.1L642.8 678.9L642.9 679.7L643.0 680.5L643.2 681.3L643.3 682.2L643.4 683.0L643.6 683.9L643.7 684.7L643.8 685.6L644.0 686.5L644.1 687.3L644.2 688.2L644.3 689.1L644.4 689.9L644.6 690.8L644.7 691.7L644.8 692.5L644.9 693.3L645.0 694.1L645.2 694.9L645.3 695.7L645.4 696.5L645.5 697.3L645.6 698.0L645.7 698.7L645.9 699.4L646.0 700.1L646.1 700.7L646.3 701.8L646.5 702.9L646.7 704.0L646.9 705.1L647.1 706.1L647.3 707.1L647.5 707.9L647.7 708.5L647.9 708.9L648.1 709.0L648.2 708.9L648.4 708.8L648.5 708.5L648.7 708.1L648.8 707.6L649.0 707.0L649.1 706.3L649.3 705.6L649.4 704.8L649.6 703.9L649.7 703.0L649.8 702.0L650.0 701.0L650.1 700.0L650.3 698.9L650.4 697.8L650.6 696.7L650.7 695.6L650.8 694.5L651.0 693.4L651.1 692.3L651.2 691.2L651.3 690.2L651.4 689.6L651.4 689.0L651.5 688.3L651.5 687.7L651.6 687.0L651.6 686.3L651.7 685.7L651.8 685.0L651.8 684.3L651.9 683.5L651.9 682.8L651.9 682.1L652.0 681.3L652.0 680.6L652.1 679.8L652.1 679.0L652.2 678.2L652.2 677.4L652.2 676.6L652.3 675.8L652.3 675.0L652.3 674.2L652.4 673.4L652.4 672.5L652.4 671.7L652.5 670.9L652.5 670.0L652.5 669.2L652.6 668.3L652.6 667.5L652.6 666.6L652.7 665.7L652.7 664.9L652.7 664.0L652.7 663.1L652.8 662.2L652.8 661.4L652.8 660.5L652.8 659.6L652.8 658.7L652.9 657.9L652.9 657.0L652.9 656.1L652.9 655.2L653.0 654.4L653.0 653.5L653.0 652.6L653.0 651.8L653.0 650.9L653.1 650.0L653.1 649.2L653.1 648.3L653.1 647.5L653.2 646.6L653.2 645.8L653.2 645.0L653.2 644.2L653.2 643.3L653.3 642.5L653.3 641.7L653.3 640.9L653.3 640.1L653.4 639.3L653.4 638.6L653.4 637.8L653.4 636.9L653.5 636.1L653.5 635.3L653.5 634.4L653.5 633.6L653.5 632.7L653.6 631.9L653.6 631.1L653.6 630.3L653.6 629.4L653.6 628.6L653.7 627.8L653.7 627.0L653.7 626.2L653.7 625.3L653.7 624.5L653.7 623.7L653.8 622.9L653.8 622.1L653.8 621.3L653.8 620.5L653.8 619.7L653.8 618.9L653.9 618.1L653.9 617.3L653.9 616.5L653.9 615.7L653.9 614.9L653.9 614.1L653.9 613.3L654.0 612.5L654.0 611.7L654.0 610.9L654.0 610.2L654.0 609.4L654.0 608.6L654.1 607.8L654.1 607.0L654.1 606.2L654.1 605.4L654.1 604.6L654.2 603.8L654.2 603.0L654.2 602.2L654.2 601.4L654.2 600.6L654.3 599.8L654.3 599.0L654.3 598.2L654.3 597.4L654.4 596.6L654.4 595.8L654.4 595.0L654.5 594.2L654.5 593.4L654.5 592.6L654.6 591.8L654.6 591.0L654.6 590.2L654.7 589.4L654.7 588.5L654.7 587.7L654.8 586.9L654.8 586.1L654.9 585.3L654.9 584.5L654.9 583.7L655.0 582.9L655.0 582.1L655.1 581.3L655.1 580.5L655.1 579.7L655.2 578.9L655.2 578.1L655.3 577.3L655.3 576.5L655.4 575.7L655.4 574.8L655.4 574.0L655.5 573.2L655.5 572.4L655.6 571.6L655.6 570.8L655.7 570.0L655.7 569.2L655.8 568.4L655.8 567.6L655.8 566.8L655.9 566.0L655.9 565.2L656.0 564.4L656.0 563.6L656.1 562.8L656.1 562.0L656.1 561.2L656.2 560.3L656.2 559.5L656.3 558.7L656.3 557.9L656.3 557.1L656.4 556.3L656.4 555.5L656.5 554.7L656.5 553.9L656.5 553.1L656.6 552.3L656.6 551.4L656.6 550.6L656.7 549.8L656.7 548.9L656.7 548.0L656.8 547.2L656.8 546.3L656.8 545.4L656.9 544.6L656.9 543.7L656.9 542.8L657.0 541.9L657.0 541.0L657.0 540.1L657.0 539.2L657.1 538.4L657.1 537.5L657.1 536.6L657.2 535.7L657.2 534.8L657.2 533.9L657.2 533.0L657.3 532.2L657.3 531.3L657.3 530.4L657.4 529.6L657.4 528.7L657.4 527.9L657.5 527.0L657.5 526.2L657.5 525.4L657.6 524.5L657.6 523.7L657.6 522.9L657.7 522.1L657.7 521.4L657.7 520.6L657.8 519.8L657.8 519.1L657.8 518.4L657.9 517.6L657.9 516.9L658.0 516.3L658.0 515.6L658.1 514.9L658.1 514.3L658.2 513.7L658.2 513.1L658.2 512.5L658.3 511.9L658.4 510.9L658.5 510.0L658.6 509.1L658.7 508.3L658.9 507.6L659.0 506.9L659.1 506.2L659.2 505.5L659.3 504.8L659.5 504.1L659.6 503.4L659.7 502.6L659.8 501.8L659.9 500.9L660.0 500.0L660.1 499.4L660.1 498.7L660.2 498.0L660.2 497.3L660.3 496.6L660.3 495.9L660.4 495.1L660.4 494.4L660.4 493.6L660.5 492.8L660.5 492.0L660.6 491.2L660.6 490.4L660.6 489.5L660.7 488.7L660.7 487.8L660.7 487.0L660.8 486.1L660.8 485.3L660.8 484.4L660.9 483.5L660.9 482.6L660.9 481.8L661.0 480.9L661.0 480.0L661.0 479.1L661.1 478.3L661.1 477.4L661.1 476.6L661.2 475.7L661.2 474.9L661.3 474.0L661.3 473.2L661.4 472.4L661.4 471.6L661.4 470.8L661.5 470.0L661.6 469.2L661.6 468.3L661.7 467.5L661.7 466.7L661.8 465.8L661.8 465.0L661.9 464.2L662.0 463.4L662.0 462.6L662.1 461.8L662.1 461.0L662.2 460.2L662.2 459.3L662.3 458.5L662.4 457.7L662.4 457.0L662.5 456.2L662.6 455.4L662.6 454.6L662.7 453.8L662.8 453.0L662.8 452.2L662.9 451.4L663.0 450.6L663.1 449.8L663.2 449.0L663.2 448.2L663.3 447.4L663.4 446.6L663.5 445.8L663.6 445.0L663.7 444.2L663.8 443.4L663.9 442.6L664.0 441.8L664.1 441.0L664.2 440.2L664.3 439.4L664.4 438.6L664.5 437.8L664.7 437.0L664.8 436.2L664.9 435.4L665.0 434.6L665.1 433.8L665.2 433.0L665.4 432.2L665.5 431.4L665.6 430.6L665.7 429.8L665.9 429.0L666.0 428.2L666.1 427.4L666.3 426.6L666.4 425.8L666.6 425.0L666.7 424.2L666.8 423.3L667.0 422.5L667.1 421.7L667.3 420.8L667.4 420.0L667.5 419.2L667.7 418.5L667.8 417.7L667.9 417.0L668.1 416.2L668.2 415.4L668.4 414.6L668.5 413.9L668.7 413.1L668.8 412.3L669.0 411.5L669.1 410.7L669.3 409.9L669.5 409.1L669.6 408.4L669.8 407.6L669.9 406.8L670.1 406.0L670.3 405.2L670.4 404.4L670.6 403.6L670.7 402.8L670.9 402.0L671.1 401.2L671.2 400.4L671.4 399.6L671.5 398.8L671.7 398.0L671.9 397.2L672.0 396.4L672.2 395.6L672.3 394.8L672.5 394.0L672.6 393.2L672.8 392.4L672.9 391.6L673.1 390.8L673.2 390.0L673.3 389.2L673.5 388.4L673.6 387.6L673.8 386.8L673.9 386.0L674.0 385.1L674.1 384.3L674.3 383.5L674.4 382.7L674.5 381.9L674.7 381.1L674.8 380.3L674.9 379.5L675.0 378.7L675.2 377.8L675.3 377.0L675.4 376.2L675.5 375.4L675.6 374.6L675.8 373.8L675.9 373.0L676.0 372.2L676.1 371.4L676.2 370.5L676.4 369.7L676.5 368.9L676.6 368.1L676.7 367.3L676.9 366.5L677.0 365.7L677.1 364.9L677.2 364.1L677.4 363.2L677.5 362.4L677.6 361.6L677.8 360.8L677.9 360.0L678.0 359.2L678.2 358.4L678.3 357.6L678.4 356.8L678.6 356.0L678.7 355.1L678.8 354.3L679.0 353.5L679.1 352.7L679.3 351.8L679.4 351.0L679.5 350.1L679.7 349.3L679.8 348.5L680.0 347.6L680.1 346.8L680.3 346.0L680.4 345.1L680.5 344.3L680.7 343.5L680.8 342.7L681.0 341.8L681.1 341.0L681.3 340.2L681.4 339.4L681.5 338.6L681.7 337.9L681.8 337.1L682.0 336.3L682.1 335.6L682.2 334.8L682.4 334.1L682.5 333.4L682.7 332.7L682.8 332.0L682.9 331.3L683.1 330.6L683.2 330.0L683.4 329.1L683.6 328.2L683.8 327.3L683.9 326.4L684.1 325.5L684.3 324.7L684.5 323.9L684.6 323.1L684.8 322.3L685.0 321.5L685.2 320.8L685.3 320.0L685.5 319.3L685.7 318.6L685.9 317.9L686.1 317.2L686.4 316.5L686.6 315.8L686.9 315.0L687.2 314.2L687.5 313.4L687.8 312.7L688.1 312.0L688.5 311.2L688.8 310.6L689.2 309.9L689.6 309.2L690.1 308.4L690.6 307.7L691.0 307.1L691.5 306.6L692.0 306.0L692.6 305.4L693.1 304.9L693.7 304.3L694.4 303.8L695.0 303.2L695.6 302.6L696.3 302.1L697.0 301.5L697.6 300.9L698.3 300.3L698.9 299.7L699.6 299.1L700.2 298.5L700.8 297.8L701.4 297.2L701.5 296.9L701.7 296.7L701.9 296.4L702.1 296.2L702.2 295.9L702.4 295.7L702.5 295.7L702.7 295.3L702.8 295.3L703.0 295.0L703.1 294.7L703.3 294.6L703.5 294.3L703.6 293.6L703.8 293.7L703.9 293.6L704.0 292.9L704.2 293.0L704.3 292.5L704.5 292.4L704.6 292.4L704.8 291.9L704.9 292.0L705.1 291.6L705.2 291.0L705.3 291.0L705.5 290.7L705.6 291.1L705.8 290.7L705.9 290.0L706.0 290.4L706.2 289.8L706.3 289.6L706.5 289.2L706.6 289.3L706.7 289.0L706.9 289.1L707.0 288.7L707.1 288.2L707.3 288.0L707.4 287.8L707.5 287.4L707.7 287.3L707.8 287.5L708.0 286.7L708.1 286.7L708.2 286.3L708.4 286.5L708.5 285.8L708.6 285.7L708.8 285.4L708.9 284.6L709.0 284.6L709.2 284.1L709.3 284.1L709.4 283.7L709.6 283.9L709.7 283.4L709.8 283.5L710.0 282.8L710.1 283.1L710.2 282.5L710.4 282.6L710.5 282.0L710.6 282.2L710.8 281.9L710.9 282.2L711.0 281.3L711.2 281.1L711.3 281.1L711.5 280.6L711.6 280.1L711.8 279.7L711.9 279.6L712.1 278.9L712.2 279.1L712.4 279.1L712.6 278.1L712.7 278.6L712.9 278.3L713.1 277.7L713.2 277.8L713.4 277.5L713.6 277.6L713.7 277.1L713.9 276.8L714.1 277.0L714.2 276.2L714.4 276.3L714.6 276.3L714.7 275.4L714.9 275.0L715.1 275.5L715.2 274.8L715.4 275.0L715.5 274.9L715.7 274.5L715.9 274.1L716.0 274.3L716.2 273.7L716.4 273.5L716.5 273.0L716.7 273.8L716.8 273.3L717.0 272.9L717.2 272.6L717.3 272.4L717.5 272.1L717.6 272.1L717.8 272.0L717.9 271.8L718.1 271.3L718.2 271.2L718.4 270.6L718.5 270.3L718.7 270.5L718.8 270.5L719.0 270.0L719.1 269.9L719.3 269.7L719.4 269.2L719.6 269.3L719.7 269.0L719.9 268.6L720.1 269.1L720.3 268.1L720.4 268.1L720.6 267.7L720.8 267.4L721.0 267.0L721.1 267.0L721.3 266.9L721.4 266.7L721.6 266.4L721.8 265.5L721.9 265.2L722.1 265.5L722.2 265.2L722.4 265.1L722.6 264.7L722.7 264.3L722.9 264.2L723.1 264.1L723.3 263.7L723.5 263.5L723.7 263.4L723.8 263.0L724.1 263.2L724.3 262.4L724.5 262.9L724.7 262.5L725.0 262.3L725.2 262.6L725.4 262.1L725.7 262.5L725.9 262.4L726.2 261.7L726.4 261.4L726.7 261.2L726.9 261.4L727.2 261.3L727.5 261.2L727.7 261.2L728.0 260.9L728.3 260.8L728.6 260.5L728.9 260.9L729.1 260.6L729.4 260.3L729.7 260.6L730.0 260.4L730.3 261.2L730.6 260.5L730.9 259.7L731.2 260.2L731.4 260.2L731.7 260.3L732.0 260.2L732.3 259.8L732.6 259.4L732.8 259.5L733.0 259.2L733.3 259.5L733.5 259.1L733.7 259.1L733.9 259.0L734.2 258.9L734.4 258.6L734.6 258.4L734.8 258.2L735.1 258.1L735.3 257.7L735.5 257.8L735.7 257.3L736.0 257.1L736.2 257.3L736.4 257.3L736.7 257.0L736.9 256.8L737.1 256.8L737.4 256.6L737.6 256.7L737.8 256.5L738.1 256.4L738.3 256.3L738.6 256.1L738.8 255.8L739.0 256.0L739.3 255.8L739.5 255.4L739.7 255.5L740.0 254.9L740.2 255.1L740.5 254.9L740.7 254.6L741.0 254.4L741.2 254.3L741.4 254.4L741.7 254.0L741.9 253.7L742.2 254.1L742.4 253.6L742.7 253.6L742.9 253.4L743.2 253.1L743.4 252.9L743.7 253.2L743.9 253.3L744.1 252.5L744.4 252.7L744.6 252.4L744.9 252.0L745.1 252.5L745.4 252.1L745.6 251.8L745.9 252.0L746.1 251.9L746.3 252.0L746.6 252.0L746.8 251.6L747.1 251.8L747.4 251.3L747.6 251.7L747.9 251.1L748.1 251.2L748.4 251.0L748.6 251.1L748.9 250.8L749.1 250.9L749.4 250.8L749.6 251.0L749.9 250.5L750.2 250.3L750.4 250.1L750.7 250.1L750.9 250.3L751.2 250.2L751.4 250.7L751.7 250.2L751.9 250.0L752.2 249.4L752.5 249.7L752.7 249.7L753.0 249.1L753.2 249.8L753.5 249.3L753.7 249.4L754.0 249.1L754.3 249.5L754.5 249.2L754.8 249.1L755.0 249.2L755.3 248.8L755.5 248.9L755.8 248.7L756.0 248.8L756.3 248.5L756.5 248.0L756.8 248.3L757.1 248.3L757.3 248.0L757.6 247.4L757.8 247.8L758.1 247.9L758.3 247.0L758.6 247.6L758.8 246.8L759.0 246.9L759.3 247.4L759.5 246.6L759.8 246.7L760.0 247.0L760.3 246.4L760.5 246.8L760.8 246.2L761.0 246.2L761.2 245.9L761.5 245.8L761.7 245.4L762.0 245.5L762.2 245.5L762.5 244.9L762.7 245.4L762.9 245.0L763.2 244.7L763.4 245.1L763.7 244.7L763.9 244.8L764.2 245.0L764.4 244.6L764.7 245.1L764.9 244.7L765.2 244.5L765.4 244.1L765.7 244.4L765.9 243.6L766.2 244.1L766.5 243.5L766.7 243.5L767.0 243.1L767.2 243.4L767.5 243.2L767.8 243.3L768.0 242.8L768.3 242.5L768.6 242.8L768.9 242.6L769.1 242.8L769.4 242.6L769.7 242.1L769.9 242.3L770.2 242.4L770.4 242.3L770.7 241.9L770.9 242.0L771.2 242.3L771.4 241.8L771.7 241.9L771.9 241.7L772.2 241.7L772.4 241.5L772.7 241.4L772.9 241.5L773.2 241.7L773.5 241.4L773.7 241.1L774.0 240.8L774.3 241.2L774.5 241.1L774.8 240.5L775.1 241.1L775.3 240.9L775.6 240.8L775.9 241.3L776.1 241.0L776.4 240.5L776.7 240.5L777.0 240.5L777.2 241.1L777.5 240.8L777.8 240.3L778.1 240.5L778.3 240.7L778.6 240.6L778.9 240.4L779.2 240.3L779.5 240.2L779.7 240.3L780.0 239.8L780.3 240.2L780.6 240.5L780.9 239.6L781.1 240.0L781.4 239.8L781.7 240.0L782.0 240.0L782.2 239.5L782.5 239.2L782.8 239.7L783.1 239.4L783.4 239.5L783.6 239.3L783.9 239.3L784.2 239.3L784.5 239.4L784.7 239.4L785.0 239.1L785.3 239.0L785.6 238.7L785.8 239.0L786.1 239.2L786.4 239.3L786.6 238.6L786.9 238.9L787.2 238.4L787.4 238.6L787.7 238.5L788.0 238.3L788.2 238.3L788.5 238.4L788.7 238.3L789.0 238.3L789.3 238.4L789.6 237.9L789.8 238.1L790.1 237.7L790.4 238.2L790.7 237.6L791.0 237.8L791.2 237.5L791.5 237.2L791.8 237.6L792.1 237.0L792.3 237.1L792.6 237.5L792.9 236.8L793.1 237.4L793.4 237.6L793.7 237.0L794.0 237.9L794.2 237.1L794.5 237.1L794.8 236.9L795.0 237.2L795.3 237.0L795.6 237.0L795.8 236.6L796.1 236.9L796.4 236.9L796.7 236.5L796.9 236.7L797.2 236.6L797.5 236.0L797.7 236.6L798.0 236.4L798.3 236.4L798.5 236.2L798.8 236.0L799.1 236.1L799.3 236.0L799.6 236.1L799.9 235.9L800.1 235.9L800.4 235.9L800.6 235.8L800.9 235.8L801.2 235.7L801.4 236.4L801.7 235.2L802.0 236.3L802.2 235.3L802.5 235.9L802.8 235.7L803.1 235.5L803.3 236.0L803.6 235.5L803.9 235.7L804.1 236.1L804.4 235.9L804.7 235.7L804.9 235.6L805.2 235.1L805.5 234.8L805.7 234.9L806.0 234.9L806.3 235.3L806.5 234.8L806.8 235.1L807.1 234.7L807.3 234.7L807.6 234.6L807.9 234.5L808.2 234.2L808.4 234.6L808.7 234.7L809.0 234.4L809.2 234.2L809.5 234.6L809.8 234.3L810.0 234.4L810.3 234.9L810.6 234.0L810.8 234.0L811.1 233.9L811.4 234.1L811.6 234.2L811.9 233.8L812.2 234.0L812.4 233.9L812.7 234.1L813.0 233.7L813.3 233.7L813.5 233.8L813.8 233.8L814.1 233.9L814.3 233.8L814.6 233.0L814.9 233.7L815.1 233.7L815.4 233.4L815.7 233.4L815.9 233.4L816.2 233.6L816.5 233.6L816.7 233.4L817.0 233.1L817.3 233.1L817.5 232.8L817.8 233.3L818.1 233.0L818.4 233.0L818.6 233.2L818.9 233.4L819.2 232.6L819.4 233.0L819.7 233.5L820.0 233.9L820.2 233.1L820.5 232.9L820.8 233.1L821.0 232.6L821.3 232.4L821.6 232.8L821.8 232.9L822.1 232.5L822.4 232.6L822.7 232.0L822.9 232.8L823.2 232.0L823.5 232.4L823.7 232.2L824.0 232.3L824.3 232.0L824.6 232.0L824.8 232.3L825.1 231.8L825.4 231.3L825.7 231.6L825.9 231.9L826.2 232.0L826.5 231.5L826.8 231.9L827.1 231.2L827.3 231.2L827.6 231.6L827.9 231.6L828.2 231.0L828.4 230.8L828.7 231.3L829.0 231.1L829.3 230.7L829.5 231.1L829.8 230.8L830.1 230.7L830.3 231.1L830.6 231.2L830.9 231.3L831.2 230.6L831.4 230.8L831.7 230.5L832.0 231.0L832.2 230.9L832.5 230.9L832.8 230.5L833.0 230.7L833.3 230.7L833.6 230.2L833.8 230.2L834.1 230.0L834.4 229.8L834.6 229.9L834.9 229.9L835.1 230.2L835.4 229.7L835.6 229.8L835.9 229.5L836.2 228.9L836.4 229.4L836.7 229.1L836.9 229.1L837.2 228.9L837.4 229.4L837.7 229.5L838.0 229.1L838.3 228.9L838.6 228.9L838.9 228.9L839.2 229.1L839.5 228.6L839.7 229.2L840.0 228.3L840.3 228.7L840.6 228.9L840.9 228.7L841.2 228.4L841.5 228.2L841.8 228.0L842.1 228.4L842.4 227.8L842.6 228.4L842.9 227.8L843.2 227.7L843.5 227.9L843.8 227.6L844.0 227.9L844.3 227.8L844.6 228.0L844.9 227.7L845.1 227.9L845.4 228.2L845.6 227.8L845.9 228.4L846.2 227.9L846.4 227.4L846.7 227.7L846.9 228.3L847.1 227.6L847.4 227.4L847.6 227.5L847.8 227.8L848.1 227.5L848.3 227.6L848.5 227.8L848.7 227.5L849.0 227.6L849.3 228.5L849.6 228.0L849.9 228.7L850.2 228.6L850.4 228.5L850.7 228.7L850.9 229.1L851.2 228.8L851.4 229.6L851.6 229.1L851.9 229.4L852.1 229.6L852.4 229.8L852.6 230.2L852.9 230.4L853.2 230.2L853.5 230.2L853.7 230.6L854.0 230.0L854.2 230.0L854.5 230.3L854.8 230.3L855.0 230.8L855.3 230.2L855.6 230.0L855.9 230.2L856.2 230.3L856.5 230.2L856.8 230.5L857.1 230.6L857.4 230.3L857.7 230.7L858.0 230.3L858.3 230.0L858.6 230.7L858.9 230.6L859.2 230.9L859.5 230.5L859.7 230.7L860.0 230.3L860.3 230.2L860.5 231.3L860.7 230.7L861.0 230.4L861.2 230.6L861.4 231.0L861.6 230.8L861.8 231.0L862.0 231.2L862.2 231.5L862.3 231.6L862.4 232.0L862.6 231.9L862.7 232.8L862.8 232.8L862.9 233.4L863.0 233.9L863.1 233.7L863.2 234.6L863.3 235.1L863.4 235.5L863.5 235.9L863.6 235.6L863.6 236.0L863.7 236.7L863.8 236.6L863.9 236.9L864.0 237.5L864.1 237.9L864.2 237.5L864.4 238.2L864.5 238.3L864.7 238.7L864.8 238.6L865.0 238.2L865.2 238.4L865.4 238.4L865.6 238.6L865.8 237.9L866.0 238.4L866.2 237.7L866.5 237.6L866.7 237.2L866.9 237.5L867.2 236.5L867.4 236.7L867.7 236.4L867.9 236.0L868.2 236.0L868.4 235.3L868.7 234.8L868.9 234.8L869.2 234.2L869.4 234.7L869.7 234.2L869.9 234.0L870.2 233.9L870.4 234.3L870.7 233.7L871.0 233.5L871.2 233.4L871.5 233.1L871.8 233.3L872.0 233.2L872.3 233.0L872.6 232.6L872.9 232.5L873.2 232.4L873.4 232.7L873.7 232.7L874.0 232.3L874.3 232.1L874.5 232.4L874.8 231.4L875.1 232.1L875.3 231.9L875.6 232.1L875.8 232.1L876.1 231.9L876.4 232.5L876.7 232.1L877.0 232.1L877.2 232.4L877.5 232.5L877.8 232.5L878.0 232.8L878.3 233.1L878.6 233.3L878.8 234.3L879.1 234.1L879.3 233.7L879.6 234.1L879.9 234.2L880.2 234.3L880.4 234.8L880.7 234.3L881.0 234.4L881.2 234.6L881.4 235.2L881.6 234.0L881.8 234.3L881.9 234.5L882.1 233.6L882.3 233.7L882.5 233.6L882.7 233.8L882.9 233.3L883.1 233.7L883.3 233.1L883.5 232.9L883.7 233.1L883.9 232.2L884.1 231.9L884.3 231.8L884.5 231.9L884.7 232.3L884.9 231.5L885.1 231.4L885.3 231.2L885.5 230.6L885.7 230.5L885.9 230.2L886.1 230.2L886.3 229.8L886.6 229.9L886.8 228.9L887.0 229.5L887.2 228.7L887.4 228.6L887.6 228.1L887.9 228.0L888.1 227.9L888.3 227.8L888.5 227.2L888.8 227.2L889.0 226.8L889.2 226.9L889.4 226.8L889.6 226.5L889.8 226.9L890.0 226.2L890.2 226.1L890.4 225.7L890.6 226.0L890.8 225.8L891.0 225.5L891.3 225.2L891.5 225.3L891.7 224.8L891.9 224.8L892.1 224.6L892.3 224.5L892.5 224.3L892.8 223.8L893.0 223.4L893.2 223.6L893.4 223.4L893.6 222.7L893.9 223.2L894.1 222.7L894.3 222.3L894.5 221.9L894.8 221.5L895.0 221.8L895.2 221.4L895.5 221.3L895.7 221.2L895.9 221.1L896.1 220.4L896.4 220.6L896.6 220.4L896.8 220.2L897.1 219.8L897.3 219.7L897.5 219.8L897.8 219.6L898.0 219.4L898.2 219.5L898.5 219.1L898.7 219.1L898.9 218.8L899.1 218.7L899.4 218.6L899.6 218.5L900.3 218.0L900.5 217.8L900.8 217.7L901.0 217.5L901.3 217.3L901.5 217.4L901.8 217.5L902.1 217.4L902.3 217.3L902.6 217.0L902.9 217.2L903.2 216.6L903.4 217.1L903.7 216.9L904.0 216.5L904.3 216.9L904.6 216.7L904.8 215.7L905.1 217.4L905.4 215.7L905.7 217.6L906.0 214.9L906.3 215.1L906.5 216.6L906.8 214.0L907.1 215.6L907.4 215.1L907.7 215.8L907.9 215.2L908.2 215.0L908.5 214.8L908.8 214.0L909.0 214.0L909.3 214.2L909.6 216.8L909.8 214.5L910.1 214.9L910.4 216.2L910.6 212.4L910.9 215.6L911.1 215.6L911.4 216.0L911.6 215.1L911.8 213.8L912.1 215.0L912.3 214.6L912.6 214.6L912.9 213.8L913.2 215.9L913.5 214.0L913.8 213.8L914.1 214.3L914.4 214.8L914.7 213.9L915.0 213.9L915.3 213.2L915.6 212.3L915.8 213.8L916.1 214.0L916.4 212.3L916.6 212.3L916.9 213.3L917.1 213.1L917.4 212.5L917.6 211.9L917.8 212.1L918.1 210.7L918.3 210.4L918.5 210.3L918.7 209.5L918.9 212.1L919.0 210.3L919.2 211.1L919.3 209.8L919.5 209.3L919.6 209.7L919.8 210.1L919.9 208.6L920.0 210.4L920.1 209.7L920.2 207.0L920.4 208.2L920.5 208.9L920.6 208.4L920.7 207.5L920.8 208.0L920.9 207.1L921.0 204.9L921.1 206.3L921.2 206.4L921.3 205.3L921.4 205.5L921.5 204.8L921.6 205.1L921.7 205.6L921.8 204.6L921.9 205.0L922.0 203.0L922.1 203.5L922.2 203.7L922.3 205.6L922.3 205.1L922.4 206.9L922.5 206.1L922.6 205.5L922.7 207.0L922.8 204.8L922.9 206.5L922.9 207.6L923.0 205.7L923.1 207.3L923.2 208.2L923.3 207.9L923.4 209.8L923.4 209.3L923.5 208.6L923.6 210.0L923.7 209.5L923.8 209.8L923.9 209.3L923.9 208.1L924.0 209.7L924.1 210.1L924.2 210.6L924.3 211.9L924.4 212.3L924.5 213.1L924.5 212.9L924.6 214.5L924.7 213.2L924.8 213.1L924.9 216.0L925.0 213.6L925.0 215.2L925.1 215.8L925.2 216.9L925.3 216.3L925.4 216.4L925.5 215.8L925.6 215.8L925.6 216.1L925.7 216.7L925.8 216.3L925.9 217.0L926.0 218.3L926.2 216.9L926.3 217.4L926.5 217.8L926.7 219.1L926.8 219.7L927.0 218.2L927.2 218.5L927.3 219.7L927.5 221.2L927.7 220.8L927.8 221.8L928.0 219.3L928.1 220.0L928.3 221.4L928.4 223.4L928.5 221.3L928.5 222.0L928.6 221.6L928.6 220.2L928.7 222.0L928.7 220.4L928.8 221.7L928.8 220.3L928.9 220.1L928.9 221.0L929.0 219.3L929.0 219.3L929.1 220.4L929.1 220.3L929.2 220.8L929.2 219.2L929.3 220.0L929.3 219.6L929.3 217.4L929.4 219.6L929.4 218.0L929.4 217.7L929.5 218.7L929.5 216.4L929.6 215.2L929.6 216.0L929.6 217.4L929.7 216.7L929.7 213.4L929.7 214.8L929.7 213.4L929.8 213.6L929.8 215.7L929.8 214.0L929.9 215.7L929.9 214.2L929.9 212.5L929.9 213.6L930.0 213.0L930.0 211.1L930.0 213.8L930.1 210.7L930.1 211.7L930.1 210.7L930.1 210.1L930.2 210.7L930.2 208.1L930.2 208.9L930.2 208.0L930.3 207.3L930.3 208.5L930.3 207.3L930.3 208.1L930.3 207.2L930.4 206.1L930.4 207.1L930.4 206.3L930.4 205.2L930.5 205.7L930.5 204.5L930.5 204.4L930.5 203.5L930.6 205.1L930.6 203.0L930.6 204.8L930.6 205.1L930.7 203.0L930.7 202.3L930.7 202.2L930.7 202.4L930.8 202.1L930.8 200.9L930.8 202.0L930.9 200.9L930.9 200.0L930.9 202.3L930.9 201.0L931.0 200.1L931.0 200.9L931.0 199.3L931.0 199.1L931.1 199.1L931.1 197.9L931.1 197.1L931.1 196.4L931.1 196.8L931.2 197.9L931.2 196.2L931.2 196.3L931.2 195.4L931.3 195.2L931.3 196.1L931.3 196.0L931.3 194.1L931.3 193.4L931.4 192.7L931.4 192.7L931.4 191.6L931.4 192.9L931.4 190.9L931.5 193.0L931.5 191.6L931.5 190.9L931.5 190.9L931.5 189.6L931.6 189.2L931.6 190.0L931.6 190.2L931.6 187.4L931.6 188.4L931.7 188.9L931.7 190.5L931.7 188.6L931.7 186.6L931.7 188.6L931.8 187.7L931.8 187.7L931.8 187.7L931.8 186.5L931.8 187.3L931.9 185.3L931.9 184.4L931.9 183.9L931.9 186.1L931.9 185.2L932.0 185.2L932.0 184.1L932.0 183.8L932.0 184.0L932.1 182.8L932.1 183.1L932.1 186.3L932.1 183.0L932.1 182.4L932.2 183.6L932.2 182.7L932.2 183.8L932.2 181.3L932.3 182.5L932.3 182.5L932.3 182.7L932.3 183.7L932.4 183.3L932.4 183.1L932.4 180.7L932.5 183.3L932.5 183.1L932.5 182.7L932.5 182.8L932.6 184.7L932.6 181.9L932.6 183.8L932.6 184.1L932.7 182.1L932.7 182.8L932.7 183.8L932.7 184.5L932.8 183.0L932.8 183.1L932.8 181.8L932.8 184.2L932.9 185.3L932.9 184.5L932.9 184.1L932.9 183.8L933.0 184.3L933.0 184.9L933.0 186.3L933.0 186.8L933.1 186.9L933.1 187.6L933.1 188.3L933.1 185.9L933.2 187.0L933.2 187.1L933.2 187.7L933.2 188.5L933.3 187.0L933.3 191.2L933.3 190.1L933.3 192.7L933.4 190.1L933.4 192.3L933.4 191.6L933.5 192.3L933.5 192.9L933.5 191.8L933.6 193.6L933.6 193.6L933.6 192.5L933.7 194.1L933.7 194.7L933.7 193.3L933.8 193.7L933.8 196.1L933.8 196.0L933.9 196.5L933.9 196.3L934.0 196.7L934.0 195.7L934.0 196.9L934.1 196.5L934.1 199.5L934.2 198.6L934.2 200.0L934.3 199.7L934.3 199.2L934.4 201.0L934.4 199.4L934.5 200.6L934.5 200.8L934.6 201.5L934.6 200.4L934.7 200.5L934.7 202.7L934.8 201.1L934.9 203.0L934.9 201.9L935.0 203.3L935.1 202.9L935.2 204.1L935.2 203.9L935.3 205.3L935.4 204.3L935.5 201.4L935.6 204.6L935.6 205.6L935.7 205.0L935.8 204.6L935.9 204.8L936.0 205.4L936.1 205.3L936.2 204.5L936.2 205.8L936.3 205.9L936.4 207.5L936.5 205.9L936.6 208.7L936.7 207.1L936.8 209.2L936.9 207.7L937.0 210.6L937.1 208.3L937.2 209.5L937.3 209.1L937.4 210.2L937.5 211.0L937.6 211.7L937.7 211.6L937.8 210.2L937.9 213.3L938.0 211.0L938.1 210.8L938.2 212.5L938.3 211.3L938.5 210.4L938.6 211.3L938.7 213.2L938.8 213.3L938.9 214.5L939.0 213.9L939.1 212.9L939.2 215.6L939.4 214.3L939.5 214.3L939.6 214.9L939.7 215.8L939.8 213.8L940.0 215.2L940.1 216.5L940.2 216.2L940.4 215.3L940.5 216.9L940.6 217.7L940.8 215.6L940.9 216.9L941.1 216.7L941.2 218.2L941.4 216.1L941.5 218.2L941.7 217.0L941.8 219.5L942.0 217.8L942.1 219.3L942.3 220.0L942.4 219.7L942.6 219.8L942.7 220.3L942.9 219.2L943.0 219.8L943.2 221.8L943.3 222.0L943.5 220.4L943.7 221.8L943.8 220.3L944.0 221.5L944.1 222.2L944.3 225.7L944.5 223.5L944.6 221.9L944.8 224.2L944.9 224.2L945.1 224.7L945.3 224.1L945.4 223.6L945.6 224.2L945.8 225.2L945.9 224.4L946.1 224.1L946.4 224.0L946.6 223.5L946.9 225.5L947.1 224.5L947.4 223.4L947.7 225.1L947.9 223.1L948.2 224.7L948.5 224.3L948.8 224.3L949.0 224.3L949.3 227.8L949.6 224.8L949.9 225.0L950.1 224.2L950.4 225.4L950.7 226.3L951.0 226.4L951.3 226.4L951.5 225.2L951.8 225.7L952.0 224.9L952.3 224.6L952.6 223.9L952.8 225.6L953.1 224.3L953.3 226.7L953.6 223.0L953.9 225.3L954.2 225.3L954.4 224.0L954.7 225.7L955.0 225.7L955.2 224.7L955.5 225.0L955.8 224.1L956.1 223.7L956.3 224.2L956.6 224.7L956.9 222.9L957.1 224.7L957.4 223.2L957.6 221.9L957.9 224.5L958.1 223.4L958.4 222.5L958.6 223.0L958.8 221.8L959.1 223.2L959.3 222.3L959.6 222.5L959.8 223.5L960.0 223.0L960.3 222.7L960.5 223.8L960.8 223.9L961.0 224.5L961.2 224.8L961.5 223.4L961.7 224.4L962.0 224.5L962.2 224.5L962.4 224.8L962.7 226.3L962.9 226.6L963.2 225.7L963.4 225.8L963.7 225.3L963.9 225.2L964.2 225.7L964.4 225.3L964.7 225.1L965.0 224.8L965.3 225.4L965.6 224.8L965.9 224.1L966.1 224.9L966.4 222.8L966.7 224.2L967.0 223.9L967.3 224.2L967.6 224.1L967.9 223.0L968.1 224.4L968.4 224.8L968.7 226.8L968.9 225.5L969.2 225.2L969.4 225.0L969.7 225.6L969.9 223.6L970.1 225.1L970.3 224.7L970.5 225.7L970.7 224.5L970.9 227.0L971.0 224.9L971.2 226.4L971.3 227.9L971.4 225.9L971.6 225.9L971.7 227.1L971.8 225.8L971.9 227.8L972.0 226.9L972.1 228.0L972.2 228.8L972.4 227.1L972.5 228.2L972.6 228.7L972.7 230.0L972.8 230.8L972.9 230.6L973.1 230.7L973.2 231.0L973.4 231.5L973.5 229.8L973.6 230.2L973.8 229.2L973.9 232.0L974.1 230.2L974.2 230.2L974.4 230.7L974.5 229.5L974.7 230.0L974.8 230.3L975.0 229.6L975.2 227.7L975.3 227.3L975.5 227.2L975.7 228.2L975.8 229.3L976.0 228.3L976.2 226.9L976.3 226.2L976.5 227.0L976.7 226.1L976.9 225.8L977.0 227.3L977.2 226.0L977.4 227.1L977.5 227.0L977.7 228.0L977.9 225.0L978.1 225.2L978.2 223.9L978.4 225.1L978.6 225.0L978.8 223.6L979.0 224.6L979.2 222.6L979.4 223.3L979.6 223.5L979.8 223.7L980.0 222.8L980.2 222.0L980.4 221.7L980.6 221.1L980.8 222.8L981.0 220.9L981.2 219.8L981.4 221.0L981.6 220.9L981.8 220.2L982.0 221.1L982.2 218.7L982.4 220.1L982.6 220.5L982.8 220.9L983.0 222.0L983.2 220.1L983.4 218.6L983.5 218.7L983.7 217.2L983.9 217.8L984.0 218.7L984.2 219.8L984.4 216.9L984.5 217.7L984.7 217.2L984.8 217.9L985.0 216.6L985.2 215.5L985.3 215.0L985.5 216.9L985.7 215.1L985.8 215.9L986.0 214.0L986.1 215.6L986.3 214.4L986.5 214.0L986.6 213.4L986.8 213.9L986.9 214.0L987.1 213.3L987.3 212.6L987.4 212.4L987.6 213.2L987.8 211.8L987.9 211.5L988.1 212.0L988.3 212.9L988.5 211.7L988.7 211.9L988.9 213.9L989.1 213.9L989.3 212.9L989.5 215.1L989.7 213.1L989.9 213.8L990.1 215.2L990.3 216.5L990.5 214.7L990.7 215.2L990.9 216.4L991.1 213.9L991.3 217.4L991.5 215.1L991.7 216.3L991.9 217.7L992.1 217.1L992.3 216.2L992.5 217.8L992.7 218.9L992.9 219.7L993.1 218.9L993.2 218.2L993.4 219.4L993.5 220.3L993.7 220.1L993.8 219.6L994.0 220.2L994.1 218.7L994.3 221.6L994.4 220.0L994.6 220.8L994.7 220.4L994.9 220.7L995.0 222.7L995.1 221.4L995.3 222.7L995.4 221.3L995.6 223.0L995.7 222.2L995.9 222.9L996.0 223.0L996.1 222.2L996.3 223.5L996.4 223.9L996.6 222.3L996.7 224.0L996.8 224.7L997.0 225.4L997.1 225.5L997.3 224.4L997.4 225.4L997.6 224.6L997.7 225.5L997.9 227.4L998.1 225.5L998.4 225.3L998.6 225.9L998.8 227.5L999.0 225.4L999.3 226.9L999.5 228.0L999.7 227.7L999.9 229.2L1000.2 228.7L1000.4 229.3L1000.6 228.0L1000.8 229.9L1001.0 229.2L1001.1 229.5L1001.2 229.3L1001.4 230.3L1001.5 229.1L1001.6 229.6L1001.7 228.8L1001.8 226.6L1001.9 227.7L1002.0 228.3L1002.1 226.3L1002.2 226.7L1002.3 225.1L1002.4 224.3L1002.5 226.0L1002.6 224.7L1002.7 225.3L1002.8 223.9L1002.9 224.0L1003.0 223.2L1003.1 224.6L1003.2 223.8L1003.3 225.0L1003.4 224.6L1003.5 222.7L1003.6 221.9L1003.7 220.1L1003.8 220.9L1004.0 221.2L1004.1 219.9L1004.2 219.3L1004.3 218.8L1004.4 220.5L1004.6 219.8L1004.7 220.3L1004.9 218.9L1005.0 220.1L1005.2 219.5L1005.5 218.9L1005.7 219.1L1006.0 222.2L1006.2 218.9L1006.5 219.7L1006.8 219.9L1007.1 222.4L1007.3 220.0L1007.6 221.1L1007.9 220.8L1008.2 220.8L1008.4 220.8L1008.7 220.5L1009.0 220.6L1009.2 222.4L1009.4 220.5L1009.7 221.3L1009.9 221.4L1010.1 219.9L1010.3 221.4L1010.6 219.3L1010.8 217.8L1011.0 219.6L1011.2 219.4L1011.4 219.6L1011.7 219.5L1011.9 219.9L1012.1 218.7L1012.4 217.0L1012.6 217.6L1012.9 218.5L1013.1 218.4L1013.4 218.0L1013.6 218.2L1013.9 217.4L1014.1 217.2L1014.4 216.7L1014.6 218.0L1014.8 217.6L1015.1 218.0L1015.3 216.4L1015.6 218.1L1015.8 215.9L1016.1 217.5L1016.3 219.7L1016.6 218.4L1016.9 219.2L1017.1 218.8L1017.4 220.1L1017.7 219.1L1017.9 217.9L1018.2 219.4L1018.5 218.1L1018.8 218.8L1019.0 218.6L1019.3 218.7L1019.6 220.7L1019.9 219.5L1020.2 219.2L1020.5 220.3L1020.8 221.2L1021.0 219.3L1021.3 220.7L1021.6 219.7L1021.9 219.6L1022.1 219.2L1022.4 220.7L1022.6 220.1L1022.9 219.6L1023.2 218.1L1023.4 218.1L1023.7 218.6L1023.9 219.4L1024.2 220.6L1024.5 219.0L1024.7 218.5L1025.0 217.2L1025.3 219.2L1025.5 219.8L1025.8 219.5L1026.1 218.1L1026.3 218.7L1026.6 217.9L1026.9 218.1L1027.2 217.9L1027.4 217.8L1027.7 217.7L1028.0 218.1L1028.3 218.0L1028.5 217.9L1028.8 217.6L1029.1 217.6L1029.4 217.5L1029.6 217.3L1029.9 217.2L1030.7 216.9L1031.6 216.6L1032.4 216.3L1033.2 216.1L1034.0 215.9L1034.8 215.6L1035.6 215.4L1036.4 215.1L1037.2 214.9L1038.0 214.6L1038.8 214.3L1039.6 214.1L1040.4 213.9L1041.2 213.6L1042.0 213.4L1042.8 213.2L1043.7 213.1L1044.5 212.9L1045.3 212.8L1046.1 212.7L1046.8 212.6L1047.6 212.5L1048.4 212.4L1049.2 212.3L1050.0 212.3L1050.8 212.2L1051.6 212.2L1052.4 212.2L1053.2 212.2L1054.0 212.1L1054.9 212.1L1055.7 212.1L1056.6 212.1L1057.4 212.1L1058.2 212.1L1058.9 212.1L1059.7 212.1L1060.5 212.1L1061.3 212.2L1062.2 212.2L1063.0 212.2L1063.8 212.2L1064.6 212.3L1065.4 212.3L1066.3 212.4L1067.1 212.4L1067.9 212.5L1068.7 212.5L1069.6 212.6L1070.4 212.6L1071.2 212.7L1072.0 212.8L1072.7 212.8L1073.5 212.9L1074.4 213.0L1075.2 213.0L1076.1 213.1L1077.0 213.2L1077.9 213.2L1078.8 213.3L1079.7 213.4L1080.5 213.5L1081.4 213.6L1082.2 213.6L1083.0 213.8L1083.8 213.9L1084.5 214.0L1085.2 214.2L1085.9 214.3L1086.5 214.5L1087.4 214.8L1088.3 215.2L1089.0 215.5L1089.7 215.9L1090.4 216.4L1091.0 217.0L1091.5 217.5L1092.0 218.1L1092.4 218.8L1092.8 219.5L1093.2 220.3L1093.6 221.0L1094.0 221.8L1094.4 222.5L1094.8 223.2L1095.3 224.0L1095.8 224.8L1096.3 225.6L1096.7 226.4L1097.3 227.2L1097.8 227.9L1098.3 228.4L1098.9 228.9L1099.7 229.3L1100.5 229.6L1101.3 229.7L1102.1 229.8L1102.9 229.7L1103.7 229.4L1104.5 228.7L1105.3 228.0L1106.1 227.5L1106.9 227.3L1107.6 227.5L1108.3 227.8L1109.1 228.4L1109.8 229.0L1110.4 229.7L1111.0 230.5L1111.4 231.1L1111.7 231.8L1112.0 232.5L1112.2 233.3L1112.5 234.1L1112.7 234.9L1112.9 235.8L1113.1 236.7L1113.2 237.6L1113.4 238.5L1113.5 239.2L1113.6 240.0L1113.8 240.7L1113.8 241.5L1113.9 242.3L1114.0 243.1L1114.1 243.9L1114.1 244.7L1114.2 245.5L1114.2 246.4L1114.3 247.2L1114.4 248.1L1114.4 248.9L1114.5 249.8L1114.5 250.6L1114.6 251.5L1114.7 252.3L1114.7 253.0L1114.8 253.8L1114.9 254.6L1114.9 255.4L1115.0 256.2L1115.0 257.0L1115.1 257.8L1115.2 258.6L1115.2 259.4L1115.3 260.3L1115.4 261.1L1115.4 261.9L1115.5 262.7L1115.5 263.5L1115.6 264.4L1115.6 265.2L1115.7 266.0L1115.7 266.8L1115.8 267.6L1115.8 268.4L1115.9 269.2L1115.9 270.0L1116.0 270.9L1116.0 271.7L1116.1 272.5L1116.1 273.3L1116.1 274.2L1116.2 275.0L1116.2 275.8L1116.3 276.6L1116.3 277.5L1116.3 278.3L1116.4 279.1L1116.4 279.9L1116.4 280.7L1116.5 281.4L1116.5 282.2L1116.6 283.0L1116.6 283.7L1116.7 284.6L1116.7 285.4L1116.8 286.2L1116.8 286.9L1116.9 287.7L1116.9 288.4L1117.0 289.2L1117.0 289.9L1117.1 290.7L1117.2 291.5L1117.2 292.3L1117.3 293.1L1117.3 294.0L1117.4 295.0L1117.4 295.6L1117.5 296.3L1117.5 297.0L1117.6 297.7L1117.6 298.4L1117.7 299.1L1117.7 299.8L1117.8 300.6L1117.8 301.3L1117.9 302.1L1117.9 302.9L1118.0 303.7L1118.0 304.5L1118.1 305.3L1118.1 306.1L1118.2 306.9L1118.2 307.8L1118.3 308.6L1118.3 309.5L1118.4 310.3L1118.4 311.2L1118.5 312.0L1118.5 312.9L1118.6 313.7L1118.6 314.6L1118.7 315.5L1118.7 316.3L1118.8 317.2L1118.8 318.1L1118.8 318.9L1118.9 319.8L1118.9 320.6L1119.0 321.5L1119.0 322.3L1119.0 323.1L1119.1 323.8L1119.1 324.6L1119.1 325.4L1119.1 326.2L1119.2 327.0L1119.2 327.8L1119.2 328.5L1119.3 329.3L1119.3 330.1L1119.3 330.9L1119.3 331.7L1119.3 332.5L1119.4 333.3L1119.4 334.1L1119.4 334.9L1119.4 335.7L1119.4 336.5L1119.5 337.3L1119.5 338.1L1119.5 338.9L1119.5 339.8L1119.5 340.6L1119.5 341.4L1119.6 342.2L1119.6 343.0L1119.6 343.8L1119.6 344.6L1119.6 345.5L1119.6 346.3L1119.7 347.1L1119.7 347.9L1119.7 348.7L1119.7 349.6L1119.7 350.4L1119.7 351.2L1119.8 352.0L1119.8 352.9L1119.8 353.7L1119.8 354.5L1119.8 355.3L1119.8 356.1L1119.8 356.8L1119.9 357.6L1119.9 358.4L1119.9 359.1L1119.9 359.9L1119.9 360.7L1119.9 361.4L1119.9 362.2L1119.9 362.9L1120.0 363.7L1120.0 364.4L1120.0 365.2L1120.0 365.9L1120.0 366.7L1120.0 367.4L1120.0 368.2L1120.0 368.9L1120.0 369.7L1120.1 370.5L1120.1 371.2L1120.1 372.0L1120.1 372.8L1120.1 373.6L1120.1 374.3L1120.1 375.1L1120.1 375.9L1120.1 376.8L1120.1 377.6L1120.2 378.4L1120.2 379.2L1120.2 380.1L1120.2 380.9L1120.2 381.8L1120.2 382.6L1120.2 383.5L1120.2 384.4L1120.2 385.3L1120.3 386.2L1120.3 387.1L1120.3 388.1L1120.3 389.0L1120.3 390.0L1120.3 390.6L1120.3 391.3L1120.3 391.9L1120.3 392.6L1120.3 393.3L1120.3 393.9L1120.4 394.6L1120.4 395.3L1120.4 396.0L1120.4 396.7L1120.4 397.4L1120.4 398.1L1120.4 398.8L1120.4 399.6L1120.4 400.3L1120.4 401.0L1120.4 401.8L1120.4 402.5L1120.4 403.2L1120.4 404.0L1120.5 404.8L1120.5 405.5L1120.5 406.3L1120.5 407.1L1120.5 407.8L1120.5 408.6L1120.5 409.4L1120.5 410.2L1120.5 411.0L1120.5 411.8L1120.5 412.6L1120.5 413.4L1120.5 414.2L1120.5 415.0L1120.6 415.8L1120.6 416.6L1120.6 417.4L1120.6 418.3L1120.6 419.1L1120.6 419.9L1120.6 420.8L1120.6 421.6L1120.6 422.4L1120.6 423.3L1120.6 424.1L1120.6 424.9L1120.6 425.8L1120.6 426.6L1120.7 427.5L1120.7 428.3L1120.7 429.2L1120.7 430.0L1120.7 430.9L1120.7 431.7L1120.7 432.6L1120.7 433.4L1120.7 434.3L1120.7 435.2L1120.7 436.0L1120.7 436.9L1120.8 437.7L1120.8 438.6L1120.8 439.4L1120.8 440.3L1120.8 441.2L1120.8 442.0L1120.8 442.9L1120.8 443.7L1120.8 444.6L1120.8 445.4L1120.8 446.3L1120.8 447.1L1120.9 448.0L1120.9 448.8L1120.9 449.7L1120.9 450.5L1120.9 451.4L1120.9 452.2L1120.9 453.1L1120.9 453.9L1120.9 454.8L1121.0 455.6L1121.0 456.4L1121.0 457.3L1121.0 458.1L1121.0 458.9L1121.0 459.7L1121.0 460.6L1121.0 461.4L1121.0 462.2L1121.1 463.0L1121.1 463.8L1121.1 464.6L1121.1 465.4L1121.1 466.2L1121.1 467.0L1121.1 467.8L1121.1 468.6L1121.2 469.4L1121.2 470.2L1121.2 470.9L1121.2 471.7L1121.2 472.5L1121.2 473.4L1121.2 474.2L1121.3 475.1L1121.3 475.9L1121.3 476.7L1121.3 477.6L1121.3 478.4L1121.3 479.3L1121.4 480.1L1121.4 480.9L1121.4 481.8L1121.4 482.6L1121.4 483.5L1121.4 484.3L1121.5 485.1L1121.5 486.0L1121.5 486.8L1121.5 487.6L1121.5 488.5L1121.5 489.3L1121.6 490.2L1121.6 491.0L1121.6 491.8L1121.6 492.7L1121.6 493.5L1121.7 494.3L1121.7 495.2L1121.7 496.0L1121.7 496.8L1121.7 497.7L1121.7 498.5L1121.8 499.3L1121.8 500.1L1121.8 501.0L1121.8 501.8L1121.8 502.6L1121.9 503.4L1121.9 504.3L1121.9 505.1L1121.9 505.9L1121.9 506.7L1122.0 507.5L1122.0 508.4L1122.0 509.2L1122.0 510.0L1122.0 510.8L1122.1 511.6L1122.1 512.4L1122.1 513.2L1122.1 514.0L1122.1 514.8L1122.2 515.6L1122.2 516.4L1122.2 517.2L1122.2 518.0L1122.3 518.8L1122.3 519.6L1122.3 520.4L1122.3 521.2L1122.3 522.0L1122.4 522.8L1122.4 523.6L1122.4 524.4L1122.4 525.1L1122.5 525.9L1122.5 526.7L1122.5 527.5L1122.5 528.2L1122.6 529.0L1122.6 529.8L1122.6 530.5L1122.6 531.3L1122.7 532.1L1122.7 532.8L1122.7 533.6L1122.8 534.3L1122.8 535.1L1122.8 535.8L1122.8 536.6L1122.9 537.3L1122.9 538.1L1122.9 538.8L1122.9 539.5L1123.0 540.3L1123.0 541.0L1123.0 541.9L1123.1 542.8L1123.1 543.8L1123.1 544.7L1123.2 545.7L1123.2 546.7L1123.2 547.7L1123.3 548.7L1123.3 549.8L1123.4 550.8L1123.4 551.8L1123.4 552.9L1123.5 554.0L1123.5 555.1L1123.5 556.1L1123.6 557.2L1123.6 558.3L1123.6 559.4L1123.7 560.5L1123.7 561.5L1123.7 562.6L1123.8 563.7L1123.8 564.7L1123.9 565.8L1123.9 566.9L1123.9 567.9L1124.0 568.9L1124.0 569.9L1124.1 570.9L1124.1 571.9L1124.1 572.9L1124.2 573.8L1124.2 574.8L1124.3 575.7L1124.3 576.6L1124.4 577.4L1124.4 578.3L1124.4 579.1L1124.5 579.9L1124.5 580.6L1124.6 581.4L1124.6 582.1L1124.7 582.7L1124.7 583.4L1124.8 584.0L1124.8 584.5L1124.9 585.1L1124.9 585.5L1125.0 586.0L1125.0 586.4L1125.1 586.8L1125.1 587.1L1125.2 587.4L1125.3 587.6L1125.3 587.8L1125.4 587.9L1125.4 588.0L1125.5 588.0L1125.6 588.0L1125.7 587.9L1125.7 587.7L1125.8 587.4L1125.9 587.1L1126.0 586.7L1126.1 586.2L1126.2 585.7L1126.3 585.2L1126.4 584.5L1126.5 583.9L1126.6 583.2L1126.7 582.4L1126.8 581.6L1126.9 580.7L1127.0 579.9L1127.1 579.0L1127.2 578.0L1127.3 577.1L1127.4 576.1L1127.5 575.1L1127.6 574.0L1127.7 573.0L1127.8 571.9L1127.9 570.9L1128.0 569.8L1128.1 568.7L1128.2 567.6L1128.3 566.6L1128.4 565.5L1128.5 564.4L1128.6 563.4L1128.7 562.3L1128.8 561.3L1128.8 560.3L1128.9 559.4L1129.0 558.4L1129.1 557.7L1129.1 557.0L1129.2 556.4L1129.2 555.7L1129.3 554.9L1129.3 554.2L1129.4 553.5L1129.4 552.8L1129.5 552.0L1129.5 551.3L1129.6 550.5L1129.6 549.7L1129.6 548.9L1129.7 548.2L1129.7 547.4L1129.8 546.6L1129.8 545.8L1129.9 544.9L1129.9 544.1L1130.0 543.3L1130.0 542.5L1130.0 541.6L1130.1 540.8L1130.1 540.0L1130.2 539.1L1130.2 538.3L1130.2 537.4L1130.3 536.6L1130.3 535.7L1130.3 534.9L1130.4 534.0L1130.4 533.1L1130.5 532.3L1130.5 531.4L1130.5 530.5L1130.6 529.7L1130.6 528.8L1130.6 527.9L1130.7 527.1L1130.7 526.2L1130.7 525.3L1130.8 524.5L1130.8 523.6L1130.8 522.8L1130.8 521.9L1130.9 521.0L1130.9 520.2L1130.9 519.3L1131.0 518.5L1131.0 517.6L1131.0 516.8L1131.0 516.0L1131.1 515.1L1131.1 514.3L1131.1 513.5L1131.1 512.7L1131.2 511.9L1131.2 511.1L1131.2 510.3L1131.2 509.5L1131.3 508.7L1131.3 507.9L1131.3 507.2L1131.3 506.4L1131.3 505.7L1131.4 504.9L1131.4 504.2L1131.4 503.5L1131.4 502.8L1131.4 502.1L1131.5 501.4L1131.5 500.7L1131.5 500.0L1131.5 499.1L1131.5 498.1L1131.6 497.2L1131.6 496.3L1131.6 495.4L1131.6 494.5L1131.6 493.7L1131.6 492.8L1131.6 492.0L1131.7 491.1L1131.7 490.3L1131.7 489.4L1131.7 488.6L1131.7 487.8L1131.7 487.0L1131.7 486.2L1131.7 485.4L1131.7 484.6L1131.7 483.8L1131.7 483.0L1131.7 482.3L1131.7 481.5L1131.7 480.7L1131.7 479.9L1131.7 479.2L1131.7 478.4L1131.7 477.6L1131.7 476.9L1131.7 476.1L1131.7 475.4L1131.7 474.6L1131.7 473.8L1131.7 473.1L1131.8 472.3L1131.8 471.5L1131.8 470.8L1131.8 470.0L1131.8 469.2L1131.8 468.3L1131.9 467.5L1131.9 466.7L1131.9 465.9L1131.9 465.1L1132.0 464.2L1132.0 463.4L1132.0 462.6L1132.0 461.8L1132.1 461.1L1132.1 460.3L1132.1 459.5L1132.2 458.7L1132.2 457.9L1132.2 457.1L1132.3 456.3L1132.3 455.5L1132.3 454.7L1132.4 453.9L1132.4 453.2L1132.4 452.4L1132.5 451.6L1132.5 450.8L1132.5 449.9L1132.5 449.1L1132.6 448.3L1132.6 447.5L1132.6 446.7L1132.7 445.8L1132.7 445.0L1132.7 444.2L1132.8 443.4L1132.8 442.7L1132.8 441.9L1132.8 441.1L1132.9 440.3L1132.9 439.5L1132.9 438.6L1132.9 437.8L1133.0 437.0L1133.0 436.2L1133.0 435.4L1133.1 434.6L1133.1 433.7L1133.1 432.9L1133.1 432.1L1133.2 431.2L1133.2 430.4L1133.2 429.6L1133.2 428.8L1133.3 427.9L1133.3 427.1L1133.3 426.3L1133.3 425.4L1133.4 424.6L1133.4 423.8L1133.4 423.0L1133.5 422.2L1133.5 421.4L1133.5 420.5L1133.5 419.7L1133.6 418.9L1133.6 418.1L1133.6 417.3L1133.6 416.6L1133.7 415.8L1133.7 415.0L1133.7 414.2L1133.8 413.3L1133.8 412.5L1133.8 411.7L1133.8 410.9L1133.9 410.1L1133.9 409.2L1133.9 408.4L1134.0 407.6L1134.0 406.8L1134.0 406.1L1134.0 405.3L1134.1 404.5L1134.1 403.7L1134.1 402.9L1134.2 402.1L1134.2 401.3L1134.2 400.5L1134.3 399.7L1134.3 398.9L1134.3 398.2L1134.3 397.4L1134.4 396.6L1134.4 395.8L1134.4 394.9L1134.5 394.1L1134.5 393.3L1134.5 392.5L1134.5 391.7L1134.6 390.8L1134.6 390.0L1134.6 389.2L1134.7 388.4L1134.7 387.7L1134.7 386.9L1134.7 386.1L1134.8 385.3L1134.8 384.5L1134.8 383.7L1134.8 382.9L1134.9 382.1L1134.9 381.2L1134.9 380.4L1134.9 379.6L1135.0 378.8L1135.0 378.0L1135.0 377.2L1135.1 376.3L1135.1 375.5L1135.1 374.7L1135.1 373.9L1135.2 373.0L1135.2 372.2L1135.2 371.4L1135.2 370.6L1135.3 369.8L1135.3 368.9L1135.3 368.1L1135.4 367.3L1135.4 366.5L1135.4 365.7L1135.4 364.8L1135.5 364.0L1135.5 363.2L1135.5 362.4L1135.5 361.6L1135.6 360.8L1135.6 360.0L1135.6 359.2L1135.7 358.4L1135.7 357.5L1135.7 356.7L1135.7 355.9L1135.7 355.1L1135.8 354.2L1135.8 353.4L1135.8 352.6L1135.8 351.7L1135.9 350.9L1135.9 350.1L1135.9 349.3L1135.9 348.4L1135.9 347.6L1136.0 346.8L1136.0 346.0L1136.0 345.1L1136.0 344.3L1136.1 343.5L1136.1 342.7L1136.1 341.9L1136.1 341.1L1136.2 340.3L1136.2 339.5L1136.2 338.7L1136.3 337.9L1136.3 337.2L1136.3 336.4L1136.4 335.7L1136.4 334.9L1136.5 334.2L1136.5 333.4L1136.5 332.7L1136.6 332.0L1136.7 331.1L1136.7 330.2L1136.8 329.4L1136.9 328.5L1137.0 327.7L1137.0 326.9L1137.1 326.1L1137.2 325.3L1137.3 324.5L1137.4 323.7L1137.5 322.9L1137.6 322.2L1137.7 321.4L1137.8 320.6L1137.9 319.8L1138.0 319.1L1138.1 318.3L1138.2 317.5L1138.3 316.7L1138.4 315.9L1138.5 315.0L1138.6 314.2L1138.7 313.4L1138.8 312.6L1138.9 311.8L1139.0 311.0L1139.1 310.2L1139.3 309.3L1139.4 308.5L1139.5 307.7L1139.6 306.8L1139.7 306.0L1139.9 305.1L1140.0 304.3L1140.1 303.4L1140.2 302.6L1140.4 301.7L1140.5 300.9L1140.6 300.0L1140.7 299.2L1140.8 298.4L1141.0 297.6L1141.1 296.8L1141.2 296.0L1141.3 295.2L1141.4 294.5L1141.5 293.7L1141.6 293.0L1141.7 292.1L1141.8 291.2L1141.9 290.3L1142.0 289.5L1142.1 288.6L1142.2 287.8L1142.3 287.0L1142.3 286.2L1142.4 285.4L1142.5 284.6L1142.6 283.8L1142.7 283.0L1142.8 282.2L1142.9 281.4L1143.1 280.5L1143.2 279.7L1143.3 278.9L1143.5 278.1L1143.6 277.3L1143.8 276.5L1144.0 275.7L1144.1 274.9L1144.3 274.1L1144.5 273.3L1144.7 272.4L1144.9 271.6L1145.1 270.8L1145.3 270.0L1145.5 269.2L1145.7 268.4L1145.9 267.6L1146.1 266.8L1146.3 266.0L1146.5 265.2L1146.7 264.4L1146.9 263.6L1147.1 262.7L1147.4 261.9L1147.6 261.1L1147.8 260.2L1148.0 259.4L1148.2 258.6L1148.5 257.8L1148.7 257.0L1149.0 256.2L1149.2 255.4L1149.4 254.6L1149.7 253.8L1150.0 253.0L1150.2 252.2L1150.5 251.5L1150.8 250.7L1151.1 249.9L1151.4 249.1L1151.8 248.3L1152.1 247.6L1152.4 246.8L1152.8 246.0L1153.1 245.3L1153.5 244.6L1153.8 243.8L1154.2 243.1L1154.6 242.4L1154.9 241.7L1155.3 241.0L1155.7 240.2L1156.1 239.4L1156.6 238.7L1157.0 237.9L1157.4 237.1L1157.8 236.4L1158.3 235.7L1158.7 235.0L1159.2 234.3L1159.7 233.6L1160.2 232.9L1160.7 232.3L1161.3 231.6L1161.8 231.0L1162.4 230.3L1163.0 229.7L1163.6 229.1L1164.2 228.6L1164.8 228.0L1165.4 227.5L1166.0 227.0L1166.6 226.5L1167.3 226.0L1168.0 225.5L1168.8 225.1L1169.5 224.7L1170.2 224.3L1170.9 223.9L1171.6 223.6L1172.3 223.2L1173.1 222.7L1173.9 222.1L1174.7 221.6L1175.4 221.1L1176.1 220.8L1176.7 220.8L1177.4 221.3L1178.0 222.2L1178.7 223.2L1179.3 223.7L1179.9 224.1L1180.7 224.6L1181.5 225.0L1182.3 225.5L1183.0 226.1L1183.8 226.6L1184.4 227.3L1184.9 227.9L1185.3 228.5L1185.7 229.2L1186.1 229.9L1186.5 230.6L1186.8 231.4L1187.2 232.2L1187.5 232.9L1187.8 233.7L1188.1 234.5L1188.4 235.3L1188.7 236.1L1188.9 236.8L1189.1 237.6L1189.3 238.4L1189.5 239.2L1189.7 240.0L1189.9 240.9L1190.1 241.7L1190.2 242.5L1190.4 243.3L1190.6 244.2L1190.8 245.0L1191.0 245.8L1191.2 246.6L1191.4 247.4L1191.6 248.2L1191.8 249.0L1192.0 249.8L1192.2 250.6L1192.4 251.4L1192.6 252.2L1192.8 253.0L1193.0 253.8L1193.2 254.7L1193.4 255.5L1193.6 256.3L1193.8 257.1L1193.9 257.9L1194.1 258.7L1194.3 259.5L1194.4 260.3L1194.6 261.1L1194.8 261.9L1195.0 262.7L1195.1 263.5L1195.3 264.4L1195.5 265.2L1195.6 266.0L1195.8 266.8L1196.0 267.6L1196.2 268.4L1196.4 269.2L1196.5 270.0L1196.7 270.8L1196.9 271.6L1197.1 272.4L1197.3 273.2L1197.4 274.0L1197.6 274.9L1197.8 275.7L1198.0 276.5L1198.2 277.3L1198.3 278.1L1198.5 278.9L1198.7 279.7L1198.9 280.5L1199.1 281.3L1199.2 282.1L1199.4 282.9L1199.6 283.7L1199.8 284.5L1200.0 285.3L1200.1 286.1L1200.3 286.9L1200.5 287.7L1200.6 288.5L1200.8 289.4L1200.9 290.2L1201.1 291.1L1201.2 292.0L1201.3 292.7L1201.4 293.5L1201.5 294.3L1201.6 295.0L1201.6 295.8L1201.7 296.6L1201.8 297.4L1201.8 298.2L1201.9 299.0L1201.9 299.8L1202.0 300.6L1202.0 301.4L1202.1 302.2L1202.1 303.1L1202.2 303.9L1202.2 304.8L1202.3 305.6L1202.3 306.5L1202.3 307.4L1202.4 308.2L1202.4 309.1L1202.5 310.0L1202.5 310.7L1202.6 311.5L1202.6 312.3L1202.7 313.0L1202.7 313.8L1202.8 314.6L1202.8 315.3L1202.8 316.1L1202.9 316.9L1202.9 317.7L1202.9 318.5L1203.0 319.3L1203.0 320.1L1203.0 321.0L1203.1 321.8L1203.1 322.6L1203.2 323.4L1203.2 324.2L1203.2 325.1L1203.3 325.9L1203.3 326.7L1203.4 327.6L1203.4 328.4L1203.4 329.2L1203.5 330.0L1203.5 330.9L1203.6 331.7L1203.6 332.5L1203.7 333.4L1203.7 334.2L1203.8 335.0L1203.9 335.8L1203.9 336.6L1204.0 337.4L1204.0 338.2L1204.1 339.0L1204.1 339.9L1204.2 340.7L1204.3 341.5L1204.3 342.3L1204.4 343.1L1204.4 343.9L1204.5 344.8L1204.6 345.6L1204.6 346.4L1204.7 347.2L1204.8 348.0L1204.8 348.9L1204.9 349.7L1205.0 350.5L1205.1 351.3L1205.1 352.2L1205.2 353.0L1205.3 353.8L1205.4 354.6L1205.4 355.5L1205.5 356.3L1205.6 357.1L1205.7 357.9L1205.8 358.7L1205.9 359.6L1206.0 360.4L1206.1 361.2L1206.2 362.0L1206.3 362.8L1206.4 363.7L1206.5 364.6L1206.6 365.6L1206.8 366.6L1206.9 367.6L1207.0 368.6L1207.1 369.6L1207.3 370.7L1207.4 371.8L1207.5 372.8L1207.7 373.9L1207.8 375.0L1208.0 376.0L1208.1 377.1L1208.3 378.1L1208.4 379.1L1208.5 380.1L1208.7 381.0L1208.8 381.9L1209.0 382.8L1209.1 383.6L1209.3 384.4L1209.4 385.1L1209.6 385.8L1209.7 386.4L1209.9 386.9L1210.0 387.4L1210.1 387.8L1210.3 388.1L1210.4 388.3L1210.6 388.5L1210.7 388.5L1210.9 388.4L1211.0 388.3L1211.2 387.9L1211.4 387.5L1211.5 387.0L1211.7 386.4L1211.8 385.7L1212.0 385.0L1212.2 384.2L1212.3 383.3L1212.5 382.3L1212.7 381.3L1212.8 380.3L1213.0 379.3L1213.2 378.2L1213.3 377.1L1213.5 376.0L1213.6 375.0L1213.8 373.9L1213.9 372.8L1214.1 371.8L1214.2 370.8L1214.4 369.9L1214.5 369.0L1214.6 368.3L1214.7 367.5L1214.8 366.7L1214.9 366.0L1215.1 365.2L1215.2 364.4L1215.3 363.7L1215.4 362.9L1215.5 362.1L1215.6 361.3L1215.6 360.5L1215.7 359.7L1215.8 358.9L1215.9 358.1L1216.0 357.3L1216.1 356.5L1216.2 355.7L1216.3 354.9L1216.4 354.1L1216.4 353.3L1216.5 352.5L1216.6 351.7L1216.7 350.9L1216.8 350.1L1216.9 349.2L1217.0 348.4L1217.0 347.6L1217.1 346.8L1217.2 345.9L1217.3 345.1L1217.4 344.3L1217.5 343.5L1217.6 342.7L1217.6 341.9L1217.7 341.1L1217.8 340.3L1217.9 339.5L1218.0 338.7L1218.0 337.8L1218.1 337.0L1218.2 336.2L1218.3 335.4L1218.4 334.5L1218.4 333.7L1218.5 332.8L1218.6 332.0L1218.7 331.2L1218.7 330.3L1218.8 329.5L1218.9 328.7L1219.0 327.8L1219.0 327.0L1219.1 326.2L1219.2 325.3L1219.3 324.5L1219.4 323.7L1219.4 322.9L1219.5 322.1L1219.6 321.3L1219.7 320.5L1219.8 319.8L1219.9 319.0L1219.9 318.2L1220.0 317.5L1220.1 316.7L1220.2 316.0L1220.3 315.1L1220.4 314.2L1220.5 313.2L1220.6 312.3L1220.7 311.3L1220.8 310.4L1220.9 309.4L1221.0 308.5L1221.1 307.6L1221.1 306.6L1221.2 305.7L1221.3 304.8L1221.4 304.0L1221.6 303.1L1221.7 302.3L1221.8 301.5L1221.9 300.8L1222.1 300.1L1222.2 299.4L1222.4 298.8L1222.6 298.2L1222.8 297.7L1223.0 297.2L1223.5 296.3L1224.0 295.5L1224.6 294.8L1225.2 294.4L1225.8 294.3L1226.3 294.5L1226.8 295.1L1227.3 295.8L1227.9 296.7L1228.4 297.6L1229.0 298.4L1229.6 299.0L1230.4 299.4L1231.2 299.6L1232.1 299.8L1232.9 300.0L1233.7 300.4L1234.3 301.0L1234.6 301.5L1234.8 302.0L1235.0 302.6L1235.2 303.3L1235.3 304.1L1235.4 304.9L1235.4 305.7L1235.5 306.6L1235.5 307.5L1235.5 308.4L1235.5 309.4L1235.5 310.3L1235.5 311.3L1235.5 312.3L1235.5 313.2L1235.5 314.2L1235.5 315.1L1235.6 316.0L1235.7 316.8L1235.7 317.6L1235.8 318.3L1235.9 319.1L1235.9 319.9L1236.0 320.7L1236.1 321.6L1236.1 322.4L1236.2 323.2L1236.3 324.0L1236.4 324.8L1236.4 325.7L1236.5 326.5L1236.6 327.3L1236.6 328.2L1236.7 329.0L1236.8 329.8L1236.9 330.7L1236.9 331.5L1237.0 332.4L1237.1 333.2L1237.1 334.1L1237.2 334.9L1237.3 335.7L1237.3 336.5L1237.4 337.3L1237.5 338.1L1237.5 339.0L1237.6 339.8L1237.6 340.7L1237.7 341.5L1237.8 342.4L1237.8 343.2L1237.9 344.1L1237.9 344.9L1238.0 345.8L1238.1 346.6L1238.1 347.5L1238.2 348.3L1238.2 349.1L1238.3 350.0L1238.4 350.8L1238.4 351.6L1238.5 352.3L1238.6 353.1L1238.6 353.9L1238.7 354.6L1238.7 355.3L1238.8 356.0L1238.9 357.0L1239.0 358.0L1239.1 359.1L1239.1 360.1L1239.2 361.2L1239.3 362.3L1239.4 363.3L1239.5 364.2L1239.6 365.1L1239.6 365.8L1239.7 366.4L1239.8 366.9L1239.9 367.2L1240.0 367.3L1240.1 367.2L1240.1 367.1L1240.2 366.8L1240.3 366.4L1240.3 366.0L1240.4 365.4L1240.5 364.8L1240.5 364.1L1240.6 363.4L1240.7 362.5L1240.7 361.7L1240.8 360.7L1240.9 359.8L1240.9 358.8L1241.0 357.7L1241.1 356.7L1241.1 355.6L1241.2 354.5L1241.3 353.4L1241.3 352.3L1241.4 351.2L1241.5 350.2L1241.5 349.1L1241.6 348.1L1241.7 347.1L1241.8 346.1L1241.8 345.2L1241.9 344.3L1242.0 343.5L1242.0 342.7L1242.1 341.8L1242.1 340.8L1242.2 339.9L1242.3 338.9L1242.3 337.9L1242.4 336.9L1242.4 335.8L1242.5 334.8L1242.5 333.7L1242.6 332.6L1242.6 331.6L1242.7 330.5L1242.8 329.5L1242.8 328.5L1242.9 327.5L1242.9 326.5L1243.0 325.5L1243.1 324.6L1243.1 323.7L1243.2 322.9L1243.3 322.1L1243.4 321.4L1243.4 320.7L1243.5 320.1L1243.6 319.6L1243.7 319.1L1243.8 318.7L1243.9 318.3L1244.0 318.1L1244.1 318.0L1244.2 317.9L1244.4 318.0L1244.6 318.2L1244.8 318.6L1245.0 319.2L1245.2 319.9L1245.5 320.6L1245.7 321.5L1246.0 322.5L1246.2 323.5L1246.4 324.6L1246.7 325.7L1246.9 326.8L1247.1 327.9L1247.3 329.0L1247.5 330.0L1247.6 330.6L1247.7 331.2L1247.8 331.9L1247.9 332.6L1248.0 333.3L1248.1 334.0L1248.2 334.7L1248.3 335.4L1248.3 336.2L1248.4 337.0L1248.5 337.8L1248.6 338.6L1248.6 339.4L1248.7 340.2L1248.8 341.0L1248.9 341.9L1248.9 342.7L1249.0 343.6L1249.1 344.4L1249.1 345.3L1249.2 346.2L1249.2 347.1L1249.3 348.0L1249.4 348.8L1249.4 349.7L1249.5 350.6L1249.5 351.5L1249.6 352.4L1249.6 353.3L1249.7 354.2L1249.8 355.0L1249.8 355.9L1249.9 356.8L1249.9 357.7L1250.0 358.5L1250.1 359.4L1250.1 360.2L1250.2 361.0L1250.2 361.8L1250.3 362.7L1250.4 363.4L1250.4 364.2L1250.5 365.0L1250.6 365.9L1250.7 366.8L1250.7 367.6L1250.8 368.5L1250.9 369.4L1251.0 370.3L1251.0 371.2L1251.1 372.1L1251.2 373.0L1251.3 373.9L1251.3 374.8L1251.4 375.7L1251.5 376.6L1251.6 377.5L1251.6 378.4L1251.7 379.2L1251.8 380.1L1251.9 380.9L1251.9 381.8L1252.0 382.6L1252.1 383.4L1252.2 384.2L1252.2 385.0L1252.3 385.8L1252.4 386.6L1252.5 387.3L1252.5 388.1L1252.6 388.8L1252.7 389.5L1252.8 390.1L1252.8 390.8L1252.9 391.4L1253.0 392.0L1253.1 393.1L1253.3 394.3L1253.5 395.5L1253.6 396.6L1253.8 397.7L1253.9 398.6L1254.1 399.4L1254.2 400.1L1254.4 400.5L1254.5 400.6L1254.6 400.5L1254.7 400.4L1254.7 400.1L1254.8 399.8L1254.9 399.3L1254.9 398.8L1255.0 398.2L1255.1 397.6L1255.1 396.8L1255.2 396.1L1255.3 395.2L1255.3 394.3L1255.4 393.4L1255.4 392.4L1255.5 391.4L1255.6 390.4L1255.6 389.4L1255.7 388.3L1255.7 387.2L1255.8 386.2L1255.8 385.1L1255.9 384.0L1255.9 382.9L1256.0 381.9L1256.0 380.9L1256.1 379.9L1256.1 378.9L1256.2 378.0L1256.2 377.3L1256.3 376.6L1256.3 375.8L1256.3 375.1L1256.4 374.3L1256.4 373.5L1256.4 372.7L1256.5 371.9L1256.5 371.1L1256.5 370.3L1256.6 369.5L1256.6 368.6L1256.6 367.8L1256.6 367.0L1256.7 366.1L1256.7 365.3L1256.7 364.4L1256.7 363.5L1256.8 362.7L1256.8 361.8L1256.8 360.9L1256.8 360.1L1256.9 359.2L1256.9 358.4L1256.9 357.5L1256.9 356.7L1256.9 355.8L1257.0 355.0L1257.0 354.1L1257.0 353.3L1257.0 352.5L1257.1 351.6L1257.1 350.8L1257.1 350.0L1257.2 349.2L1257.2 348.4L1257.2 347.7L1257.2 346.9L1257.3 346.2L1257.3 345.4L1257.3 344.7L1257.4 344.0L1257.4 343.3L1257.5 342.7L1257.5 342.0L1257.6 341.0L1257.6 340.0L1257.6 339.0L1257.7 338.1L1257.7 337.1L1257.7 336.1L1257.7 335.2L1257.7 334.3L1257.8 333.4L1257.8 332.5L1257.8 331.6L1257.9 330.8L1257.9 330.0L1258.0 329.2L1258.1 328.5L1258.3 327.8L1258.4 327.1L1258.6 326.5L1258.8 326.0L1259.0 325.5L1259.6 324.7L1260.3 324.1L1261.1 323.6L1261.9 323.1L1262.6 322.5L1263.1 321.9L1263.6 321.1L1264.1 320.2L1264.7 319.3L1265.2 318.4L1265.7 317.6L1266.1 317.0L1266.6 316.6L1267.0 316.5L1267.4 316.7L1267.8 317.2L1268.2 317.9L1268.6 318.8L1268.9 319.8L1269.2 320.9L1269.5 322.0L1269.6 322.5L1269.7 323.1L1269.9 323.7L1270.0 324.3L1270.1 325.0L1270.1 325.7L1270.2 326.5L1270.3 327.2L1270.4 328.0L1270.4 328.9L1270.5 329.7L1270.6 330.5L1270.6 331.4L1270.7 332.3L1270.7 333.2L1270.8 334.1L1270.8 335.0L1270.9 335.9L1270.9 336.8L1271.0 337.8L1271.0 338.7L1271.1 339.6L1271.1 340.5L1271.2 341.4L1271.2 342.3L1271.3 343.1L1271.3 344.0L1271.4 344.8L1271.5 345.6L1271.5 346.4L1271.6 347.2L1271.7 347.9L1271.8 348.8L1271.9 349.8L1272.0 350.7L1272.1 351.7L1272.2 352.6L1272.4 353.6L1272.5 354.6L1272.6 355.5L1272.7 356.4L1272.8 357.3L1272.9 358.2L1273.1 359.1L1273.2 359.9L1273.3 360.7L1273.5 361.4L1273.6 362.1L1273.8 362.7L1274.0 363.3L1274.2 363.8L1274.4 364.3L1275.0 365.4L1275.7 366.1L1276.5 366.5L1277.3 366.6L1278.1 366.5L1278.9 366.0L1279.3 365.6L1279.6 365.1L1279.9 364.5L1280.2 363.8L1280.6 363.1L1280.9 362.3L1281.1 361.4L1281.4 360.5L1281.7 359.6L1282.0 358.7L1282.2 357.8L1282.5 357.0L1282.7 356.2L1282.9 355.4L1283.2 354.6L1283.4 353.7L1283.5 352.8L1283.7 351.8L1283.9 350.9L1284.1 350.0L1284.3 349.1L1284.5 348.3L1284.7 347.5L1284.9 346.8L1285.1 346.1L1285.3 345.5L1285.5 345.0L1286.1 344.0L1286.6 343.3L1287.2 343.0L1287.7 343.3L1288.1 344.0L1288.5 344.9L1288.9 346.1L1289.0 346.5L1289.1 347.0L1289.2 347.5L1289.3 348.0L1289.4 348.6L1289.5 349.2L1289.5 349.9L1289.6 350.6L1289.7 351.3L1289.7 352.1L1289.8 352.8L1289.8 353.7L1289.9 354.5L1289.9 355.3L1290.0 356.2L1290.0 357.1L1290.0 358.0L1290.1 358.9L1290.1 359.8L1290.1 360.8L1290.1 361.7L1290.2 362.6L1290.2 363.6L1290.2 364.5L1290.3 365.5L1290.3 366.4L1290.3 367.4L1290.4 368.3L1290.4 369.2L1290.4 370.1L1290.5 371.0L1290.5 371.9L1290.5 372.7L1290.6 373.6L1290.6 374.4L1290.7 375.2L1290.8 376.1L1290.8 377.0L1290.9 377.9L1290.9 378.9L1291.0 379.9L1291.0 381.0L1291.1 382.0L1291.1 383.1L1291.2 384.2L1291.2 385.3L1291.3 386.4L1291.3 387.4L1291.4 388.5L1291.4 389.6L1291.5 390.6L1291.5 391.6L1291.6 392.6L1291.7 393.6L1291.7 394.5L1291.8 395.3L1291.9 396.1L1291.9 396.9L1292.0 397.6L1292.1 398.3L1292.2 398.8L1292.3 399.3L1292.4 399.8L1292.5 400.1L1292.6 400.4L1292.7 400.5L1292.8 400.6L1293.1 400.4L1293.4 399.9L1293.7 399.2L1294.1 398.2L1294.4 397.2L1294.7 396.1L1295.0 395.0L1295.2 394.4L1295.3 393.7L1295.5 393.0L1295.6 392.3L1295.7 391.5L1295.9 390.8L1296.0 390.0L1296.1 389.2L1296.2 388.3L1296.3 387.5L1296.4 386.6L1296.5 385.7L1296.6 384.8L1296.7 383.9L1296.8 382.9L1296.9 382.0L1297.0 381.0L1297.1 380.0L1297.2 379.3L1297.2 378.7L1297.3 378.0L1297.3 377.3L1297.4 376.6L1297.4 375.9L1297.5 375.2L1297.5 374.4L1297.6 373.7L1297.6 373.0L1297.7 372.2L1297.7 371.4L1297.8 370.7L1297.8 369.9L1297.9 369.1L1297.9 368.3L1297.9 367.5L1298.0 366.7L1298.0 365.9L1298.1 365.1L1298.1 364.2L1298.1 363.4L1298.2 362.6L1298.2 361.7L1298.3 360.9L1298.3 360.0L1298.3 359.2L1298.4 358.3L1298.4 357.5L1298.5 356.6L1298.5 355.7L1298.5 354.9L1298.6 354.0L1298.6 353.1L1298.7 352.3L1298.7 351.4L1298.8 350.5L1298.8 349.6L1298.9 348.8L1298.9 347.9L1298.9 347.2L1299.0 346.4L1299.0 345.6L1299.1 344.9L1299.1 344.1L1299.1 343.3L1299.2 342.5L1299.2 341.7L1299.3 340.9L1299.3 340.1L1299.3 339.3L1299.4 338.5L1299.4 337.7L1299.5 336.8L1299.5 336.0L1299.5 335.2L1299.6 334.3L1299.6 333.5L1299.6 332.7L1299.7 331.8L1299.7 331.0L1299.8 330.1L1299.8 329.3L1299.8 328.4L1299.9 327.6L1299.9 326.7L1300.0 325.9L1300.0 325.0L1300.0 324.2L1300.1 323.3L1300.1 322.5L1300.2 321.6L1300.2 320.8L1300.3 319.9L1300.3 319.1L1300.4 318.2L1300.4 317.4L1300.5 316.6L1300.5 315.7L1300.6 314.9L1300.6 314.1L1300.7 313.3L1300.7 312.5L1300.8 311.7L1300.8 310.9L1300.9 310.1L1301.0 309.3L1301.0 308.5L1301.1 307.8L1301.2 307.0L1301.2 306.2L1301.3 305.5L1301.4 304.8L1301.4 304.0L1301.5 303.3L1301.6 302.6L1301.7 301.7L1301.8 300.8L1301.9 299.9L1302.0 299.0L1302.1 298.1L1302.2 297.2L1302.3 296.3L1302.4 295.5L1302.5 294.6L1302.6 293.7L1302.8 292.9L1302.9 292.0L1303.0 291.1L1303.1 290.3L1303.2 289.5L1303.3 288.6L1303.5 287.8L1303.6 287.0L1303.7 286.2L1303.8 285.4L1304.0 284.6L1304.1 283.8L1304.3 283.1L1304.4 282.3L1304.6 281.6L1304.7 280.8L1304.9 280.1L1305.0 279.4L1305.2 278.7L1305.4 278.0L1305.5 277.3L1305.7 276.7L1305.9 276.0L1306.1 275.4L1306.4 274.5L1306.7 273.6L1307.0 272.7L1307.3 271.9L1307.6 271.1L1308.0 270.3L1308.3 269.5L1308.7 268.7L1309.0 268.0L1309.4 267.3L1309.7 266.6L1310.1 265.9L1310.5 265.3L1310.8 264.7L1311.2 264.1L1311.6 263.6L1312.2 262.8L1312.8 262.0L1313.4 261.2L1314.1 260.5L1314.7 260.0L1315.4 259.7L1316.0 259.6L1316.5 259.7L1317.0 260.0L1317.6 260.5L1318.1 261.0L1318.7 261.7L1319.2 262.5L1319.7 263.3L1320.3 264.2L1320.7 265.2L1321.2 266.2L1321.6 267.2L1321.8 267.7L1322.0 268.2L1322.1 268.8L1322.3 269.4L1322.5 270.0L1322.6 270.7L1322.7 271.3L1322.9 272.0L1323.0 272.8L1323.1 273.5L1323.2 274.2L1323.3 275.0L1323.4 275.8L1323.5 276.6L1323.6 277.4L1323.7 278.3L1323.8 279.1L1323.9 280.0L1323.9 280.8L1324.0 281.7L1324.1 282.6L1324.1 283.5L1324.2 284.4L1324.3 285.3L1324.3 286.2L1324.4 287.1L1324.4 288.0L1324.5 288.9L1324.5 289.8L1324.6 290.7L1324.6 291.6L1324.6 292.5L1324.7 293.4L1324.7 294.3L1324.8 295.2L1324.8 296.1L1324.9 296.9L1324.9 297.8L1324.9 298.6L1325.0 299.4L1325.0 300.3L1325.1 301.1L1325.1 301.8L1325.2 302.6L1325.3 303.5L1325.3 304.3L1325.4 305.1L1325.4 305.9L1325.5 306.7L1325.5 307.5L1325.6 308.3L1325.6 309.1L1325.7 309.9L1325.7 310.7L1325.8 311.4L1325.8 312.2L1325.8 313.0L1325.9 313.7L1325.9 314.5L1325.9 315.2L1326.0 316.0L1326.0 316.8L1326.0 317.5L1326.1 318.3L1326.1 319.1L1326.1 319.9L1326.2 320.7L1326.2 321.4L1326.2 322.2L1326.2 323.1L1326.3 323.9L1326.3 324.7L1326.3 325.6L1326.4 326.4L1326.4 327.3L1326.4 328.2L1326.5 329.1L1326.5 330.0L1326.5 330.7L1326.6 331.4L1326.6 332.1L1326.6 332.8L1326.6 333.5L1326.7 334.2L1326.7 335.0L1326.7 335.7L1326.7 336.5L1326.7 337.2L1326.8 338.0L1326.8 338.7L1326.8 339.5L1326.8 340.3L1326.9 341.1L1326.9 341.8L1326.9 342.6L1326.9 343.4L1327.0 344.2L1327.0 345.0L1327.0 345.8L1327.0 346.6L1327.0 347.5L1327.1 348.3L1327.1 349.1L1327.1 349.9L1327.1 350.7L1327.2 351.6L1327.2 352.4L1327.2 353.2L1327.2 354.1L1327.2 354.9L1327.3 355.7L1327.3 356.6L1327.3 357.4L1327.3 358.3L1327.4 359.1L1327.4 360.0L1327.4 360.8L1327.4 361.7L1327.4 362.5L1327.5 363.3L1327.5 364.2L1327.5 365.0L1327.5 365.9L1327.6 366.7L1327.6 367.6L1327.6 368.4L1327.6 369.3L1327.7 370.1L1327.7 370.9L1327.7 371.8L1327.7 372.6L1327.8 373.4L1327.8 374.3L1327.8 375.1L1327.9 375.9L1327.9 376.7L1327.9 377.6L1327.9 378.4L1328.0 379.2L1328.0 380.0L1328.0 380.8L1328.1 381.6L1328.1 382.4L1328.1 383.2L1328.2 384.0L1328.2 384.8L1328.2 385.6L1328.3 386.4L1328.3 387.2L1328.3 388.0L1328.4 388.8L1328.4 389.6L1328.5 390.4L1328.5 391.2L1328.5 392.0L1328.6 392.8L1328.6 393.6L1328.6 394.4L1328.7 395.2L1328.7 396.0L1328.8 396.8L1328.8 397.5L1328.9 398.3L1328.9 399.1L1328.9 399.9L1329.0 400.7L1329.0 401.5L1329.1 402.3L1329.1 403.1L1329.1 403.9L1329.2 404.7L1329.2 405.5L1329.3 406.3L1329.3 407.1L1329.3 407.9L1329.4 408.7L1329.4 409.5L1329.5 410.3L1329.5 411.1L1329.5 411.9L1329.6 412.7L1329.6 413.5L1329.7 414.3L1329.7 415.1L1329.7 415.9L1329.8 416.8L1329.8 417.6L1329.9 418.4L1329.9 419.2L1329.9 420.0L1330.0 420.8L1330.0 421.7L1330.0 422.5L1330.1 423.3L1330.1 424.1L1330.1 425.0L1330.2 425.8L1330.2 426.6L1330.2 427.5L1330.2 428.3L1330.3 429.2L1330.3 430.0L1330.3 430.8L1330.3 431.5L1330.4 432.3L1330.4 433.1L1330.4 433.9L1330.4 434.6L1330.5 435.4L1330.5 436.2L1330.5 437.0L1330.5 437.8L1330.5 438.6L1330.5 439.4L1330.6 440.1L1330.6 440.9L1330.6 441.7L1330.6 442.5L1330.6 443.3L1330.6 444.1L1330.7 444.9L1330.7 445.7L1330.7 446.5L1330.7 447.3L1330.7 448.1L1330.7 448.9L1330.7 449.7L1330.7 450.5L1330.8 451.4L1330.8 452.2L1330.8 453.0L1330.8 453.8L1330.8 454.6L1330.8 455.4L1330.8 456.2L1330.8 457.0L1330.8 457.8L1330.9 458.7L1330.9 459.5L1330.9 460.3L1330.9 461.1L1330.9 461.9L1330.9 462.7L1330.9 463.6L1330.9 464.4L1330.9 465.2L1330.9 466.0L1331.0 466.8L1331.0 467.7L1331.0 468.5L1331.0 469.3L1331.0 470.1L1331.0 470.9L1331.0 471.8L1331.0 472.6L1331.0 473.4L1331.0 474.2L1331.1 475.0L1331.1 475.9L1331.1 476.7L1331.1 477.5L1331.1 478.3L1331.1 479.1L1331.1 479.9L1331.1 480.8L1331.1 481.6L1331.2 482.4L1331.2 483.2L1331.2 484.0L1331.2 484.8L1331.2 485.6L1331.2 486.5L1331.2 487.3L1331.3 488.1L1331.3 488.9L1331.3 489.7L1331.3 490.5L1331.3 491.3L1331.3 492.1L1331.3 492.9L1331.4 493.7L1331.4 494.5L1331.4 495.3L1331.4 496.1L1331.4 497.0L1331.4 497.8L1331.5 498.6L1331.5 499.4L1331.5 500.2L1331.5 501.0L1331.5 501.8L1331.5 502.6L1331.6 503.4L1331.6 504.2L1331.6 505.0L1331.6 505.8L1331.6 506.6L1331.7 507.4L1331.7 508.2L1331.7 509.1L1331.7 509.9L1331.7 510.7L1331.7 511.5L1331.8 512.3L1331.8 513.1L1331.8 513.9L1331.8 514.7L1331.8 515.5L1331.9 516.3L1331.9 517.1L1331.9 517.9L1331.9 518.7L1331.9 519.5L1331.9 520.3L1332.0 521.2L1332.0 522.0L1332.0 522.8L1332.0 523.6L1332.0 524.4L1332.1 525.2L1332.1 526.0L1332.1 526.8L1332.1 527.6L1332.1 528.4L1332.2 529.2L1332.2 530.0L1332.2 530.8L1332.2 531.6L1332.2 532.4L1332.3 533.3L1332.3 534.1L1332.3 534.9L1332.3 535.7L1332.3 536.5L1332.4 537.3L1332.4 538.1L1332.4 538.9L1332.4 539.7L1332.4 540.5L1332.5 541.3L1332.5 542.1L1332.5 542.9L1332.5 543.7L1332.5 544.5L1332.6 545.4L1332.6 546.2L1332.6 547.0L1332.6 547.8L1332.6 548.6L1332.7 549.4L1332.7 550.2L1332.7 551.0L1332.7 551.8L1332.7 552.6L1332.8 553.4L1332.8 554.2L1332.8 555.0L1332.8 555.8L1332.8 556.7L1332.9 557.5L1332.9 558.3L1332.9 559.1L1332.9 559.9L1333.0 560.7L1333.0 561.5L1333.0 562.3L1333.0 563.1L1333.0 563.9L1333.1 564.7L1333.1 565.5L1333.1 566.4L1333.1 567.2L1333.2 568.0L1333.2 568.8L1333.2 569.6L1333.2 570.4L1333.2 571.2L1333.3 572.0L1333.3 572.8L1333.3 573.6L1333.3 574.4L1333.4 575.2L1333.4 576.1L1333.4 576.9L1333.4 577.7L1333.5 578.5L1333.5 579.3L1333.5 580.1L1333.5 580.9L1333.5 581.7L1333.6 582.5L1333.6 583.3L1333.6 584.1L1333.6 585.0L1333.7 585.8L1333.7 586.6L1333.7 587.4L1333.7 588.2L1333.8 589.0L1333.8 589.8L1333.8 590.6L1333.8 591.4L1333.9 592.2L1333.9 593.0L1333.9 593.8L1333.9 594.6L1333.9 595.4L1334.0 596.2L1334.0 597.1L1334.0 597.9L1334.0 598.7L1334.1 599.5L1334.1 600.3L1334.1 601.1L1334.1 601.9L1334.2 602.7L1334.2 603.5L1334.2 604.3L1334.2 605.1L1334.2 605.9L1334.3 606.7L1334.3 607.5L1334.3 608.3L1334.3 609.1L1334.4 609.9L1334.4 610.7L1334.4 611.5L1334.4 612.3L1334.4 613.1L1334.5 613.9L1334.5 614.7L1334.5 615.5L1334.5 616.4L1334.5 617.2L1334.6 618.0L1334.6 618.8L1334.6 619.6L1334.6 620.4L1334.6 621.2L1334.7 622.0L1334.7 622.8L1334.7 623.6L1334.7 624.4L1334.7 625.3L1334.8 626.1L1334.8 626.9L1334.8 627.7L1334.8 628.5L1334.8 629.3L1334.8 630.1L1334.9 630.9L1334.9 631.7L1334.9 632.5L1334.9 633.3L1334.9 634.2L1334.9 635.0L1335.0 635.8L1335.0 636.6L1335.0 637.4L1335.0 638.2L1335.0 639.0L1335.1 639.8L1335.1 640.6L1335.1 641.4L1335.1 642.2L1335.1 643.0L1335.1 643.8L1335.2 644.6L1335.2 645.4L1335.2 646.2L1335.2 647.0L1335.2 647.8L1335.3 648.6L1335.3 649.4L1335.3 650.2L1335.3 651.0L1335.4 651.8L1335.4 652.6L1335.4 653.4L1335.4 654.2L1335.4 655.0L1335.5 655.8L1335.5 656.6L1335.5 657.4L1335.5 658.2L1335.6 659.0L1335.6 659.8L1335.6 660.6L1335.7 661.4L1335.7 662.2L1335.7 662.9L1335.7 663.7L1335.8 664.5L1335.8 665.3L1335.8 666.1L1335.9 666.9L1335.9 667.7L1335.9 668.4L1336.0 669.2L1336.0 670.0L1336.0 670.8L1336.1 671.7L1336.1 672.5L1336.2 673.3L1336.2 674.1L1336.2 675.0L1336.3 675.8L1336.3 676.6L1336.4 677.5L1336.4 678.3L1336.4 679.1L1336.5 679.9L1336.5 680.8L1336.6 681.6L1336.6 682.4L1336.7 683.2L1336.7 684.1L1336.7 684.9L1336.8 685.7L1336.8 686.5L1336.9 687.4L1336.9 688.2L1337.0 689.0L1337.0 689.8L1337.1 690.6L1337.1 691.5L1337.2 692.3L1337.2 693.1L1337.3 693.9L1337.3 694.7L1337.4 695.5L1337.4 696.3L1337.5 697.2L1337.5 698.0L1337.6 698.8L1337.6 699.6L1337.7 700.4L1337.7 701.2L1337.8 702.0L1337.8 702.8L1337.9 703.6L1338.0 704.4L1338.0 705.2L1338.1 706.0L1338.1 706.8L1338.2 707.6L1338.2 708.4L1338.3 709.2L1338.3 710.0L1338.4 710.8L1338.5 711.6L1338.5 712.3L1338.6 713.1L1338.6 713.9L1338.7 714.7L1338.8 715.5L1338.8 716.2L1338.9 717.0L1338.9 717.8L1339.0 718.6L1339.1 719.3L1339.1 720.1L1339.2 720.9L1339.2 721.6L1339.3 722.4L1339.4 723.3L1339.4 724.1L1339.5 724.9L1339.6 725.8L1339.7 726.6L1339.7 727.5L1339.8 728.3L1339.9 729.1L1340.0 729.9L1340.0 730.8L1340.1 731.6L1340.2 732.4L1340.3 733.2L1340.3 734.0L1340.4 734.9L1340.5 735.7L1340.6 736.5L1340.7 737.3L1340.7 738.1L1340.8 738.9L1340.9 739.7L1341.0 740.5L1341.1 741.3L1341.2 742.1L1341.2 742.9L1341.3 743.7L1341.4 744.5L1341.5 745.3L1341.6 746.1L1341.7 746.9L1341.7 747.7L1341.8 748.5L1341.9 749.3L1342.0 750.0L1342.1 750.8L1342.2 751.6L1342.3 752.4L1342.3 753.2L1342.4 754.0L1342.5 754.8L1342.6 755.6L1342.7 756.4L1342.8 757.2L1342.8 758.0L1342.9 758.8L1343.0 759.6L1343.1 760.4L1343.2 761.2L1343.3 762.0L1343.3 762.8L1343.4 763.6L1343.5 764.4L1343.6 765.2L1343.7 766.0L1343.7 766.8L1343.8 767.7L1343.9 768.5L1344.0 769.3L1344.1 770.1L1344.1 771.0L1344.2 771.8L1344.3 772.6L1344.4 773.5L1344.4 774.3L1344.5 775.1L1344.6 776.0L1344.7 776.8L1344.7 777.6L1344.8 778.5L1344.9 779.3L1345.0 780.2L1345.1 781.0L1345.1 781.8L1345.2 782.7L1345.3 783.5L1345.4 784.4L1345.4 785.2L1345.5 786.0L1345.6 786.9L1345.7 787.7L1345.7 788.5L1345.8 789.3L1345.9 790.2L1346.0 791.0L1346.1 791.8L1346.1 792.6L1346.2 793.4L1346.3 794.2L1346.4 795.0L1346.5 795.8L1346.6 796.6L1346.6 797.4L1346.7 798.1L1346.8 798.9L1346.9 799.7L1347.0 800.4L1347.1 801.2L1347.2 802.0L1347.2 802.7L1347.3 803.4L1347.4 804.2L1347.5 804.9L1347.6 805.6L1347.7 806.3L1347.8 807.2L1348.0 808.2L1348.1 809.2L1348.2 810.2L1348.3 811.3L1348.5 812.4L1348.6 813.4L1348.8 814.5L1348.9 815.6L1349.0 816.7L1349.2 817.8L1349.3 818.8L1349.5 819.9L1349.6 821.0L1349.7 822.0L1349.9 823.0L1350.0 823.9L1350.2 824.8L1350.3 825.7L1350.5 826.6L1350.6 827.3L1350.7 828.1L1350.9 828.7L1351.0 829.4L1351.1 829.9L1351.3 830.4L1351.4 830.8L1351.5 831.1L1351.7 831.3L1351.8 831.5L1351.9 831.5L1352.0 831.4L1352.1 831.3L1352.2 831.1L1352.4 830.8L1352.5 830.4L1352.6 829.9L1352.7 829.3L1352.8 828.7L1352.9 828.1L1353.0 827.3L1353.1 826.5L1353.2 825.7L1353.3 824.8L1353.4 823.9L1353.5 822.9L1353.6 821.9L1353.7 820.9L1353.8 819.9L1353.9 818.8L1354.0 817.8L1354.1 816.7L1354.2 815.6L1354.3 814.5L1354.4 813.4L1354.5 812.3L1354.6 811.3L1354.7 810.2L1354.8 809.2L1354.8 808.2L1354.9 807.2L1355.0 806.3L1355.1 805.6L1355.1 804.9L1355.2 804.2L1355.2 803.4L1355.3 802.7L1355.3 801.9L1355.4 801.2L1355.5 800.4L1355.5 799.7L1355.6 798.9L1355.6 798.1L1355.7 797.4L1355.7 796.6L1355.7 795.8L1355.8 795.0L1355.8 794.2L1355.9 793.4L1355.9 792.6L1356.0 791.8L1356.0 791.0L1356.1 790.1L1356.1 789.3L1356.1 788.5L1356.2 787.7L1356.2 786.9L1356.3 786.0L1356.3 785.2L1356.3 784.4L1356.4 783.5L1356.4 782.7L1356.4 781.8L1356.5 781.0L1356.5 780.2L1356.5 779.3L1356.6 778.5L1356.6 777.6L1356.6 776.8L1356.7 776.0L1356.7 775.1L1356.7 774.3L1356.8 773.5L1356.8 772.6L1356.8 771.8L1356.9 771.0L1356.9 770.1L1356.9 769.3L1357.0 768.5L1357.0 767.7L1357.0 766.8L1357.0 766.0L1357.1 765.2L1357.1 764.4L1357.1 763.6L1357.2 762.8L1357.2 762.0L1357.2 761.2L1357.2 760.4L1357.3 759.6L1357.3 758.8L1357.3 758.0L1357.3 757.2L1357.4 756.4L1357.4 755.6L1357.4 754.8L1357.4 754.0L1357.4 753.2L1357.4 752.4L1357.5 751.6L1357.5 750.8L1357.5 750.0L1357.5 749.3L1357.5 748.5L1357.6 747.7L1357.6 746.9L1357.6 746.1L1357.6 745.3L1357.6 744.5L1357.6 743.7L1357.6 742.9L1357.7 742.1L1357.7 741.3L1357.7 740.5L1357.7 739.7L1357.7 738.9L1357.7 738.1L1357.7 737.3L1357.8 736.5L1357.8 735.7L1357.8 734.9L1357.8 734.0L1357.8 733.2L1357.8 732.4L1357.9 731.6L1357.9 730.8L1357.9 729.9L1357.9 729.1L1357.9 728.3L1358.0 727.5L1358.0 726.6L1358.0 725.8L1358.0 724.9L1358.1 724.1L1358.1 723.3L1358.1 722.4L1358.1 721.6L1358.1 720.9L1358.2 720.1L1358.2 719.3L1358.2 718.5L1358.2 717.8L1358.3 717.0L1358.3 716.2L1358.3 715.4L1358.3 714.6L1358.4 713.8L1358.4 713.0L1358.4 712.2L1358.5 711.3L1358.5 710.5L1358.5 709.7L1358.5 708.9L1358.6 708.1L1358.6 707.3L1358.6 706.4L1358.7 705.6L1358.7 704.8L1358.7 704.0L1358.7 703.1L1358.8 702.3L1358.8 701.5L1358.8 700.6L1358.9 699.8L1358.9 699.0L1358.9 698.1L1359.0 697.3L1359.0 696.5L1359.0 695.6L1359.0 694.8L1359.1 694.0L1359.1 693.1L1359.1 692.3L1359.2 691.5L1359.2 690.7L1359.2 689.8L1359.3 689.0L1359.3 688.2L1359.3 687.4L1359.4 686.5L1359.4 685.7L1359.4 684.9L1359.5 684.1L1359.5 683.3L1359.5 682.5L1359.5 681.7L1359.6 680.9L1359.6 680.1L1359.6 679.3L1359.7 678.5L1359.7 677.7L1359.7 676.9L1359.8 676.1L1359.8 675.3L1359.8 674.6L1359.9 673.8L1359.9 673.0L1359.9 672.3L1359.9 671.5L1360.0 670.7L1360.0 670.0L1360.0 669.1L1360.1 668.3L1360.1 667.5L1360.1 666.6L1360.2 665.8L1360.2 665.0L1360.2 664.2L1360.3 663.4L1360.3 662.6L1360.3 661.8L1360.4 661.0L1360.4 660.2L1360.4 659.4L1360.5 658.6L1360.5 657.9L1360.5 657.1L1360.6 656.3L1360.6 655.5L1360.6 654.8L1360.7 654.0L1360.7 653.3L1360.7 652.5L1360.8 651.7L1360.8 651.0L1360.8 650.2L1360.9 649.4L1360.9 648.7L1360.9 647.9L1361.0 647.1L1361.0 646.4L1361.0 645.6L1361.1 644.8L1361.1 644.0L1361.1 643.3L1361.2 642.5L1361.2 641.7L1361.2 640.9L1361.3 640.1L1361.3 639.3L1361.3 638.4L1361.4 637.6L1361.4 636.8L1361.4 635.9L1361.5 635.1L1361.5 634.2L1361.5 633.4L1361.6 632.5L1361.6 631.6L1361.6 630.9L1361.7 630.2L1361.7 629.4L1361.7 628.7L1361.7 627.9L1361.8 627.2L1361.8 626.4L1361.8 625.7L1361.8 624.9L1361.9 624.2L1361.9 623.4L1361.9 622.6L1361.9 621.8L1362.0 621.1L1362.0 620.3L1362.0 619.5L1362.0 618.7L1362.1 617.9L1362.1 617.1L1362.1 616.3L1362.1 615.5L1362.1 614.7L1362.2 613.8L1362.2 613.0L1362.2 612.2L1362.2 611.4L1362.3 610.6L1362.3 609.7L1362.3 608.9L1362.3 608.1L1362.4 607.2L1362.4 606.4L1362.4 605.6L1362.4 604.7L1362.5 603.9L1362.5 603.1L1362.5 602.2L1362.5 601.4L1362.6 600.5L1362.6 599.7L1362.6 598.9L1362.6 598.0L1362.7 597.2L1362.7 596.3L1362.7 595.5L1362.7 594.7L1362.8 593.8L1362.8 593.0L1362.8 592.1L1362.8 591.3L1362.9 590.5L1362.9 589.6L1362.9 588.8L1362.9 587.9L1363.0 587.1L1363.0 586.3L1363.0 585.5L1363.1 584.6L1363.1 583.8L1363.1 583.0L1363.1 582.2L1363.2 581.3L1363.2 580.5L1363.2 579.7L1363.3 578.9L1363.3 578.1L1363.3 577.3L1363.4 576.5L1363.4 575.7L1363.4 574.9L1363.5 574.1L1363.5 573.3L1363.5 572.5L1363.6 571.8L1363.6 571.0L1363.6 570.2L1363.7 569.3L1363.7 568.5L1363.8 567.6L1363.8 566.8L1363.8 565.9L1363.9 565.1L1363.9 564.2L1364.0 563.4L1364.0 562.6L1364.1 561.7L1364.1 560.9L1364.2 560.0L1364.2 559.2L1364.3 558.4L1364.3 557.5L1364.4 556.7L1364.4 555.9L1364.5 555.1L1364.5 554.2L1364.6 553.4L1364.6 552.6L1364.7 551.8L1364.7 550.9L1364.8 550.1L1364.8 549.3L1364.9 548.5L1364.9 547.7L1365.0 546.8L1365.0 546.0L1365.1 545.2L1365.1 544.4L1365.2 543.6L1365.2 542.8L1365.3 542.0L1365.3 541.2L1365.4 540.4L1365.4 539.6L1365.5 538.7L1365.5 537.9L1365.6 537.1L1365.7 536.3L1365.7 535.6L1365.8 534.8L1365.8 534.0L1365.9 533.2L1365.9 532.4L1366.0 531.6L1366.0 530.8L1366.1 530.0L1366.1 529.2L1366.1 528.4L1366.2 527.7L1366.2 526.9L1366.3 526.1L1366.3 525.3L1366.4 524.6L1366.4 523.8L1366.5 523.0L1366.5 522.2L1366.6 521.5L1366.6 520.7L1366.6 519.9L1366.7 519.0L1366.7 518.2L1366.8 517.3L1366.8 516.5L1366.9 515.6L1366.9 514.8L1367.0 513.9L1367.0 513.1L1367.0 512.3L1367.1 511.4L1367.1 510.6L1367.2 509.8L1367.2 508.9L1367.2 508.1L1367.3 507.3L1367.3 506.5L1367.4 505.6L1367.4 504.8L1367.4 504.0L1367.5 503.2L1367.5 502.4L1367.5 501.5L1367.6 500.7L1367.6 499.9L1367.7 499.1L1367.7 498.3L1367.7 497.5L1367.8 496.7L1367.8 495.9L1367.8 495.1L1367.9 494.3L1367.9 493.5L1368.0 492.7L1368.0 491.9L1368.0 491.1L1368.1 490.4L1368.1 489.6L1368.2 488.8L1368.2 488.0L1368.2 487.3L1368.3 486.5L1368.3 485.7L1368.3 484.9L1368.4 484.2L1368.4 483.4L1368.5 482.7L1368.5 481.9L1368.6 481.2L1368.6 480.4L1368.6 479.5L1368.7 478.7L1368.7 477.8L1368.8 476.9L1368.8 476.1L1368.9 475.2L1368.9 474.3L1369.0 473.4L1369.0 472.5L1369.1 471.7L1369.1 470.8L1369.1 469.9L1369.2 469.0L1369.2 468.2L1369.3 467.3L1369.3 466.4L1369.4 465.6L1369.4 464.7L1369.5 463.9L1369.5 463.1L1369.6 462.2L1369.6 461.4L1369.7 460.6L1369.7 459.8L1369.8 459.0L1369.8 458.2L1369.9 457.5L1369.9 456.7L1370.0 456.0L1370.0 455.2L1370.1 454.5L1370.2 453.8L1370.2 453.1L1370.3 452.5L1370.4 451.8L1370.4 451.2L1370.5 450.6L1370.6 450.0L1370.7 449.0L1370.9 448.0L1371.0 447.0L1371.1 446.1L1371.3 445.2L1371.4 444.4L1371.5 443.6L1371.7 442.8L1371.9 442.1L1372.1 441.4L1372.4 440.7L1372.7 440.0L1373.1 439.3L1373.6 438.6L1374.2 438.1L1374.8 437.6L1375.4 437.0L1375.9 436.4L1376.4 435.7L1376.9 434.8L1377.1 434.3L1377.3 433.8L1377.5 433.2L1377.6 432.6L1377.8 432.0L1377.9 431.3L1378.1 430.6L1378.2 429.9L1378.3 429.2L1378.4 428.4L1378.5 427.6L1378.6 426.8L1378.7 426.0L1378.8 425.2L1378.9 424.3L1379.0 423.5L1379.1 422.6L1379.1 421.7L1379.2 420.8L1379.3 419.9L1379.3 419.0L1379.4 418.1L1379.5 417.2L1379.6 416.3L1379.6 415.3L1379.7 414.4L1379.8 413.5L1379.8 412.6L1379.9 411.7L1380.0 410.8L1380.1 409.9L1380.2 409.0L1380.3 408.3L1380.4 407.5L1380.4 406.8L1380.5 406.0L1380.6 405.3L1380.7 404.5L1380.8 403.7L1380.8 402.9L1380.9 402.1L1381.0 401.3L1381.1 400.5L1381.2 399.7L1381.2 398.9L1381.3 398.1L1381.4 397.3L1381.5 396.5L1381.6 395.7L1381.6 394.8L1381.7 394.0L1381.8 393.2L1381.9 392.4L1382.0 391.5L1382.0 390.7L1382.1 389.9L1382.2 389.0L1382.3 388.2L1382.3 387.4L1382.4 386.5L1382.5 385.7L1382.6 384.9L1382.6 384.0L1382.7 383.2L1382.8 382.4L1382.9 381.6L1382.9 380.8L1383.0 380.0L1383.1 379.1L1383.1 378.3L1383.2 377.5L1383.3 376.7L1383.4 376.0L1383.4 375.2L1383.5 374.4L1383.6 373.6L1383.6 372.9L1383.7 372.1L1383.8 371.2L1383.8 370.4L1383.9 369.5L1384.0 368.7L1384.0 367.8L1384.1 366.9L1384.2 366.0L1384.2 365.2L1384.3 364.3L1384.3 363.4L1384.4 362.6L1384.5 361.7L1384.5 360.8L1384.6 360.0L1384.6 359.1L1384.7 358.2L1384.7 357.4L1384.8 356.6L1384.8 355.7L1384.9 354.9L1384.9 354.1L1385.0 353.3L1385.1 352.4L1385.1 351.7L1385.2 350.9L1385.3 350.1L1385.3 349.3L1385.4 348.6L1385.5 347.8L1385.6 347.1L1385.6 346.4L1385.7 345.7L1385.8 345.0L1385.9 344.4L1386.0 343.7L1386.1 343.1L1386.3 342.1L1386.4 341.1L1386.5 340.1L1386.7 339.1L1386.8 338.1L1387.0 337.2L1387.1 336.3L1387.3 335.5L1387.5 334.7L1387.7 333.9L1388.0 333.2L1388.3 332.6L1388.6 332.0L1389.0 331.5L1389.6 331.0L1390.4 330.7L1391.2 330.5L1392.1 330.4L1392.9 330.3L1393.7 330.0L1394.4 329.5L1394.8 329.0L1395.2 328.4L1395.5 327.8L1395.8 327.1L1396.1 326.3L1396.3 325.5L1396.6 324.6L1396.8 323.7L1397.0 322.9L1397.2 322.0L1397.4 321.2L1397.7 320.4L1397.9 319.6L1398.2 318.9L1398.6 318.0L1398.9 317.2L1399.3 316.3L1399.6 315.5L1400.0 314.6L1400.4 313.9L1400.7 313.2L1401.2 312.6L1401.6 312.1L1402.3 311.5L1403.1 311.0L1403.9 310.7L1404.6 310.7L1405.1 311.0L1405.7 311.5L1406.2 312.2L1406.7 313.0L1407.1 314.0L1407.5 315.0L1407.9 316.0L1408.1 316.6L1408.2 317.2L1408.4 317.9L1408.5 318.6L1408.6 319.3L1408.7 320.1L1408.8 320.9L1408.8 321.7L1408.9 322.6L1408.9 323.4L1409.0 324.3L1409.0 325.2L1409.0 326.1L1409.1 327.0L1409.1 327.9L1409.1 328.8L1409.2 329.7L1409.2 330.7L1409.3 331.6L1409.3 332.5L1409.4 333.4L1409.5 334.1L1409.5 334.9L1409.6 335.7L1409.6 336.5L1409.7 337.3L1409.8 338.1L1409.8 338.9L1409.9 339.7L1409.9 340.5L1410.0 341.3L1410.0 342.2L1410.1 343.0L1410.2 343.9L1410.2 344.7L1410.3 345.5L1410.3 346.4L1410.4 347.2L1410.5 348.1L1410.5 348.9L1410.6 349.7L1410.6 350.6L1410.7 351.4L1410.8 352.2L1410.8 353.0L1410.9 353.8L1411.0 354.6L1411.1 355.4L1411.1 356.1L1411.2 356.9L1411.3 357.6L1411.4 358.5L1411.5 359.5L1411.6 360.4L1411.7 361.4L1411.8 362.3L1411.9 363.3L1411.9 364.3L1412.0 365.2L1412.1 366.2L1412.2 367.1L1412.3 368.0L1412.4 368.9L1412.6 369.7L1412.7 370.5L1412.8 371.2L1413.0 371.9L1413.1 372.6L1413.3 373.1L1413.5 373.7L1413.7 374.1L1414.3 375.1L1415.1 375.8L1415.7 376.0L1415.9 375.8L1416.1 375.5L1416.2 375.1L1416.4 374.5L1416.5 373.9L1416.6 373.1L1416.7 372.3L1416.8 371.4L1416.9 370.4L1417.0 369.4L1417.0 368.4L1417.1 367.3L1417.2 366.3L1417.3 365.3L1417.4 364.3L1417.5 363.3L1417.6 362.4L1417.7 361.7L1417.8 360.9L1417.9 360.1L1418.0 359.4L1418.1 358.6L1418.3 357.8L1418.4 357.0L1418.5 356.2L1418.6 355.4L1418.7 354.6L1418.8 353.8L1418.9 353.0L1419.1 352.1L1419.2 351.3L1419.3 350.5L1419.4 349.7L1419.6 348.8L1419.7 348.0L1419.8 347.2L1420.0 346.4L1420.1 345.5L1420.2 344.7L1420.4 343.9L1420.5 343.1L1420.6 342.3L1420.8 341.5L1420.9 340.7L1421.1 339.8L1421.2 339.0L1421.4 338.2L1421.6 337.4L1421.7 336.6L1421.9 335.7L1422.0 334.9L1422.2 334.1L1422.4 333.3L1422.5 332.5L1422.7 331.7L1422.9 330.9L1423.0 330.0L1423.2 329.2L1423.4 328.4L1423.6 327.6L1423.7 326.8L1423.9 326.0L1424.1 325.3L1424.2 324.5L1424.4 323.7L1424.6 322.9L1424.8 322.1L1424.9 321.3L1425.1 320.4L1425.3 319.6L1425.4 318.8L1425.6 318.0L1425.8 317.2L1426.0 316.4L1426.1 315.6L1426.3 314.8L1426.5 314.0L1426.7 313.3L1426.9 312.5L1427.0 311.7L1427.2 311.0L1427.4 310.2L1427.6 309.5L1427.8 308.7L1428.0 308.0L1428.2 307.3L1428.4 306.4L1428.7 305.6L1428.9 304.7L1429.2 303.8L1429.4 302.9L1429.6 302.1L1429.9 301.2L1430.2 300.4L1430.4 299.6L1430.7 298.8L1430.9 298.1L1431.2 297.4L1431.5 296.7L1431.8 296.1L1432.1 295.6L1432.7 294.7L1433.2 293.9L1433.8 293.3L1434.4 292.8L1435.0 292.7L1435.5 292.9L1436.0 293.4L1436.5 294.0L1437.0 294.9L1437.5 295.7L1437.9 296.6L1438.2 297.2L1438.5 297.9L1438.7 298.7L1438.9 299.5L1439.1 300.3L1439.3 301.2L1439.5 302.0L1439.8 302.9L1440.0 303.8L1440.2 304.6L1440.5 305.5L1440.8 306.3L1441.1 307.1L1441.4 307.8L1441.8 308.6L1442.1 309.4L1442.5 310.2L1442.9 311.0L1443.3 311.7L1443.7 312.5L1444.1 313.2L1444.5 314.0L1444.9 314.7L1445.3 315.4L1445.7 316.0L1446.2 316.8L1446.7 317.5L1447.3 318.3L1447.8 319.0L1448.4 319.7L1448.9 320.3L1449.5 320.9L1450.0 321.4L1450.5 321.8L1451.4 322.3L1452.2 322.7L1453.0 323.0" fill="none" stroke="#0a64dc" stroke-width="4.8" stroke-linejoin="round" stroke-linecap="butt"/>
</g>
<rect x="196.00" y="35.80" width="4.00" height="1017.20" fill="#000"/>
<rect x="1453.10" y="35.80" width="4.90" height="1017.20" fill="#000"/>
<rect x="196.00" y="35.80" width="1262.00" height="4.20" fill="#000"/>
<rect x="196.00" y="1049.00" width="1262.00" height="4.00" fill="#000"/>
<line x1="1177.8" y1="73.2" x2="1281" y2="73.2" stroke="#434343" stroke-width="5.2"/>
<text transform="translate(1290.90 88.10) scale(1 1.04)" class="t" text-anchor="start" style="font-size:44.9px">C4PEG</text>
<line x1="1177.8" y1="127.6" x2="1281" y2="127.6" stroke="#fb3535" stroke-width="5.2"/>
<text transform="translate(1290.90 142.50) scale(1 1.04)" class="t" text-anchor="start" style="font-size:44.9px">C5PEG</text>
<line x1="1177.8" y1="182.6" x2="1281" y2="182.6" stroke="#0a64dc" stroke-width="5.2"/>
<text transform="translate(1290.90 197.50) scale(1 1.04)" class="t" text-anchor="start" style="font-size:44.9px">C6PEG</text>
<text transform="translate(197.60 1117.50) scale(1 1.04)" class="t" text-anchor="middle" style="font-size:43.5px">4000</text>
<text transform="translate(397.10 1117.50) scale(1 1.04)" class="t" text-anchor="middle" style="font-size:43.5px">3500</text>
<text transform="translate(596.60 1117.50) scale(1 1.04)" class="t" text-anchor="middle" style="font-size:43.5px">3000</text>
<text transform="translate(796.10 1117.50) scale(1 1.04)" class="t" text-anchor="middle" style="font-size:43.5px">2500</text>
<text transform="translate(995.60 1117.50) scale(1 1.04)" class="t" text-anchor="middle" style="font-size:43.5px">2000</text>
<text transform="translate(1195.10 1117.50) scale(1 1.04)" class="t" text-anchor="middle" style="font-size:43.5px">1500</text>
<text transform="translate(1394.60 1117.50) scale(1 1.04)" class="t" text-anchor="middle" style="font-size:43.5px">1000</text>
<text transform="translate(164.90 1063.30) scale(1 1.04)" class="t" text-anchor="end" style="font-size:43.5px">40</text>
<text transform="translate(164.90 773.80) scale(1 1.04)" class="t" text-anchor="end" style="font-size:43.5px">60</text>
<text transform="translate(164.90 484.30) scale(1 1.04)" class="t" text-anchor="end" style="font-size:43.5px">80</text>
<text transform="translate(164.90 194.80) scale(1 1.04)" class="t" text-anchor="end" style="font-size:43.5px">100</text>
<text transform="translate(827.10 1204.90) scale(1 1.04)" class="t" text-anchor="middle" style="font-size:52.7px">Wavenumber (cm<tspan dy="-20.1" style="font-size:35.6px">-1</tspan><tspan dy="20.1">)</tspan></text>
<text transform="translate(70.90 543.40) rotate(-90) scale(1 1.04)" class="t" text-anchor="middle" style="font-size:52.8px">Transmittance (%)</text>
<line x1="375.8" y1="572.0" x2="398.1" y2="488.5" stroke="#ff8000" stroke-width="4.3"/><polygon points="406.9,455.7 406.8,491.9 388.9,487.1" fill="#ff8000"/>
<line x1="568.1" y1="786.6" x2="592.4" y2="729.7" stroke="#ff8000" stroke-width="4.3"/><polygon points="605.7,698.4 600.5,734.2 583.5,727.0" fill="#ff8000"/>
<line x1="1234.8" y1="893.5" x2="1293.8" y2="828.5" stroke="#ff8000" stroke-width="4.3"/><polygon points="1316.7,803.3 1300.0,835.4 1286.3,823.0" fill="#ff8000"/>
<text transform="translate(316.20 622.20) scale(1 1.04)" class="t" text-anchor="start" style="font-size:43.6px">O−H</text>
<text transform="translate(499.00 828.90) scale(1 1.04)" class="t" text-anchor="start" style="font-size:43.6px">−C−H</text>
<text transform="translate(1178.00 936.00) scale(1 1.04)" class="t" text-anchor="start" style="font-size:43.6px">C−O</text>
</svg>
</body>
</html>
